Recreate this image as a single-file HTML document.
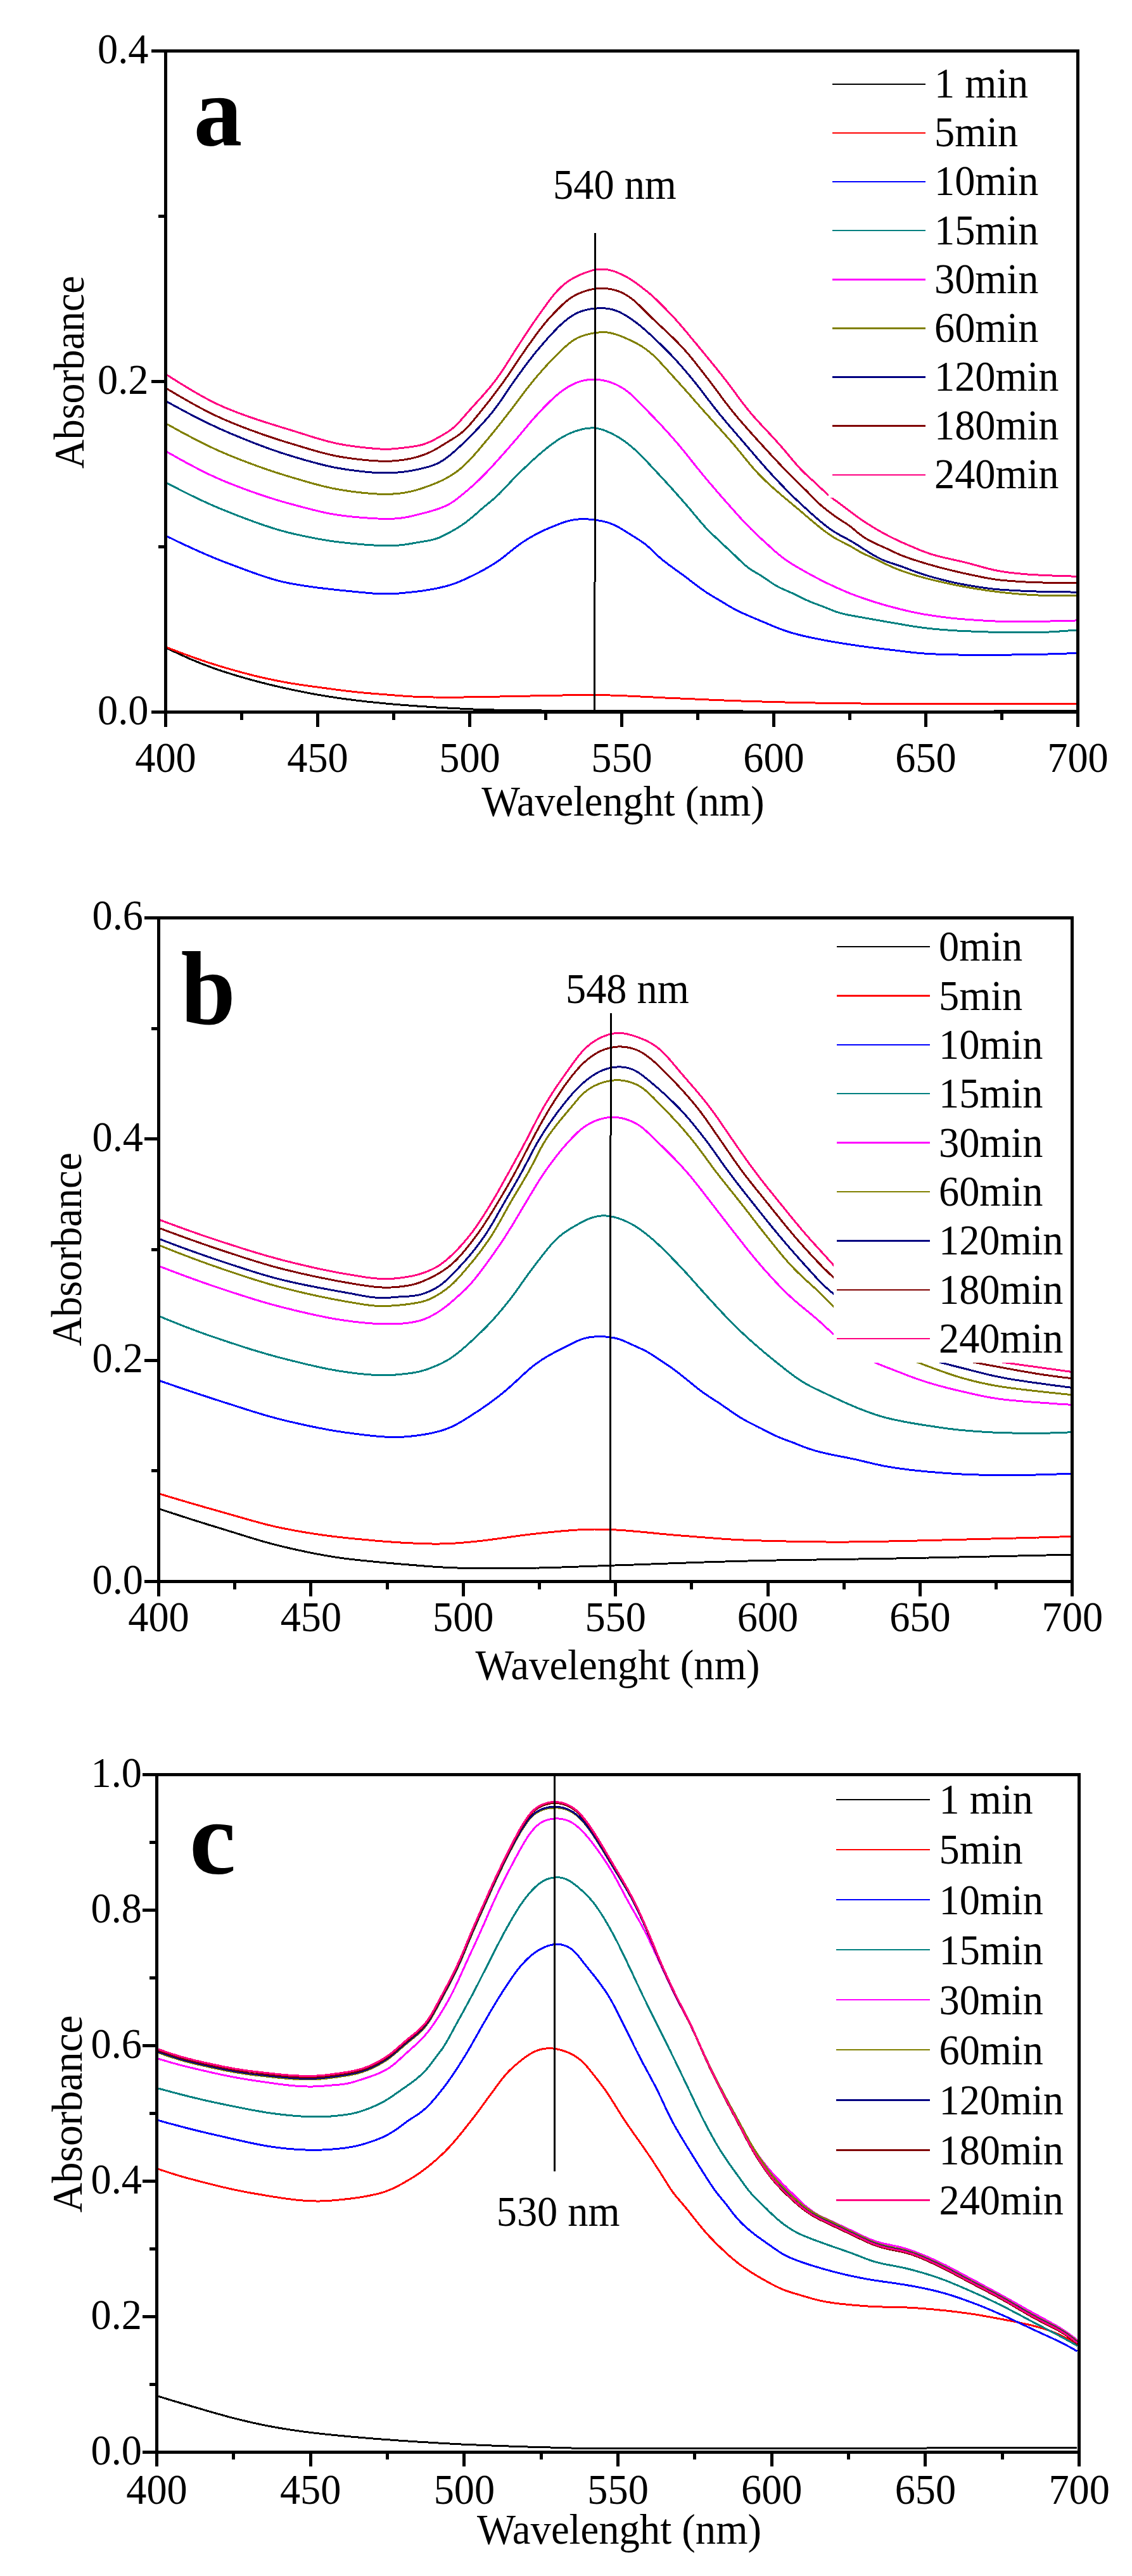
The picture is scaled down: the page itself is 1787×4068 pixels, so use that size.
<!DOCTYPE html>
<html><head><meta charset="utf-8"><title>UV-Vis absorbance spectra</title>
<style>
html,body{margin:0;padding:0;background:#fff;}
svg{display:block;}
text{font-family:"Liberation Serif","Times New Roman",serif;fill:#000;}
</style></head><body>
<svg width="1787" height="4068" viewBox="0 0 1787 4068" shape-rendering="crispEdges" font-family="Liberation Serif, Times New Roman, serif">
<rect width="1787" height="4068" fill="#fff"/>
<polyline points="262.0,1023.0 264.7,1024.3 267.4,1025.6 270.1,1026.9 272.8,1028.2 275.6,1029.4 278.3,1030.7 281.0,1032.0 283.7,1033.2 286.4,1034.5 289.2,1035.7 291.9,1036.9 294.7,1038.2 297.4,1039.4 300.2,1040.6 302.9,1041.7 305.7,1042.9 308.4,1044.1 311.2,1045.2 314.0,1046.3 316.8,1047.5 319.6,1048.6 322.4,1049.7 325.2,1050.7 328.0,1051.8 330.8,1052.8 333.6,1053.9 336.4,1054.9 339.3,1055.9 342.1,1056.9 344.9,1057.9 347.8,1058.8 350.6,1059.8 353.5,1060.7 356.3,1061.6 359.2,1062.5 362.0,1063.4 364.9,1064.3 367.8,1065.2 370.6,1066.1 373.5,1067.0 376.4,1067.8 379.3,1068.7 382.2,1069.5 385.0,1070.3 387.9,1071.2 390.8,1072.0 393.7,1072.8 396.6,1073.6 399.5,1074.4 402.4,1075.1 405.3,1075.9 408.2,1076.7 411.1,1077.4 414.0,1078.2 416.9,1078.9 419.8,1079.6 422.7,1080.4 425.6,1081.1 428.6,1081.8 431.5,1082.5 434.4,1083.2 437.3,1083.9 440.2,1084.6 443.2,1085.2 446.1,1085.9 449.0,1086.5 451.9,1087.2 454.9,1087.8 457.8,1088.5 460.7,1089.1 463.7,1089.7 466.6,1090.3 469.6,1090.9 472.5,1091.5 475.4,1092.1 478.4,1092.7 481.3,1093.3 484.3,1093.9 487.2,1094.4 490.2,1095.0 493.1,1095.6 496.1,1096.1 499.0,1096.6 502.0,1097.2 504.9,1097.7 507.9,1098.2 510.8,1098.7 513.8,1099.1 516.8,1099.6 519.7,1100.1 522.7,1100.5 525.7,1101.0 528.6,1101.4 531.6,1101.9 534.6,1102.3 537.5,1102.7 540.5,1103.2 543.5,1103.6 546.5,1104.0 549.4,1104.4 552.4,1104.8 555.4,1105.1 558.4,1105.5 561.3,1105.9 564.3,1106.2 567.3,1106.6 570.3,1106.9 573.3,1107.3 576.2,1107.6 579.2,1108.0 582.2,1108.3 585.2,1108.6 588.2,1108.9 591.2,1109.2 594.1,1109.6 597.1,1109.9 600.1,1110.1 603.1,1110.4 606.1,1110.7 609.1,1111.0 612.1,1111.3 615.0,1111.6 618.0,1111.8 621.0,1112.1 624.0,1112.3 627.0,1112.6 630.0,1112.8 633.0,1113.1 636.0,1113.3 639.0,1113.6 642.0,1113.8 645.0,1114.0 647.9,1114.3 650.9,1114.5 653.9,1114.7 656.9,1114.9 659.9,1115.1 662.9,1115.3 665.9,1115.5 668.9,1115.7 671.9,1115.9 674.9,1116.1 677.9,1116.3 680.9,1116.5 683.9,1116.7 686.9,1116.9 689.9,1117.1 692.9,1117.2 695.9,1117.4 698.8,1117.6 701.8,1117.7 704.8,1117.9 707.8,1118.1 710.8,1118.2 713.8,1118.4 716.8,1118.6 719.8,1118.7 722.8,1118.9 725.8,1119.0 728.8,1119.2 731.8,1119.4 734.8,1119.5 737.8,1119.6 740.8,1119.8 743.8,1119.9 746.8,1120.0 749.8,1120.2 752.8,1120.3 755.8,1120.4 758.8,1120.5 761.8,1120.6 764.8,1120.6 767.8,1120.7 770.8,1120.8 773.8,1120.8 776.8,1120.9 779.8,1121.0 782.8,1121.0 785.8,1121.1 788.8,1121.1 791.8,1121.2 794.8,1121.2 797.8,1121.3 800.8,1121.3 803.8,1121.4 806.8,1121.4 809.8,1121.5 812.8,1121.5 815.8,1121.6 818.8,1121.6 821.8,1121.6 824.8,1121.7 827.8,1121.7 830.8,1121.8 833.8,1121.8 836.8,1121.8 839.8,1121.8 842.8,1121.9 845.8,1121.9 848.8,1121.9 851.8,1121.9 854.8,1122.0 857.8,1122.0 860.8,1122.0 863.8,1122.0 866.8,1122.0 869.8,1122.0 872.8,1122.0 875.8,1122.1 878.8,1122.1 881.8,1122.1 884.8,1122.1 887.8,1122.1 890.8,1122.1 893.8,1122.1 896.8,1122.1 899.8,1122.1 902.8,1122.2 905.8,1122.2 908.8,1122.2 911.8,1122.2 914.8,1122.2 917.8,1122.2 920.8,1122.2 923.8,1122.2 926.8,1122.2 929.8,1122.3 932.8,1122.3 935.8,1122.3 938.8,1122.3 941.8,1122.3 944.8,1122.3 947.8,1122.3 950.8,1122.3 953.8,1122.3 956.8,1122.3 959.8,1122.4 962.8,1122.4 965.8,1122.4 968.8,1122.4 971.8,1122.4 974.8,1122.4 977.8,1122.4 980.8,1122.4 983.8,1122.4 986.8,1122.4 989.8,1122.5 992.8,1122.5 995.8,1122.5 998.8,1122.5 1001.8,1122.5 1004.8,1122.5 1007.8,1122.5 1010.8,1122.5 1013.8,1122.5 1016.8,1122.5 1019.8,1122.6 1022.8,1122.6 1025.8,1122.6 1028.8,1122.6 1031.8,1122.6 1034.8,1122.6 1037.8,1122.6 1040.8,1122.6 1043.8,1122.6 1046.8,1122.6 1049.8,1122.6 1052.8,1122.7 1055.8,1122.7 1058.8,1122.7 1061.8,1122.7 1064.8,1122.7 1067.8,1122.7 1070.9,1122.7 1073.9,1122.7 1076.9,1122.7 1079.9,1122.7 1082.9,1122.7 1085.9,1122.7 1088.9,1122.8 1091.9,1122.8 1094.9,1122.8 1097.9,1122.8 1100.9,1122.8 1103.9,1122.8 1106.9,1122.8 1109.9,1122.8 1112.9,1122.8 1115.9,1122.8 1118.9,1122.8 1121.9,1122.8 1124.9,1122.8 1127.9,1122.9 1130.9,1122.9 1133.9,1122.9 1136.9,1122.9 1139.9,1122.9 1142.9,1122.9 1145.9,1122.9 1148.9,1122.9 1151.9,1122.9 1154.9,1122.9 1157.9,1122.9 1160.9,1122.9 1163.9,1122.9 1166.9,1122.9 1169.9,1122.9 1172.9,1123.0 1175.9,1123.0 1178.9,1123.0 1181.9,1123.0 1184.9,1123.0 1187.9,1123.0 1190.9,1123.0 1193.9,1123.0 1196.9,1123.0 1199.9,1123.0 1202.9,1123.0 1205.9,1123.0 1208.9,1123.0 1211.9,1123.0 1214.9,1123.0 1217.9,1123.0 1220.9,1123.0 1223.9,1123.0 1226.9,1123.1 1229.9,1123.1 1232.9,1123.1 1235.9,1123.1 1238.9,1123.1 1241.9,1123.1 1244.9,1123.1 1247.9,1123.1 1250.9,1123.1 1253.9,1123.1 1256.9,1123.1 1259.9,1123.1 1262.9,1123.1 1265.9,1123.1 1268.9,1123.1 1271.9,1123.1 1274.9,1123.1 1277.9,1123.1 1280.9,1123.1 1283.9,1123.1 1286.9,1123.1 1289.9,1123.1 1292.9,1123.1 1295.9,1123.1 1298.9,1123.1 1301.9,1123.1 1304.9,1123.2 1307.9,1123.2 1310.9,1123.2 1313.9,1123.2 1316.9,1123.2 1319.9,1123.2 1322.9,1123.2 1325.9,1123.2 1328.9,1123.2 1331.9,1123.2 1334.9,1123.2 1337.9,1123.2 1340.9,1123.2 1343.9,1123.2 1346.9,1123.2 1349.9,1123.2 1352.9,1123.2 1355.9,1123.2 1358.9,1123.2 1361.9,1123.2 1364.9,1123.2 1367.9,1123.2 1370.9,1123.2 1373.9,1123.2 1376.9,1123.2 1379.9,1123.2 1382.9,1123.2 1385.9,1123.2 1388.9,1123.2 1391.9,1123.2 1394.9,1123.2 1397.9,1123.2 1400.9,1123.2 1403.9,1123.2 1406.9,1123.2 1409.9,1123.2 1412.9,1123.2 1415.9,1123.2 1418.9,1123.2 1421.9,1123.2 1424.9,1123.2 1427.9,1123.2 1430.9,1123.2 1433.9,1123.2 1436.9,1123.2 1439.9,1123.2 1442.9,1123.2 1445.9,1123.2 1448.9,1123.2 1451.9,1123.2 1454.9,1123.1 1457.9,1123.1 1460.9,1123.1 1463.9,1123.1 1466.9,1123.1 1469.9,1123.1 1472.9,1123.1 1475.9,1123.1 1478.9,1123.1 1481.9,1123.1 1484.9,1123.1 1488.0,1123.1 1491.0,1123.1 1494.0,1123.1 1497.0,1123.1 1500.0,1123.1 1503.0,1123.1 1506.0,1123.1 1509.0,1123.1 1512.0,1123.1 1515.0,1123.1 1518.0,1123.1 1521.0,1123.1 1524.0,1123.1 1527.0,1123.0 1530.0,1123.0 1533.0,1123.0 1536.0,1123.0 1539.0,1123.0 1542.0,1123.0 1545.0,1123.0 1548.0,1123.0 1551.0,1123.0 1554.0,1123.0 1557.0,1123.0 1560.0,1123.0 1563.0,1123.0 1566.0,1123.0 1569.0,1123.0 1572.0,1122.9 1575.0,1122.9 1578.0,1122.9 1581.0,1122.9 1584.0,1122.9 1587.0,1122.9 1590.0,1122.9 1593.0,1122.9 1596.0,1122.9 1599.0,1122.9 1602.0,1122.9 1605.0,1122.9 1608.0,1122.8 1611.0,1122.8 1614.0,1122.8 1617.0,1122.8 1620.0,1122.8 1623.0,1122.8 1626.0,1122.8 1629.0,1122.8 1632.0,1122.8 1635.0,1122.8 1638.0,1122.7 1641.0,1122.7 1644.0,1122.7 1647.0,1122.7 1650.0,1122.7 1653.0,1122.7 1656.0,1122.7 1659.0,1122.7 1662.0,1122.7 1665.0,1122.6 1668.0,1122.6 1671.0,1122.6 1674.0,1122.6 1677.0,1122.6 1680.0,1122.6 1683.0,1122.6 1686.0,1122.6 1689.0,1122.5 1692.0,1122.5 1695.0,1122.5 1698.0,1122.5 1699.0,1122.5" fill="none" stroke="#000000" stroke-width="3.0" stroke-linejoin="round" stroke-linecap="butt"/>
<polyline points="262.0,1021.8 264.8,1022.9 267.6,1024.0 270.4,1025.1 273.2,1026.2 276.0,1027.2 278.8,1028.3 281.6,1029.4 284.4,1030.5 287.2,1031.5 290.0,1032.6 292.8,1033.6 295.6,1034.7 298.4,1035.7 301.3,1036.7 304.1,1037.7 306.9,1038.7 309.7,1039.7 312.6,1040.7 315.4,1041.7 318.2,1042.7 321.1,1043.6 323.9,1044.6 326.8,1045.5 329.6,1046.5 332.5,1047.4 335.3,1048.3 338.2,1049.2 341.1,1050.1 343.9,1051.0 346.8,1051.9 349.7,1052.7 352.5,1053.6 355.4,1054.5 358.3,1055.3 361.2,1056.1 364.1,1057.0 367.0,1057.8 369.8,1058.6 372.7,1059.4 375.6,1060.2 378.5,1061.0 381.4,1061.8 384.3,1062.6 387.2,1063.4 390.1,1064.1 393.0,1064.9 395.9,1065.6 398.8,1066.4 401.7,1067.1 404.6,1067.8 407.6,1068.5 410.5,1069.2 413.4,1069.9 416.3,1070.5 419.3,1071.2 422.2,1071.8 425.1,1072.4 428.1,1073.1 431.0,1073.7 433.9,1074.3 436.9,1074.9 439.8,1075.5 442.8,1076.0 445.7,1076.6 448.7,1077.1 451.6,1077.7 454.6,1078.2 457.5,1078.7 460.5,1079.2 463.4,1079.7 466.4,1080.1 469.4,1080.6 472.3,1081.0 475.3,1081.5 478.3,1081.9 481.2,1082.3 484.2,1082.8 487.2,1083.2 490.2,1083.6 493.1,1084.0 496.1,1084.4 499.1,1084.8 502.0,1085.2 505.0,1085.6 508.0,1086.0 511.0,1086.4 513.9,1086.8 516.9,1087.2 519.9,1087.6 522.9,1088.0 525.8,1088.4 528.8,1088.8 531.8,1089.2 534.8,1089.6 537.7,1090.0 540.7,1090.3 543.7,1090.7 546.7,1091.1 549.6,1091.5 552.6,1091.8 555.6,1092.1 558.6,1092.5 561.6,1092.8 564.5,1093.1 567.5,1093.4 570.5,1093.7 573.5,1094.0 576.5,1094.2 579.5,1094.5 582.5,1094.8 585.5,1095.0 588.4,1095.3 591.4,1095.5 594.4,1095.7 597.4,1096.0 600.4,1096.2 603.4,1096.4 606.4,1096.7 609.4,1096.9 612.4,1097.1 615.4,1097.4 618.4,1097.6 621.3,1097.8 624.3,1098.1 627.3,1098.3 630.3,1098.5 633.3,1098.8 636.3,1099.0 639.3,1099.2 642.3,1099.4 645.3,1099.6 648.3,1099.8 651.3,1100.0 654.3,1100.1 657.3,1100.2 660.3,1100.4 663.3,1100.5 666.3,1100.6 669.3,1100.7 672.3,1100.7 675.3,1100.8 678.2,1100.9 681.2,1100.9 684.2,1101.0 687.2,1101.0 690.2,1101.1 693.2,1101.1 696.2,1101.1 699.2,1101.2 702.2,1101.2 705.2,1101.2 708.2,1101.2 711.2,1101.2 714.2,1101.2 717.2,1101.1 720.2,1101.1 723.2,1101.1 726.2,1101.0 729.2,1101.0 732.2,1101.0 735.2,1100.9 738.2,1100.9 741.2,1100.8 744.2,1100.8 747.2,1100.7 750.2,1100.7 753.2,1100.6 756.2,1100.6 759.2,1100.5 762.2,1100.5 765.2,1100.4 768.2,1100.4 771.2,1100.3 774.2,1100.3 777.2,1100.2 780.2,1100.2 783.2,1100.1 786.2,1100.0 789.2,1100.0 792.2,1099.9 795.2,1099.9 798.2,1099.8 801.2,1099.7 804.2,1099.7 807.2,1099.6 810.2,1099.5 813.2,1099.5 816.2,1099.4 819.2,1099.4 822.2,1099.3 825.2,1099.2 828.2,1099.2 831.2,1099.1 834.2,1099.0 837.2,1099.0 840.2,1098.9 843.2,1098.9 846.2,1098.8 849.2,1098.7 852.2,1098.7 855.2,1098.6 858.2,1098.6 861.2,1098.5 864.2,1098.5 867.2,1098.4 870.2,1098.3 873.2,1098.3 876.2,1098.2 879.2,1098.2 882.2,1098.1 885.2,1098.1 888.2,1098.0 891.2,1097.9 894.2,1097.9 897.2,1097.8 900.2,1097.8 903.2,1097.7 906.2,1097.7 909.2,1097.7 912.2,1097.6 915.2,1097.6 918.2,1097.6 921.2,1097.5 924.2,1097.5 927.2,1097.5 930.2,1097.5 933.2,1097.5 936.2,1097.5 939.2,1097.5 942.2,1097.6 945.2,1097.6 948.2,1097.6 951.2,1097.7 954.2,1097.8 957.2,1097.8 960.2,1097.9 963.2,1098.0 966.2,1098.1 969.2,1098.2 972.2,1098.3 975.2,1098.4 978.2,1098.5 981.2,1098.6 984.2,1098.7 987.2,1098.9 990.2,1099.0 993.2,1099.1 996.2,1099.3 999.2,1099.4 1002.2,1099.6 1005.2,1099.7 1008.2,1099.8 1011.2,1100.0 1014.2,1100.2 1017.2,1100.3 1020.2,1100.5 1023.2,1100.6 1026.2,1100.8 1029.2,1100.9 1032.1,1101.1 1035.1,1101.2 1038.1,1101.4 1041.1,1101.5 1044.1,1101.7 1047.1,1101.8 1050.1,1102.0 1053.1,1102.1 1056.1,1102.2 1059.1,1102.4 1062.1,1102.5 1065.1,1102.6 1068.1,1102.8 1071.1,1102.9 1074.1,1103.0 1077.1,1103.1 1080.1,1103.3 1083.1,1103.4 1086.1,1103.5 1089.1,1103.7 1092.1,1103.8 1095.1,1103.9 1098.1,1104.1 1101.1,1104.2 1104.1,1104.3 1107.1,1104.5 1110.1,1104.6 1113.1,1104.7 1116.1,1104.9 1119.1,1105.0 1122.1,1105.1 1125.1,1105.3 1128.1,1105.4 1131.1,1105.5 1134.1,1105.6 1137.0,1105.7 1140.0,1105.9 1143.0,1106.0 1146.0,1106.1 1149.0,1106.2 1152.0,1106.3 1155.0,1106.4 1158.0,1106.6 1161.0,1106.7 1164.0,1106.8 1167.0,1106.9 1170.0,1107.0 1173.0,1107.1 1176.0,1107.2 1179.0,1107.3 1182.0,1107.4 1185.0,1107.5 1188.0,1107.6 1191.0,1107.7 1194.0,1107.7 1197.0,1107.8 1200.0,1107.9 1203.0,1108.0 1206.0,1108.1 1209.0,1108.2 1212.0,1108.3 1215.0,1108.4 1218.0,1108.5 1221.0,1108.5 1224.0,1108.6 1227.0,1108.7 1230.0,1108.8 1233.0,1108.9 1236.0,1108.9 1239.0,1109.0 1242.0,1109.1 1245.0,1109.1 1248.0,1109.2 1251.0,1109.3 1254.0,1109.3 1257.0,1109.4 1260.0,1109.5 1263.0,1109.5 1266.0,1109.6 1269.0,1109.6 1272.0,1109.7 1275.0,1109.7 1278.0,1109.8 1281.0,1109.8 1284.0,1109.9 1287.0,1110.0 1290.0,1110.0 1293.0,1110.1 1296.0,1110.1 1299.0,1110.2 1302.0,1110.2 1305.0,1110.3 1308.0,1110.3 1311.0,1110.4 1314.0,1110.4 1317.0,1110.4 1320.0,1110.5 1323.0,1110.5 1326.0,1110.6 1329.0,1110.6 1332.0,1110.7 1335.0,1110.7 1338.0,1110.7 1341.0,1110.8 1344.0,1110.8 1347.0,1110.8 1350.0,1110.9 1353.0,1110.9 1356.0,1110.9 1359.0,1111.0 1362.0,1111.0 1365.0,1111.0 1368.0,1111.1 1371.0,1111.1 1374.0,1111.1 1377.0,1111.1 1380.0,1111.2 1383.0,1111.2 1386.0,1111.2 1389.0,1111.2 1392.0,1111.3 1395.0,1111.3 1398.0,1111.3 1401.0,1111.3 1404.0,1111.4 1407.0,1111.4 1410.0,1111.4 1413.0,1111.4 1416.0,1111.5 1419.0,1111.5 1422.0,1111.5 1425.0,1111.5 1428.0,1111.5 1431.0,1111.6 1434.0,1111.6 1437.0,1111.6 1440.0,1111.6 1443.0,1111.6 1446.0,1111.6 1449.0,1111.7 1452.0,1111.7 1455.0,1111.7 1458.0,1111.7 1461.0,1111.7 1464.0,1111.7 1467.0,1111.7 1470.0,1111.7 1473.0,1111.7 1476.0,1111.7 1479.0,1111.7 1482.0,1111.7 1485.0,1111.7 1488.0,1111.8 1491.0,1111.8 1494.0,1111.8 1497.0,1111.8 1500.0,1111.8 1503.0,1111.8 1506.0,1111.8 1509.0,1111.8 1512.0,1111.8 1515.0,1111.8 1518.0,1111.8 1521.0,1111.8 1524.0,1111.8 1527.0,1111.8 1530.0,1111.8 1533.0,1111.8 1536.0,1111.8 1539.0,1111.8 1542.0,1111.8 1545.0,1111.8 1548.0,1111.8 1551.0,1111.8 1554.0,1111.8 1557.0,1111.8 1560.0,1111.8 1563.0,1111.8 1566.0,1111.8 1569.0,1111.8 1572.0,1111.8 1575.0,1111.8 1578.0,1111.8 1581.0,1111.8 1584.0,1111.8 1587.0,1111.8 1590.0,1111.8 1593.0,1111.8 1596.0,1111.8 1599.0,1111.8 1602.0,1111.8 1605.0,1111.8 1608.0,1111.8 1611.0,1111.8 1614.0,1111.8 1617.0,1111.8 1620.0,1111.8 1623.0,1111.8 1626.0,1111.8 1629.0,1111.8 1632.0,1111.8 1635.0,1111.8 1638.0,1111.7 1641.0,1111.7 1644.0,1111.7 1647.0,1111.7 1650.0,1111.7 1653.0,1111.7 1656.0,1111.7 1659.0,1111.7 1662.0,1111.7 1665.0,1111.7 1668.0,1111.7 1671.0,1111.7 1674.0,1111.7 1677.0,1111.7 1680.0,1111.7 1683.0,1111.6 1686.0,1111.6 1689.0,1111.6 1692.0,1111.6 1695.0,1111.6 1698.0,1111.6 1699.0,1111.6" fill="none" stroke="#FF0000" stroke-width="3.0" stroke-linejoin="round" stroke-linecap="butt"/>
<polyline points="262.0,846.2 264.7,847.5 267.4,848.8 270.1,850.1 272.8,851.4 275.5,852.8 278.2,854.1 280.9,855.4 283.6,856.7 286.3,857.9 289.0,859.2 291.7,860.5 294.5,861.8 297.2,863.0 299.9,864.3 302.6,865.6 305.4,866.8 308.1,868.0 310.8,869.3 313.6,870.5 316.3,871.7 319.0,872.9 321.8,874.1 324.5,875.3 327.3,876.5 330.1,877.7 332.8,878.8 335.6,880.0 338.4,881.1 341.2,882.3 343.9,883.4 346.7,884.5 349.5,885.6 352.3,886.7 355.1,887.8 357.9,888.8 360.7,889.9 363.5,890.9 366.3,892.0 369.1,893.1 371.9,894.1 374.8,895.2 377.6,896.2 380.4,897.3 383.2,898.3 386.0,899.4 388.8,900.4 391.6,901.4 394.4,902.5 397.3,903.5 400.1,904.5 402.9,905.5 405.7,906.5 408.6,907.5 411.4,908.5 414.2,909.5 417.1,910.4 419.9,911.3 422.8,912.3 425.7,913.1 428.5,914.0 431.4,914.9 434.3,915.7 437.2,916.5 440.1,917.3 443.0,918.0 445.9,918.7 448.8,919.4 451.7,920.0 454.7,920.7 457.6,921.2 460.6,921.8 463.5,922.3 466.5,922.8 469.4,923.3 472.4,923.8 475.4,924.3 478.3,924.7 481.3,925.2 484.3,925.6 487.2,926.0 490.2,926.5 493.2,926.9 496.1,927.3 499.1,927.7 502.1,928.1 505.1,928.4 508.0,928.8 511.0,929.2 514.0,929.5 517.0,929.9 520.0,930.2 522.9,930.6 525.9,930.9 528.9,931.2 531.9,931.6 534.9,931.9 537.8,932.2 540.8,932.5 543.8,932.8 546.8,933.1 549.8,933.4 552.8,933.7 555.8,934.0 558.7,934.3 561.7,934.6 564.7,934.9 567.7,935.2 570.7,935.5 573.7,935.7 576.7,936.0 579.6,936.3 582.6,936.6 585.6,936.8 588.6,937.1 591.6,937.3 594.6,937.5 597.6,937.6 600.6,937.7 603.6,937.8 606.6,937.9 609.6,937.9 612.6,937.9 615.6,937.8 618.6,937.7 621.6,937.6 624.5,937.4 627.5,937.2 630.5,937.0 633.5,936.7 636.5,936.4 639.5,936.1 642.5,935.8 645.5,935.5 648.4,935.2 651.4,934.9 654.4,934.5 657.4,934.2 660.4,933.8 663.3,933.4 666.3,933.1 669.3,932.6 672.2,932.2 675.2,931.7 678.2,931.2 681.1,930.7 684.1,930.2 687.0,929.6 689.9,929.0 692.9,928.4 695.8,927.7 698.7,927.0 701.6,926.3 704.5,925.6 707.4,924.8 710.3,923.9 713.1,923.0 716.0,922.1 718.8,921.0 721.6,920.0 724.4,918.9 727.1,917.7 729.9,916.5 732.6,915.3 735.4,914.0 738.1,912.8 740.8,911.5 743.5,910.2 746.2,908.9 748.9,907.6 751.6,906.2 754.2,904.9 756.9,903.5 759.5,902.1 762.2,900.6 764.8,899.2 767.4,897.7 770.0,896.2 772.6,894.7 775.2,893.2 777.7,891.6 780.3,890.0 782.8,888.4 785.3,886.7 787.7,885.0 790.2,883.3 792.6,881.5 795.0,879.7 797.3,877.8 799.6,875.9 801.9,874.0 804.3,872.1 806.6,870.2 808.9,868.3 811.2,866.4 813.6,864.6 816.0,862.8 818.4,861.0 820.8,859.2 823.3,857.5 825.8,855.8 828.3,854.2 830.8,852.6 833.3,851.0 835.9,849.5 838.5,847.9 841.1,846.5 843.7,845.0 846.4,843.6 849.0,842.2 851.7,840.9 854.4,839.6 857.1,838.3 859.8,837.0 862.6,835.8 865.3,834.6 868.1,833.4 870.8,832.3 873.6,831.1 876.4,830.0 879.2,828.9 882.0,827.8 884.8,826.7 887.6,825.7 890.4,824.7 893.3,823.8 896.1,823.0 899.0,822.2 901.9,821.5 904.8,821.0 907.8,820.5 910.7,820.2 913.7,819.9 916.7,819.8 919.7,819.7 922.7,819.7 925.6,819.8 928.6,820.0 931.6,820.2 934.6,820.5 937.6,820.9 940.5,821.2 943.5,821.7 946.5,822.2 949.4,822.7 952.3,823.3 955.2,824.0 958.1,824.8 960.9,825.7 963.8,826.7 966.5,827.8 969.3,829.0 972.0,830.2 974.6,831.6 977.3,833.0 979.9,834.5 982.4,836.0 985.0,837.6 987.5,839.2 990.1,840.8 992.6,842.4 995.1,844.0 997.7,845.5 1000.2,847.1 1002.8,848.7 1005.3,850.3 1007.8,851.9 1010.4,853.6 1012.8,855.2 1015.3,857.0 1017.7,858.7 1020.0,860.6 1022.3,862.5 1024.5,864.5 1026.8,866.5 1028.9,868.6 1031.1,870.6 1033.2,872.7 1035.4,874.8 1037.6,876.8 1039.8,878.9 1042.0,880.9 1044.3,882.8 1046.6,884.7 1048.9,886.6 1051.3,888.4 1053.7,890.3 1056.1,892.1 1058.5,893.9 1060.9,895.6 1063.3,897.4 1065.7,899.2 1068.2,900.9 1070.6,902.6 1073.1,904.4 1075.5,906.2 1077.9,907.9 1080.3,909.7 1082.7,911.5 1085.1,913.3 1087.5,915.1 1089.9,917.0 1092.3,918.8 1094.6,920.6 1097.0,922.4 1099.4,924.2 1101.8,926.0 1104.2,927.8 1106.7,929.6 1109.1,931.3 1111.6,933.0 1114.0,934.7 1116.5,936.4 1119.1,938.0 1121.6,939.6 1124.2,941.1 1126.7,942.7 1129.3,944.2 1131.9,945.7 1134.5,947.2 1137.1,948.7 1139.6,950.3 1142.2,951.9 1144.8,953.4 1147.3,955.0 1149.9,956.5 1152.5,958.1 1155.1,959.5 1157.7,961.0 1160.3,962.4 1163.0,963.8 1165.7,965.1 1168.4,966.4 1171.1,967.7 1173.8,968.9 1176.5,970.1 1179.3,971.3 1182.0,972.5 1184.8,973.7 1187.6,974.9 1190.3,976.1 1193.1,977.2 1195.9,978.4 1198.6,979.6 1201.4,980.7 1204.2,981.9 1206.9,983.0 1209.7,984.2 1212.4,985.4 1215.2,986.5 1218.0,987.7 1220.7,988.9 1223.5,990.0 1226.3,991.1 1229.1,992.2 1231.9,993.3 1234.7,994.3 1237.5,995.4 1240.3,996.3 1243.2,997.3 1246.0,998.2 1248.9,999.1 1251.8,999.9 1254.7,1000.7 1257.6,1001.5 1260.5,1002.2 1263.4,1003.0 1266.3,1003.7 1269.2,1004.4 1272.1,1005.1 1275.1,1005.7 1278.0,1006.4 1280.9,1007.0 1283.9,1007.6 1286.8,1008.2 1289.7,1008.8 1292.7,1009.4 1295.6,1010.0 1298.6,1010.5 1301.5,1011.1 1304.5,1011.6 1307.4,1012.2 1310.4,1012.7 1313.3,1013.2 1316.3,1013.7 1319.3,1014.2 1322.2,1014.7 1325.2,1015.2 1328.1,1015.7 1331.1,1016.2 1334.1,1016.6 1337.0,1017.1 1340.0,1017.6 1342.9,1018.0 1345.9,1018.5 1348.9,1018.9 1351.8,1019.3 1354.8,1019.8 1357.8,1020.2 1360.8,1020.6 1363.7,1021.0 1366.7,1021.4 1369.7,1021.8 1372.7,1022.2 1375.6,1022.5 1378.6,1022.9 1381.6,1023.3 1384.6,1023.7 1387.5,1024.0 1390.5,1024.4 1393.5,1024.7 1396.5,1025.1 1399.5,1025.4 1402.4,1025.8 1405.4,1026.1 1408.4,1026.5 1411.4,1026.8 1414.4,1027.2 1417.3,1027.6 1420.3,1027.9 1423.3,1028.3 1426.3,1028.7 1429.2,1029.0 1432.2,1029.4 1435.2,1029.7 1438.2,1030.1 1441.2,1030.4 1444.1,1030.7 1447.1,1031.0 1450.1,1031.3 1453.1,1031.6 1456.1,1031.8 1459.1,1032.0 1462.1,1032.2 1465.1,1032.4 1468.1,1032.5 1471.1,1032.7 1474.1,1032.8 1477.1,1033.0 1480.1,1033.1 1483.1,1033.2 1486.0,1033.3 1489.0,1033.4 1492.0,1033.5 1495.0,1033.6 1498.0,1033.7 1501.0,1033.8 1504.0,1033.8 1507.0,1033.9 1510.0,1033.9 1513.0,1034.0 1516.0,1034.0 1519.0,1034.0 1522.0,1034.1 1525.0,1034.1 1528.0,1034.1 1531.0,1034.1 1534.0,1034.1 1537.0,1034.1 1540.0,1034.2 1543.0,1034.2 1546.0,1034.2 1549.0,1034.2 1552.0,1034.2 1555.0,1034.2 1558.0,1034.2 1561.0,1034.2 1564.0,1034.2 1567.0,1034.2 1570.0,1034.1 1573.0,1034.1 1576.0,1034.1 1579.0,1034.1 1582.0,1034.1 1585.0,1034.1 1588.0,1034.0 1591.0,1034.0 1594.0,1034.0 1597.0,1034.0 1600.0,1033.9 1603.0,1033.9 1606.0,1033.9 1609.0,1033.8 1612.0,1033.8 1615.0,1033.7 1618.0,1033.7 1621.0,1033.6 1624.0,1033.6 1627.0,1033.6 1630.0,1033.5 1633.0,1033.4 1636.0,1033.4 1639.0,1033.3 1642.0,1033.3 1645.0,1033.2 1648.0,1033.1 1651.0,1033.1 1654.0,1033.0 1657.0,1032.9 1660.0,1032.8 1663.0,1032.7 1666.0,1032.6 1669.0,1032.5 1672.0,1032.4 1675.0,1032.3 1678.0,1032.2 1681.0,1032.1 1684.0,1032.0 1687.0,1031.9 1690.0,1031.8 1693.0,1031.6 1696.0,1031.5 1699.0,1031.4" fill="none" stroke="#0000FF" stroke-width="3.0" stroke-linejoin="round" stroke-linecap="butt"/>
<polyline points="262.0,762.1 264.7,763.5 267.3,764.9 270.0,766.2 272.7,767.6 275.3,769.0 278.0,770.4 280.7,771.7 283.3,773.1 286.0,774.5 288.7,775.8 291.4,777.2 294.1,778.5 296.7,779.8 299.4,781.2 302.1,782.5 304.8,783.8 307.5,785.1 310.2,786.4 312.9,787.7 315.7,789.0 318.4,790.3 321.1,791.5 323.8,792.8 326.5,794.0 329.3,795.3 332.0,796.5 334.8,797.7 337.5,798.9 340.3,800.1 343.0,801.3 345.8,802.5 348.6,803.6 351.3,804.8 354.1,805.9 356.9,807.0 359.7,808.1 362.5,809.2 365.3,810.3 368.1,811.4 370.8,812.5 373.6,813.6 376.4,814.7 379.2,815.8 382.1,816.8 384.9,817.9 387.7,819.0 390.5,820.0 393.3,821.1 396.1,822.1 398.9,823.2 401.7,824.2 404.5,825.2 407.4,826.2 410.2,827.2 413.0,828.2 415.9,829.2 418.7,830.2 421.6,831.1 424.4,832.0 427.3,833.0 430.1,833.9 433.0,834.8 435.9,835.6 438.7,836.5 441.6,837.3 444.5,838.1 447.4,838.9 450.3,839.7 453.2,840.5 456.1,841.2 459.0,841.9 461.9,842.6 464.9,843.3 467.8,843.9 470.7,844.6 473.6,845.2 476.6,845.9 479.5,846.5 482.5,847.1 485.4,847.7 488.3,848.3 491.3,848.9 494.2,849.5 497.2,850.1 500.1,850.6 503.1,851.2 506.0,851.7 509.0,852.2 511.9,852.7 514.9,853.2 517.9,853.7 520.8,854.1 523.8,854.6 526.8,855.0 529.7,855.4 532.7,855.8 535.7,856.1 538.7,856.5 541.7,856.8 544.6,857.1 547.6,857.5 550.6,857.8 553.6,858.1 556.6,858.4 559.6,858.7 562.6,858.9 565.5,859.2 568.5,859.5 571.5,859.7 574.5,860.0 577.5,860.2 580.5,860.4 583.5,860.6 586.5,860.8 589.5,861.0 592.5,861.2 595.5,861.3 598.5,861.5 601.5,861.6 604.5,861.7 607.5,861.7 610.5,861.8 613.5,861.8 616.5,861.7 619.5,861.6 622.4,861.5 625.4,861.3 628.4,861.1 631.4,860.9 634.4,860.6 637.4,860.2 640.3,859.8 643.3,859.4 646.3,858.9 649.2,858.4 652.2,857.9 655.1,857.3 658.1,856.8 661.0,856.3 664.0,855.8 666.9,855.3 669.9,854.8 672.9,854.4 675.8,853.8 678.7,853.3 681.6,852.6 684.5,851.9 687.4,851.1 690.2,850.1 693.0,849.1 695.7,847.9 698.4,846.7 701.1,845.4 703.8,844.0 706.4,842.6 709.1,841.2 711.7,839.8 714.3,838.3 716.9,836.8 719.5,835.3 722.1,833.8 724.6,832.2 727.1,830.6 729.6,828.9 732.1,827.1 734.5,825.4 736.9,823.6 739.2,821.7 741.6,819.9 743.9,818.0 746.2,816.1 748.5,814.1 750.8,812.2 753.0,810.2 755.3,808.2 757.5,806.2 759.8,804.2 762.1,802.3 764.3,800.3 766.6,798.4 768.9,796.5 771.3,794.6 773.6,792.7 775.9,790.8 778.2,788.8 780.4,786.9 782.7,784.9 784.9,782.9 787.1,780.8 789.2,778.7 791.3,776.6 793.4,774.4 795.5,772.3 797.5,770.1 799.6,767.9 801.6,765.7 803.7,763.5 805.7,761.3 807.8,759.1 809.9,756.9 811.9,754.8 814.0,752.6 816.2,750.5 818.3,748.4 820.4,746.3 822.6,744.2 824.7,742.1 826.9,740.1 829.1,738.0 831.3,735.9 833.4,733.9 835.6,731.8 837.8,729.8 840.0,727.7 842.2,725.7 844.5,723.7 846.7,721.7 848.9,719.7 851.2,717.7 853.5,715.7 855.7,713.8 858.0,711.9 860.4,710.0 862.7,708.1 865.0,706.2 867.4,704.4 869.8,702.5 872.2,700.8 874.6,699.0 877.1,697.3 879.5,695.6 882.0,693.9 884.6,692.3 887.1,690.8 889.7,689.3 892.4,687.9 895.0,686.5 897.7,685.2 900.4,684.0 903.2,682.9 906.0,681.8 908.8,680.8 911.7,679.9 914.5,679.1 917.4,678.3 920.3,677.6 923.3,677.0 926.2,676.6 929.1,676.2 932.1,676.0 935.0,675.9 938.0,676.0 940.9,676.3 943.8,676.7 946.7,677.4 949.5,678.1 952.4,679.0 955.2,680.1 957.9,681.2 960.7,682.4 963.4,683.6 966.1,684.9 968.7,686.3 971.4,687.7 974.0,689.2 976.6,690.7 979.1,692.3 981.6,693.9 984.1,695.6 986.5,697.3 989.0,699.1 991.3,700.9 993.7,702.8 996.0,704.7 998.3,706.6 1000.6,708.6 1002.8,710.6 1005.0,712.6 1007.2,714.7 1009.3,716.8 1011.4,718.9 1013.5,721.0 1015.6,723.2 1017.7,725.3 1019.8,727.5 1021.9,729.7 1023.9,731.8 1026.0,734.0 1028.0,736.2 1030.1,738.4 1032.1,740.6 1034.2,742.8 1036.2,745.0 1038.3,747.2 1040.3,749.4 1042.4,751.6 1044.4,753.8 1046.4,756.0 1048.5,758.2 1050.5,760.4 1052.5,762.6 1054.6,764.8 1056.6,767.0 1058.6,769.3 1060.6,771.5 1062.6,773.7 1064.6,776.0 1066.6,778.2 1068.6,780.5 1070.6,782.7 1072.6,785.0 1074.5,787.2 1076.5,789.5 1078.5,791.7 1080.5,794.0 1082.4,796.2 1084.4,798.5 1086.4,800.8 1088.3,803.1 1090.3,805.4 1092.2,807.6 1094.1,809.9 1096.0,812.3 1098.0,814.6 1099.9,816.9 1101.8,819.2 1103.7,821.5 1105.7,823.8 1107.6,826.1 1109.6,828.3 1111.6,830.6 1113.6,832.8 1115.6,835.0 1117.7,837.1 1119.8,839.3 1121.9,841.4 1124.1,843.4 1126.3,845.5 1128.5,847.5 1130.7,849.6 1132.9,851.6 1135.1,853.7 1137.2,855.7 1139.4,857.8 1141.6,859.9 1143.8,861.9 1145.9,864.0 1148.1,866.0 1150.3,868.1 1152.5,870.1 1154.7,872.1 1156.9,874.2 1159.1,876.2 1161.3,878.3 1163.5,880.4 1165.6,882.5 1167.7,884.6 1169.9,886.7 1172.1,888.7 1174.2,890.8 1176.5,892.7 1178.8,894.6 1181.1,896.5 1183.5,898.2 1186.0,899.9 1188.5,901.4 1191.1,903.0 1193.7,904.5 1196.2,906.0 1198.8,907.5 1201.4,909.1 1203.9,910.7 1206.4,912.4 1208.9,914.0 1211.3,915.7 1213.8,917.5 1216.3,919.2 1218.7,920.8 1221.2,922.5 1223.8,924.0 1226.4,925.6 1229.0,927.0 1231.6,928.3 1234.3,929.6 1237.1,930.9 1239.8,932.0 1242.6,933.2 1245.3,934.4 1248.1,935.6 1250.8,936.8 1253.5,938.1 1256.2,939.4 1258.9,940.7 1261.6,942.1 1264.2,943.4 1266.9,944.7 1269.6,946.0 1272.3,947.3 1275.1,948.5 1277.8,949.7 1280.6,950.8 1283.4,951.9 1286.2,953.0 1289.0,954.0 1291.8,955.1 1294.6,956.2 1297.4,957.2 1300.2,958.3 1303.0,959.4 1305.8,960.5 1308.6,961.7 1311.3,962.8 1314.1,963.9 1316.9,965.0 1319.7,966.0 1322.6,966.9 1325.4,967.8 1328.3,968.6 1331.2,969.4 1334.1,970.0 1337.1,970.7 1340.0,971.3 1342.9,971.8 1345.9,972.4 1348.8,972.9 1351.8,973.4 1354.7,974.0 1357.7,974.5 1360.7,975.0 1363.6,975.5 1366.6,976.1 1369.5,976.6 1372.5,977.1 1375.4,977.6 1378.4,978.2 1381.3,978.7 1384.3,979.2 1387.3,979.7 1390.2,980.2 1393.2,980.8 1396.1,981.3 1399.1,981.8 1402.0,982.3 1405.0,982.8 1407.9,983.3 1410.9,983.8 1413.9,984.3 1416.8,984.8 1419.8,985.4 1422.7,985.9 1425.7,986.4 1428.6,986.9 1431.6,987.4 1434.6,987.9 1437.5,988.4 1440.5,988.9 1443.4,989.4 1446.4,989.8 1449.4,990.3 1452.4,990.7 1455.3,991.1 1458.3,991.5 1461.3,991.8 1464.3,992.2 1467.2,992.5 1470.2,992.8 1473.2,993.1 1476.2,993.4 1479.2,993.7 1482.2,993.9 1485.2,994.2 1488.2,994.4 1491.1,994.7 1494.1,994.9 1497.1,995.1 1500.1,995.3 1503.1,995.5 1506.1,995.7 1509.1,995.9 1512.1,996.1 1515.1,996.2 1518.1,996.4 1521.1,996.5 1524.1,996.7 1527.1,996.8 1530.1,996.9 1533.1,997.0 1536.1,997.1 1539.1,997.3 1542.1,997.4 1545.1,997.5 1548.1,997.6 1551.1,997.7 1554.1,997.8 1557.1,997.9 1560.1,998.0 1563.1,998.1 1566.1,998.1 1569.1,998.2 1572.1,998.3 1575.1,998.3 1578.1,998.4 1581.1,998.5 1584.1,998.5 1587.1,998.5 1590.1,998.6 1593.1,998.6 1596.1,998.6 1599.1,998.7 1602.1,998.7 1605.1,998.7 1608.1,998.7 1611.1,998.7 1614.1,998.7 1617.1,998.7 1620.1,998.7 1623.1,998.7 1626.1,998.6 1629.1,998.6 1632.1,998.6 1635.1,998.6 1638.1,998.5 1641.1,998.4 1644.1,998.4 1647.1,998.3 1650.1,998.2 1653.1,998.1 1656.1,998.0 1659.1,997.8 1662.1,997.7 1665.1,997.5 1668.1,997.3 1671.1,997.1 1674.1,996.9 1677.1,996.7 1680.1,996.5 1683.0,996.3 1686.0,996.0 1689.0,995.8 1692.0,995.6 1695.0,995.3 1698.0,995.1 1699.0,995.0" fill="none" stroke="#008080" stroke-width="3.0" stroke-linejoin="round" stroke-linecap="butt"/>
<polyline points="262.0,712.7 264.6,714.2 267.2,715.7 269.8,717.1 272.4,718.6 275.1,720.1 277.7,721.6 280.3,723.0 282.9,724.5 285.5,725.9 288.2,727.4 290.8,728.8 293.4,730.3 296.1,731.7 298.7,733.1 301.4,734.5 304.0,735.9 306.7,737.3 309.3,738.7 312.0,740.1 314.7,741.5 317.3,742.8 320.0,744.2 322.7,745.5 325.4,746.8 328.1,748.2 330.8,749.5 333.5,750.7 336.2,752.0 339.0,753.3 341.7,754.5 344.4,755.7 347.2,756.9 349.9,758.1 352.7,759.3 355.5,760.5 358.2,761.6 361.0,762.7 363.8,763.8 366.6,764.9 369.4,766.0 372.2,767.1 375.0,768.2 377.8,769.2 380.6,770.3 383.4,771.4 386.2,772.4 389.0,773.4 391.9,774.5 394.7,775.5 397.5,776.5 400.3,777.5 403.2,778.5 406.0,779.5 408.8,780.4 411.7,781.4 414.5,782.4 417.4,783.3 420.2,784.3 423.1,785.2 425.9,786.1 428.8,787.0 431.6,787.9 434.5,788.8 437.4,789.7 440.3,790.5 443.1,791.4 446.0,792.2 448.9,793.0 451.8,793.9 454.7,794.7 457.6,795.5 460.5,796.3 463.4,797.0 466.3,797.8 469.2,798.6 472.1,799.4 475.0,800.1 477.9,800.9 480.8,801.7 483.7,802.4 486.6,803.2 489.5,803.9 492.4,804.7 495.3,805.4 498.2,806.1 501.1,806.8 504.0,807.5 507.0,808.2 509.9,808.9 512.8,809.5 515.8,810.1 518.7,810.7 521.6,811.3 524.6,811.8 527.5,812.3 530.5,812.8 533.5,813.3 536.4,813.7 539.4,814.1 542.4,814.5 545.4,814.8 548.3,815.2 551.3,815.5 554.3,815.8 557.3,816.1 560.3,816.4 563.3,816.7 566.3,816.9 569.2,817.2 572.2,817.4 575.2,817.7 578.2,817.9 581.2,818.1 584.2,818.3 587.2,818.5 590.2,818.7 593.2,818.8 596.2,819.0 599.2,819.1 602.2,819.2 605.2,819.3 608.2,819.3 611.2,819.4 614.2,819.3 617.2,819.3 620.2,819.1 623.2,819.0 626.1,818.8 629.1,818.5 632.1,818.2 635.1,817.8 638.0,817.4 641.0,816.9 643.9,816.3 646.9,815.7 649.8,815.0 652.7,814.4 655.6,813.6 658.5,812.9 661.4,812.2 664.3,811.5 667.2,810.7 670.2,810.0 673.1,809.2 676.0,808.4 678.8,807.6 681.7,806.8 684.6,805.9 687.5,805.0 690.3,804.1 693.1,803.1 695.9,802.1 698.7,801.0 701.5,799.8 704.2,798.6 706.9,797.3 709.5,795.9 712.0,794.4 714.5,792.7 717.0,791.1 719.4,789.3 721.8,787.5 724.1,785.6 726.5,783.8 728.8,781.9 731.1,780.0 733.4,778.1 735.7,776.2 738.0,774.2 740.3,772.3 742.6,770.3 744.8,768.3 747.1,766.3 749.3,764.3 751.5,762.3 753.7,760.2 755.8,758.1 758.0,756.0 760.1,753.9 762.2,751.8 764.4,749.7 766.5,747.5 768.5,745.4 770.6,743.2 772.7,741.0 774.7,738.8 776.7,736.6 778.8,734.4 780.8,732.2 782.8,730.0 784.8,727.8 786.8,725.5 788.8,723.3 790.8,721.1 792.8,718.8 794.8,716.6 796.8,714.3 798.8,712.1 800.8,709.8 802.8,707.6 804.7,705.3 806.7,703.0 808.7,700.8 810.6,698.5 812.6,696.2 814.6,694.0 816.5,691.7 818.4,689.4 820.4,687.1 822.3,684.8 824.2,682.5 826.1,680.2 828.0,677.9 830.0,675.6 831.9,673.3 833.8,671.0 835.8,668.7 837.7,666.4 839.7,664.1 841.7,661.9 843.6,659.6 845.6,657.4 847.7,655.2 849.7,652.9 851.7,650.8 853.8,648.6 855.9,646.4 857.9,644.2 860.0,642.1 862.1,640.0 864.3,637.8 866.4,635.7 868.5,633.6 870.7,631.5 872.9,629.5 875.1,627.5 877.3,625.5 879.6,623.5 881.9,621.6 884.2,619.7 886.6,617.9 889.0,616.1 891.5,614.4 894.0,612.8 896.5,611.2 899.1,609.7 901.7,608.3 904.4,606.9 907.1,605.7 909.8,604.5 912.6,603.5 915.4,602.5 918.3,601.7 921.2,601.0 924.1,600.4 927.0,599.9 930.0,599.5 932.9,599.3 935.9,599.2 938.9,599.2 941.8,599.4 944.8,599.6 947.8,600.0 950.7,600.5 953.6,601.0 956.5,601.7 959.4,602.4 962.3,603.3 965.1,604.2 967.9,605.3 970.6,606.4 973.4,607.7 976.0,609.0 978.6,610.4 981.2,611.9 983.8,613.5 986.2,615.1 988.7,616.9 991.1,618.7 993.4,620.5 995.7,622.5 997.9,624.5 1000.1,626.5 1002.3,628.5 1004.4,630.6 1006.6,632.8 1008.7,634.9 1010.8,637.1 1012.8,639.2 1014.9,641.4 1017.0,643.5 1019.1,645.7 1021.2,647.9 1023.2,650.0 1025.3,652.2 1027.4,654.3 1029.5,656.5 1031.6,658.6 1033.7,660.8 1035.7,663.0 1037.8,665.2 1039.9,667.3 1041.9,669.5 1044.0,671.7 1046.0,673.9 1048.0,676.1 1050.1,678.3 1052.1,680.6 1054.1,682.8 1056.1,685.0 1058.1,687.2 1060.1,689.5 1062.1,691.7 1064.1,694.0 1066.0,696.3 1068.0,698.5 1070.0,700.8 1071.9,703.1 1073.8,705.4 1075.7,707.7 1077.6,710.0 1079.5,712.3 1081.4,714.7 1083.3,717.0 1085.2,719.4 1087.0,721.7 1088.9,724.1 1090.8,726.4 1092.6,728.8 1094.5,731.1 1096.4,733.5 1098.2,735.8 1100.1,738.2 1102.0,740.5 1103.9,742.8 1105.8,745.2 1107.7,747.5 1109.6,749.8 1111.5,752.1 1113.4,754.4 1115.3,756.7 1117.3,759.0 1119.2,761.3 1121.2,763.6 1123.1,765.9 1125.1,768.1 1127.0,770.4 1129.0,772.7 1130.9,775.0 1132.9,777.2 1134.9,779.5 1136.8,781.8 1138.8,784.0 1140.8,786.3 1142.8,788.5 1144.7,790.8 1146.7,793.0 1148.7,795.3 1150.7,797.5 1152.7,799.8 1154.7,802.0 1156.7,804.3 1158.7,806.5 1160.7,808.8 1162.6,811.0 1164.7,813.2 1166.7,815.5 1168.7,817.7 1170.7,819.9 1172.7,822.1 1174.8,824.3 1176.8,826.5 1178.9,828.7 1181.0,830.8 1183.1,832.9 1185.2,835.1 1187.4,837.2 1189.5,839.3 1191.7,841.4 1193.8,843.4 1196.0,845.5 1198.2,847.5 1200.4,849.6 1202.6,851.6 1204.8,853.6 1207.0,855.7 1209.2,857.7 1211.5,859.7 1213.7,861.7 1215.9,863.8 1218.1,865.8 1220.4,867.8 1222.6,869.8 1224.8,871.8 1227.1,873.7 1229.4,875.7 1231.7,877.5 1234.1,879.4 1236.5,881.2 1238.9,883.0 1241.3,884.7 1243.8,886.4 1246.3,888.1 1248.8,889.7 1251.3,891.3 1253.9,892.8 1256.5,894.4 1259.1,895.9 1261.7,897.4 1264.3,898.9 1266.9,900.4 1269.5,901.8 1272.1,903.3 1274.7,904.8 1277.4,906.2 1280.0,907.7 1282.6,909.1 1285.3,910.5 1287.9,911.9 1290.6,913.3 1293.2,914.7 1295.9,916.1 1298.6,917.5 1301.3,918.8 1303.9,920.1 1306.6,921.4 1309.4,922.7 1312.1,924.0 1314.8,925.3 1317.5,926.5 1320.2,927.8 1323.0,929.0 1325.7,930.2 1328.5,931.4 1331.2,932.6 1334.0,933.8 1336.7,935.0 1339.5,936.1 1342.3,937.3 1345.1,938.4 1347.9,939.4 1350.7,940.5 1353.5,941.5 1356.3,942.5 1359.2,943.5 1362.0,944.5 1364.8,945.5 1367.7,946.4 1370.5,947.4 1373.4,948.3 1376.2,949.3 1379.1,950.2 1381.9,951.1 1384.8,952.0 1387.7,952.8 1390.6,953.7 1393.4,954.5 1396.3,955.4 1399.2,956.2 1402.1,957.0 1405.0,957.8 1407.9,958.6 1410.8,959.3 1413.7,960.1 1416.6,960.8 1419.5,961.6 1422.4,962.3 1425.3,963.0 1428.2,963.7 1431.2,964.4 1434.1,965.1 1437.0,965.7 1439.9,966.4 1442.9,967.0 1445.8,967.6 1448.8,968.2 1451.7,968.8 1454.6,969.3 1457.6,969.9 1460.6,970.4 1463.5,970.8 1466.5,971.3 1469.4,971.8 1472.4,972.2 1475.4,972.6 1478.4,973.1 1481.3,973.5 1484.3,973.9 1487.3,974.3 1490.3,974.7 1493.2,975.0 1496.2,975.4 1499.2,975.8 1502.2,976.1 1505.2,976.4 1508.1,976.7 1511.1,977.0 1514.1,977.3 1517.1,977.5 1520.1,977.8 1523.1,978.0 1526.1,978.3 1529.1,978.5 1532.1,978.7 1535.0,978.9 1538.0,979.1 1541.0,979.3 1544.0,979.5 1547.0,979.7 1550.0,979.9 1553.0,980.1 1556.0,980.3 1559.0,980.4 1562.0,980.6 1565.0,980.7 1568.0,980.9 1571.0,981.0 1574.0,981.1 1577.0,981.1 1580.0,981.2 1583.0,981.3 1586.0,981.3 1589.0,981.3 1592.0,981.4 1595.0,981.4 1598.0,981.4 1601.0,981.4 1604.0,981.4 1607.0,981.5 1610.0,981.5 1613.0,981.5 1616.0,981.5 1619.0,981.5 1622.0,981.4 1625.0,981.4 1628.0,981.4 1631.0,981.4 1634.0,981.4 1637.0,981.3 1640.0,981.3 1643.0,981.3 1646.0,981.2 1649.0,981.2 1652.0,981.1 1655.0,981.1 1658.0,981.0 1661.0,980.9 1664.0,980.9 1667.0,980.8 1670.0,980.7 1673.0,980.6 1676.0,980.6 1679.0,980.5 1682.0,980.4 1685.0,980.3 1688.0,980.2 1691.0,980.1 1694.0,980.1 1697.0,980.0 1699.0,979.9" fill="none" stroke="#FF00FF" stroke-width="3.0" stroke-linejoin="round" stroke-linecap="butt"/>
<polyline points="262.0,668.8 264.6,670.3 267.2,671.7 269.9,673.2 272.5,674.6 275.1,676.1 277.7,677.5 280.4,679.0 283.0,680.4 285.6,681.9 288.3,683.3 290.9,684.7 293.6,686.1 296.2,687.5 298.9,688.9 301.5,690.3 304.2,691.7 306.8,693.1 309.5,694.5 312.2,695.9 314.8,697.2 317.5,698.6 320.2,699.9 322.9,701.2 325.6,702.6 328.3,703.9 331.0,705.2 333.7,706.4 336.4,707.7 339.1,709.0 341.9,710.2 344.6,711.5 347.3,712.7 350.1,713.9 352.8,715.1 355.6,716.3 358.4,717.4 361.1,718.6 363.9,719.7 366.7,720.8 369.5,722.0 372.3,723.1 375.1,724.2 377.8,725.3 380.6,726.4 383.4,727.5 386.2,728.5 389.0,729.6 391.8,730.7 394.7,731.7 397.5,732.8 400.3,733.8 403.1,734.9 405.9,735.9 408.7,736.9 411.6,737.9 414.4,738.9 417.2,739.9 420.0,740.9 422.9,741.9 425.7,742.8 428.6,743.8 431.4,744.7 434.3,745.7 437.1,746.6 440.0,747.5 442.8,748.4 445.7,749.3 448.6,750.2 451.4,751.1 454.3,752.0 457.2,752.8 460.0,753.7 462.9,754.5 465.8,755.4 468.7,756.2 471.6,757.1 474.4,757.9 477.3,758.8 480.2,759.6 483.1,760.4 486.0,761.2 488.9,762.1 491.8,762.9 494.6,763.7 497.5,764.5 500.4,765.2 503.3,766.0 506.2,766.8 509.1,767.5 512.1,768.2 515.0,768.9 517.9,769.6 520.8,770.2 523.8,770.9 526.7,771.5 529.6,772.0 532.6,772.6 535.5,773.1 538.5,773.6 541.5,774.1 544.4,774.6 547.4,775.0 550.4,775.5 553.3,775.9 556.3,776.3 559.3,776.7 562.3,777.0 565.2,777.4 568.2,777.7 571.2,778.1 574.2,778.4 577.2,778.7 580.1,778.9 583.1,779.2 586.1,779.4 589.1,779.6 592.1,779.8 595.1,780.0 598.1,780.2 601.1,780.3 604.1,780.4 607.1,780.4 610.1,780.4 613.1,780.4 616.1,780.3 619.1,780.1 622.1,779.9 625.0,779.7 628.0,779.4 631.0,779.1 634.0,778.7 636.9,778.3 639.9,777.8 642.9,777.3 645.8,776.7 648.7,776.1 651.6,775.4 654.5,774.7 657.4,773.9 660.3,773.0 663.1,772.1 666.0,771.2 668.8,770.2 671.7,769.2 674.5,768.2 677.3,767.2 680.1,766.1 682.9,765.0 685.7,763.9 688.5,762.8 691.2,761.6 694.0,760.4 696.7,759.2 699.4,757.9 702.0,756.5 704.7,755.1 707.3,753.6 709.9,752.1 712.4,750.6 715.0,749.0 717.4,747.3 719.9,745.6 722.3,743.8 724.6,741.9 727.0,740.0 729.2,738.1 731.5,736.1 733.7,734.1 735.8,732.0 738.0,729.9 740.1,727.8 742.1,725.6 744.2,723.4 746.2,721.2 748.2,719.0 750.2,716.7 752.2,714.4 754.1,712.2 756.1,709.9 758.0,707.6 759.9,705.3 761.9,703.0 763.8,700.7 765.7,698.4 767.7,696.1 769.6,693.8 771.5,691.5 773.4,689.2 775.3,686.9 777.2,684.5 779.1,682.2 781.0,679.9 782.9,677.5 784.7,675.2 786.6,672.9 788.5,670.5 790.3,668.2 792.2,665.8 794.1,663.5 795.9,661.1 797.8,658.7 799.6,656.4 801.5,654.0 803.3,651.6 805.1,649.3 807.0,646.9 808.8,644.5 810.6,642.1 812.4,639.7 814.2,637.3 816.0,634.9 817.8,632.5 819.6,630.1 821.4,627.7 823.2,625.3 825.0,622.9 826.8,620.5 828.6,618.1 830.4,615.7 832.3,613.4 834.1,611.0 836.0,608.6 837.8,606.3 839.7,604.0 841.6,601.6 843.5,599.3 845.5,597.0 847.4,594.7 849.3,592.4 851.3,590.2 853.3,587.9 855.2,585.7 857.2,583.4 859.2,581.2 861.2,578.9 863.2,576.7 865.3,574.5 867.3,572.3 869.4,570.1 871.4,567.9 873.5,565.8 875.6,563.6 877.7,561.5 879.8,559.4 882.0,557.3 884.2,555.2 886.3,553.1 888.5,551.1 890.7,549.1 892.9,547.1 895.2,545.1 897.5,543.1 899.8,541.3 902.2,539.5 904.6,537.8 907.1,536.2 909.7,534.7 912.3,533.4 915.0,532.2 917.8,531.1 920.6,530.1 923.4,529.2 926.3,528.4 929.2,527.7 932.1,527.0 935.0,526.4 938.0,525.9 940.9,525.4 943.9,525.1 946.8,524.8 949.8,524.7 952.8,524.7 955.7,524.8 958.7,525.0 961.6,525.5 964.5,526.0 967.4,526.7 970.3,527.5 973.1,528.3 976.0,529.3 978.8,530.4 981.5,531.5 984.3,532.6 987.1,533.8 989.8,535.0 992.5,536.2 995.3,537.5 998.0,538.8 1000.7,540.1 1003.3,541.4 1006.0,542.9 1008.6,544.3 1011.2,545.8 1013.7,547.4 1016.2,549.1 1018.7,550.8 1021.1,552.5 1023.4,554.4 1025.7,556.2 1028.0,558.2 1030.3,560.2 1032.5,562.2 1034.6,564.3 1036.7,566.4 1038.8,568.5 1040.9,570.7 1043.0,572.9 1045.0,575.1 1047.1,577.3 1049.1,579.5 1051.1,581.7 1053.1,583.9 1055.1,586.2 1057.1,588.4 1059.1,590.6 1061.1,592.9 1063.1,595.1 1065.2,597.3 1067.2,599.5 1069.2,601.8 1071.2,604.0 1073.2,606.2 1075.2,608.4 1077.2,610.7 1079.2,612.9 1081.2,615.1 1083.2,617.4 1085.2,619.6 1087.2,621.9 1089.2,624.1 1091.2,626.4 1093.1,628.6 1095.1,630.9 1097.1,633.2 1099.1,635.4 1101.0,637.7 1103.0,639.9 1105.0,642.2 1107.0,644.4 1109.0,646.7 1111.0,648.9 1113.0,651.2 1115.0,653.4 1117.0,655.6 1119.0,657.9 1121.0,660.1 1123.0,662.3 1125.0,664.6 1127.0,666.8 1129.0,669.0 1131.0,671.2 1133.0,673.5 1135.0,675.7 1137.0,677.9 1139.1,680.2 1141.1,682.4 1143.1,684.6 1145.1,686.9 1147.0,689.1 1149.0,691.4 1151.0,693.6 1153.0,695.9 1155.0,698.1 1156.9,700.4 1158.9,702.7 1160.8,705.0 1162.7,707.3 1164.6,709.6 1166.5,711.9 1168.4,714.2 1170.3,716.6 1172.2,718.9 1174.1,721.2 1176.0,723.6 1177.9,725.9 1179.8,728.2 1181.7,730.5 1183.6,732.8 1185.5,735.1 1187.5,737.4 1189.4,739.7 1191.4,741.9 1193.4,744.1 1195.5,746.3 1197.5,748.5 1199.6,750.7 1201.7,752.8 1203.8,754.9 1206.0,757.0 1208.2,759.1 1210.3,761.2 1212.5,763.2 1214.7,765.3 1216.9,767.3 1219.2,769.3 1221.4,771.3 1223.7,773.3 1225.9,775.2 1228.2,777.2 1230.5,779.2 1232.7,781.1 1235.0,783.1 1237.3,785.0 1239.6,786.9 1241.9,788.8 1244.2,790.8 1246.5,792.7 1248.8,794.6 1251.1,796.5 1253.4,798.5 1255.7,800.4 1258.0,802.3 1260.3,804.2 1262.6,806.2 1264.9,808.1 1267.2,810.1 1269.5,812.0 1271.7,814.0 1274.0,815.9 1276.3,817.9 1278.6,819.8 1280.9,821.8 1283.2,823.7 1285.5,825.6 1287.8,827.5 1290.1,829.4 1292.4,831.3 1294.8,833.2 1297.1,835.1 1299.5,836.9 1301.9,838.7 1304.3,840.5 1306.7,842.2 1309.2,844.0 1311.7,845.7 1314.2,847.3 1316.7,848.9 1319.3,850.4 1321.9,851.9 1324.5,853.3 1327.2,854.6 1329.8,856.0 1332.5,857.3 1335.2,858.7 1337.8,860.0 1340.5,861.5 1343.1,862.9 1345.7,864.4 1348.2,866.0 1350.8,867.5 1353.4,869.0 1356.0,870.5 1358.6,872.0 1361.2,873.4 1363.9,874.7 1366.6,876.0 1369.3,877.2 1372.1,878.5 1374.8,879.7 1377.5,880.9 1380.3,882.2 1383.0,883.4 1385.7,884.7 1388.4,886.0 1391.1,887.3 1393.8,888.6 1396.5,889.9 1399.2,891.2 1401.9,892.5 1404.7,893.7 1407.4,895.0 1410.1,896.2 1412.9,897.3 1415.7,898.5 1418.5,899.6 1421.3,900.6 1424.1,901.6 1426.9,902.7 1429.7,903.6 1432.6,904.6 1435.4,905.5 1438.3,906.4 1441.2,907.3 1444.0,908.2 1446.9,909.1 1449.8,909.9 1452.7,910.7 1455.6,911.5 1458.5,912.3 1461.4,913.1 1464.3,913.8 1467.2,914.5 1470.1,915.3 1473.0,916.0 1475.9,916.7 1478.8,917.4 1481.8,918.1 1484.7,918.7 1487.6,919.4 1490.5,920.1 1493.5,920.7 1496.4,921.4 1499.3,922.0 1502.2,922.6 1505.2,923.2 1508.1,923.8 1511.1,924.4 1514.0,925.0 1517.0,925.5 1519.9,926.1 1522.9,926.6 1525.8,927.1 1528.8,927.7 1531.7,928.2 1534.7,928.7 1537.6,929.2 1540.6,929.7 1543.6,930.2 1546.5,930.6 1549.5,931.1 1552.5,931.6 1555.4,932.0 1558.4,932.4 1561.4,932.9 1564.3,933.3 1567.3,933.7 1570.3,934.1 1573.3,934.4 1576.2,934.8 1579.2,935.1 1582.2,935.5 1585.2,935.8 1588.2,936.1 1591.2,936.4 1594.1,936.7 1597.1,937.0 1600.1,937.3 1603.1,937.5 1606.1,937.8 1609.1,938.1 1612.1,938.3 1615.1,938.6 1618.0,938.8 1621.0,939.0 1624.0,939.2 1627.0,939.4 1630.0,939.6 1633.0,939.7 1636.0,939.9 1639.0,940.0 1642.0,940.1 1645.0,940.2 1648.0,940.3 1651.0,940.4 1654.0,940.4 1657.0,940.5 1660.0,940.5 1663.0,940.5 1666.0,940.6 1669.0,940.6 1672.0,940.6 1675.0,940.6 1678.0,940.5 1681.0,940.5 1684.0,940.5 1687.0,940.4 1690.0,940.4 1693.0,940.3 1696.0,940.3 1699.0,940.2" fill="none" stroke="#808000" stroke-width="3.0" stroke-linejoin="round" stroke-linecap="butt"/>
<polyline points="262.0,633.5 264.6,634.9 267.3,636.4 269.9,637.8 272.5,639.3 275.1,640.7 277.8,642.2 280.4,643.6 283.1,645.0 285.7,646.4 288.3,647.9 291.0,649.3 293.6,650.7 296.3,652.1 298.9,653.5 301.6,654.9 304.3,656.3 306.9,657.6 309.6,659.0 312.3,660.4 315.0,661.7 317.6,663.1 320.3,664.4 323.0,665.7 325.7,667.1 328.4,668.4 331.1,669.7 333.8,671.0 336.5,672.2 339.2,673.5 342.0,674.8 344.7,676.0 347.4,677.3 350.2,678.5 352.9,679.7 355.6,680.9 358.4,682.1 361.2,683.3 363.9,684.5 366.7,685.6 369.4,686.8 372.2,687.9 375.0,689.1 377.8,690.2 380.5,691.4 383.3,692.5 386.1,693.6 388.9,694.8 391.7,695.9 394.5,697.0 397.2,698.1 400.0,699.2 402.8,700.3 405.6,701.4 408.4,702.4 411.2,703.5 414.0,704.5 416.9,705.6 419.7,706.6 422.5,707.7 425.3,708.7 428.1,709.7 431.0,710.7 433.8,711.7 436.6,712.6 439.5,713.6 442.3,714.6 445.2,715.5 448.0,716.4 450.9,717.3 453.7,718.2 456.6,719.1 459.5,720.0 462.4,720.9 465.2,721.7 468.1,722.6 471.0,723.4 473.9,724.3 476.7,725.1 479.6,726.0 482.5,726.8 485.4,727.6 488.3,728.4 491.2,729.2 494.1,730.0 497.0,730.8 499.9,731.6 502.8,732.3 505.7,733.1 508.6,733.8 511.5,734.5 514.4,735.2 517.3,735.9 520.3,736.5 523.2,737.2 526.1,737.8 529.1,738.4 532.0,738.9 535.0,739.4 537.9,739.9 540.9,740.4 543.8,740.9 546.8,741.4 549.8,741.8 552.7,742.2 555.7,742.6 558.7,743.0 561.7,743.4 564.6,743.8 567.6,744.1 570.6,744.5 573.6,744.8 576.6,745.1 579.6,745.4 582.5,745.6 585.5,745.9 588.5,746.1 591.5,746.3 594.5,746.5 597.5,746.6 600.5,746.7 603.5,746.8 606.5,746.8 609.5,746.9 612.5,746.8 615.5,746.8 618.5,746.7 621.5,746.5 624.5,746.3 627.5,746.1 630.4,745.8 633.4,745.5 636.4,745.2 639.4,744.9 642.4,744.5 645.3,744.0 648.3,743.5 651.2,743.0 654.2,742.4 657.1,741.8 660.0,741.2 663.0,740.5 665.9,739.8 668.8,739.1 671.7,738.4 674.6,737.6 677.5,736.8 680.3,735.9 683.1,734.9 685.9,733.9 688.7,732.7 691.4,731.5 694.0,730.1 696.6,728.6 699.1,727.1 701.6,725.4 704.0,723.7 706.4,721.9 708.8,720.1 711.1,718.2 713.4,716.3 715.7,714.3 718.0,712.4 720.2,710.4 722.4,708.4 724.6,706.3 726.8,704.3 729.0,702.2 731.1,700.1 733.3,698.0 735.4,695.9 737.5,693.8 739.7,691.7 741.8,689.5 743.9,687.4 746.0,685.3 748.1,683.1 750.2,681.0 752.3,678.8 754.4,676.7 756.4,674.5 758.5,672.3 760.5,670.1 762.5,667.9 764.6,665.7 766.6,663.4 768.5,661.2 770.5,658.9 772.4,656.6 774.4,654.3 776.3,652.0 778.2,649.7 780.0,647.3 781.8,644.9 783.6,642.5 785.4,640.1 787.2,637.7 788.9,635.2 790.6,632.8 792.3,630.3 794.0,627.8 795.7,625.3 797.3,622.8 799.0,620.3 800.7,617.9 802.3,615.4 804.0,612.9 805.7,610.4 807.4,607.9 809.1,605.5 810.8,603.0 812.6,600.5 814.3,598.1 816.0,595.7 817.8,593.2 819.6,590.8 821.3,588.4 823.1,585.9 824.9,583.5 826.6,581.1 828.4,578.7 830.2,576.3 832.0,573.9 833.8,571.5 835.6,569.1 837.5,566.7 839.3,564.4 841.2,562.0 843.0,559.7 844.9,557.3 846.8,555.0 848.8,552.7 850.7,550.4 852.6,548.1 854.6,545.8 856.5,543.6 858.5,541.3 860.5,539.1 862.5,536.8 864.4,534.5 866.4,532.3 868.5,530.1 870.5,527.9 872.5,525.7 874.6,523.5 876.6,521.3 878.7,519.2 880.8,517.0 883.0,514.9 885.2,512.9 887.4,510.9 889.6,508.9 891.9,507.0 894.2,505.1 896.6,503.3 899.0,501.5 901.5,499.8 904.0,498.2 906.5,496.7 909.2,495.3 911.8,494.0 914.5,492.8 917.3,491.7 920.1,490.8 923.0,490.0 925.9,489.3 928.8,488.7 931.7,488.1 934.7,487.7 937.6,487.3 940.6,487.1 943.6,486.9 946.6,486.8 949.6,486.7 952.5,486.8 955.5,487.0 958.5,487.3 961.4,487.7 964.3,488.3 967.2,488.9 970.1,489.8 972.8,490.7 975.6,491.8 978.3,493.0 981.0,494.4 983.6,495.8 986.2,497.2 988.8,498.8 991.3,500.4 993.8,502.0 996.3,503.7 998.8,505.4 1001.2,507.2 1003.6,508.9 1006.0,510.8 1008.3,512.6 1010.7,514.5 1013.0,516.4 1015.3,518.3 1017.5,520.3 1019.8,522.3 1022.0,524.3 1024.2,526.3 1026.5,528.3 1028.7,530.3 1030.9,532.4 1033.0,534.5 1035.2,536.5 1037.4,538.6 1039.5,540.7 1041.7,542.8 1043.9,544.8 1046.0,546.9 1048.1,549.0 1050.3,551.2 1052.4,553.3 1054.5,555.4 1056.6,557.6 1058.7,559.7 1060.7,561.9 1062.8,564.1 1064.8,566.3 1066.9,568.5 1068.9,570.7 1070.9,573.0 1072.9,575.2 1074.8,577.5 1076.8,579.7 1078.8,582.0 1080.7,584.3 1082.7,586.5 1084.6,588.8 1086.6,591.1 1088.5,593.4 1090.4,595.7 1092.3,598.0 1094.2,600.3 1096.1,602.7 1098.0,605.0 1099.9,607.4 1101.7,609.7 1103.6,612.1 1105.4,614.4 1107.2,616.8 1109.1,619.2 1110.9,621.6 1112.7,624.0 1114.5,626.4 1116.3,628.8 1118.1,631.2 1119.9,633.6 1121.8,635.9 1123.6,638.3 1125.4,640.7 1127.3,643.1 1129.1,645.4 1131.0,647.8 1132.9,650.1 1134.7,652.4 1136.6,654.8 1138.5,657.1 1140.5,659.4 1142.4,661.7 1144.3,664.0 1146.2,666.3 1148.2,668.6 1150.1,670.9 1152.1,673.2 1154.0,675.4 1156.0,677.7 1157.9,680.0 1159.9,682.3 1161.8,684.5 1163.8,686.8 1165.7,689.1 1167.7,691.4 1169.7,693.6 1171.6,695.9 1173.6,698.2 1175.5,700.5 1177.5,702.7 1179.5,705.0 1181.4,707.3 1183.4,709.6 1185.3,711.8 1187.3,714.1 1189.2,716.4 1191.2,718.7 1193.1,721.0 1195.1,723.2 1197.0,725.5 1199.0,727.8 1201.0,730.0 1202.9,732.3 1204.9,734.6 1206.9,736.8 1208.9,739.0 1210.9,741.3 1212.9,743.5 1214.9,745.7 1217.0,747.9 1219.0,750.1 1221.0,752.3 1223.1,754.5 1225.1,756.7 1227.2,758.9 1229.3,761.1 1231.3,763.2 1233.4,765.4 1235.5,767.6 1237.6,769.7 1239.7,771.9 1241.8,774.0 1243.9,776.1 1246.0,778.2 1248.1,780.4 1250.3,782.5 1252.4,784.6 1254.6,786.7 1256.7,788.7 1258.9,790.8 1261.1,792.9 1263.3,794.9 1265.5,797.0 1267.7,799.0 1269.9,801.0 1272.1,803.0 1274.3,805.1 1276.6,807.1 1278.8,809.1 1281.0,811.1 1283.3,813.1 1285.5,815.1 1287.8,817.1 1290.0,819.0 1292.3,821.0 1294.6,822.9 1296.9,824.8 1299.2,826.8 1301.5,828.6 1303.9,830.5 1306.3,832.3 1308.7,834.1 1311.1,835.8 1313.6,837.5 1316.1,839.2 1318.6,840.8 1321.2,842.3 1323.8,843.8 1326.4,845.3 1329.0,846.7 1331.7,848.1 1334.3,849.5 1337.0,850.9 1339.6,852.3 1342.2,853.8 1344.8,855.3 1347.4,856.8 1349.9,858.4 1352.5,860.0 1355.0,861.6 1357.5,863.2 1360.0,864.8 1362.6,866.5 1365.1,868.1 1367.6,869.7 1370.1,871.3 1372.7,872.9 1375.2,874.4 1377.8,876.0 1380.4,877.5 1383.0,878.9 1385.7,880.3 1388.3,881.7 1391.0,883.0 1393.7,884.3 1396.5,885.4 1399.3,886.6 1402.1,887.6 1404.9,888.6 1407.7,889.5 1410.6,890.4 1413.4,891.3 1416.3,892.3 1419.1,893.2 1422.0,894.2 1424.8,895.2 1427.6,896.2 1430.4,897.3 1433.2,898.3 1436.0,899.4 1438.8,900.5 1441.6,901.5 1444.4,902.6 1447.3,903.6 1450.1,904.6 1452.9,905.5 1455.8,906.5 1458.6,907.4 1461.5,908.3 1464.4,909.2 1467.2,910.0 1470.1,910.8 1473.0,911.7 1475.9,912.5 1478.8,913.2 1481.7,914.0 1484.6,914.8 1487.5,915.5 1490.4,916.3 1493.3,917.0 1496.2,917.7 1499.1,918.4 1502.1,919.1 1505.0,919.7 1507.9,920.4 1510.9,921.0 1513.8,921.6 1516.8,922.1 1519.7,922.7 1522.7,923.2 1525.6,923.8 1528.6,924.3 1531.5,924.8 1534.5,925.3 1537.4,925.8 1540.4,926.3 1543.4,926.7 1546.3,927.2 1549.3,927.6 1552.3,928.1 1555.2,928.5 1558.2,928.9 1561.2,929.3 1564.2,929.6 1567.1,930.0 1570.1,930.3 1573.1,930.6 1576.1,930.8 1579.1,931.1 1582.1,931.3 1585.1,931.5 1588.1,931.7 1591.1,931.9 1594.0,932.1 1597.0,932.3 1600.0,932.5 1603.0,932.6 1606.0,932.8 1609.0,932.9 1612.0,933.1 1615.0,933.2 1618.0,933.4 1621.0,933.5 1624.0,933.6 1627.0,933.7 1630.0,933.8 1633.0,933.9 1636.0,934.0 1639.0,934.1 1642.0,934.2 1645.0,934.2 1648.0,934.3 1651.0,934.4 1654.0,934.4 1657.0,934.5 1660.0,934.5 1663.0,934.6 1666.0,934.7 1669.0,934.7 1672.0,934.8 1675.0,934.8 1678.0,934.8 1681.0,934.9 1684.0,934.9 1687.0,934.9 1690.0,935.0 1693.0,935.0 1696.0,935.0 1699.0,935.0" fill="none" stroke="#000080" stroke-width="3.0" stroke-linejoin="round" stroke-linecap="butt"/>
<polyline points="262.0,613.0 264.6,614.5 267.2,616.1 269.7,617.6 272.3,619.1 274.9,620.7 277.5,622.2 280.1,623.7 282.7,625.2 285.3,626.7 287.9,628.2 290.5,629.7 293.1,631.2 295.7,632.7 298.3,634.2 300.9,635.6 303.5,637.1 306.1,638.6 308.8,640.0 311.4,641.4 314.0,642.9 316.7,644.3 319.3,645.7 322.0,647.1 324.7,648.5 327.3,649.8 330.0,651.2 332.7,652.5 335.4,653.8 338.1,655.2 340.8,656.5 343.5,657.7 346.2,659.0 349.0,660.2 351.7,661.5 354.4,662.7 357.2,663.9 360.0,665.0 362.7,666.2 365.5,667.4 368.3,668.5 371.0,669.6 373.8,670.7 376.6,671.8 379.4,672.9 382.2,674.0 385.0,675.1 387.8,676.2 390.6,677.2 393.4,678.3 396.2,679.4 399.1,680.4 401.9,681.4 404.7,682.4 407.5,683.5 410.3,684.5 413.2,685.5 416.0,686.5 418.8,687.4 421.7,688.4 424.5,689.4 427.4,690.3 430.2,691.3 433.1,692.2 435.9,693.2 438.8,694.1 441.6,695.0 444.5,695.9 447.3,696.8 450.2,697.7 453.1,698.6 456.0,699.5 458.8,700.3 461.7,701.2 464.6,702.1 467.4,702.9 470.3,703.8 473.2,704.7 476.1,705.5 478.9,706.4 481.8,707.3 484.7,708.1 487.6,709.0 490.4,709.8 493.3,710.7 496.2,711.5 499.1,712.3 502.0,713.1 504.9,713.9 507.8,714.7 510.7,715.5 513.6,716.2 516.5,716.9 519.4,717.6 522.3,718.3 525.2,718.9 528.2,719.6 531.1,720.2 534.1,720.7 537.0,721.3 540.0,721.8 542.9,722.2 545.9,722.7 548.9,723.2 551.8,723.6 554.8,724.0 557.8,724.4 560.8,724.8 563.7,725.1 566.7,725.5 569.7,725.8 572.7,726.1 575.7,726.4 578.7,726.7 581.6,727.0 584.6,727.2 587.6,727.4 590.6,727.6 593.6,727.8 596.6,728.0 599.6,728.1 602.6,728.2 605.6,728.3 608.6,728.3 611.6,728.3 614.6,728.2 617.6,728.1 620.6,727.9 623.6,727.7 626.5,727.4 629.5,727.1 632.5,726.7 635.5,726.3 638.4,725.9 641.4,725.4 644.3,724.9 647.3,724.3 650.2,723.7 653.1,723.0 656.0,722.3 658.9,721.5 661.8,720.6 664.6,719.7 667.5,718.7 670.3,717.7 673.1,716.6 675.8,715.4 678.5,714.2 681.2,712.9 683.9,711.6 686.5,710.2 689.1,708.7 691.7,707.2 694.3,705.6 696.8,704.0 699.4,702.5 701.9,700.9 704.5,699.3 707.0,697.8 709.6,696.2 712.2,694.6 714.7,693.1 717.3,691.5 719.8,689.8 722.2,688.2 724.7,686.4 727.0,684.6 729.4,682.7 731.6,680.8 733.8,678.7 735.9,676.7 738.0,674.5 740.1,672.3 742.1,670.1 744.0,667.9 746.0,665.6 747.9,663.3 749.8,661.0 751.7,658.6 753.6,656.3 755.5,654.0 757.4,651.6 759.3,649.3 761.2,647.0 763.1,644.6 764.9,642.3 766.8,640.0 768.7,637.6 770.5,635.2 772.4,632.9 774.2,630.5 776.0,628.1 777.9,625.7 779.7,623.4 781.5,621.0 783.3,618.6 785.1,616.2 786.9,613.7 788.7,611.3 790.4,608.9 792.2,606.5 794.0,604.1 795.7,601.6 797.4,599.2 799.2,596.7 800.9,594.3 802.6,591.8 804.3,589.3 806.0,586.8 807.7,584.4 809.3,581.9 811.0,579.4 812.7,576.9 814.3,574.4 816.0,571.9 817.7,569.4 819.3,566.9 821.0,564.4 822.7,561.9 824.4,559.4 826.1,557.0 827.8,554.5 829.5,552.0 831.2,549.6 832.9,547.1 834.7,544.7 836.4,542.2 838.2,539.8 839.9,537.4 841.7,534.9 843.4,532.5 845.2,530.1 847.0,527.6 848.8,525.2 850.6,522.8 852.4,520.4 854.2,518.1 856.0,515.7 857.9,513.4 859.8,511.0 861.7,508.7 863.7,506.4 865.6,504.2 867.6,501.9 869.7,499.7 871.7,497.5 873.8,495.3 875.8,493.2 877.9,491.0 880.0,488.9 882.1,486.8 884.3,484.7 886.4,482.6 888.6,480.5 890.9,478.5 893.1,476.6 895.4,474.7 897.8,472.9 900.2,471.1 902.7,469.4 905.2,467.9 907.8,466.4 910.4,465.0 913.1,463.8 915.9,462.6 918.6,461.5 921.4,460.5 924.3,459.5 927.1,458.7 930.0,457.9 932.9,457.2 935.9,456.7 938.8,456.2 941.8,455.8 944.7,455.5 947.7,455.4 950.7,455.3 953.6,455.4 956.6,455.6 959.6,455.9 962.5,456.3 965.4,456.8 968.3,457.5 971.2,458.3 974.0,459.2 976.8,460.2 979.6,461.3 982.3,462.5 985.0,463.9 987.6,465.3 990.1,466.8 992.6,468.4 995.1,470.1 997.5,471.9 999.8,473.8 1002.1,475.7 1004.3,477.7 1006.5,479.7 1008.7,481.8 1010.8,483.9 1012.9,486.0 1015.1,488.2 1017.2,490.3 1019.3,492.4 1021.4,494.5 1023.5,496.6 1025.7,498.7 1027.8,500.8 1030.0,502.9 1032.2,505.0 1034.4,507.0 1036.6,509.1 1038.8,511.1 1041.0,513.2 1043.1,515.2 1045.3,517.3 1047.5,519.3 1049.7,521.4 1051.9,523.4 1054.1,525.5 1056.3,527.6 1058.4,529.6 1060.6,531.7 1062.7,533.8 1064.8,535.9 1067.0,538.1 1069.1,540.2 1071.2,542.3 1073.2,544.5 1075.3,546.7 1077.4,548.9 1079.4,551.1 1081.4,553.3 1083.4,555.6 1085.3,557.8 1087.3,560.1 1089.2,562.4 1091.1,564.7 1093.0,567.0 1094.9,569.4 1096.8,571.7 1098.7,574.0 1100.5,576.4 1102.4,578.8 1104.2,581.1 1106.1,583.5 1107.9,585.9 1109.8,588.2 1111.6,590.6 1113.4,593.0 1115.3,595.4 1117.1,597.7 1118.9,600.1 1120.7,602.5 1122.5,604.9 1124.4,607.3 1126.2,609.7 1128.0,612.1 1129.8,614.5 1131.5,616.9 1133.3,619.3 1135.1,621.7 1136.9,624.1 1138.7,626.6 1140.5,629.0 1142.3,631.4 1144.1,633.8 1145.9,636.2 1147.7,638.6 1149.5,640.9 1151.4,643.3 1153.2,645.7 1155.1,648.0 1157.0,650.3 1158.9,652.7 1160.8,655.0 1162.7,657.3 1164.6,659.6 1166.6,661.9 1168.5,664.2 1170.5,666.4 1172.4,668.7 1174.4,671.0 1176.4,673.2 1178.4,675.5 1180.3,677.7 1182.3,680.0 1184.3,682.2 1186.3,684.4 1188.3,686.7 1190.3,688.9 1192.4,691.1 1194.4,693.4 1196.4,695.6 1198.4,697.8 1200.4,700.0 1202.4,702.2 1204.5,704.5 1206.5,706.7 1208.5,708.9 1210.5,711.1 1212.6,713.3 1214.6,715.5 1216.6,717.7 1218.7,719.9 1220.7,722.1 1222.8,724.3 1224.8,726.5 1226.9,728.7 1228.9,730.9 1231.0,733.1 1233.1,735.2 1235.1,737.4 1237.2,739.6 1239.3,741.7 1241.4,743.9 1243.5,746.0 1245.6,748.1 1247.7,750.2 1249.9,752.4 1252.0,754.5 1254.1,756.6 1256.3,758.7 1258.4,760.8 1260.6,762.9 1262.7,765.0 1264.9,767.1 1267.0,769.2 1269.1,771.3 1271.3,773.4 1273.4,775.5 1275.5,777.6 1277.6,779.8 1279.7,781.9 1281.8,784.1 1283.9,786.2 1286.0,788.4 1288.1,790.5 1290.2,792.6 1292.4,794.7 1294.6,796.7 1296.8,798.7 1299.1,800.6 1301.4,802.5 1303.8,804.3 1306.1,806.1 1308.5,807.9 1310.9,809.7 1313.3,811.6 1315.7,813.4 1318.0,815.1 1320.5,816.9 1322.9,818.6 1325.4,820.2 1327.9,821.8 1330.4,823.4 1333.0,825.0 1335.5,826.6 1338.0,828.3 1340.4,830.0 1342.8,831.8 1345.1,833.6 1347.4,835.5 1349.7,837.4 1352.0,839.4 1354.3,841.3 1356.6,843.1 1359.0,845.0 1361.4,846.7 1363.9,848.4 1366.4,850.0 1369.0,851.6 1371.6,853.0 1374.2,854.5 1376.9,855.8 1379.5,857.2 1382.2,858.5 1385.0,859.7 1387.7,860.9 1390.4,862.2 1393.2,863.4 1395.9,864.6 1398.7,865.8 1401.4,867.1 1404.1,868.4 1406.8,869.7 1409.5,871.0 1412.2,872.2 1414.9,873.5 1417.7,874.7 1420.4,875.9 1423.2,877.0 1426.0,878.1 1428.8,879.2 1431.6,880.2 1434.4,881.2 1437.3,882.2 1440.1,883.2 1443.0,884.1 1445.8,885.0 1448.7,885.9 1451.5,886.8 1454.4,887.7 1457.3,888.6 1460.1,889.5 1463.0,890.3 1465.9,891.2 1468.8,892.0 1471.7,892.8 1474.5,893.6 1477.4,894.4 1480.3,895.2 1483.2,896.0 1486.1,896.8 1489.0,897.5 1492.0,898.3 1494.9,899.0 1497.8,899.7 1500.7,900.4 1503.6,901.1 1506.5,901.8 1509.4,902.5 1512.4,903.2 1515.3,903.9 1518.2,904.5 1521.1,905.2 1524.1,905.8 1527.0,906.5 1529.9,907.1 1532.9,907.7 1535.8,908.4 1538.7,909.0 1541.7,909.6 1544.6,910.2 1547.6,910.8 1550.5,911.4 1553.4,912.0 1556.4,912.6 1559.3,913.1 1562.3,913.6 1565.3,914.1 1568.2,914.5 1571.2,915.0 1574.2,915.4 1577.1,915.7 1580.1,916.1 1583.1,916.4 1586.1,916.7 1589.1,916.9 1592.1,917.2 1595.1,917.4 1598.0,917.7 1601.0,917.9 1604.0,918.1 1607.0,918.3 1610.0,918.5 1613.0,918.7 1616.0,918.8 1619.0,919.0 1622.0,919.1 1625.0,919.3 1628.0,919.4 1631.0,919.5 1634.0,919.6 1637.0,919.7 1640.0,919.8 1643.0,919.9 1646.0,920.0 1649.0,920.0 1652.0,920.1 1655.0,920.1 1658.0,920.2 1661.0,920.3 1664.0,920.3 1667.0,920.3 1670.0,920.4 1673.0,920.4 1676.0,920.4 1679.0,920.5 1682.0,920.5 1685.0,920.5 1688.0,920.5 1691.0,920.5 1694.0,920.5 1697.0,920.5 1699.0,920.5" fill="none" stroke="#800000" stroke-width="3.0" stroke-linejoin="round" stroke-linecap="butt"/>
<polyline points="262.0,591.1 264.5,592.7 267.1,594.3 269.6,595.9 272.1,597.5 274.7,599.1 277.2,600.7 279.8,602.3 282.3,603.9 284.8,605.5 287.4,607.1 290.0,608.6 292.5,610.2 295.1,611.8 297.6,613.3 300.2,614.9 302.8,616.4 305.4,617.9 308.0,619.4 310.6,620.9 313.2,622.4 315.8,623.9 318.4,625.4 321.0,626.8 323.7,628.2 326.3,629.7 329.0,631.1 331.6,632.4 334.3,633.8 337.0,635.2 339.7,636.5 342.4,637.8 345.1,639.1 347.8,640.3 350.5,641.6 353.3,642.8 356.0,644.0 358.8,645.1 361.6,646.3 364.3,647.4 367.1,648.5 369.9,649.6 372.7,650.7 375.5,651.8 378.3,652.8 381.1,653.8 384.0,654.9 386.8,655.9 389.6,656.9 392.4,657.9 395.3,658.9 398.1,659.9 400.9,660.8 403.8,661.8 406.6,662.8 409.5,663.7 412.3,664.6 415.2,665.6 418.0,666.5 420.9,667.4 423.7,668.3 426.6,669.2 429.5,670.1 432.3,671.0 435.2,671.9 438.1,672.8 440.9,673.7 443.8,674.6 446.7,675.5 449.5,676.3 452.4,677.2 455.3,678.1 458.1,678.9 461.0,679.8 463.9,680.7 466.7,681.6 469.6,682.5 472.5,683.4 475.3,684.3 478.2,685.2 481.1,686.1 483.9,687.0 486.8,687.9 489.6,688.8 492.5,689.7 495.4,690.6 498.2,691.5 501.1,692.3 504.0,693.2 506.9,694.0 509.7,694.8 512.6,695.7 515.5,696.4 518.4,697.2 521.3,697.9 524.2,698.6 527.2,699.3 530.1,700.0 533.0,700.6 536.0,701.2 538.9,701.7 541.9,702.3 544.8,702.8 547.8,703.3 550.7,703.7 553.7,704.1 556.7,704.6 559.7,705.0 562.6,705.3 565.6,705.7 568.6,706.1 571.6,706.4 574.6,706.7 577.5,707.1 580.5,707.4 583.5,707.7 586.5,707.9 589.5,708.2 592.5,708.5 595.5,708.7 598.4,708.9 601.4,709.1 604.4,709.2 607.4,709.3 610.4,709.3 613.4,709.2 616.4,709.1 619.4,708.9 622.4,708.7 625.4,708.4 628.3,708.1 631.3,707.7 634.3,707.4 637.3,707.1 640.3,706.7 643.2,706.3 646.2,706.0 649.2,705.6 652.1,705.1 655.1,704.7 658.0,704.2 661.0,703.6 663.9,702.9 666.8,702.2 669.6,701.3 672.4,700.3 675.2,699.2 677.9,698.1 680.6,696.8 683.3,695.5 686.0,694.1 688.6,692.7 691.2,691.2 693.8,689.8 696.5,688.3 699.1,686.8 701.6,685.3 704.2,683.8 706.7,682.2 709.2,680.5 711.6,678.8 714.0,677.0 716.2,675.0 718.4,673.1 720.6,671.0 722.7,668.9 724.7,666.7 726.7,664.5 728.7,662.2 730.7,659.9 732.7,657.7 734.6,655.4 736.6,653.2 738.6,650.9 740.6,648.7 742.6,646.4 744.6,644.2 746.6,642.0 748.6,639.7 750.6,637.5 752.6,635.3 754.7,633.1 756.7,630.9 758.7,628.6 760.7,626.4 762.7,624.2 764.7,621.9 766.6,619.6 768.6,617.4 770.5,615.1 772.5,612.8 774.4,610.5 776.3,608.2 778.1,605.8 780.0,603.5 781.8,601.1 783.6,598.7 785.4,596.3 787.1,593.8 788.9,591.4 790.6,588.9 792.2,586.4 793.9,583.9 795.5,581.4 797.2,578.9 798.8,576.4 800.4,573.8 802.0,571.3 803.6,568.8 805.2,566.2 806.8,563.7 808.4,561.1 810.0,558.6 811.6,556.1 813.2,553.6 814.8,551.0 816.5,548.5 818.1,546.0 819.7,543.5 821.4,541.0 823.0,538.5 824.7,535.9 826.3,533.4 827.9,530.9 829.6,528.4 831.2,525.9 832.9,523.4 834.5,520.9 836.2,518.4 837.9,515.9 839.6,513.4 841.3,510.9 843.0,508.5 844.7,506.0 846.4,503.6 848.1,501.1 849.8,498.7 851.6,496.2 853.3,493.8 855.1,491.3 856.8,488.9 858.6,486.4 860.3,484.0 862.1,481.6 863.8,479.1 865.6,476.7 867.4,474.3 869.2,471.9 871.1,469.6 872.9,467.2 874.8,464.9 876.8,462.6 878.8,460.4 880.8,458.2 882.9,456.1 885.0,454.0 887.2,452.0 889.5,450.0 891.8,448.1 894.1,446.3 896.6,444.5 899.0,442.9 901.6,441.3 904.1,439.8 906.8,438.3 909.4,437.0 912.1,435.7 914.8,434.4 917.6,433.2 920.3,432.1 923.1,431.0 925.9,430.0 928.8,429.0 931.6,428.1 934.5,427.2 937.3,426.5 940.2,425.9 943.2,425.5 946.1,425.2 949.0,425.1 952.0,425.1 954.9,425.3 957.9,425.7 960.8,426.2 963.6,426.9 966.5,427.6 969.4,428.5 972.2,429.5 975.0,430.6 977.7,431.8 980.4,433.0 983.2,434.2 985.8,435.6 988.5,437.0 991.1,438.5 993.6,440.0 996.2,441.6 998.7,443.2 1001.1,444.9 1003.6,446.7 1006.0,448.4 1008.4,450.2 1010.8,452.0 1013.2,453.8 1015.6,455.7 1017.9,457.5 1020.3,459.4 1022.6,461.2 1024.9,463.1 1027.2,465.1 1029.5,467.0 1031.7,469.0 1033.9,471.1 1036.1,473.1 1038.2,475.2 1040.4,477.3 1042.5,479.5 1044.6,481.6 1046.7,483.7 1048.8,485.9 1050.9,488.0 1053.0,490.2 1055.1,492.3 1057.2,494.5 1059.2,496.6 1061.3,498.8 1063.3,501.0 1065.4,503.2 1067.4,505.5 1069.4,507.7 1071.3,510.0 1073.3,512.2 1075.3,514.5 1077.2,516.8 1079.2,519.1 1081.1,521.3 1083.0,523.6 1085.0,525.9 1086.9,528.2 1088.8,530.6 1090.7,532.9 1092.6,535.2 1094.5,537.5 1096.5,539.8 1098.4,542.1 1100.3,544.4 1102.2,546.7 1104.1,549.1 1106.0,551.4 1107.9,553.7 1109.8,556.0 1111.7,558.3 1113.6,560.6 1115.5,563.0 1117.4,565.3 1119.3,567.6 1121.2,569.9 1123.1,572.2 1125.0,574.6 1126.9,576.9 1128.8,579.2 1130.7,581.6 1132.6,583.9 1134.4,586.3 1136.3,588.6 1138.2,590.9 1140.0,593.3 1141.9,595.7 1143.7,598.0 1145.6,600.4 1147.4,602.8 1149.2,605.2 1151.0,607.5 1152.8,609.9 1154.6,612.4 1156.4,614.8 1158.2,617.2 1160.0,619.6 1161.8,622.0 1163.5,624.4 1165.3,626.8 1167.1,629.2 1168.9,631.7 1170.7,634.1 1172.5,636.4 1174.3,638.8 1176.2,641.2 1178.0,643.6 1179.9,645.9 1181.8,648.2 1183.7,650.5 1185.6,652.8 1187.6,655.1 1189.5,657.4 1191.5,659.6 1193.5,661.9 1195.5,664.1 1197.5,666.3 1199.6,668.5 1201.6,670.7 1203.7,672.9 1205.7,675.1 1207.8,677.3 1209.8,679.5 1211.9,681.7 1213.9,683.9 1216.0,686.0 1218.0,688.2 1220.1,690.4 1222.1,692.6 1224.1,694.9 1226.1,697.1 1228.1,699.3 1230.1,701.6 1232.1,703.8 1234.1,706.1 1236.0,708.4 1238.0,710.6 1239.9,712.9 1241.8,715.2 1243.8,717.5 1245.7,719.8 1247.6,722.1 1249.5,724.4 1251.5,726.7 1253.4,729.0 1255.4,731.3 1257.3,733.5 1259.3,735.8 1261.3,738.0 1263.3,740.2 1265.4,742.4 1267.5,744.5 1269.6,746.7 1271.8,748.7 1274.0,750.8 1276.2,752.8 1278.4,754.8 1280.6,756.8 1282.9,758.8 1285.1,760.8 1287.3,762.9 1289.5,764.9 1291.6,767.0 1293.8,769.0 1296.0,771.1 1298.2,773.2 1300.4,775.2 1302.6,777.2 1304.8,779.2 1307.1,781.2 1309.4,783.1 1311.7,785.0 1314.1,786.8 1316.4,788.6 1318.9,790.4 1321.3,792.1 1323.7,793.9 1326.1,795.6 1328.5,797.4 1330.9,799.2 1333.3,801.0 1335.7,802.8 1338.1,804.6 1340.5,806.5 1342.9,808.3 1345.3,810.1 1347.7,811.9 1350.1,813.7 1352.5,815.5 1354.9,817.2 1357.4,819.0 1359.8,820.7 1362.3,822.4 1364.8,824.0 1367.3,825.7 1369.8,827.3 1372.4,828.9 1374.9,830.5 1377.5,832.1 1380.0,833.6 1382.6,835.1 1385.2,836.7 1387.8,838.2 1390.4,839.6 1393.0,841.1 1395.7,842.5 1398.3,844.0 1401.0,845.4 1403.6,846.8 1406.3,848.1 1409.0,849.5 1411.7,850.8 1414.4,852.1 1417.1,853.4 1419.8,854.6 1422.5,855.9 1425.3,857.1 1428.0,858.3 1430.8,859.5 1433.5,860.7 1436.3,861.9 1439.0,863.0 1441.8,864.2 1444.5,865.4 1447.3,866.6 1450.1,867.7 1452.9,868.9 1455.6,870.0 1458.4,871.0 1461.2,872.1 1464.1,873.1 1466.9,874.1 1469.7,875.0 1472.6,875.9 1475.5,876.7 1478.4,877.6 1481.3,878.3 1484.2,879.1 1487.1,879.8 1490.0,880.5 1492.9,881.2 1495.8,881.8 1498.8,882.5 1501.7,883.1 1504.6,883.8 1507.6,884.4 1510.5,885.1 1513.4,885.7 1516.3,886.4 1519.3,887.1 1522.2,887.8 1525.1,888.5 1528.0,889.2 1530.9,890.0 1533.8,890.8 1536.7,891.6 1539.6,892.4 1542.5,893.2 1545.4,894.0 1548.3,894.8 1551.1,895.6 1554.0,896.4 1556.9,897.1 1559.8,897.9 1562.8,898.6 1565.7,899.3 1568.6,900.0 1571.5,900.6 1574.5,901.2 1577.4,901.7 1580.4,902.2 1583.3,902.7 1586.3,903.2 1589.3,903.6 1592.2,904.0 1595.2,904.3 1598.2,904.7 1601.2,905.0 1604.1,905.3 1607.1,905.6 1610.1,905.9 1613.1,906.2 1616.1,906.5 1619.1,906.7 1622.1,907.0 1625.1,907.2 1628.1,907.4 1631.1,907.6 1634.0,907.7 1637.0,907.9 1640.0,908.1 1643.0,908.2 1646.0,908.4 1649.0,908.5 1652.0,908.6 1655.0,908.8 1658.0,908.9 1661.0,909.0 1664.0,909.1 1667.0,909.3 1670.0,909.4 1673.0,909.5 1676.0,909.6 1679.0,909.7 1682.0,909.8 1685.0,909.8 1688.0,909.9 1691.0,910.0 1694.0,910.0 1697.0,910.1 1699.0,910.1" fill="none" stroke="#FF0080" stroke-width="3.0" stroke-linejoin="round" stroke-linecap="butt"/>
<rect x="1308" y="84" width="391" height="702" fill="#fff"/>
<line x1="1314" y1="132.9" x2="1461" y2="132.9" stroke="#000000" stroke-width="2.4"/>
<text transform="translate(1475.00,154.20) scale(0.96,1)" font-size="67.0" text-anchor="start">1 min</text>
<line x1="1314" y1="210.0" x2="1461" y2="210.0" stroke="#FF0000" stroke-width="2.4"/>
<text transform="translate(1475.00,231.30) scale(0.96,1)" font-size="67.0" text-anchor="start">5min</text>
<line x1="1314" y1="287.1" x2="1461" y2="287.1" stroke="#0000FF" stroke-width="2.4"/>
<text transform="translate(1475.00,308.40) scale(0.96,1)" font-size="67.0" text-anchor="start">10min</text>
<line x1="1314" y1="364.2" x2="1461" y2="364.2" stroke="#008080" stroke-width="2.4"/>
<text transform="translate(1475.00,385.50) scale(0.96,1)" font-size="67.0" text-anchor="start">15min</text>
<line x1="1314" y1="441.3" x2="1461" y2="441.3" stroke="#FF00FF" stroke-width="2.4"/>
<text transform="translate(1475.00,462.60) scale(0.96,1)" font-size="67.0" text-anchor="start">30min</text>
<line x1="1314" y1="518.4" x2="1461" y2="518.4" stroke="#808000" stroke-width="2.4"/>
<text transform="translate(1475.00,539.70) scale(0.96,1)" font-size="67.0" text-anchor="start">60min</text>
<line x1="1314" y1="595.5" x2="1461" y2="595.5" stroke="#000080" stroke-width="2.4"/>
<text transform="translate(1475.00,616.80) scale(0.96,1)" font-size="67.0" text-anchor="start">120min</text>
<line x1="1314" y1="672.6" x2="1461" y2="672.6" stroke="#800000" stroke-width="2.4"/>
<text transform="translate(1475.00,693.90) scale(0.96,1)" font-size="67.0" text-anchor="start">180min</text>
<line x1="1314" y1="749.7" x2="1461" y2="749.7" stroke="#FF0080" stroke-width="2.4"/>
<text transform="translate(1475.00,771.00) scale(0.96,1)" font-size="67.0" text-anchor="start">240min</text>
<line x1="939.5" y1="368" x2="939.5" y2="919" stroke="#000" stroke-width="2.6"/>
<line x1="938.5" y1="919" x2="938.5" y2="1123" stroke="#000" stroke-width="2.6"/>
<text transform="translate(873.10,314.20) scale(0.96,1)" font-size="67.0" text-anchor="start">540 nm</text>
<text transform="translate(305.80,229.30) scale(0.965,1)" font-size="158.5" text-anchor="start" font-weight="bold">a</text>
<rect x="261.5" y="80.8" width="1440.0" height="1044.1000000000001" fill="none" stroke="#000" stroke-width="5"/>
<line x1="261.50" y1="1124.9" x2="261.50" y2="1147.9" stroke="#000" stroke-width="5"/>
<line x1="381.50" y1="1124.9" x2="381.50" y2="1136.9" stroke="#000" stroke-width="5"/>
<line x1="501.50" y1="1124.9" x2="501.50" y2="1147.9" stroke="#000" stroke-width="5"/>
<line x1="621.50" y1="1124.9" x2="621.50" y2="1136.9" stroke="#000" stroke-width="5"/>
<line x1="741.50" y1="1124.9" x2="741.50" y2="1147.9" stroke="#000" stroke-width="5"/>
<line x1="861.50" y1="1124.9" x2="861.50" y2="1136.9" stroke="#000" stroke-width="5"/>
<line x1="981.50" y1="1124.9" x2="981.50" y2="1147.9" stroke="#000" stroke-width="5"/>
<line x1="1101.50" y1="1124.9" x2="1101.50" y2="1136.9" stroke="#000" stroke-width="5"/>
<line x1="1221.50" y1="1124.9" x2="1221.50" y2="1147.9" stroke="#000" stroke-width="5"/>
<line x1="1341.50" y1="1124.9" x2="1341.50" y2="1136.9" stroke="#000" stroke-width="5"/>
<line x1="1461.50" y1="1124.9" x2="1461.50" y2="1147.9" stroke="#000" stroke-width="5"/>
<line x1="1581.50" y1="1124.9" x2="1581.50" y2="1136.9" stroke="#000" stroke-width="5"/>
<line x1="1701.50" y1="1124.9" x2="1701.50" y2="1147.9" stroke="#000" stroke-width="5"/>
<text transform="translate(261.50,1219.00) scale(0.96,1)" font-size="67.0" text-anchor="middle">400</text>
<text transform="translate(501.50,1219.00) scale(0.96,1)" font-size="67.0" text-anchor="middle">450</text>
<text transform="translate(741.50,1219.00) scale(0.96,1)" font-size="67.0" text-anchor="middle">500</text>
<text transform="translate(981.50,1219.00) scale(0.96,1)" font-size="67.0" text-anchor="middle">550</text>
<text transform="translate(1221.50,1219.00) scale(0.96,1)" font-size="67.0" text-anchor="middle">600</text>
<text transform="translate(1461.50,1219.00) scale(0.96,1)" font-size="67.0" text-anchor="middle">650</text>
<text transform="translate(1701.50,1219.00) scale(0.96,1)" font-size="67.0" text-anchor="middle">700</text>
<line x1="238.5" y1="1124.90" x2="261.5" y2="1124.90" stroke="#000" stroke-width="5"/>
<text transform="translate(234.50,1143.90) scale(0.96,1)" font-size="67.0" text-anchor="end">0.0</text>
<line x1="249.5" y1="863.88" x2="261.5" y2="863.88" stroke="#000" stroke-width="5"/>
<line x1="238.5" y1="602.85" x2="261.5" y2="602.85" stroke="#000" stroke-width="5"/>
<text transform="translate(234.50,621.85) scale(0.96,1)" font-size="67.0" text-anchor="end">0.2</text>
<line x1="249.5" y1="341.82" x2="261.5" y2="341.82" stroke="#000" stroke-width="5"/>
<line x1="238.5" y1="80.80" x2="261.5" y2="80.80" stroke="#000" stroke-width="5"/>
<text transform="translate(234.50,99.80) scale(0.96,1)" font-size="67.0" text-anchor="end">0.4</text>
<text transform="translate(132.20,587.80) rotate(-90) scale(0.953,1)" font-size="67.0" text-anchor="middle">Absorbance</text>
<text transform="translate(983.50,1288.30) scale(0.96,1)" font-size="67.0" text-anchor="middle">Wavelenght (nm)</text>
<polyline points="250.0,2382.4 252.9,2383.3 255.7,2384.3 258.6,2385.2 261.4,2386.1 264.3,2387.1 267.1,2388.0 270.0,2388.9 272.8,2389.9 275.7,2390.8 278.5,2391.7 281.4,2392.6 284.2,2393.6 287.1,2394.5 290.0,2395.4 292.8,2396.3 295.7,2397.2 298.5,2398.1 301.4,2399.1 304.2,2400.0 307.1,2400.9 310.0,2401.8 312.8,2402.7 315.7,2403.6 318.6,2404.5 321.4,2405.4 324.3,2406.3 327.2,2407.2 330.0,2408.1 332.9,2408.9 335.8,2409.8 338.6,2410.7 341.5,2411.6 344.4,2412.5 347.2,2413.4 350.1,2414.2 353.0,2415.1 355.8,2416.0 358.7,2416.9 361.6,2417.8 364.4,2418.7 367.3,2419.6 370.2,2420.4 373.0,2421.3 375.9,2422.2 378.8,2423.1 381.6,2424.0 384.5,2424.9 387.4,2425.8 390.2,2426.7 393.1,2427.6 396.0,2428.4 398.8,2429.3 401.7,2430.2 404.6,2431.0 407.5,2431.9 410.3,2432.7 413.2,2433.6 416.1,2434.4 419.0,2435.2 421.9,2436.0 424.8,2436.8 427.7,2437.6 430.6,2438.4 433.5,2439.2 436.4,2439.9 439.3,2440.6 442.2,2441.4 445.1,2442.1 448.0,2442.8 451.0,2443.5 453.9,2444.1 456.8,2444.8 459.7,2445.5 462.7,2446.1 465.6,2446.8 468.5,2447.4 471.5,2448.1 474.4,2448.7 477.3,2449.3 480.3,2450.0 483.2,2450.6 486.1,2451.2 489.1,2451.8 492.0,2452.4 495.0,2453.0 497.9,2453.6 500.9,2454.1 503.8,2454.7 506.8,2455.2 509.7,2455.8 512.7,2456.3 515.6,2456.8 518.6,2457.3 521.5,2457.8 524.5,2458.3 527.5,2458.7 530.4,2459.2 533.4,2459.6 536.4,2460.1 539.3,2460.5 542.3,2460.9 545.3,2461.3 548.3,2461.6 551.2,2462.0 554.2,2462.3 557.2,2462.7 560.2,2463.0 563.2,2463.4 566.2,2463.7 569.1,2464.0 572.1,2464.3 575.1,2464.6 578.1,2464.9 581.1,2465.2 584.1,2465.5 587.1,2465.8 590.0,2466.1 593.0,2466.4 596.0,2466.7 599.0,2467.0 602.0,2467.3 605.0,2467.5 608.0,2467.8 611.0,2468.1 613.9,2468.4 616.9,2468.6 619.9,2468.9 622.9,2469.1 625.9,2469.4 628.9,2469.7 631.9,2469.9 634.9,2470.2 637.9,2470.4 640.9,2470.7 643.9,2470.9 646.8,2471.1 649.8,2471.4 652.8,2471.6 655.8,2471.9 658.8,2472.1 661.8,2472.4 664.8,2472.6 667.8,2472.9 670.8,2473.1 673.8,2473.3 676.8,2473.6 679.7,2473.8 682.7,2474.0 685.7,2474.2 688.7,2474.4 691.7,2474.6 694.7,2474.8 697.7,2474.9 700.7,2475.1 703.7,2475.2 706.7,2475.4 709.7,2475.5 712.7,2475.6 715.7,2475.8 718.7,2475.9 721.7,2476.0 724.7,2476.1 727.7,2476.2 730.7,2476.3 733.7,2476.4 736.7,2476.4 739.7,2476.5 742.7,2476.6 745.7,2476.6 748.7,2476.6 751.7,2476.7 754.7,2476.7 757.7,2476.7 760.7,2476.7 763.7,2476.7 766.7,2476.8 769.7,2476.8 772.7,2476.8 775.7,2476.8 778.7,2476.8 781.7,2476.8 784.7,2476.8 787.7,2476.7 790.7,2476.7 793.7,2476.7 796.7,2476.7 799.7,2476.7 802.7,2476.7 805.7,2476.6 808.7,2476.6 811.7,2476.6 814.7,2476.6 817.7,2476.5 820.7,2476.5 823.7,2476.5 826.7,2476.4 829.7,2476.4 832.7,2476.3 835.7,2476.3 838.7,2476.2 841.7,2476.2 844.7,2476.1 847.7,2476.0 850.7,2476.0 853.7,2475.9 856.7,2475.8 859.7,2475.7 862.7,2475.7 865.7,2475.6 868.7,2475.5 871.7,2475.4 874.7,2475.3 877.7,2475.2 880.7,2475.1 883.7,2475.1 886.7,2475.0 889.7,2474.9 892.7,2474.8 895.7,2474.7 898.7,2474.6 901.7,2474.5 904.7,2474.3 907.7,2474.2 910.7,2474.1 913.7,2474.0 916.7,2473.9 919.7,2473.8 922.7,2473.7 925.7,2473.6 928.7,2473.5 931.7,2473.4 934.7,2473.3 937.7,2473.2 940.7,2473.1 943.7,2473.0 946.7,2472.8 949.7,2472.7 952.7,2472.6 955.7,2472.5 958.7,2472.4 961.7,2472.3 964.7,2472.2 967.7,2472.1 970.7,2472.0 973.7,2471.9 976.7,2471.8 979.7,2471.7 982.7,2471.6 985.7,2471.5 988.7,2471.4 991.7,2471.3 994.7,2471.2 997.7,2471.1 1000.7,2471.0 1003.7,2470.9 1006.7,2470.8 1009.7,2470.7 1012.7,2470.6 1015.7,2470.4 1018.7,2470.3 1021.7,2470.2 1024.7,2470.1 1027.7,2470.0 1030.7,2469.9 1033.7,2469.8 1036.7,2469.7 1039.7,2469.6 1042.7,2469.5 1045.7,2469.4 1048.7,2469.2 1051.7,2469.1 1054.7,2469.0 1057.7,2468.9 1060.7,2468.8 1063.7,2468.7 1066.7,2468.6 1069.7,2468.5 1072.7,2468.4 1075.7,2468.3 1078.7,2468.2 1081.7,2468.1 1084.7,2467.9 1087.7,2467.8 1090.7,2467.7 1093.7,2467.6 1096.7,2467.5 1099.7,2467.4 1102.7,2467.3 1105.7,2467.2 1108.7,2467.1 1111.7,2467.0 1114.7,2466.9 1117.7,2466.8 1120.7,2466.7 1123.7,2466.6 1126.7,2466.5 1129.7,2466.4 1132.7,2466.3 1135.7,2466.2 1138.7,2466.2 1141.7,2466.1 1144.7,2466.0 1147.7,2465.9 1150.7,2465.8 1153.7,2465.7 1156.7,2465.6 1159.7,2465.5 1162.7,2465.5 1165.7,2465.4 1168.7,2465.3 1171.7,2465.2 1174.7,2465.1 1177.7,2465.1 1180.7,2465.0 1183.7,2464.9 1186.7,2464.8 1189.7,2464.8 1192.7,2464.7 1195.7,2464.6 1198.7,2464.6 1201.7,2464.5 1204.7,2464.4 1207.7,2464.4 1210.7,2464.3 1213.7,2464.2 1216.7,2464.2 1219.7,2464.1 1222.7,2464.1 1225.7,2464.0 1228.7,2463.9 1231.7,2463.9 1234.7,2463.8 1237.7,2463.8 1240.7,2463.7 1243.7,2463.7 1246.7,2463.6 1249.7,2463.6 1252.7,2463.5 1255.7,2463.5 1258.7,2463.4 1261.7,2463.4 1264.7,2463.3 1267.7,2463.3 1270.7,2463.2 1273.7,2463.2 1276.7,2463.1 1279.7,2463.1 1282.7,2463.0 1285.7,2463.0 1288.7,2463.0 1291.7,2462.9 1294.7,2462.9 1297.7,2462.8 1300.7,2462.8 1303.7,2462.7 1306.7,2462.7 1309.7,2462.6 1312.7,2462.6 1315.7,2462.6 1318.7,2462.5 1321.7,2462.5 1324.7,2462.4 1327.7,2462.4 1330.7,2462.3 1333.7,2462.3 1336.7,2462.3 1339.7,2462.2 1342.7,2462.2 1345.7,2462.1 1348.7,2462.1 1351.7,2462.0 1354.7,2462.0 1357.7,2461.9 1360.7,2461.9 1363.7,2461.9 1366.7,2461.8 1369.7,2461.8 1372.7,2461.7 1375.7,2461.7 1378.7,2461.6 1381.7,2461.6 1384.7,2461.5 1387.7,2461.5 1390.7,2461.4 1393.7,2461.4 1396.7,2461.3 1399.7,2461.2 1402.7,2461.2 1405.7,2461.1 1408.7,2461.1 1411.7,2461.0 1414.7,2461.0 1417.8,2460.9 1420.8,2460.8 1423.8,2460.8 1426.8,2460.7 1429.8,2460.7 1432.8,2460.6 1435.8,2460.6 1438.8,2460.5 1441.8,2460.4 1444.8,2460.4 1447.8,2460.3 1450.8,2460.3 1453.8,2460.2 1456.8,2460.1 1459.8,2460.1 1462.8,2460.0 1465.8,2460.0 1468.8,2459.9 1471.8,2459.8 1474.8,2459.8 1477.8,2459.7 1480.8,2459.7 1483.8,2459.6 1486.8,2459.5 1489.8,2459.5 1492.8,2459.4 1495.8,2459.3 1498.8,2459.3 1501.8,2459.2 1504.8,2459.2 1507.8,2459.1 1510.8,2459.0 1513.8,2459.0 1516.8,2458.9 1519.8,2458.8 1522.8,2458.8 1525.8,2458.7 1528.8,2458.7 1531.8,2458.6 1534.8,2458.5 1537.8,2458.5 1540.8,2458.4 1543.8,2458.3 1546.8,2458.3 1549.8,2458.2 1552.8,2458.2 1555.8,2458.1 1558.8,2458.0 1561.8,2458.0 1564.8,2457.9 1567.8,2457.8 1570.8,2457.8 1573.8,2457.7 1576.8,2457.6 1579.8,2457.6 1582.8,2457.5 1585.8,2457.4 1588.8,2457.4 1591.8,2457.3 1594.8,2457.3 1597.8,2457.2 1600.8,2457.1 1603.8,2457.1 1606.8,2457.0 1609.8,2456.9 1612.8,2456.9 1615.8,2456.8 1618.8,2456.7 1621.8,2456.7 1624.8,2456.6 1627.8,2456.5 1630.8,2456.5 1633.8,2456.4 1636.8,2456.3 1639.8,2456.3 1642.8,2456.2 1645.8,2456.1 1648.8,2456.1 1651.8,2456.0 1654.8,2455.9 1657.8,2455.9 1660.8,2455.8 1663.8,2455.7 1666.8,2455.6 1669.8,2455.6 1672.8,2455.5 1675.8,2455.4 1678.8,2455.4 1681.8,2455.3 1684.8,2455.2 1687.8,2455.2 1690.8,2455.1" fill="none" stroke="#000000" stroke-width="3.0" stroke-linejoin="round" stroke-linecap="butt"/>
<polyline points="250.0,2358.5 252.9,2359.4 255.7,2360.2 258.6,2361.1 261.5,2362.0 264.4,2362.8 267.2,2363.7 270.1,2364.6 273.0,2365.4 275.9,2366.3 278.7,2367.1 281.6,2368.0 284.5,2368.8 287.4,2369.7 290.2,2370.5 293.1,2371.4 296.0,2372.2 298.9,2373.1 301.8,2373.9 304.6,2374.8 307.5,2375.6 310.4,2376.4 313.3,2377.3 316.2,2378.1 319.0,2378.9 321.9,2379.8 324.8,2380.6 327.7,2381.4 330.6,2382.2 333.5,2383.0 336.4,2383.9 339.2,2384.7 342.1,2385.5 345.0,2386.3 347.9,2387.1 350.8,2387.9 353.7,2388.7 356.6,2389.6 359.4,2390.4 362.3,2391.2 365.2,2392.0 368.1,2392.9 371.0,2393.7 373.9,2394.5 376.7,2395.4 379.6,2396.2 382.5,2397.0 385.4,2397.9 388.3,2398.7 391.2,2399.5 394.1,2400.3 396.9,2401.1 399.8,2401.9 402.7,2402.7 405.6,2403.5 408.5,2404.3 411.4,2405.1 414.3,2405.9 417.2,2406.6 420.1,2407.4 423.0,2408.1 425.9,2408.8 428.9,2409.5 431.8,2410.2 434.7,2410.9 437.6,2411.5 440.6,2412.2 443.5,2412.8 446.4,2413.4 449.4,2414.0 452.3,2414.6 455.3,2415.1 458.2,2415.7 461.2,2416.2 464.1,2416.8 467.1,2417.3 470.0,2417.8 473.0,2418.4 475.9,2418.9 478.9,2419.4 481.8,2419.9 484.8,2420.4 487.8,2420.8 490.7,2421.3 493.7,2421.8 496.6,2422.2 499.6,2422.7 502.6,2423.1 505.6,2423.6 508.5,2424.0 511.5,2424.4 514.5,2424.8 517.4,2425.2 520.4,2425.6 523.4,2426.0 526.4,2426.3 529.3,2426.7 532.3,2427.1 535.3,2427.4 538.3,2427.7 541.3,2428.1 544.2,2428.4 547.2,2428.7 550.2,2429.0 553.2,2429.3 556.2,2429.6 559.2,2429.9 562.2,2430.2 565.1,2430.5 568.1,2430.7 571.1,2431.0 574.1,2431.3 577.1,2431.6 580.1,2431.9 583.1,2432.1 586.1,2432.4 589.0,2432.7 592.0,2433.0 595.0,2433.2 598.0,2433.5 601.0,2433.7 604.0,2434.0 607.0,2434.2 610.0,2434.5 613.0,2434.7 615.9,2434.9 618.9,2435.1 621.9,2435.3 624.9,2435.5 627.9,2435.7 630.9,2435.9 633.9,2436.1 636.9,2436.3 639.9,2436.5 642.9,2436.6 645.9,2436.8 648.9,2436.9 651.9,2437.0 654.9,2437.2 657.9,2437.3 660.9,2437.4 663.9,2437.5 666.9,2437.6 669.9,2437.7 672.9,2437.8 675.9,2437.9 678.9,2437.9 681.9,2438.0 684.9,2438.0 687.9,2438.0 690.9,2438.0 693.9,2438.0 696.9,2437.9 699.9,2437.9 702.9,2437.8 705.9,2437.7 708.9,2437.6 711.9,2437.4 714.8,2437.3 717.8,2437.1 720.8,2436.9 723.8,2436.7 726.8,2436.4 729.8,2436.2 732.8,2435.9 735.8,2435.6 738.8,2435.4 741.8,2435.1 744.7,2434.8 747.7,2434.5 750.7,2434.2 753.7,2433.9 756.7,2433.6 759.7,2433.2 762.6,2432.9 765.6,2432.5 768.6,2432.2 771.6,2431.8 774.5,2431.4 777.5,2431.0 780.5,2430.6 783.5,2430.2 786.4,2429.8 789.4,2429.4 792.4,2429.0 795.4,2428.6 798.3,2428.2 801.3,2427.8 804.3,2427.4 807.2,2426.9 810.2,2426.5 813.2,2426.1 816.2,2425.7 819.1,2425.3 822.1,2424.9 825.1,2424.5 828.1,2424.1 831.0,2423.7 834.0,2423.4 837.0,2423.0 840.0,2422.7 842.9,2422.3 845.9,2422.0 848.9,2421.7 851.9,2421.3 854.9,2421.0 857.9,2420.7 860.8,2420.4 863.8,2420.1 866.8,2419.8 869.8,2419.5 872.8,2419.2 875.8,2418.9 878.8,2418.6 881.7,2418.4 884.7,2418.1 887.7,2417.8 890.7,2417.6 893.7,2417.3 896.7,2417.1 899.7,2416.8 902.7,2416.6 905.7,2416.4 908.7,2416.2 911.6,2416.0 914.6,2415.9 917.6,2415.7 920.6,2415.6 923.6,2415.4 926.6,2415.3 929.6,2415.2 932.6,2415.1 935.6,2415.1 938.6,2415.0 941.6,2415.0 944.6,2415.0 947.6,2415.0 950.6,2415.1 953.6,2415.1 956.6,2415.2 959.6,2415.3 962.6,2415.4 965.6,2415.5 968.6,2415.7 971.6,2415.9 974.6,2416.1 977.6,2416.2 980.6,2416.5 983.6,2416.7 986.6,2416.9 989.6,2417.1 992.5,2417.4 995.5,2417.6 998.5,2417.9 1001.5,2418.2 1004.5,2418.4 1007.5,2418.7 1010.5,2419.0 1013.5,2419.3 1016.4,2419.6 1019.4,2419.8 1022.4,2420.1 1025.4,2420.4 1028.4,2420.7 1031.4,2421.0 1034.4,2421.3 1037.3,2421.6 1040.3,2421.9 1043.3,2422.2 1046.3,2422.5 1049.3,2422.8 1052.3,2423.0 1055.3,2423.3 1058.3,2423.6 1061.2,2423.8 1064.2,2424.1 1067.2,2424.3 1070.2,2424.6 1073.2,2424.8 1076.2,2425.1 1079.2,2425.3 1082.2,2425.6 1085.2,2425.8 1088.1,2426.0 1091.1,2426.3 1094.1,2426.5 1097.1,2426.7 1100.1,2427.0 1103.1,2427.2 1106.1,2427.5 1109.1,2427.7 1112.1,2427.9 1115.1,2428.2 1118.1,2428.4 1121.0,2428.6 1124.0,2428.9 1127.0,2429.1 1130.0,2429.3 1133.0,2429.6 1136.0,2429.8 1139.0,2430.0 1142.0,2430.2 1145.0,2430.4 1148.0,2430.6 1151.0,2430.8 1154.0,2431.0 1157.0,2431.2 1160.0,2431.3 1162.9,2431.5 1165.9,2431.7 1168.9,2431.8 1171.9,2431.9 1174.9,2432.1 1177.9,2432.2 1180.9,2432.3 1183.9,2432.4 1186.9,2432.5 1189.9,2432.6 1192.9,2432.7 1195.9,2432.8 1198.9,2432.9 1201.9,2433.0 1204.9,2433.1 1207.9,2433.2 1210.9,2433.2 1213.9,2433.3 1216.9,2433.4 1219.9,2433.5 1222.9,2433.6 1225.9,2433.6 1228.9,2433.7 1231.9,2433.8 1234.9,2433.9 1237.9,2433.9 1240.9,2434.0 1243.9,2434.1 1246.9,2434.1 1249.9,2434.2 1252.9,2434.3 1255.9,2434.3 1258.9,2434.4 1261.9,2434.4 1264.9,2434.5 1267.9,2434.5 1270.9,2434.6 1273.9,2434.6 1276.9,2434.7 1279.9,2434.7 1282.9,2434.7 1285.9,2434.8 1288.9,2434.8 1291.9,2434.9 1294.9,2434.9 1297.9,2434.9 1300.9,2434.9 1303.9,2435.0 1306.9,2435.0 1309.9,2435.0 1312.9,2435.0 1315.9,2435.0 1318.9,2435.0 1321.9,2435.0 1324.9,2435.0 1327.9,2435.0 1330.9,2435.0 1333.9,2435.0 1336.9,2435.0 1339.9,2435.0 1342.9,2434.9 1345.9,2434.9 1348.9,2434.9 1351.9,2434.8 1354.9,2434.8 1357.9,2434.8 1360.9,2434.7 1363.9,2434.7 1366.9,2434.6 1369.9,2434.6 1372.9,2434.5 1375.9,2434.5 1378.9,2434.4 1381.9,2434.4 1384.9,2434.3 1387.9,2434.3 1390.9,2434.2 1393.9,2434.2 1396.9,2434.1 1399.9,2434.0 1402.9,2434.0 1405.9,2433.9 1408.9,2433.9 1411.9,2433.8 1414.9,2433.7 1417.9,2433.7 1420.9,2433.6 1423.9,2433.5 1426.9,2433.5 1429.9,2433.4 1432.9,2433.3 1435.9,2433.3 1438.9,2433.2 1441.9,2433.1 1444.9,2433.0 1447.9,2433.0 1450.9,2432.9 1453.9,2432.8 1456.9,2432.7 1459.9,2432.7 1462.9,2432.6 1465.9,2432.5 1468.9,2432.4 1471.9,2432.4 1474.9,2432.3 1477.9,2432.2 1480.9,2432.1 1483.9,2432.1 1486.9,2432.0 1489.9,2431.9 1492.9,2431.8 1495.9,2431.8 1498.9,2431.7 1501.9,2431.6 1504.9,2431.5 1507.9,2431.5 1510.9,2431.4 1513.9,2431.3 1516.9,2431.2 1519.9,2431.1 1522.9,2431.1 1525.9,2431.0 1528.9,2430.9 1531.9,2430.8 1534.9,2430.8 1537.9,2430.7 1540.9,2430.6 1543.9,2430.5 1546.9,2430.5 1549.9,2430.4 1552.8,2430.3 1555.8,2430.2 1558.8,2430.2 1561.8,2430.1 1564.8,2430.0 1567.8,2429.9 1570.8,2429.8 1573.8,2429.8 1576.8,2429.7 1579.8,2429.6 1582.8,2429.5 1585.8,2429.4 1588.8,2429.4 1591.8,2429.3 1594.8,2429.2 1597.8,2429.1 1600.8,2429.0 1603.8,2429.0 1606.8,2428.9 1609.8,2428.8 1612.8,2428.7 1615.8,2428.6 1618.8,2428.5 1621.8,2428.5 1624.8,2428.4 1627.8,2428.3 1630.8,2428.2 1633.8,2428.1 1636.8,2428.0 1639.8,2428.0 1642.8,2427.9 1645.8,2427.8 1648.8,2427.7 1651.8,2427.6 1654.8,2427.5 1657.8,2427.5 1660.8,2427.4 1663.8,2427.3 1666.8,2427.2 1669.8,2427.1 1672.8,2427.0 1675.8,2426.9 1678.8,2426.8 1681.8,2426.8 1684.8,2426.7 1687.8,2426.6 1690.8,2426.5" fill="none" stroke="#FF0000" stroke-width="3.0" stroke-linejoin="round" stroke-linecap="butt"/>
<polyline points="250.0,2179.7 252.8,2180.7 255.7,2181.7 258.5,2182.7 261.3,2183.7 264.2,2184.6 267.0,2185.6 269.8,2186.6 272.7,2187.6 275.5,2188.6 278.3,2189.6 281.2,2190.5 284.0,2191.5 286.9,2192.5 289.7,2193.4 292.5,2194.4 295.4,2195.4 298.2,2196.3 301.1,2197.3 303.9,2198.2 306.7,2199.2 309.6,2200.1 312.4,2201.1 315.3,2202.0 318.1,2203.0 321.0,2203.9 323.8,2204.8 326.7,2205.8 329.5,2206.7 332.4,2207.6 335.2,2208.6 338.1,2209.5 341.0,2210.4 343.8,2211.3 346.7,2212.2 349.5,2213.1 352.4,2214.1 355.2,2215.0 358.1,2215.9 361.0,2216.8 363.8,2217.7 366.7,2218.6 369.5,2219.6 372.4,2220.5 375.2,2221.4 378.1,2222.3 381.0,2223.2 383.8,2224.2 386.7,2225.1 389.5,2226.0 392.4,2226.9 395.3,2227.8 398.1,2228.7 401.0,2229.6 403.8,2230.4 406.7,2231.3 409.6,2232.2 412.5,2233.0 415.3,2233.9 418.2,2234.7 421.1,2235.6 424.0,2236.4 426.9,2237.2 429.8,2238.0 432.7,2238.8 435.6,2239.6 438.5,2240.3 441.4,2241.1 444.3,2241.8 447.2,2242.6 450.1,2243.3 453.0,2244.0 455.9,2244.7 458.8,2245.4 461.8,2246.0 464.7,2246.7 467.6,2247.4 470.5,2248.0 473.5,2248.7 476.4,2249.4 479.3,2250.0 482.3,2250.6 485.2,2251.3 488.1,2251.9 491.1,2252.5 494.0,2253.1 496.9,2253.7 499.9,2254.3 502.8,2254.9 505.8,2255.5 508.7,2256.0 511.7,2256.6 514.6,2257.1 517.6,2257.7 520.5,2258.2 523.5,2258.7 526.4,2259.2 529.4,2259.7 532.4,2260.2 535.3,2260.6 538.3,2261.1 541.3,2261.5 544.2,2262.0 547.2,2262.4 550.2,2262.8 553.1,2263.2 556.1,2263.6 559.1,2264.0 562.1,2264.4 565.0,2264.8 568.0,2265.1 571.0,2265.5 574.0,2265.9 576.9,2266.2 579.9,2266.6 582.9,2266.9 585.9,2267.2 588.9,2267.5 591.9,2267.8 594.8,2268.1 597.8,2268.4 600.8,2268.6 603.8,2268.8 606.8,2269.0 609.8,2269.2 612.8,2269.3 615.8,2269.4 618.8,2269.5 621.8,2269.5 624.8,2269.5 627.8,2269.5 630.8,2269.4 633.8,2269.3 636.8,2269.1 639.7,2268.9 642.7,2268.6 645.7,2268.4 648.7,2268.1 651.7,2267.8 654.7,2267.5 657.7,2267.1 660.6,2266.7 663.6,2266.3 666.6,2265.8 669.5,2265.4 672.5,2264.8 675.4,2264.3 678.4,2263.7 681.3,2263.1 684.2,2262.4 687.1,2261.7 690.0,2261.0 692.9,2260.3 695.8,2259.5 698.7,2258.6 701.5,2257.7 704.4,2256.7 707.2,2255.6 709.9,2254.5 712.7,2253.3 715.4,2252.0 718.0,2250.7 720.7,2249.3 723.3,2247.9 725.9,2246.4 728.5,2244.9 731.1,2243.3 733.6,2241.7 736.2,2240.2 738.7,2238.6 741.2,2237.0 743.8,2235.3 746.3,2233.7 748.8,2232.1 751.3,2230.5 753.9,2228.8 756.4,2227.2 758.9,2225.5 761.3,2223.8 763.8,2222.1 766.3,2220.4 768.7,2218.7 771.2,2216.9 773.6,2215.2 776.0,2213.4 778.4,2211.6 780.8,2209.8 783.2,2208.0 785.6,2206.2 787.9,2204.3 790.3,2202.5 792.6,2200.6 795.0,2198.7 797.3,2196.8 799.6,2194.9 801.8,2192.9 804.1,2190.9 806.3,2188.9 808.6,2186.9 810.8,2184.9 813.0,2182.9 815.2,2180.8 817.4,2178.8 819.6,2176.8 821.8,2174.7 824.0,2172.7 826.2,2170.6 828.4,2168.6 830.6,2166.6 832.9,2164.6 835.1,2162.7 837.4,2160.7 839.7,2158.8 842.1,2156.9 844.4,2155.1 846.8,2153.3 849.3,2151.6 851.7,2149.9 854.2,2148.2 856.7,2146.5 859.3,2144.9 861.8,2143.4 864.4,2141.8 867.0,2140.3 869.6,2138.9 872.2,2137.4 874.9,2136.0 877.5,2134.6 880.2,2133.2 882.8,2131.8 885.5,2130.5 888.2,2129.1 890.9,2127.8 893.6,2126.4 896.2,2125.1 898.9,2123.7 901.6,2122.4 904.3,2121.1 907.0,2119.8 909.7,2118.5 912.4,2117.3 915.2,2116.1 917.9,2115.1 920.7,2114.1 923.6,2113.3 926.5,2112.6 929.4,2112.0 932.3,2111.6 935.3,2111.2 938.3,2111.0 941.2,2110.8 944.2,2110.7 947.2,2110.7 950.2,2110.8 953.2,2110.9 956.2,2111.0 959.2,2111.3 962.1,2111.6 965.1,2112.0 968.0,2112.5 970.9,2113.1 973.8,2113.8 976.7,2114.6 979.5,2115.6 982.3,2116.6 985.1,2117.7 987.8,2118.9 990.5,2120.2 993.2,2121.4 995.9,2122.7 998.7,2123.9 1001.4,2125.2 1004.1,2126.4 1006.9,2127.6 1009.6,2128.8 1012.3,2130.1 1015.0,2131.4 1017.7,2132.7 1020.4,2134.1 1023.0,2135.5 1025.5,2137.1 1028.1,2138.6 1030.6,2140.2 1033.1,2141.9 1035.6,2143.6 1038.1,2145.2 1040.6,2146.9 1043.1,2148.6 1045.6,2150.3 1048.1,2151.9 1050.6,2153.6 1053.0,2155.2 1055.5,2156.9 1058.0,2158.6 1060.5,2160.3 1062.9,2162.1 1065.3,2163.8 1067.7,2165.6 1070.1,2167.4 1072.5,2169.3 1074.8,2171.1 1077.2,2173.0 1079.5,2174.9 1081.9,2176.7 1084.2,2178.6 1086.5,2180.5 1088.9,2182.4 1091.2,2184.3 1093.5,2186.2 1095.8,2188.1 1098.1,2190.0 1100.5,2191.9 1102.8,2193.8 1105.2,2195.6 1107.6,2197.4 1110.0,2199.1 1112.5,2200.9 1114.9,2202.6 1117.4,2204.2 1119.9,2205.9 1122.5,2207.5 1125.0,2209.1 1127.5,2210.7 1130.0,2212.4 1132.6,2214.0 1135.1,2215.6 1137.6,2217.3 1140.0,2219.0 1142.5,2220.7 1145.0,2222.4 1147.4,2224.1 1149.9,2225.9 1152.3,2227.6 1154.8,2229.3 1157.3,2231.0 1159.7,2232.7 1162.2,2234.3 1164.8,2236.0 1167.3,2237.6 1169.8,2239.2 1172.4,2240.7 1175.0,2242.2 1177.6,2243.6 1180.3,2245.1 1182.9,2246.5 1185.6,2247.8 1188.3,2249.2 1190.9,2250.5 1193.6,2251.9 1196.3,2253.2 1199.0,2254.6 1201.7,2255.9 1204.3,2257.3 1207.0,2258.6 1209.7,2260.0 1212.4,2261.4 1215.0,2262.7 1217.7,2264.1 1220.4,2265.4 1223.1,2266.7 1225.8,2268.0 1228.5,2269.2 1231.3,2270.4 1234.1,2271.5 1236.9,2272.6 1239.7,2273.6 1242.5,2274.7 1245.3,2275.7 1248.1,2276.7 1250.9,2277.8 1253.7,2278.8 1256.5,2279.9 1259.3,2281.1 1262.0,2282.2 1264.8,2283.3 1267.6,2284.4 1270.4,2285.5 1273.2,2286.5 1276.1,2287.5 1278.9,2288.4 1281.8,2289.3 1284.6,2290.2 1287.5,2291.1 1290.4,2291.9 1293.3,2292.7 1296.2,2293.4 1299.1,2294.1 1302.0,2294.8 1304.9,2295.5 1307.9,2296.1 1310.8,2296.7 1313.7,2297.3 1316.7,2297.9 1319.6,2298.5 1322.6,2299.1 1325.5,2299.7 1328.5,2300.2 1331.4,2300.8 1334.3,2301.4 1337.3,2302.0 1340.2,2302.6 1343.2,2303.2 1346.1,2303.8 1349.0,2304.4 1352.0,2305.0 1354.9,2305.7 1357.8,2306.4 1360.7,2307.1 1363.7,2307.8 1366.6,2308.5 1369.5,2309.2 1372.4,2309.9 1375.3,2310.6 1378.2,2311.3 1381.2,2312.0 1384.1,2312.6 1387.0,2313.3 1389.9,2313.9 1392.9,2314.5 1395.8,2315.1 1398.8,2315.6 1401.7,2316.2 1404.7,2316.7 1407.6,2317.1 1410.6,2317.6 1413.6,2318.1 1416.5,2318.5 1419.5,2318.9 1422.5,2319.3 1425.4,2319.7 1428.4,2320.1 1431.4,2320.5 1434.4,2320.9 1437.4,2321.2 1440.3,2321.6 1443.3,2321.9 1446.3,2322.2 1449.3,2322.5 1452.3,2322.8 1455.3,2323.1 1458.2,2323.4 1461.2,2323.7 1464.2,2324.0 1467.2,2324.2 1470.2,2324.5 1473.2,2324.8 1476.2,2325.0 1479.2,2325.3 1482.1,2325.5 1485.1,2325.8 1488.1,2326.0 1491.1,2326.3 1494.1,2326.5 1497.1,2326.7 1500.1,2326.9 1503.1,2327.1 1506.1,2327.3 1509.1,2327.5 1512.1,2327.7 1515.1,2327.8 1518.1,2328.0 1521.1,2328.1 1524.1,2328.2 1527.1,2328.4 1530.1,2328.5 1533.1,2328.6 1536.0,2328.7 1539.0,2328.8 1542.0,2328.9 1545.0,2329.0 1548.0,2329.1 1551.0,2329.2 1554.0,2329.3 1557.0,2329.3 1560.0,2329.4 1563.0,2329.5 1566.0,2329.5 1569.0,2329.6 1572.0,2329.6 1575.0,2329.6 1578.0,2329.6 1581.0,2329.7 1584.0,2329.7 1587.0,2329.7 1590.0,2329.6 1593.0,2329.6 1596.0,2329.6 1599.0,2329.6 1602.0,2329.6 1605.0,2329.5 1608.0,2329.5 1611.0,2329.4 1614.0,2329.4 1617.0,2329.3 1620.0,2329.3 1623.0,2329.2 1626.0,2329.2 1629.0,2329.1 1632.0,2329.1 1635.0,2329.0 1638.0,2328.9 1641.0,2328.8 1644.0,2328.8 1647.0,2328.7 1650.0,2328.6 1653.0,2328.5 1656.0,2328.4 1659.0,2328.3 1662.0,2328.2 1665.0,2328.1 1668.0,2328.0 1671.0,2327.8 1674.0,2327.7 1677.0,2327.6 1680.0,2327.4 1683.0,2327.3 1686.0,2327.2 1689.0,2327.0 1690.0,2327.0" fill="none" stroke="#0000FF" stroke-width="3.0" stroke-linejoin="round" stroke-linecap="butt"/>
<polyline points="250.0,2078.0 252.8,2079.1 255.5,2080.3 258.3,2081.4 261.1,2082.6 263.9,2083.7 266.6,2084.9 269.4,2086.0 272.2,2087.1 275.0,2088.2 277.8,2089.4 280.6,2090.5 283.4,2091.6 286.1,2092.7 288.9,2093.8 291.7,2094.9 294.5,2095.9 297.3,2097.0 300.1,2098.1 303.0,2099.1 305.8,2100.2 308.6,2101.2 311.4,2102.3 314.2,2103.3 317.0,2104.3 319.9,2105.4 322.7,2106.4 325.5,2107.4 328.3,2108.4 331.2,2109.3 334.0,2110.3 336.9,2111.3 339.7,2112.3 342.5,2113.2 345.4,2114.2 348.2,2115.2 351.1,2116.1 353.9,2117.1 356.8,2118.0 359.6,2119.0 362.4,2119.9 365.3,2120.9 368.1,2121.8 371.0,2122.7 373.9,2123.7 376.7,2124.6 379.6,2125.5 382.4,2126.5 385.3,2127.4 388.1,2128.3 391.0,2129.2 393.9,2130.1 396.7,2131.0 399.6,2131.9 402.5,2132.7 405.3,2133.6 408.2,2134.5 411.1,2135.3 414.0,2136.2 416.8,2137.0 419.7,2137.9 422.6,2138.7 425.5,2139.5 428.4,2140.3 431.3,2141.1 434.2,2141.9 437.1,2142.7 440.0,2143.5 442.9,2144.2 445.8,2145.0 448.7,2145.7 451.6,2146.5 454.5,2147.2 457.4,2147.9 460.3,2148.7 463.2,2149.4 466.1,2150.1 469.1,2150.8 472.0,2151.5 474.9,2152.3 477.8,2153.0 480.7,2153.7 483.6,2154.4 486.6,2155.1 489.5,2155.7 492.4,2156.4 495.3,2157.1 498.3,2157.7 501.2,2158.4 504.1,2159.0 507.1,2159.7 510.0,2160.3 512.9,2160.9 515.9,2161.5 518.8,2162.1 521.8,2162.6 524.7,2163.2 527.7,2163.7 530.6,2164.2 533.6,2164.7 536.5,2165.2 539.5,2165.7 542.5,2166.1 545.4,2166.6 548.4,2167.0 551.4,2167.4 554.4,2167.8 557.3,2168.2 560.3,2168.5 563.3,2168.9 566.3,2169.2 569.3,2169.5 572.3,2169.8 575.2,2170.1 578.2,2170.4 581.2,2170.7 584.2,2170.9 587.2,2171.1 590.2,2171.3 593.2,2171.4 596.2,2171.6 599.2,2171.7 602.2,2171.7 605.2,2171.7 608.2,2171.7 611.2,2171.7 614.2,2171.6 617.2,2171.4 620.2,2171.3 623.2,2171.1 626.1,2170.9 629.1,2170.6 632.1,2170.3 635.1,2170.0 638.1,2169.7 641.1,2169.4 644.1,2169.0 647.0,2168.7 650.0,2168.2 653.0,2167.8 655.9,2167.2 658.8,2166.6 661.8,2166.0 664.7,2165.3 667.5,2164.5 670.4,2163.6 673.3,2162.7 676.1,2161.7 678.9,2160.7 681.7,2159.6 684.5,2158.5 687.3,2157.4 690.0,2156.2 692.8,2155.0 695.5,2153.7 698.2,2152.4 700.8,2151.0 703.5,2149.6 706.1,2148.1 708.6,2146.6 711.2,2145.0 713.6,2143.3 716.1,2141.6 718.5,2139.9 720.9,2138.0 723.2,2136.2 725.6,2134.3 727.9,2132.3 730.1,2130.4 732.4,2128.4 734.7,2126.5 736.9,2124.5 739.1,2122.5 741.4,2120.5 743.6,2118.4 745.8,2116.4 748.0,2114.4 750.2,2112.4 752.4,2110.3 754.6,2108.2 756.7,2106.1 758.9,2104.0 761.0,2101.9 763.1,2099.8 765.3,2097.7 767.4,2095.6 769.5,2093.4 771.5,2091.2 773.6,2089.1 775.7,2086.9 777.7,2084.7 779.7,2082.5 781.7,2080.2 783.7,2078.0 785.7,2075.7 787.6,2073.4 789.6,2071.1 791.5,2068.8 793.4,2066.5 795.3,2064.2 797.2,2061.9 799.1,2059.5 801.0,2057.2 802.8,2054.8 804.7,2052.5 806.5,2050.1 808.3,2047.7 810.1,2045.3 811.9,2042.9 813.7,2040.5 815.4,2038.1 817.2,2035.6 818.9,2033.2 820.7,2030.7 822.4,2028.3 824.1,2025.8 825.9,2023.4 827.6,2020.9 829.3,2018.5 831.1,2016.0 832.8,2013.6 834.6,2011.2 836.3,2008.7 838.1,2006.3 839.9,2003.9 841.7,2001.5 843.5,1999.1 845.3,1996.7 847.2,1994.4 849.0,1992.0 850.8,1989.6 852.7,1987.2 854.5,1984.8 856.3,1982.5 858.2,1980.1 860.0,1977.8 861.9,1975.4 863.8,1973.1 865.7,1970.8 867.7,1968.5 869.6,1966.2 871.6,1964.0 873.6,1961.8 875.7,1959.6 877.8,1957.5 880.0,1955.4 882.2,1953.4 884.5,1951.5 886.8,1949.6 889.2,1947.8 891.6,1946.0 894.1,1944.3 896.6,1942.7 899.1,1941.1 901.6,1939.5 904.2,1938.0 906.8,1936.5 909.4,1935.0 912.0,1933.5 914.7,1932.1 917.3,1930.6 919.9,1929.2 922.6,1927.9 925.3,1926.6 928.0,1925.4 930.8,1924.3 933.6,1923.3 936.4,1922.4 939.3,1921.6 942.2,1921.0 945.1,1920.5 948.0,1920.1 951.0,1919.9 954.0,1919.9 956.9,1920.0 959.9,1920.2 962.8,1920.6 965.7,1921.1 968.6,1921.8 971.5,1922.5 974.4,1923.4 977.2,1924.3 980.0,1925.3 982.8,1926.4 985.6,1927.5 988.3,1928.7 991.0,1930.0 993.7,1931.3 996.4,1932.7 999.0,1934.2 1001.6,1935.7 1004.1,1937.3 1006.6,1938.9 1009.1,1940.6 1011.5,1942.3 1013.9,1944.1 1016.3,1945.9 1018.7,1947.7 1021.1,1949.6 1023.4,1951.4 1025.7,1953.3 1028.0,1955.3 1030.3,1957.2 1032.6,1959.2 1034.8,1961.2 1037.0,1963.2 1039.2,1965.2 1041.4,1967.3 1043.6,1969.4 1045.8,1971.5 1047.9,1973.6 1050.0,1975.7 1052.1,1977.8 1054.3,1979.9 1056.4,1982.1 1058.5,1984.2 1060.5,1986.4 1062.6,1988.5 1064.7,1990.7 1066.8,1992.8 1068.9,1995.0 1071.0,1997.2 1073.0,1999.4 1075.1,2001.5 1077.1,2003.7 1079.2,2005.9 1081.2,2008.1 1083.3,2010.3 1085.3,2012.5 1087.3,2014.8 1089.3,2017.0 1091.3,2019.2 1093.3,2021.5 1095.3,2023.7 1097.3,2026.0 1099.3,2028.2 1101.3,2030.5 1103.3,2032.7 1105.3,2034.9 1107.2,2037.2 1109.3,2039.4 1111.3,2041.7 1113.3,2043.9 1115.3,2046.1 1117.3,2048.3 1119.3,2050.5 1121.4,2052.7 1123.4,2055.0 1125.4,2057.2 1127.5,2059.4 1129.5,2061.6 1131.5,2063.8 1133.6,2066.0 1135.6,2068.2 1137.7,2070.4 1139.7,2072.6 1141.8,2074.8 1143.8,2076.9 1145.9,2079.1 1148.0,2081.3 1150.0,2083.5 1152.1,2085.6 1154.2,2087.8 1156.3,2089.9 1158.5,2092.0 1160.6,2094.1 1162.7,2096.2 1164.9,2098.3 1167.0,2100.4 1169.2,2102.5 1171.4,2104.5 1173.6,2106.6 1175.8,2108.6 1178.0,2110.6 1180.2,2112.7 1182.4,2114.7 1184.7,2116.7 1186.9,2118.7 1189.1,2120.7 1191.4,2122.7 1193.7,2124.6 1195.9,2126.6 1198.2,2128.6 1200.5,2130.5 1202.8,2132.5 1205.0,2134.4 1207.3,2136.3 1209.7,2138.3 1212.0,2140.2 1214.3,2142.1 1216.6,2144.0 1218.9,2145.9 1221.3,2147.8 1223.6,2149.7 1225.9,2151.5 1228.3,2153.4 1230.6,2155.3 1233.0,2157.2 1235.3,2159.0 1237.7,2160.9 1240.0,2162.8 1242.4,2164.6 1244.8,2166.4 1247.1,2168.3 1249.5,2170.1 1252.0,2171.8 1254.4,2173.6 1256.8,2175.3 1259.3,2177.1 1261.8,2178.7 1264.3,2180.4 1266.8,2182.0 1269.4,2183.5 1272.0,2185.1 1274.6,2186.5 1277.2,2188.0 1279.8,2189.4 1282.5,2190.7 1285.2,2192.1 1287.9,2193.4 1290.6,2194.7 1293.3,2196.0 1296.0,2197.3 1298.7,2198.6 1301.4,2199.8 1304.2,2201.1 1306.9,2202.4 1309.6,2203.7 1312.3,2204.9 1315.0,2206.2 1317.7,2207.5 1320.5,2208.7 1323.2,2210.0 1325.9,2211.3 1328.6,2212.5 1331.4,2213.8 1334.1,2215.0 1336.9,2216.2 1339.6,2217.4 1342.3,2218.6 1345.1,2219.8 1347.9,2221.0 1350.6,2222.1 1353.4,2223.3 1356.2,2224.4 1359.0,2225.5 1361.8,2226.6 1364.6,2227.7 1367.4,2228.7 1370.2,2229.8 1373.0,2230.8 1375.8,2231.8 1378.7,2232.8 1381.5,2233.8 1384.4,2234.7 1387.2,2235.6 1390.1,2236.5 1393.0,2237.3 1395.9,2238.1 1398.8,2238.9 1401.7,2239.6 1404.6,2240.3 1407.5,2241.0 1410.4,2241.7 1413.4,2242.3 1416.3,2242.9 1419.2,2243.5 1422.2,2244.1 1425.1,2244.7 1428.1,2245.3 1431.0,2245.8 1434.0,2246.4 1436.9,2246.9 1439.9,2247.4 1442.8,2247.9 1445.8,2248.4 1448.8,2248.9 1451.7,2249.4 1454.7,2249.9 1457.7,2250.3 1460.6,2250.8 1463.6,2251.2 1466.6,2251.7 1469.5,2252.1 1472.5,2252.6 1475.5,2253.0 1478.4,2253.5 1481.4,2253.9 1484.4,2254.3 1487.3,2254.8 1490.3,2255.2 1493.3,2255.6 1496.3,2256.0 1499.2,2256.4 1502.2,2256.7 1505.2,2257.1 1508.2,2257.4 1511.2,2257.8 1514.1,2258.1 1517.1,2258.4 1520.1,2258.6 1523.1,2258.9 1526.1,2259.2 1529.1,2259.4 1532.1,2259.7 1535.1,2259.9 1538.1,2260.2 1541.0,2260.4 1544.0,2260.6 1547.0,2260.8 1550.0,2261.0 1553.0,2261.2 1556.0,2261.4 1559.0,2261.6 1562.0,2261.8 1565.0,2261.9 1568.0,2262.1 1571.0,2262.2 1574.0,2262.3 1577.0,2262.5 1580.0,2262.6 1583.0,2262.6 1586.0,2262.7 1589.0,2262.8 1592.0,2262.9 1595.0,2262.9 1598.0,2263.0 1601.0,2263.1 1604.0,2263.1 1607.0,2263.2 1610.0,2263.2 1613.0,2263.3 1616.0,2263.3 1619.0,2263.3 1622.0,2263.4 1625.0,2263.4 1628.0,2263.4 1631.0,2263.4 1634.0,2263.4 1637.0,2263.4 1640.0,2263.3 1643.0,2263.3 1646.0,2263.3 1649.0,2263.2 1652.0,2263.2 1655.0,2263.1 1658.0,2263.0 1661.0,2262.9 1664.0,2262.8 1667.0,2262.7 1670.0,2262.6 1673.0,2262.5 1676.0,2262.4 1679.0,2262.3 1682.0,2262.1 1685.0,2262.0 1688.0,2261.9 1690.0,2261.8" fill="none" stroke="#008080" stroke-width="3.0" stroke-linejoin="round" stroke-linecap="butt"/>
<polyline points="250.0,1999.0 252.8,2000.1 255.6,2001.2 258.4,2002.3 261.2,2003.3 264.0,2004.4 266.8,2005.5 269.6,2006.6 272.4,2007.6 275.2,2008.7 278.0,2009.8 280.8,2010.8 283.6,2011.9 286.4,2012.9 289.3,2014.0 292.1,2015.0 294.9,2016.1 297.7,2017.1 300.5,2018.1 303.3,2019.2 306.2,2020.2 309.0,2021.2 311.8,2022.2 314.6,2023.2 317.5,2024.2 320.3,2025.2 323.1,2026.2 326.0,2027.2 328.8,2028.2 331.6,2029.2 334.5,2030.2 337.3,2031.1 340.2,2032.1 343.0,2033.0 345.8,2034.0 348.7,2034.9 351.5,2035.9 354.4,2036.8 357.2,2037.8 360.1,2038.7 363.0,2039.6 365.8,2040.6 368.7,2041.5 371.5,2042.4 374.4,2043.4 377.2,2044.3 380.1,2045.2 382.9,2046.1 385.8,2047.0 388.7,2047.9 391.5,2048.8 394.4,2049.7 397.3,2050.6 400.1,2051.5 403.0,2052.4 405.9,2053.3 408.7,2054.1 411.6,2055.0 414.5,2055.8 417.4,2056.7 420.3,2057.5 423.1,2058.3 426.0,2059.1 428.9,2059.9 431.8,2060.7 434.7,2061.5 437.6,2062.3 440.5,2063.0 443.4,2063.8 446.3,2064.5 449.2,2065.3 452.2,2066.0 455.1,2066.7 458.0,2067.4 460.9,2068.1 463.8,2068.9 466.7,2069.6 469.7,2070.3 472.6,2071.0 475.5,2071.6 478.4,2072.3 481.3,2073.0 484.3,2073.7 487.2,2074.4 490.1,2075.0 493.0,2075.7 496.0,2076.3 498.9,2077.0 501.8,2077.6 504.8,2078.2 507.7,2078.8 510.7,2079.4 513.6,2080.0 516.6,2080.6 519.5,2081.2 522.4,2081.7 525.4,2082.2 528.4,2082.8 531.3,2083.3 534.3,2083.7 537.2,2084.2 540.2,2084.7 543.2,2085.1 546.2,2085.5 549.1,2085.9 552.1,2086.3 555.1,2086.7 558.1,2087.1 561.0,2087.4 564.0,2087.8 567.0,2088.1 570.0,2088.4 573.0,2088.7 576.0,2089.0 578.9,2089.3 581.9,2089.6 584.9,2089.8 587.9,2090.0 590.9,2090.2 593.9,2090.4 596.9,2090.5 599.9,2090.7 602.9,2090.7 605.9,2090.8 608.9,2090.9 611.9,2090.9 614.9,2090.9 617.9,2090.8 620.9,2090.8 623.9,2090.7 626.9,2090.6 629.9,2090.4 632.9,2090.2 635.9,2090.0 638.9,2089.7 641.8,2089.4 644.8,2089.0 647.8,2088.6 650.7,2088.2 653.7,2087.6 656.6,2087.0 659.5,2086.4 662.4,2085.6 665.3,2084.8 668.1,2083.8 670.9,2082.8 673.7,2081.6 676.4,2080.4 679.1,2079.1 681.7,2077.7 684.4,2076.3 686.9,2074.8 689.5,2073.3 692.0,2071.7 694.6,2070.0 697.0,2068.3 699.5,2066.6 701.9,2064.8 704.3,2063.0 706.6,2061.2 708.9,2059.2 711.2,2057.3 713.5,2055.3 715.7,2053.4 718.0,2051.4 720.2,2049.4 722.5,2047.4 724.7,2045.4 727.0,2043.4 729.2,2041.4 731.4,2039.4 733.6,2037.3 735.7,2035.2 737.8,2033.1 739.9,2030.9 741.9,2028.7 743.9,2026.5 745.8,2024.2 747.7,2021.9 749.6,2019.6 751.5,2017.2 753.3,2014.9 755.2,2012.5 757.0,2010.1 758.8,2007.7 760.6,2005.3 762.4,2002.9 764.2,2000.5 766.0,1998.1 767.8,1995.7 769.6,1993.2 771.3,1990.8 773.1,1988.4 774.8,1986.0 776.6,1983.5 778.3,1981.1 780.1,1978.6 781.8,1976.2 783.5,1973.7 785.2,1971.2 786.9,1968.7 788.6,1966.3 790.2,1963.8 791.9,1961.3 793.6,1958.8 795.2,1956.3 796.9,1953.8 798.5,1951.2 800.1,1948.7 801.7,1946.2 803.3,1943.6 804.9,1941.1 806.5,1938.5 808.1,1936.0 809.6,1933.4 811.2,1930.8 812.7,1928.3 814.2,1925.7 815.8,1923.1 817.3,1920.5 818.8,1917.9 820.4,1915.4 821.9,1912.8 823.4,1910.2 825.0,1907.6 826.5,1905.0 828.0,1902.5 829.6,1899.9 831.1,1897.3 832.7,1894.7 834.2,1892.2 835.7,1889.6 837.3,1887.0 838.8,1884.4 840.4,1881.9 841.9,1879.3 843.5,1876.7 845.0,1874.1 846.6,1871.6 848.2,1869.0 849.7,1866.5 851.3,1863.9 853.0,1861.4 854.6,1858.9 856.2,1856.4 857.9,1853.9 859.6,1851.4 861.3,1848.9 863.0,1846.5 864.7,1844.0 866.5,1841.6 868.2,1839.2 870.0,1836.7 871.8,1834.3 873.6,1831.9 875.4,1829.5 877.3,1827.2 879.1,1824.8 881.0,1822.4 882.8,1820.1 884.7,1817.8 886.6,1815.4 888.6,1813.1 890.5,1810.9 892.5,1808.6 894.5,1806.3 896.5,1804.1 898.5,1801.9 900.5,1799.7 902.6,1797.5 904.7,1795.4 906.8,1793.2 908.9,1791.1 911.0,1789.0 913.2,1787.0 915.5,1785.0 917.8,1783.1 920.1,1781.3 922.5,1779.5 925.0,1777.8 927.5,1776.3 930.1,1774.8 932.7,1773.4 935.4,1772.0 938.1,1770.8 940.9,1769.7 943.7,1768.6 946.5,1767.7 949.4,1766.9 952.3,1766.1 955.2,1765.5 958.1,1765.0 961.0,1764.6 964.0,1764.4 967.0,1764.3 969.9,1764.3 972.9,1764.5 975.8,1764.8 978.8,1765.3 981.7,1765.8 984.6,1766.5 987.4,1767.3 990.3,1768.3 993.1,1769.3 995.9,1770.4 998.6,1771.5 1001.3,1772.8 1003.9,1774.2 1006.5,1775.7 1009.0,1777.3 1011.4,1779.0 1013.8,1780.8 1016.1,1782.7 1018.4,1784.6 1020.6,1786.6 1022.8,1788.7 1025.0,1790.7 1027.1,1792.8 1029.3,1794.9 1031.4,1797.0 1033.6,1799.1 1035.7,1801.2 1037.9,1803.3 1040.0,1805.4 1042.2,1807.4 1044.4,1809.5 1046.5,1811.6 1048.7,1813.7 1050.8,1815.8 1053.0,1817.9 1055.1,1820.0 1057.2,1822.2 1059.3,1824.3 1061.4,1826.4 1063.5,1828.6 1065.6,1830.7 1067.7,1832.9 1069.7,1835.1 1071.8,1837.3 1073.8,1839.5 1075.9,1841.7 1077.9,1843.9 1079.9,1846.1 1081.9,1848.4 1083.9,1850.6 1085.9,1852.9 1087.8,1855.2 1089.7,1857.4 1091.7,1859.7 1093.6,1862.1 1095.5,1864.4 1097.3,1866.7 1099.2,1869.1 1101.1,1871.4 1102.9,1873.8 1104.8,1876.2 1106.6,1878.5 1108.5,1880.9 1110.3,1883.3 1112.1,1885.7 1114.0,1888.0 1115.8,1890.4 1117.6,1892.8 1119.5,1895.2 1121.3,1897.5 1123.1,1899.9 1125.0,1902.3 1126.8,1904.7 1128.6,1907.0 1130.5,1909.4 1132.3,1911.8 1134.1,1914.2 1136.0,1916.5 1137.8,1918.9 1139.6,1921.3 1141.5,1923.7 1143.3,1926.1 1145.1,1928.4 1146.9,1930.8 1148.8,1933.2 1150.6,1935.6 1152.4,1938.0 1154.3,1940.3 1156.1,1942.7 1158.0,1945.1 1159.8,1947.4 1161.7,1949.8 1163.5,1952.2 1165.4,1954.5 1167.2,1956.9 1169.1,1959.2 1170.9,1961.6 1172.8,1963.9 1174.7,1966.3 1176.5,1968.7 1178.4,1971.0 1180.3,1973.4 1182.1,1975.7 1184.0,1978.0 1185.9,1980.4 1187.8,1982.7 1189.7,1985.0 1191.6,1987.3 1193.5,1989.6 1195.5,1991.9 1197.4,1994.2 1199.4,1996.5 1201.3,1998.8 1203.3,2001.0 1205.3,2003.3 1207.3,2005.5 1209.3,2007.8 1211.3,2010.0 1213.3,2012.2 1215.3,2014.5 1217.3,2016.7 1219.3,2018.9 1221.4,2021.1 1223.4,2023.3 1225.5,2025.5 1227.6,2027.6 1229.6,2029.8 1231.7,2032.0 1233.8,2034.1 1235.9,2036.2 1238.1,2038.4 1240.2,2040.5 1242.3,2042.6 1244.5,2044.7 1246.7,2046.7 1248.9,2048.8 1251.1,2050.8 1253.3,2052.8 1255.6,2054.8 1257.9,2056.7 1260.1,2058.7 1262.4,2060.6 1264.8,2062.5 1267.1,2064.4 1269.4,2066.3 1271.7,2068.2 1274.1,2070.1 1276.4,2072.0 1278.7,2073.9 1281.0,2075.8 1283.3,2077.7 1285.6,2079.7 1287.9,2081.6 1290.1,2083.6 1292.4,2085.6 1294.6,2087.6 1296.8,2089.6 1299.0,2091.7 1301.2,2093.7 1303.4,2095.7 1305.7,2097.8 1307.9,2099.8 1310.1,2101.8 1312.3,2103.8 1314.6,2105.8 1316.9,2107.7 1319.2,2109.6 1321.5,2111.5 1323.8,2113.4 1326.2,2115.3 1328.5,2117.1 1330.9,2119.0 1333.3,2120.8 1335.7,2122.6 1338.1,2124.4 1340.5,2126.2 1342.9,2128.0 1345.3,2129.8 1347.8,2131.5 1350.2,2133.2 1352.7,2134.9 1355.2,2136.6 1357.7,2138.3 1360.2,2139.9 1362.7,2141.5 1365.3,2143.1 1367.9,2144.6 1370.5,2146.1 1373.1,2147.5 1375.8,2148.9 1378.4,2150.3 1381.1,2151.6 1383.9,2152.8 1386.6,2154.0 1389.4,2155.2 1392.1,2156.3 1394.9,2157.4 1397.7,2158.5 1400.5,2159.6 1403.3,2160.6 1406.1,2161.7 1408.9,2162.8 1411.7,2163.9 1414.5,2165.0 1417.3,2166.1 1420.1,2167.1 1422.9,2168.2 1425.7,2169.3 1428.5,2170.4 1431.3,2171.5 1434.1,2172.6 1436.9,2173.6 1439.7,2174.7 1442.5,2175.7 1445.4,2176.7 1448.2,2177.7 1451.0,2178.7 1453.9,2179.7 1456.7,2180.6 1459.6,2181.5 1462.4,2182.5 1465.3,2183.3 1468.2,2184.2 1471.1,2185.1 1473.9,2185.9 1476.8,2186.7 1479.7,2187.6 1482.6,2188.4 1485.5,2189.2 1488.4,2189.9 1491.3,2190.7 1494.2,2191.5 1497.1,2192.2 1500.0,2192.9 1502.9,2193.6 1505.8,2194.4 1508.8,2195.1 1511.7,2195.8 1514.6,2196.4 1517.5,2197.1 1520.5,2197.8 1523.4,2198.5 1526.3,2199.1 1529.2,2199.8 1532.2,2200.5 1535.1,2201.1 1538.0,2201.8 1541.0,2202.4 1543.9,2203.1 1546.8,2203.7 1549.8,2204.3 1552.7,2204.9 1555.6,2205.5 1558.6,2206.1 1561.5,2206.6 1564.5,2207.2 1567.4,2207.7 1570.4,2208.1 1573.4,2208.6 1576.3,2209.0 1579.3,2209.4 1582.3,2209.8 1585.3,2210.1 1588.3,2210.4 1591.2,2210.8 1594.2,2211.1 1597.2,2211.4 1600.2,2211.7 1603.2,2211.9 1606.2,2212.2 1609.2,2212.5 1612.2,2212.7 1615.2,2213.0 1618.1,2213.2 1621.1,2213.5 1624.1,2213.7 1627.1,2213.9 1630.1,2214.2 1633.1,2214.4 1636.1,2214.6 1639.1,2214.8 1642.1,2215.0 1645.1,2215.3 1648.1,2215.5 1651.1,2215.7 1654.1,2215.9 1657.1,2216.1 1660.0,2216.3 1663.0,2216.6 1666.0,2216.8 1669.0,2217.0 1672.0,2217.2 1675.0,2217.4 1678.0,2217.6 1681.0,2217.7 1684.0,2217.9 1687.0,2218.1 1690.0,2218.3" fill="none" stroke="#FF00FF" stroke-width="3.0" stroke-linejoin="round" stroke-linecap="butt"/>
<polyline points="250.0,1966.0 252.8,1967.1 255.6,1968.2 258.4,1969.3 261.1,1970.5 263.9,1971.6 266.7,1972.7 269.5,1973.8 272.3,1974.9 275.1,1976.0 277.9,1977.1 280.7,1978.2 283.5,1979.3 286.3,1980.3 289.1,1981.4 291.9,1982.5 294.7,1983.6 297.5,1984.6 300.3,1985.7 303.1,1986.8 305.9,1987.8 308.7,1988.9 311.5,1989.9 314.3,1990.9 317.1,1992.0 320.0,1993.0 322.8,1994.0 325.6,1995.0 328.4,1996.1 331.3,1997.1 334.1,1998.1 336.9,1999.1 339.8,2000.0 342.6,2001.0 345.4,2002.0 348.3,2003.0 351.1,2004.0 353.9,2004.9 356.8,2005.9 359.6,2006.8 362.5,2007.8 365.3,2008.8 368.1,2009.7 371.0,2010.7 373.8,2011.6 376.7,2012.6 379.5,2013.5 382.4,2014.5 385.2,2015.4 388.1,2016.3 390.9,2017.3 393.8,2018.2 396.6,2019.1 399.5,2020.0 402.4,2020.9 405.2,2021.8 408.1,2022.7 411.0,2023.6 413.8,2024.4 416.7,2025.3 419.6,2026.2 422.5,2027.0 425.3,2027.9 428.2,2028.7 431.1,2029.5 434.0,2030.3 436.9,2031.1 439.8,2031.9 442.7,2032.7 445.6,2033.4 448.5,2034.2 451.4,2034.9 454.3,2035.6 457.2,2036.4 460.1,2037.1 463.0,2037.8 466.0,2038.5 468.9,2039.2 471.8,2039.9 474.7,2040.6 477.6,2041.3 480.6,2042.0 483.5,2042.6 486.4,2043.3 489.3,2044.0 492.3,2044.6 495.2,2045.3 498.1,2045.9 501.1,2046.5 504.0,2047.2 506.9,2047.8 509.9,2048.4 512.8,2049.0 515.7,2049.6 518.7,2050.2 521.6,2050.8 524.6,2051.4 527.5,2051.9 530.5,2052.5 533.4,2053.0 536.4,2053.6 539.3,2054.1 542.3,2054.6 545.2,2055.2 548.2,2055.7 551.1,2056.2 554.1,2056.7 557.0,2057.2 560.0,2057.7 563.0,2058.2 565.9,2058.7 568.9,2059.2 571.8,2059.7 574.8,2060.1 577.8,2060.5 580.7,2060.9 583.7,2061.3 586.7,2061.6 589.7,2061.9 592.7,2062.1 595.7,2062.3 598.6,2062.4 601.6,2062.5 604.6,2062.5 607.6,2062.5 610.6,2062.4 613.6,2062.3 616.6,2062.1 619.6,2061.9 622.6,2061.7 625.6,2061.5 628.6,2061.2 631.6,2061.0 634.5,2060.7 637.5,2060.4 640.5,2060.0 643.5,2059.7 646.5,2059.3 649.4,2058.8 652.4,2058.4 655.3,2057.9 658.3,2057.4 661.2,2056.8 664.1,2056.2 667.0,2055.4 669.9,2054.6 672.7,2053.7 675.5,2052.7 678.3,2051.6 681.0,2050.3 683.7,2049.0 686.3,2047.6 688.9,2046.1 691.5,2044.6 694.0,2043.0 696.5,2041.4 699.0,2039.7 701.4,2038.0 703.8,2036.2 706.2,2034.4 708.6,2032.5 710.8,2030.6 713.1,2028.6 715.3,2026.6 717.4,2024.5 719.6,2022.4 721.6,2020.2 723.7,2018.0 725.7,2015.8 727.7,2013.6 729.7,2011.3 731.6,2009.1 733.6,2006.8 735.5,2004.5 737.5,2002.2 739.4,1999.9 741.3,1997.6 743.3,1995.3 745.2,1993.0 747.1,1990.7 749.0,1988.4 750.8,1986.0 752.7,1983.7 754.5,1981.3 756.4,1978.9 758.2,1976.5 760.0,1974.1 761.8,1971.7 763.5,1969.3 765.3,1966.8 767.0,1964.4 768.7,1961.9 770.4,1959.5 772.1,1957.0 773.8,1954.5 775.4,1952.0 777.1,1949.5 778.7,1946.9 780.2,1944.4 781.8,1941.8 783.3,1939.2 784.8,1936.7 786.3,1934.1 787.8,1931.4 789.3,1928.8 790.7,1926.2 792.2,1923.6 793.6,1920.9 795.1,1918.3 796.5,1915.7 798.0,1913.1 799.4,1910.4 800.9,1907.8 802.3,1905.2 803.8,1902.6 805.3,1900.0 806.8,1897.4 808.3,1894.8 809.8,1892.2 811.4,1889.6 812.9,1887.0 814.4,1884.5 816.0,1881.9 817.5,1879.3 819.1,1876.7 820.6,1874.2 822.1,1871.6 823.7,1869.0 825.2,1866.4 826.7,1863.9 828.2,1861.3 829.7,1858.7 831.2,1856.1 832.7,1853.5 834.2,1850.8 835.6,1848.2 837.1,1845.6 838.5,1842.9 839.9,1840.3 841.3,1837.6 842.6,1835.0 844.0,1832.3 845.3,1829.6 846.7,1826.9 848.1,1824.3 849.4,1821.6 850.8,1818.9 852.2,1816.3 853.6,1813.6 855.1,1811.0 856.5,1808.4 858.0,1805.8 859.6,1803.2 861.2,1800.7 862.8,1798.2 864.4,1795.7 866.1,1793.2 867.8,1790.7 869.6,1788.3 871.4,1785.9 873.1,1783.5 875.0,1781.1 876.8,1778.7 878.6,1776.3 880.5,1774.0 882.4,1771.7 884.3,1769.3 886.2,1767.0 888.1,1764.7 890.0,1762.4 891.9,1760.1 893.9,1757.8 895.8,1755.5 897.7,1753.2 899.6,1750.9 901.6,1748.6 903.5,1746.3 905.4,1744.0 907.3,1741.7 909.2,1739.3 911.2,1737.1 913.1,1734.8 915.1,1732.6 917.2,1730.4 919.3,1728.3 921.5,1726.3 923.7,1724.3 926.0,1722.5 928.4,1720.7 930.9,1719.1 933.4,1717.5 936.0,1716.0 938.6,1714.6 941.3,1713.4 944.1,1712.2 946.9,1711.1 949.7,1710.1 952.5,1709.2 955.4,1708.4 958.3,1707.7 961.2,1707.1 964.1,1706.6 967.1,1706.2 970.0,1705.9 973.0,1705.8 976.0,1705.8 978.9,1705.9 981.9,1706.2 984.8,1706.6 987.7,1707.1 990.6,1707.8 993.5,1708.5 996.4,1709.4 999.2,1710.4 1001.9,1711.5 1004.6,1712.7 1007.3,1714.0 1009.8,1715.5 1012.4,1717.1 1014.8,1718.8 1017.2,1720.5 1019.5,1722.4 1021.8,1724.4 1024.0,1726.4 1026.2,1728.4 1028.3,1730.5 1030.5,1732.6 1032.6,1734.7 1034.7,1736.9 1036.8,1739.0 1038.8,1741.2 1040.9,1743.3 1043.0,1745.5 1045.1,1747.6 1047.2,1749.8 1049.3,1751.9 1051.4,1754.1 1053.5,1756.2 1055.6,1758.4 1057.7,1760.5 1059.8,1762.7 1061.8,1764.9 1063.9,1767.1 1065.9,1769.3 1067.9,1771.5 1070.0,1773.7 1072.0,1775.9 1074.0,1778.1 1075.9,1780.4 1077.9,1782.6 1079.9,1784.9 1081.9,1787.2 1083.8,1789.5 1085.7,1791.8 1087.7,1794.1 1089.6,1796.4 1091.5,1798.7 1093.4,1801.0 1095.2,1803.4 1097.1,1805.7 1098.9,1808.1 1100.8,1810.5 1102.6,1812.8 1104.4,1815.2 1106.2,1817.7 1108.0,1820.1 1109.7,1822.5 1111.5,1824.9 1113.3,1827.3 1115.0,1829.8 1116.8,1832.2 1118.5,1834.6 1120.3,1837.0 1122.1,1839.5 1123.9,1841.9 1125.7,1844.3 1127.5,1846.7 1129.3,1849.1 1131.1,1851.5 1132.9,1853.8 1134.8,1856.2 1136.6,1858.6 1138.5,1860.9 1140.3,1863.3 1142.2,1865.6 1144.1,1868.0 1145.9,1870.3 1147.8,1872.7 1149.7,1875.0 1151.5,1877.4 1153.4,1879.7 1155.3,1882.0 1157.2,1884.4 1159.0,1886.7 1160.9,1889.1 1162.8,1891.4 1164.6,1893.8 1166.5,1896.1 1168.4,1898.5 1170.2,1900.8 1172.1,1903.2 1173.9,1905.6 1175.8,1907.9 1177.6,1910.3 1179.4,1912.7 1181.3,1915.0 1183.1,1917.4 1184.9,1919.8 1186.8,1922.2 1188.6,1924.5 1190.4,1926.9 1192.3,1929.3 1194.1,1931.7 1196.0,1934.0 1197.8,1936.4 1199.6,1938.8 1201.5,1941.1 1203.4,1943.5 1205.2,1945.8 1207.1,1948.2 1208.9,1950.5 1210.8,1952.9 1212.7,1955.2 1214.5,1957.6 1216.4,1959.9 1218.3,1962.3 1220.2,1964.6 1222.0,1966.9 1223.9,1969.3 1225.8,1971.6 1227.7,1973.9 1229.6,1976.3 1231.5,1978.6 1233.4,1980.9 1235.3,1983.2 1237.3,1985.5 1239.2,1987.8 1241.2,1990.0 1243.2,1992.3 1245.2,1994.5 1247.2,1996.7 1249.2,1998.9 1251.3,2001.1 1253.4,2003.3 1255.5,2005.4 1257.6,2007.5 1259.7,2009.7 1261.9,2011.7 1264.0,2013.8 1266.2,2015.9 1268.4,2017.9 1270.6,2019.9 1272.8,2022.0 1275.0,2024.0 1277.3,2026.0 1279.5,2028.0 1281.7,2030.0 1283.9,2032.1 1286.2,2034.1 1288.4,2036.1 1290.6,2038.1 1292.7,2040.2 1294.9,2042.3 1297.1,2044.4 1299.2,2046.5 1301.3,2048.6 1303.4,2050.7 1305.5,2052.9 1307.6,2055.0 1309.7,2057.2 1311.8,2059.3 1313.8,2061.5 1315.9,2063.7 1318.0,2065.8 1320.2,2067.9 1322.3,2070.0 1324.4,2072.2 1326.5,2074.3 1328.7,2076.4 1330.8,2078.5 1332.9,2080.6 1335.1,2082.7 1337.2,2084.8 1339.4,2086.9 1341.6,2088.9 1343.7,2091.0 1345.9,2093.0 1348.1,2095.1 1350.4,2097.1 1352.6,2099.1 1354.9,2101.1 1357.1,2103.0 1359.4,2104.9 1361.8,2106.8 1364.1,2108.7 1366.5,2110.5 1368.9,2112.3 1371.3,2114.0 1373.8,2115.7 1376.3,2117.4 1378.8,2119.0 1381.4,2120.5 1384.0,2122.0 1386.6,2123.5 1389.2,2125.0 1391.9,2126.4 1394.5,2127.8 1397.2,2129.1 1399.9,2130.5 1402.6,2131.8 1405.3,2133.1 1408.0,2134.3 1410.7,2135.6 1413.4,2136.8 1416.2,2138.1 1418.9,2139.3 1421.7,2140.5 1424.4,2141.6 1427.2,2142.8 1430.0,2143.9 1432.7,2145.1 1435.5,2146.2 1438.3,2147.3 1441.1,2148.5 1443.9,2149.6 1446.7,2150.7 1449.5,2151.8 1452.3,2152.8 1455.1,2153.9 1457.9,2155.0 1460.7,2156.0 1463.5,2157.1 1466.3,2158.1 1469.1,2159.1 1471.9,2160.2 1474.8,2161.2 1477.6,2162.2 1480.4,2163.3 1483.2,2164.3 1486.0,2165.3 1488.9,2166.3 1491.7,2167.3 1494.5,2168.3 1497.4,2169.3 1500.2,2170.3 1503.0,2171.2 1505.9,2172.1 1508.7,2173.0 1511.6,2173.9 1514.5,2174.8 1517.4,2175.6 1520.2,2176.5 1523.1,2177.3 1526.0,2178.0 1528.9,2178.8 1531.8,2179.6 1534.7,2180.3 1537.6,2181.1 1540.6,2181.8 1543.5,2182.5 1546.4,2183.2 1549.3,2183.8 1552.2,2184.5 1555.2,2185.1 1558.1,2185.7 1561.1,2186.3 1564.0,2186.9 1566.9,2187.5 1569.9,2188.0 1572.8,2188.5 1575.8,2189.0 1578.8,2189.5 1581.7,2190.0 1584.7,2190.4 1587.7,2190.8 1590.6,2191.3 1593.6,2191.7 1596.6,2192.1 1599.6,2192.4 1602.5,2192.8 1605.5,2193.2 1608.5,2193.6 1611.5,2193.9 1614.4,2194.3 1617.4,2194.6 1620.4,2195.0 1623.4,2195.3 1626.4,2195.7 1629.3,2196.0 1632.3,2196.3 1635.3,2196.7 1638.3,2197.0 1641.3,2197.3 1644.3,2197.7 1647.2,2198.0 1650.2,2198.3 1653.2,2198.7 1656.2,2199.0 1659.2,2199.3 1662.1,2199.6 1665.1,2199.9 1668.1,2200.3 1671.1,2200.6 1674.1,2200.9 1677.1,2201.2 1680.1,2201.5 1683.0,2201.8 1686.0,2202.1 1689.0,2202.4 1690.0,2202.5" fill="none" stroke="#808000" stroke-width="3.0" stroke-linejoin="round" stroke-linecap="butt"/>
<polyline points="250.0,1956.0 252.8,1957.1 255.6,1958.1 258.4,1959.2 261.2,1960.3 264.0,1961.3 266.8,1962.4 269.6,1963.5 272.4,1964.5 275.2,1965.6 278.1,1966.6 280.9,1967.7 283.7,1968.7 286.5,1969.8 289.3,1970.8 292.1,1971.8 295.0,1972.8 297.8,1973.9 300.6,1974.9 303.4,1975.9 306.2,1976.9 309.1,1977.9 311.9,1978.9 314.7,1979.9 317.5,1980.9 320.4,1981.9 323.2,1982.9 326.0,1983.9 328.9,1984.9 331.7,1985.8 334.6,1986.8 337.4,1987.8 340.2,1988.7 343.1,1989.7 345.9,1990.6 348.8,1991.6 351.6,1992.5 354.5,1993.5 357.3,1994.4 360.2,1995.4 363.0,1996.3 365.9,1997.2 368.7,1998.2 371.6,1999.1 374.4,2000.1 377.3,2001.0 380.1,2001.9 383.0,2002.8 385.8,2003.8 388.7,2004.7 391.6,2005.6 394.4,2006.5 397.3,2007.4 400.1,2008.3 403.0,2009.2 405.9,2010.1 408.7,2011.0 411.6,2011.8 414.5,2012.7 417.4,2013.5 420.2,2014.4 423.1,2015.2 426.0,2016.0 428.9,2016.8 431.8,2017.6 434.7,2018.4 437.6,2019.1 440.5,2019.9 443.4,2020.6 446.3,2021.3 449.2,2022.0 452.2,2022.7 455.1,2023.4 458.0,2024.1 460.9,2024.8 463.9,2025.4 466.8,2026.1 469.7,2026.7 472.7,2027.3 475.6,2027.9 478.5,2028.6 481.5,2029.2 484.4,2029.8 487.3,2030.4 490.3,2031.0 493.2,2031.5 496.2,2032.1 499.1,2032.7 502.1,2033.3 505.0,2033.8 508.0,2034.4 510.9,2034.9 513.9,2035.5 516.8,2036.0 519.8,2036.6 522.7,2037.1 525.7,2037.6 528.6,2038.2 531.6,2038.7 534.5,2039.2 537.5,2039.7 540.4,2040.2 543.4,2040.8 546.3,2041.3 549.3,2041.8 552.2,2042.4 555.2,2042.9 558.1,2043.5 561.1,2044.1 564.0,2044.6 567.0,2045.2 569.9,2045.8 572.9,2046.3 575.8,2046.8 578.8,2047.4 581.7,2047.8 584.7,2048.2 587.7,2048.6 590.7,2048.9 593.6,2049.2 596.6,2049.4 599.6,2049.5 602.6,2049.6 605.6,2049.6 608.6,2049.5 611.6,2049.3 614.6,2049.2 617.6,2049.0 620.5,2048.7 623.5,2048.5 626.5,2048.3 629.5,2048.0 632.5,2047.8 635.5,2047.7 638.5,2047.5 641.5,2047.3 644.5,2047.1 647.5,2046.9 650.4,2046.6 653.4,2046.3 656.3,2045.8 659.3,2045.3 662.2,2044.7 665.1,2043.9 667.9,2043.0 670.7,2042.1 673.5,2041.0 676.3,2039.9 679.0,2038.7 681.7,2037.4 684.4,2036.1 687.0,2034.7 689.6,2033.1 692.1,2031.6 694.6,2029.9 697.0,2028.1 699.3,2026.3 701.6,2024.4 703.9,2022.4 706.1,2020.4 708.3,2018.3 710.4,2016.3 712.5,2014.1 714.6,2012.0 716.7,2009.8 718.8,2007.7 720.9,2005.5 722.9,2003.3 725.0,2001.1 727.0,1998.9 729.1,1996.7 731.1,1994.5 733.1,1992.3 735.1,1990.1 737.1,1987.8 739.0,1985.5 741.0,1983.3 742.9,1980.9 744.8,1978.6 746.7,1976.3 748.6,1974.0 750.4,1971.6 752.2,1969.2 754.1,1966.8 755.9,1964.4 757.6,1962.0 759.4,1959.6 761.1,1957.2 762.9,1954.7 764.6,1952.2 766.3,1949.8 767.9,1947.3 769.6,1944.7 771.2,1942.2 772.8,1939.7 774.3,1937.1 775.9,1934.5 777.4,1932.0 778.9,1929.4 780.4,1926.8 781.9,1924.2 783.4,1921.5 784.8,1918.9 786.3,1916.3 787.8,1913.7 789.2,1911.1 790.7,1908.5 792.2,1905.9 793.7,1903.3 795.2,1900.7 796.7,1898.1 798.2,1895.5 799.7,1892.9 801.2,1890.3 802.7,1887.7 804.2,1885.1 805.7,1882.5 807.2,1879.9 808.7,1877.3 810.2,1874.7 811.7,1872.1 813.2,1869.5 814.7,1866.9 816.1,1864.3 817.6,1861.7 819.1,1859.0 820.6,1856.4 822.0,1853.8 823.5,1851.2 824.9,1848.5 826.3,1845.9 827.7,1843.2 829.1,1840.6 830.5,1837.9 831.9,1835.3 833.3,1832.6 834.7,1829.9 836.0,1827.3 837.4,1824.6 838.8,1821.9 840.2,1819.3 841.6,1816.6 843.0,1814.0 844.4,1811.3 845.9,1808.7 847.3,1806.1 848.8,1803.5 850.3,1800.9 851.9,1798.3 853.4,1795.8 855.0,1793.2 856.6,1790.7 858.2,1788.1 859.8,1785.6 861.5,1783.1 863.1,1780.6 864.8,1778.1 866.5,1775.6 868.2,1773.2 869.9,1770.7 871.6,1768.2 873.3,1765.8 875.1,1763.4 876.9,1760.9 878.6,1758.5 880.4,1756.1 882.2,1753.7 884.1,1751.3 885.9,1749.0 887.7,1746.6 889.6,1744.2 891.4,1741.9 893.3,1739.5 895.2,1737.2 897.1,1734.9 899.0,1732.6 901.0,1730.3 902.9,1728.0 904.9,1725.8 907.0,1723.6 909.0,1721.4 911.1,1719.2 913.2,1717.1 915.4,1715.0 917.5,1713.0 919.8,1711.0 922.0,1709.0 924.3,1707.1 926.6,1705.2 929.0,1703.3 931.4,1701.6 933.8,1699.8 936.3,1698.2 938.8,1696.6 941.4,1695.0 944.0,1693.6 946.7,1692.2 949.4,1691.0 952.1,1689.8 954.9,1688.8 957.7,1687.9 960.6,1687.1 963.5,1686.4 966.4,1685.8 969.3,1685.4 972.3,1685.1 975.2,1684.9 978.2,1684.9 981.1,1685.0 984.1,1685.2 987.0,1685.7 989.9,1686.2 992.8,1686.9 995.6,1687.8 998.4,1688.8 1001.1,1690.0 1003.7,1691.3 1006.2,1692.8 1008.7,1694.4 1011.2,1696.1 1013.6,1697.8 1016.0,1699.7 1018.3,1701.5 1020.7,1703.4 1023.0,1705.3 1025.3,1707.2 1027.6,1709.1 1029.9,1711.0 1032.2,1713.0 1034.5,1714.9 1036.8,1716.9 1039.0,1718.8 1041.3,1720.8 1043.5,1722.8 1045.7,1724.8 1048.0,1726.8 1050.2,1728.9 1052.4,1730.9 1054.6,1733.0 1056.7,1735.0 1058.9,1737.1 1061.1,1739.2 1063.2,1741.3 1065.4,1743.4 1067.5,1745.5 1069.6,1747.6 1071.7,1749.8 1073.8,1751.9 1075.8,1754.1 1077.9,1756.3 1079.9,1758.5 1081.9,1760.7 1083.9,1763.0 1085.9,1765.2 1087.8,1767.5 1089.8,1769.8 1091.7,1772.1 1093.6,1774.4 1095.5,1776.7 1097.4,1779.1 1099.3,1781.4 1101.1,1783.7 1103.0,1786.1 1104.9,1788.5 1106.7,1790.8 1108.6,1793.2 1110.4,1795.6 1112.2,1797.9 1114.0,1800.3 1115.9,1802.7 1117.7,1805.1 1119.4,1807.5 1121.2,1809.9 1123.0,1812.4 1124.7,1814.8 1126.5,1817.3 1128.2,1819.7 1129.9,1822.2 1131.7,1824.6 1133.4,1827.1 1135.1,1829.5 1136.8,1832.0 1138.5,1834.4 1140.3,1836.9 1142.0,1839.3 1143.8,1841.8 1145.5,1844.2 1147.3,1846.6 1149.1,1849.0 1150.9,1851.4 1152.7,1853.8 1154.5,1856.2 1156.3,1858.6 1158.1,1861.0 1159.9,1863.4 1161.7,1865.8 1163.6,1868.2 1165.4,1870.5 1167.3,1872.9 1169.1,1875.3 1170.9,1877.6 1172.8,1880.0 1174.7,1882.3 1176.5,1884.7 1178.4,1887.1 1180.2,1889.4 1182.1,1891.8 1183.9,1894.1 1185.8,1896.5 1187.7,1898.8 1189.5,1901.2 1191.4,1903.5 1193.3,1905.9 1195.1,1908.2 1197.0,1910.6 1198.9,1912.9 1200.7,1915.3 1202.6,1917.6 1204.5,1920.0 1206.3,1922.3 1208.2,1924.7 1210.1,1927.0 1212.0,1929.3 1213.9,1931.7 1215.8,1934.0 1217.6,1936.3 1219.5,1938.6 1221.4,1941.0 1223.4,1943.3 1225.3,1945.6 1227.2,1947.9 1229.1,1950.2 1231.0,1952.5 1233.0,1954.8 1234.9,1957.1 1236.9,1959.4 1238.8,1961.7 1240.7,1963.9 1242.7,1966.2 1244.7,1968.5 1246.6,1970.8 1248.6,1973.0 1250.6,1975.3 1252.5,1977.5 1254.5,1979.8 1256.5,1982.1 1258.5,1984.3 1260.5,1986.6 1262.5,1988.8 1264.5,1991.0 1266.5,1993.3 1268.5,1995.5 1270.5,1997.7 1272.5,2000.0 1274.5,2002.2 1276.5,2004.4 1278.5,2006.6 1280.5,2008.9 1282.5,2011.1 1284.6,2013.3 1286.6,2015.5 1288.6,2017.7 1290.7,2019.9 1292.7,2022.1 1294.8,2024.2 1296.9,2026.4 1299.1,2028.5 1301.2,2030.5 1303.4,2032.6 1305.7,2034.6 1307.9,2036.6 1310.2,2038.5 1312.5,2040.5 1314.7,2042.4 1317.0,2044.3 1319.3,2046.3 1321.6,2048.2 1323.9,2050.2 1326.1,2052.2 1328.4,2054.1 1330.6,2056.1 1332.9,2058.1 1335.1,2060.1 1337.3,2062.2 1339.5,2064.2 1341.7,2066.2 1343.9,2068.2 1346.2,2070.3 1348.4,2072.3 1350.6,2074.3 1352.8,2076.4 1355.0,2078.4 1357.2,2080.4 1359.4,2082.4 1361.7,2084.4 1363.9,2086.4 1366.2,2088.4 1368.4,2090.4 1370.7,2092.3 1373.0,2094.3 1375.3,2096.2 1377.6,2098.1 1379.9,2100.0 1382.2,2101.9 1384.6,2103.8 1387.0,2105.6 1389.4,2107.4 1391.8,2109.1 1394.3,2110.9 1396.7,2112.6 1399.2,2114.2 1401.7,2115.8 1404.3,2117.4 1406.8,2119.0 1409.4,2120.5 1412.0,2122.0 1414.6,2123.5 1417.2,2125.0 1419.9,2126.4 1422.6,2127.7 1425.2,2129.1 1427.9,2130.4 1430.6,2131.7 1433.4,2132.9 1436.1,2134.2 1438.8,2135.4 1441.6,2136.5 1444.4,2137.7 1447.2,2138.8 1450.0,2139.8 1452.8,2140.9 1455.6,2141.9 1458.4,2143.0 1461.2,2144.0 1464.1,2144.9 1466.9,2145.9 1469.8,2146.8 1472.6,2147.8 1475.5,2148.7 1478.3,2149.5 1481.2,2150.4 1484.1,2151.3 1487.0,2152.1 1489.9,2152.9 1492.8,2153.7 1495.7,2154.5 1498.6,2155.2 1501.5,2156.0 1504.4,2156.7 1507.3,2157.4 1510.2,2158.2 1513.1,2158.9 1516.0,2159.6 1518.9,2160.4 1521.8,2161.1 1524.7,2161.8 1527.7,2162.6 1530.6,2163.3 1533.5,2164.1 1536.4,2164.8 1539.3,2165.6 1542.2,2166.3 1545.1,2167.0 1548.0,2167.8 1550.9,2168.5 1553.8,2169.2 1556.7,2170.0 1559.6,2170.7 1562.6,2171.4 1565.5,2172.0 1568.4,2172.7 1571.3,2173.3 1574.3,2173.9 1577.2,2174.5 1580.2,2175.1 1583.1,2175.7 1586.1,2176.2 1589.0,2176.8 1592.0,2177.3 1594.9,2177.8 1597.9,2178.3 1600.8,2178.8 1603.8,2179.2 1606.8,2179.7 1609.7,2180.1 1612.7,2180.6 1615.7,2181.0 1618.6,2181.5 1621.6,2181.9 1624.6,2182.3 1627.6,2182.7 1630.5,2183.2 1633.5,2183.6 1636.5,2184.0 1639.4,2184.4 1642.4,2184.8 1645.4,2185.2 1648.4,2185.7 1651.3,2186.1 1654.3,2186.5 1657.3,2186.9 1660.2,2187.3 1663.2,2187.7 1666.2,2188.1 1669.2,2188.5 1672.1,2188.8 1675.1,2189.2 1678.1,2189.6 1681.1,2190.0 1684.0,2190.4 1687.0,2190.7 1690.0,2191.1" fill="none" stroke="#000080" stroke-width="3.0" stroke-linejoin="round" stroke-linecap="butt"/>
<polyline points="250.0,1938.8 252.8,1939.9 255.6,1940.9 258.4,1942.0 261.2,1943.0 264.0,1944.1 266.9,1945.1 269.7,1946.2 272.5,1947.2 275.3,1948.3 278.1,1949.3 280.9,1950.3 283.7,1951.4 286.6,1952.4 289.4,1953.4 292.2,1954.5 295.0,1955.5 297.8,1956.5 300.7,1957.5 303.5,1958.5 306.3,1959.5 309.2,1960.5 312.0,1961.5 314.8,1962.5 317.7,1963.5 320.5,1964.5 323.3,1965.5 326.2,1966.5 329.0,1967.4 331.8,1968.4 334.7,1969.4 337.5,1970.3 340.4,1971.3 343.2,1972.2 346.1,1973.2 348.9,1974.1 351.8,1975.1 354.6,1976.0 357.5,1977.0 360.3,1977.9 363.2,1978.8 366.0,1979.8 368.9,1980.7 371.7,1981.6 374.6,1982.6 377.4,1983.5 380.3,1984.4 383.1,1985.4 386.0,1986.3 388.8,1987.2 391.7,1988.1 394.6,1989.0 397.4,1989.9 400.3,1990.8 403.1,1991.7 406.0,1992.6 408.9,1993.5 411.8,1994.3 414.6,1995.2 417.5,1996.1 420.4,1996.9 423.3,1997.7 426.2,1998.6 429.0,1999.4 431.9,2000.2 434.8,2001.0 437.7,2001.8 440.6,2002.5 443.5,2003.3 446.4,2004.0 449.3,2004.8 452.3,2005.5 455.2,2006.2 458.1,2006.9 461.0,2007.6 463.9,2008.3 466.8,2009.0 469.8,2009.7 472.7,2010.4 475.6,2011.1 478.5,2011.7 481.5,2012.4 484.4,2013.0 487.3,2013.7 490.3,2014.3 493.2,2015.0 496.1,2015.6 499.1,2016.2 502.0,2016.8 504.9,2017.5 507.9,2018.1 510.8,2018.7 513.8,2019.2 516.7,2019.8 519.6,2020.4 522.6,2021.0 525.5,2021.5 528.5,2022.1 531.4,2022.7 534.4,2023.2 537.3,2023.7 540.3,2024.3 543.2,2024.8 546.2,2025.3 549.2,2025.8 552.1,2026.3 555.1,2026.8 558.0,2027.3 561.0,2027.8 564.0,2028.3 566.9,2028.8 569.9,2029.3 572.8,2029.7 575.8,2030.2 578.8,2030.6 581.8,2031.0 584.7,2031.4 587.7,2031.7 590.7,2032.1 593.7,2032.3 596.7,2032.6 599.7,2032.8 602.6,2033.0 605.6,2033.1 608.6,2033.1 611.6,2033.1 614.6,2033.1 617.6,2033.0 620.6,2032.8 623.6,2032.6 626.6,2032.4 629.6,2032.1 632.6,2031.8 635.5,2031.4 638.5,2031.0 641.5,2030.6 644.4,2030.1 647.4,2029.5 650.3,2028.9 653.2,2028.2 656.1,2027.4 658.9,2026.6 661.7,2025.6 664.6,2024.6 667.3,2023.5 670.1,2022.3 672.8,2021.1 675.6,2019.8 678.3,2018.6 681.0,2017.3 683.6,2015.9 686.3,2014.5 688.9,2013.1 691.5,2011.6 694.1,2010.1 696.7,2008.5 699.2,2006.9 701.7,2005.2 704.1,2003.5 706.5,2001.7 708.9,1999.9 711.2,1998.0 713.5,1996.1 715.7,1994.1 717.9,1992.0 720.1,1990.0 722.2,1987.8 724.2,1985.6 726.3,1983.4 728.2,1981.2 730.2,1978.9 732.1,1976.6 734.1,1974.3 736.0,1972.0 737.8,1969.7 739.7,1967.3 741.5,1965.0 743.4,1962.6 745.2,1960.2 747.0,1957.8 748.8,1955.4 750.6,1953.0 752.4,1950.6 754.2,1948.2 756.0,1945.8 757.7,1943.3 759.4,1940.9 761.1,1938.4 762.8,1935.9 764.4,1933.4 766.1,1930.9 767.7,1928.4 769.3,1925.8 770.9,1923.3 772.5,1920.8 774.1,1918.2 775.7,1915.7 777.3,1913.1 778.9,1910.6 780.4,1908.0 782.0,1905.4 783.5,1902.9 785.1,1900.3 786.6,1897.7 788.2,1895.2 789.7,1892.6 791.3,1890.0 792.8,1887.4 794.3,1884.8 795.8,1882.2 797.3,1879.6 798.8,1877.0 800.3,1874.4 801.8,1871.8 803.3,1869.2 804.8,1866.6 806.2,1864.0 807.7,1861.4 809.1,1858.7 810.6,1856.1 812.0,1853.5 813.5,1850.9 814.9,1848.2 816.3,1845.6 817.7,1842.9 819.1,1840.3 820.5,1837.6 821.9,1834.9 823.3,1832.3 824.7,1829.6 826.0,1826.9 827.4,1824.3 828.8,1821.6 830.1,1818.9 831.5,1816.3 832.9,1813.6 834.3,1810.9 835.7,1808.3 837.1,1805.6 838.5,1803.0 839.9,1800.3 841.3,1797.7 842.7,1795.0 844.1,1792.4 845.5,1789.7 847.0,1787.1 848.4,1784.5 849.8,1781.8 851.3,1779.2 852.7,1776.6 854.2,1773.9 855.6,1771.3 857.1,1768.7 858.6,1766.1 860.1,1763.5 861.6,1760.9 863.1,1758.3 864.6,1755.7 866.2,1753.1 867.7,1750.6 869.3,1748.0 870.9,1745.5 872.5,1742.9 874.1,1740.4 875.7,1737.8 877.3,1735.3 878.9,1732.8 880.6,1730.3 882.2,1727.8 883.9,1725.3 885.5,1722.8 887.2,1720.3 888.9,1717.8 890.7,1715.4 892.4,1712.9 894.2,1710.5 896.0,1708.1 897.8,1705.7 899.6,1703.3 901.4,1701.0 903.3,1698.6 905.2,1696.3 907.1,1694.0 909.0,1691.7 911.0,1689.4 912.9,1687.1 915.0,1684.9 917.0,1682.8 919.1,1680.6 921.3,1678.6 923.5,1676.5 925.8,1674.6 928.0,1672.7 930.4,1670.8 932.8,1669.0 935.2,1667.3 937.7,1665.6 940.2,1664.0 942.8,1662.5 945.4,1661.1 948.1,1659.8 950.8,1658.7 953.6,1657.6 956.4,1656.6 959.3,1655.7 962.1,1655.0 965.0,1654.3 968.0,1653.8 970.9,1653.4 973.9,1653.1 976.8,1652.9 979.8,1652.9 982.8,1653.1 985.7,1653.3 988.7,1653.7 991.6,1654.2 994.5,1654.8 997.4,1655.5 1000.2,1656.3 1003.0,1657.3 1005.8,1658.4 1008.5,1659.6 1011.1,1661.0 1013.7,1662.4 1016.2,1664.0 1018.7,1665.7 1021.1,1667.4 1023.5,1669.2 1025.9,1671.0 1028.2,1672.9 1030.5,1674.8 1032.8,1676.8 1035.0,1678.8 1037.2,1680.8 1039.4,1682.9 1041.6,1685.0 1043.7,1687.0 1045.9,1689.2 1048.0,1691.3 1050.1,1693.4 1052.2,1695.5 1054.3,1697.7 1056.4,1699.8 1058.5,1702.0 1060.6,1704.1 1062.7,1706.3 1064.8,1708.5 1066.8,1710.6 1068.9,1712.8 1070.9,1715.0 1073.0,1717.2 1075.0,1719.4 1077.1,1721.6 1079.1,1723.8 1081.1,1726.1 1083.1,1728.3 1085.1,1730.6 1087.0,1732.8 1089.0,1735.1 1090.9,1737.4 1092.9,1739.7 1094.8,1742.0 1096.7,1744.3 1098.6,1746.6 1100.5,1748.9 1102.4,1751.3 1104.2,1753.7 1106.0,1756.0 1107.8,1758.4 1109.6,1760.9 1111.4,1763.3 1113.1,1765.7 1114.9,1768.1 1116.6,1770.6 1118.3,1773.1 1120.0,1775.5 1121.7,1778.0 1123.5,1780.5 1125.2,1782.9 1126.9,1785.4 1128.5,1787.9 1130.2,1790.4 1132.0,1792.8 1133.7,1795.3 1135.4,1797.8 1137.1,1800.2 1138.8,1802.7 1140.5,1805.2 1142.2,1807.6 1143.9,1810.1 1145.6,1812.6 1147.3,1815.1 1149.0,1817.5 1150.7,1820.0 1152.4,1822.5 1154.1,1825.0 1155.8,1827.4 1157.5,1829.9 1159.2,1832.4 1160.9,1834.8 1162.7,1837.3 1164.4,1839.7 1166.2,1842.1 1167.9,1844.6 1169.7,1847.0 1171.5,1849.4 1173.3,1851.8 1175.1,1854.2 1176.9,1856.6 1178.7,1859.0 1180.6,1861.4 1182.4,1863.7 1184.3,1866.1 1186.1,1868.4 1188.0,1870.8 1189.9,1873.1 1191.7,1875.5 1193.6,1877.8 1195.5,1880.1 1197.4,1882.5 1199.3,1884.8 1201.2,1887.1 1203.1,1889.5 1204.9,1891.8 1206.8,1894.1 1208.7,1896.5 1210.6,1898.8 1212.5,1901.1 1214.4,1903.5 1216.2,1905.8 1218.1,1908.2 1220.0,1910.5 1221.9,1912.9 1223.7,1915.2 1225.6,1917.5 1227.5,1919.9 1229.4,1922.2 1231.3,1924.6 1233.1,1926.9 1235.0,1929.2 1236.9,1931.6 1238.8,1933.9 1240.7,1936.2 1242.6,1938.5 1244.5,1940.8 1246.5,1943.1 1248.4,1945.4 1250.3,1947.7 1252.3,1950.0 1254.2,1952.3 1256.2,1954.6 1258.2,1956.8 1260.1,1959.1 1262.1,1961.3 1264.1,1963.6 1266.1,1965.8 1268.1,1968.1 1270.1,1970.3 1272.1,1972.6 1274.1,1974.8 1276.1,1977.0 1278.1,1979.2 1280.2,1981.4 1282.2,1983.6 1284.2,1985.8 1286.3,1988.0 1288.4,1990.2 1290.4,1992.4 1292.5,1994.5 1294.6,1996.7 1296.7,1998.8 1298.8,2001.0 1300.9,2003.1 1303.1,2005.2 1305.2,2007.3 1307.4,2009.4 1309.5,2011.5 1311.7,2013.5 1313.9,2015.6 1316.0,2017.7 1318.2,2019.7 1320.4,2021.8 1322.5,2023.9 1324.7,2026.0 1326.8,2028.1 1329.0,2030.2 1331.1,2032.3 1333.3,2034.4 1335.4,2036.5 1337.5,2038.6 1339.7,2040.7 1341.8,2042.8 1343.9,2045.0 1346.1,2047.1 1348.2,2049.2 1350.3,2051.3 1352.5,2053.4 1354.6,2055.5 1356.8,2057.6 1358.9,2059.7 1361.1,2061.8 1363.2,2063.8 1365.4,2065.9 1367.6,2067.9 1369.8,2070.0 1372.0,2072.0 1374.3,2074.0 1376.5,2076.0 1378.8,2078.0 1381.0,2079.9 1383.3,2081.9 1385.6,2083.8 1388.0,2085.7 1390.3,2087.5 1392.7,2089.4 1395.1,2091.2 1397.5,2093.0 1399.9,2094.7 1402.3,2096.5 1404.8,2098.2 1407.3,2099.9 1409.8,2101.6 1412.2,2103.3 1414.7,2104.9 1417.3,2106.6 1419.8,2108.2 1422.3,2109.8 1424.8,2111.4 1427.4,2113.0 1429.9,2114.6 1432.5,2116.1 1435.1,2117.6 1437.7,2119.1 1440.3,2120.6 1443.0,2122.0 1445.6,2123.5 1448.3,2124.8 1450.9,2126.2 1453.6,2127.5 1456.3,2128.8 1459.1,2130.0 1461.8,2131.2 1464.6,2132.3 1467.4,2133.4 1470.2,2134.5 1473.0,2135.5 1475.9,2136.5 1478.7,2137.4 1481.6,2138.2 1484.5,2139.1 1487.3,2139.9 1490.2,2140.7 1493.1,2141.4 1496.0,2142.2 1499.0,2142.9 1501.9,2143.6 1504.8,2144.3 1507.7,2145.0 1510.6,2145.7 1513.6,2146.3 1516.5,2147.0 1519.4,2147.6 1522.4,2148.2 1525.3,2148.8 1528.2,2149.4 1531.2,2150.0 1534.1,2150.6 1537.1,2151.2 1540.0,2151.8 1543.0,2152.4 1545.9,2153.0 1548.8,2153.5 1551.8,2154.1 1554.7,2154.7 1557.7,2155.2 1560.6,2155.8 1563.6,2156.3 1566.5,2156.8 1569.5,2157.4 1572.5,2157.9 1575.4,2158.5 1578.4,2159.0 1581.3,2159.5 1584.3,2160.1 1587.2,2160.6 1590.2,2161.2 1593.1,2161.7 1596.1,2162.2 1599.0,2162.8 1602.0,2163.3 1604.9,2163.9 1607.9,2164.4 1610.8,2164.9 1613.8,2165.5 1616.7,2166.0 1619.7,2166.5 1622.7,2167.0 1625.6,2167.5 1628.6,2168.0 1631.5,2168.5 1634.5,2169.0 1637.5,2169.5 1640.4,2169.9 1643.4,2170.4 1646.4,2170.8 1649.3,2171.3 1652.3,2171.7 1655.3,2172.1 1658.2,2172.5 1661.2,2172.9 1664.2,2173.3 1667.2,2173.7 1670.1,2174.1 1673.1,2174.5 1676.1,2174.9 1679.1,2175.2 1682.0,2175.6 1685.0,2175.9 1688.0,2176.3 1690.0,2176.5" fill="none" stroke="#800000" stroke-width="3.0" stroke-linejoin="round" stroke-linecap="butt"/>
<polyline points="250.0,1925.6 252.8,1926.7 255.6,1927.7 258.4,1928.8 261.2,1929.8 264.1,1930.9 266.9,1931.9 269.7,1932.9 272.5,1934.0 275.3,1935.0 278.1,1936.1 280.9,1937.1 283.8,1938.1 286.6,1939.1 289.4,1940.2 292.2,1941.2 295.0,1942.2 297.9,1943.2 300.7,1944.2 303.5,1945.2 306.4,1946.2 309.2,1947.2 312.0,1948.2 314.9,1949.2 317.7,1950.2 320.5,1951.1 323.4,1952.1 326.2,1953.1 329.0,1954.0 331.9,1955.0 334.7,1955.9 337.6,1956.9 340.4,1957.8 343.3,1958.8 346.1,1959.7 349.0,1960.6 351.8,1961.6 354.7,1962.5 357.5,1963.4 360.4,1964.4 363.2,1965.3 366.1,1966.2 369.0,1967.1 371.8,1968.0 374.7,1968.9 377.5,1969.9 380.4,1970.8 383.3,1971.7 386.1,1972.6 389.0,1973.5 391.8,1974.4 394.7,1975.3 397.6,1976.1 400.4,1977.0 403.3,1977.9 406.2,1978.8 409.1,1979.6 411.9,1980.5 414.8,1981.3 417.7,1982.2 420.6,1983.0 423.5,1983.8 426.3,1984.6 429.2,1985.4 432.1,1986.2 435.0,1987.0 437.9,1987.8 440.8,1988.6 443.7,1989.3 446.6,1990.1 449.5,1990.8 452.4,1991.6 455.3,1992.3 458.3,1993.0 461.2,1993.8 464.1,1994.5 467.0,1995.2 469.9,1995.9 472.8,1996.6 475.8,1997.3 478.7,1998.0 481.6,1998.7 484.5,1999.4 487.4,2000.0 490.4,2000.7 493.3,2001.4 496.2,2002.0 499.1,2002.7 502.1,2003.3 505.0,2004.0 507.9,2004.6 510.9,2005.2 513.8,2005.8 516.7,2006.4 519.7,2007.0 522.6,2007.6 525.6,2008.2 528.5,2008.8 531.5,2009.3 534.4,2009.9 537.4,2010.4 540.3,2010.9 543.3,2011.4 546.2,2011.9 549.2,2012.4 552.2,2012.9 555.1,2013.4 558.1,2013.9 561.0,2014.4 564.0,2014.9 567.0,2015.4 569.9,2015.9 572.9,2016.3 575.8,2016.8 578.8,2017.2 581.8,2017.6 584.8,2018.0 587.7,2018.4 590.7,2018.7 593.7,2018.9 596.7,2019.2 599.7,2019.4 602.7,2019.5 605.7,2019.6 608.7,2019.6 611.6,2019.6 614.6,2019.5 617.6,2019.4 620.6,2019.2 623.6,2018.9 626.6,2018.6 629.6,2018.3 632.5,2017.9 635.5,2017.5 638.5,2017.1 641.4,2016.6 644.4,2016.1 647.4,2015.6 650.3,2015.1 653.2,2014.4 656.1,2013.8 659.0,2013.0 661.9,2012.2 664.8,2011.3 667.6,2010.4 670.4,2009.4 673.2,2008.3 676.0,2007.2 678.7,2006.0 681.5,2004.8 684.2,2003.4 686.8,2002.1 689.4,2000.6 692.0,1999.1 694.5,1997.5 696.9,1995.8 699.3,1994.0 701.7,1992.2 704.0,1990.3 706.3,1988.4 708.5,1986.4 710.7,1984.3 712.9,1982.3 715.1,1980.2 717.2,1978.1 719.3,1976.0 721.4,1973.8 723.5,1971.7 725.5,1969.5 727.6,1967.3 729.6,1965.0 731.5,1962.8 733.5,1960.5 735.5,1958.2 737.4,1955.9 739.3,1953.6 741.2,1951.3 743.0,1948.9 744.9,1946.5 746.7,1944.2 748.4,1941.7 750.2,1939.3 751.9,1936.9 753.6,1934.4 755.3,1931.9 757.0,1929.4 758.7,1926.9 760.3,1924.4 761.9,1921.9 763.5,1919.4 765.1,1916.8 766.7,1914.3 768.3,1911.8 769.9,1909.2 771.5,1906.6 773.1,1904.1 774.6,1901.5 776.2,1899.0 777.7,1896.4 779.2,1893.8 780.8,1891.2 782.3,1888.6 783.8,1886.0 785.3,1883.4 786.8,1880.8 788.2,1878.2 789.7,1875.6 791.2,1873.0 792.6,1870.4 794.1,1867.7 795.5,1865.1 797.0,1862.5 798.4,1859.9 799.9,1857.2 801.4,1854.6 802.8,1852.0 804.3,1849.4 805.7,1846.7 807.2,1844.1 808.6,1841.5 810.1,1838.9 811.5,1836.2 813.0,1833.6 814.4,1831.0 815.8,1828.3 817.3,1825.7 818.7,1823.1 820.2,1820.4 821.6,1817.8 823.0,1815.2 824.4,1812.5 825.9,1809.9 827.3,1807.2 828.7,1804.6 830.1,1801.9 831.5,1799.3 832.9,1796.6 834.3,1794.0 835.7,1791.3 837.0,1788.6 838.4,1786.0 839.8,1783.3 841.1,1780.6 842.5,1777.9 843.8,1775.3 845.2,1772.6 846.6,1769.9 847.9,1767.3 849.3,1764.6 850.7,1762.0 852.2,1759.3 853.6,1756.7 855.0,1754.1 856.5,1751.4 858.0,1748.8 859.5,1746.2 861.0,1743.7 862.6,1741.1 864.1,1738.5 865.7,1736.0 867.3,1733.4 868.9,1730.9 870.5,1728.3 872.1,1725.8 873.8,1723.3 875.4,1720.8 877.1,1718.3 878.7,1715.8 880.4,1713.3 882.1,1710.9 883.8,1708.4 885.5,1705.9 887.3,1703.5 889.0,1701.0 890.7,1698.6 892.5,1696.1 894.2,1693.7 895.9,1691.2 897.7,1688.8 899.4,1686.3 901.1,1683.9 902.9,1681.4 904.6,1679.0 906.4,1676.6 908.2,1674.2 910.0,1671.8 911.8,1669.4 913.7,1667.1 915.6,1664.7 917.5,1662.5 919.5,1660.2 921.6,1658.1 923.7,1656.0 925.8,1653.9 928.1,1651.9 930.4,1650.0 932.7,1648.2 935.1,1646.4 937.6,1644.7 940.1,1643.2 942.7,1641.6 945.3,1640.2 948.0,1638.9 950.7,1637.6 953.4,1636.5 956.2,1635.4 959.0,1634.4 961.9,1633.5 964.7,1632.8 967.6,1632.2 970.5,1631.7 973.4,1631.4 976.4,1631.3 979.3,1631.3 982.2,1631.6 985.2,1632.0 988.1,1632.5 991.0,1633.1 993.9,1633.9 996.7,1634.7 999.6,1635.5 1002.5,1636.5 1005.3,1637.4 1008.1,1638.4 1010.9,1639.5 1013.7,1640.6 1016.4,1641.8 1019.2,1643.0 1021.9,1644.3 1024.5,1645.7 1027.1,1647.1 1029.7,1648.7 1032.2,1650.3 1034.7,1651.9 1037.1,1653.7 1039.4,1655.5 1041.7,1657.4 1044.0,1659.4 1046.1,1661.5 1048.3,1663.6 1050.4,1665.7 1052.4,1667.9 1054.4,1670.1 1056.4,1672.4 1058.4,1674.6 1060.3,1676.9 1062.3,1679.2 1064.2,1681.5 1066.1,1683.8 1068.1,1686.1 1070.0,1688.4 1071.9,1690.7 1073.9,1693.0 1075.8,1695.3 1077.7,1697.5 1079.7,1699.8 1081.7,1702.1 1083.6,1704.3 1085.6,1706.6 1087.6,1708.9 1089.6,1711.1 1091.5,1713.4 1093.5,1715.7 1095.4,1717.9 1097.4,1720.2 1099.3,1722.5 1101.3,1724.8 1103.2,1727.1 1105.1,1729.4 1107.0,1731.7 1108.9,1734.0 1110.8,1736.4 1112.7,1738.7 1114.5,1741.1 1116.4,1743.4 1118.2,1745.8 1120.1,1748.2 1121.9,1750.6 1123.7,1753.0 1125.5,1755.4 1127.2,1757.8 1129.0,1760.2 1130.7,1762.7 1132.4,1765.1 1134.2,1767.6 1135.9,1770.1 1137.6,1772.5 1139.3,1775.0 1140.9,1777.5 1142.6,1780.0 1144.3,1782.4 1146.0,1784.9 1147.7,1787.4 1149.4,1789.9 1151.1,1792.4 1152.8,1794.8 1154.5,1797.3 1156.2,1799.8 1157.9,1802.2 1159.6,1804.7 1161.3,1807.2 1163.0,1809.6 1164.7,1812.1 1166.4,1814.6 1168.2,1817.0 1169.9,1819.5 1171.6,1821.9 1173.3,1824.4 1175.0,1826.9 1176.8,1829.3 1178.5,1831.8 1180.2,1834.2 1182.0,1836.6 1183.7,1839.1 1185.5,1841.5 1187.3,1843.9 1189.1,1846.3 1190.8,1848.7 1192.6,1851.2 1194.5,1853.5 1196.3,1855.9 1198.1,1858.3 1199.9,1860.7 1201.8,1863.1 1203.6,1865.4 1205.5,1867.8 1207.3,1870.1 1209.2,1872.5 1211.1,1874.8 1212.9,1877.2 1214.8,1879.5 1216.7,1881.8 1218.6,1884.2 1220.5,1886.5 1222.4,1888.9 1224.2,1891.2 1226.1,1893.5 1228.0,1895.8 1229.9,1898.2 1231.8,1900.5 1233.7,1902.8 1235.6,1905.2 1237.5,1907.5 1239.4,1909.8 1241.2,1912.2 1243.1,1914.5 1245.0,1916.8 1246.9,1919.2 1248.8,1921.5 1250.7,1923.8 1252.6,1926.1 1254.5,1928.4 1256.4,1930.8 1258.3,1933.1 1260.3,1935.4 1262.2,1937.7 1264.1,1940.0 1266.1,1942.3 1268.0,1944.5 1269.9,1946.8 1271.9,1949.1 1273.9,1951.4 1275.9,1953.6 1277.8,1955.9 1279.8,1958.1 1281.8,1960.3 1283.8,1962.6 1285.9,1964.8 1287.9,1967.0 1289.9,1969.2 1291.9,1971.4 1293.9,1973.7 1296.0,1975.9 1298.0,1978.1 1300.0,1980.3 1302.0,1982.5 1304.0,1984.8 1306.0,1987.0 1308.0,1989.2 1310.0,1991.5 1312.0,1993.7 1314.0,1995.9 1316.0,1998.2 1318.0,2000.4 1320.0,2002.7 1322.0,2004.9 1324.0,2007.2 1326.0,2009.4 1328.0,2011.7 1330.0,2013.9 1332.0,2016.1 1334.0,2018.4 1336.0,2020.6 1338.0,2022.8 1340.0,2025.0 1342.1,2027.2 1344.1,2029.4 1346.1,2031.7 1348.1,2033.9 1350.2,2036.1 1352.2,2038.3 1354.2,2040.5 1356.2,2042.8 1358.2,2045.0 1360.2,2047.2 1362.3,2049.4 1364.3,2051.6 1366.3,2053.8 1368.4,2056.0 1370.4,2058.2 1372.5,2060.4 1374.6,2062.5 1376.7,2064.6 1378.8,2066.7 1381.0,2068.8 1383.2,2070.9 1385.4,2072.9 1387.6,2074.9 1389.9,2076.8 1392.2,2078.7 1394.6,2080.6 1396.9,2082.4 1399.4,2084.2 1401.8,2086.0 1404.2,2087.7 1406.7,2089.4 1409.2,2091.1 1411.7,2092.7 1414.2,2094.3 1416.7,2096.0 1419.3,2097.6 1421.8,2099.2 1424.4,2100.7 1426.9,2102.3 1429.5,2103.9 1432.1,2105.4 1434.7,2106.9 1437.3,2108.4 1439.9,2109.9 1442.5,2111.3 1445.1,2112.8 1447.8,2114.2 1450.4,2115.6 1453.1,2116.9 1455.8,2118.3 1458.5,2119.6 1461.2,2120.9 1463.9,2122.1 1466.7,2123.3 1469.4,2124.5 1472.2,2125.7 1475.0,2126.8 1477.8,2127.9 1480.6,2128.9 1483.4,2129.9 1486.2,2130.8 1489.1,2131.7 1492.0,2132.6 1494.8,2133.4 1497.7,2134.2 1500.6,2135.0 1503.5,2135.7 1506.5,2136.4 1509.4,2137.1 1512.3,2137.8 1515.2,2138.4 1518.2,2139.1 1521.1,2139.7 1524.0,2140.3 1527.0,2141.0 1529.9,2141.6 1532.8,2142.2 1535.8,2142.8 1538.7,2143.4 1541.7,2143.9 1544.6,2144.5 1547.6,2145.1 1550.5,2145.6 1553.5,2146.2 1556.4,2146.7 1559.4,2147.2 1562.3,2147.8 1565.3,2148.3 1568.2,2148.8 1571.2,2149.3 1574.2,2149.8 1577.1,2150.3 1580.1,2150.7 1583.0,2151.2 1586.0,2151.7 1589.0,2152.1 1591.9,2152.6 1594.9,2153.0 1597.9,2153.4 1600.8,2153.9 1603.8,2154.3 1606.8,2154.7 1609.8,2155.1 1612.7,2155.6 1615.7,2156.0 1618.7,2156.4 1621.6,2156.8 1624.6,2157.2 1627.6,2157.6 1630.6,2158.0 1633.5,2158.4 1636.5,2158.8 1639.5,2159.2 1642.4,2159.6 1645.4,2160.1 1648.4,2160.5 1651.4,2160.9 1654.3,2161.3 1657.3,2161.7 1660.3,2162.1 1663.2,2162.5 1666.2,2162.9 1669.2,2163.3 1672.2,2163.7 1675.1,2164.2 1678.1,2164.6 1681.1,2165.0 1684.1,2165.4 1687.0,2165.8 1690.0,2166.2" fill="none" stroke="#FF0080" stroke-width="3.0" stroke-linejoin="round" stroke-linecap="butt"/>
<rect x="1316" y="1452" width="374" height="700" fill="#fff"/>
<line x1="1321" y1="1495.1" x2="1467.5" y2="1495.1" stroke="#000000" stroke-width="2.4"/>
<text transform="translate(1482.00,1517.20) scale(0.96,1)" font-size="67.0" text-anchor="start">0min</text>
<line x1="1321" y1="1572.5" x2="1467.5" y2="1572.5" stroke="#FF0000" stroke-width="2.4"/>
<text transform="translate(1482.00,1594.57) scale(0.96,1)" font-size="67.0" text-anchor="start">5min</text>
<line x1="1321" y1="1649.8" x2="1467.5" y2="1649.8" stroke="#0000FF" stroke-width="2.4"/>
<text transform="translate(1482.00,1671.95) scale(0.96,1)" font-size="67.0" text-anchor="start">10min</text>
<line x1="1321" y1="1727.2" x2="1467.5" y2="1727.2" stroke="#008080" stroke-width="2.4"/>
<text transform="translate(1482.00,1749.32) scale(0.96,1)" font-size="67.0" text-anchor="start">15min</text>
<line x1="1321" y1="1804.6" x2="1467.5" y2="1804.6" stroke="#FF00FF" stroke-width="2.4"/>
<text transform="translate(1482.00,1826.70) scale(0.96,1)" font-size="67.0" text-anchor="start">30min</text>
<line x1="1321" y1="1882.0" x2="1467.5" y2="1882.0" stroke="#808000" stroke-width="2.4"/>
<text transform="translate(1482.00,1904.07) scale(0.96,1)" font-size="67.0" text-anchor="start">60min</text>
<line x1="1321" y1="1959.3" x2="1467.5" y2="1959.3" stroke="#000080" stroke-width="2.4"/>
<text transform="translate(1482.00,1981.45) scale(0.96,1)" font-size="67.0" text-anchor="start">120min</text>
<line x1="1321" y1="2036.7" x2="1467.5" y2="2036.7" stroke="#800000" stroke-width="2.4"/>
<text transform="translate(1482.00,2058.82) scale(0.96,1)" font-size="67.0" text-anchor="start">180min</text>
<line x1="1321" y1="2114.1" x2="1467.5" y2="2114.1" stroke="#FF0080" stroke-width="2.4"/>
<text transform="translate(1482.00,2136.20) scale(0.96,1)" font-size="67.0" text-anchor="start">240min</text>
<line x1="964.4" y1="1600" x2="964.4" y2="1792.6" stroke="#000" stroke-width="2.6"/>
<line x1="963.5" y1="1792.6" x2="963.5" y2="2495" stroke="#000" stroke-width="2.6"/>
<text transform="translate(893.00,1584.20) scale(0.96,1)" font-size="67.0" text-anchor="start">548 nm</text>
<text transform="translate(285.50,1616.50) scale(0.94,1)" font-size="165" text-anchor="start" font-weight="bold">b</text>
<rect x="250.5" y="1449.35" width="1442.3" height="1048.25" fill="none" stroke="#000" stroke-width="5"/>
<line x1="250.50" y1="2497.6" x2="250.50" y2="2520.6" stroke="#000" stroke-width="5"/>
<line x1="370.69" y1="2497.6" x2="370.69" y2="2509.6" stroke="#000" stroke-width="5"/>
<line x1="490.88" y1="2497.6" x2="490.88" y2="2520.6" stroke="#000" stroke-width="5"/>
<line x1="611.08" y1="2497.6" x2="611.08" y2="2509.6" stroke="#000" stroke-width="5"/>
<line x1="731.27" y1="2497.6" x2="731.27" y2="2520.6" stroke="#000" stroke-width="5"/>
<line x1="851.46" y1="2497.6" x2="851.46" y2="2509.6" stroke="#000" stroke-width="5"/>
<line x1="971.65" y1="2497.6" x2="971.65" y2="2520.6" stroke="#000" stroke-width="5"/>
<line x1="1091.84" y1="2497.6" x2="1091.84" y2="2509.6" stroke="#000" stroke-width="5"/>
<line x1="1212.03" y1="2497.6" x2="1212.03" y2="2520.6" stroke="#000" stroke-width="5"/>
<line x1="1332.22" y1="2497.6" x2="1332.22" y2="2509.6" stroke="#000" stroke-width="5"/>
<line x1="1452.42" y1="2497.6" x2="1452.42" y2="2520.6" stroke="#000" stroke-width="5"/>
<line x1="1572.61" y1="2497.6" x2="1572.61" y2="2509.6" stroke="#000" stroke-width="5"/>
<line x1="1692.80" y1="2497.6" x2="1692.80" y2="2520.6" stroke="#000" stroke-width="5"/>
<text transform="translate(250.50,2576.40) scale(0.96,1)" font-size="67.0" text-anchor="middle">400</text>
<text transform="translate(490.88,2576.40) scale(0.96,1)" font-size="67.0" text-anchor="middle">450</text>
<text transform="translate(731.27,2576.40) scale(0.96,1)" font-size="67.0" text-anchor="middle">500</text>
<text transform="translate(971.65,2576.40) scale(0.96,1)" font-size="67.0" text-anchor="middle">550</text>
<text transform="translate(1212.03,2576.40) scale(0.96,1)" font-size="67.0" text-anchor="middle">600</text>
<text transform="translate(1452.42,2576.40) scale(0.96,1)" font-size="67.0" text-anchor="middle">650</text>
<text transform="translate(1692.80,2576.40) scale(0.96,1)" font-size="67.0" text-anchor="middle">700</text>
<line x1="227.5" y1="2497.60" x2="250.5" y2="2497.60" stroke="#000" stroke-width="5"/>
<text transform="translate(226.00,2516.60) scale(0.96,1)" font-size="67.0" text-anchor="end">0.0</text>
<line x1="238.5" y1="2322.89" x2="250.5" y2="2322.89" stroke="#000" stroke-width="5"/>
<line x1="227.5" y1="2148.18" x2="250.5" y2="2148.18" stroke="#000" stroke-width="5"/>
<text transform="translate(226.00,2167.18) scale(0.96,1)" font-size="67.0" text-anchor="end">0.2</text>
<line x1="238.5" y1="1973.47" x2="250.5" y2="1973.47" stroke="#000" stroke-width="5"/>
<line x1="227.5" y1="1798.77" x2="250.5" y2="1798.77" stroke="#000" stroke-width="5"/>
<text transform="translate(226.00,1817.77) scale(0.96,1)" font-size="67.0" text-anchor="end">0.4</text>
<line x1="238.5" y1="1624.06" x2="250.5" y2="1624.06" stroke="#000" stroke-width="5"/>
<line x1="227.5" y1="1449.35" x2="250.5" y2="1449.35" stroke="#000" stroke-width="5"/>
<text transform="translate(226.00,1468.35) scale(0.96,1)" font-size="67.0" text-anchor="end">0.6</text>
<text transform="translate(127.90,1973.10) rotate(-90) scale(0.956,1)" font-size="67.0" text-anchor="middle">Absorbance</text>
<text transform="translate(975.00,2651.60) scale(0.965,1)" font-size="67.0" text-anchor="middle">Wavelenght (nm)</text>
<polyline points="247.0,3783.3 249.9,3784.2 252.7,3785.1 255.6,3785.9 258.5,3786.8 261.3,3787.7 264.2,3788.6 267.1,3789.4 270.0,3790.3 272.8,3791.2 275.7,3792.0 278.6,3792.9 281.5,3793.7 284.3,3794.6 287.2,3795.5 290.1,3796.3 293.0,3797.2 295.8,3798.0 298.7,3798.8 301.6,3799.7 304.5,3800.5 307.4,3801.4 310.2,3802.2 313.1,3803.1 316.0,3803.9 318.9,3804.7 321.8,3805.6 324.6,3806.4 327.5,3807.3 330.4,3808.1 333.3,3808.9 336.2,3809.8 339.0,3810.6 341.9,3811.4 344.8,3812.2 347.7,3813.0 350.6,3813.8 353.5,3814.6 356.4,3815.4 359.3,3816.2 362.2,3817.0 365.1,3817.7 368.0,3818.5 370.9,3819.2 373.8,3819.9 376.7,3820.7 379.6,3821.4 382.6,3822.1 385.5,3822.8 388.4,3823.5 391.3,3824.2 394.2,3824.8 397.2,3825.5 400.1,3826.2 403.0,3826.8 405.9,3827.5 408.9,3828.1 411.8,3828.7 414.7,3829.3 417.7,3829.9 420.6,3830.5 423.6,3831.1 426.5,3831.6 429.5,3832.2 432.4,3832.7 435.4,3833.2 438.3,3833.8 441.3,3834.3 444.2,3834.8 447.2,3835.3 450.2,3835.7 453.1,3836.2 456.1,3836.7 459.1,3837.1 462.0,3837.6 465.0,3838.0 468.0,3838.5 470.9,3838.9 473.9,3839.3 476.9,3839.7 479.8,3840.1 482.8,3840.5 485.8,3840.9 488.8,3841.3 491.8,3841.6 494.7,3842.0 497.7,3842.3 500.7,3842.7 503.7,3843.0 506.7,3843.3 509.6,3843.7 512.6,3844.0 515.6,3844.3 518.6,3844.6 521.6,3844.9 524.6,3845.2 527.5,3845.5 530.5,3845.8 533.5,3846.1 536.5,3846.4 539.5,3846.7 542.5,3846.9 545.5,3847.2 548.5,3847.5 551.4,3847.8 554.4,3848.0 557.4,3848.3 560.4,3848.6 563.4,3848.8 566.4,3849.1 569.4,3849.3 572.4,3849.6 575.4,3849.9 578.3,3850.1 581.3,3850.4 584.3,3850.6 587.3,3850.9 590.3,3851.1 593.3,3851.3 596.3,3851.6 599.3,3851.8 602.3,3852.0 605.3,3852.3 608.3,3852.5 611.2,3852.7 614.2,3852.9 617.2,3853.1 620.2,3853.3 623.2,3853.5 626.2,3853.8 629.2,3854.0 632.2,3854.2 635.2,3854.4 638.2,3854.6 641.2,3854.8 644.2,3855.0 647.2,3855.2 650.2,3855.4 653.1,3855.6 656.1,3855.8 659.1,3856.0 662.1,3856.2 665.1,3856.4 668.1,3856.5 671.1,3856.7 674.1,3856.9 677.1,3857.1 680.1,3857.3 683.1,3857.5 686.1,3857.7 689.1,3857.8 692.1,3858.0 695.1,3858.2 698.1,3858.4 701.1,3858.5 704.1,3858.7 707.1,3858.9 710.0,3859.0 713.0,3859.2 716.0,3859.4 719.0,3859.5 722.0,3859.7 725.0,3859.8 728.0,3860.0 731.0,3860.1 734.0,3860.2 737.0,3860.4 740.0,3860.5 743.0,3860.6 746.0,3860.8 749.0,3860.9 752.0,3861.0 755.0,3861.1 758.0,3861.3 761.0,3861.4 764.0,3861.5 767.0,3861.6 770.0,3861.7 773.0,3861.9 776.0,3862.0 779.0,3862.1 782.0,3862.2 785.0,3862.3 788.0,3862.4 791.0,3862.5 794.0,3862.6 797.0,3862.8 800.0,3862.9 803.0,3863.0 806.0,3863.1 809.0,3863.2 812.0,3863.3 815.0,3863.4 818.0,3863.5 821.0,3863.6 824.0,3863.7 827.0,3863.8 830.0,3863.9 833.0,3864.0 836.0,3864.0 839.0,3864.1 842.0,3864.2 845.0,3864.3 848.0,3864.4 851.0,3864.5 854.0,3864.6 857.0,3864.7 860.0,3864.7 862.9,3864.8 865.9,3864.9 868.9,3865.0 871.9,3865.1 874.9,3865.2 877.9,3865.3 880.9,3865.4 883.9,3865.4 886.9,3865.5 889.9,3865.6 892.9,3865.7 895.9,3865.8 898.9,3865.9 901.9,3866.0 904.9,3866.1 907.9,3866.1 910.9,3866.2 913.9,3866.3 916.9,3866.4 919.9,3866.4 922.9,3866.5 925.9,3866.5 928.9,3866.6 931.9,3866.6 934.9,3866.7 937.9,3866.7 940.9,3866.7 943.9,3866.8 946.9,3866.8 949.9,3866.8 952.9,3866.8 955.9,3866.8 958.9,3866.8 961.9,3866.8 964.9,3866.8 967.9,3866.8 970.9,3866.8 973.9,3866.8 976.9,3866.8 979.9,3866.9 982.9,3866.9 985.9,3866.9 988.9,3866.9 991.9,3866.9 994.9,3866.9 997.9,3866.9 1000.9,3866.9 1003.9,3866.9 1006.9,3866.9 1009.9,3866.9 1012.9,3866.9 1015.9,3866.9 1018.9,3866.9 1021.9,3866.9 1024.9,3866.9 1027.9,3866.9 1030.9,3866.9 1033.9,3866.9 1036.9,3866.9 1039.9,3866.9 1042.9,3866.9 1045.9,3866.9 1048.9,3866.9 1051.9,3866.9 1054.9,3866.9 1057.9,3866.9 1060.9,3866.9 1063.9,3866.9 1066.9,3866.9 1069.9,3866.9 1072.9,3866.9 1075.9,3866.9 1078.9,3866.9 1081.9,3866.9 1084.9,3866.9 1087.9,3866.9 1090.9,3866.9 1093.9,3866.9 1096.9,3866.9 1099.9,3866.9 1102.9,3866.9 1105.9,3866.9 1108.9,3866.9 1111.9,3866.9 1114.9,3866.9 1117.9,3866.9 1120.9,3866.9 1123.9,3866.9 1126.9,3866.9 1129.9,3866.9 1132.9,3866.9 1135.9,3866.9 1138.9,3866.9 1141.9,3866.9 1145.0,3866.9 1148.0,3866.8 1151.0,3866.8 1154.0,3866.8 1157.0,3866.8 1160.0,3866.8 1163.0,3866.8 1166.0,3866.8 1169.0,3866.8 1172.0,3866.8 1175.0,3866.8 1178.0,3866.8 1181.0,3866.8 1184.0,3866.8 1187.0,3866.8 1190.0,3866.8 1193.0,3866.8 1196.0,3866.8 1199.0,3866.8 1202.0,3866.8 1205.0,3866.8 1208.0,3866.7 1211.0,3866.7 1214.0,3866.7 1217.0,3866.7 1220.0,3866.7 1223.0,3866.7 1226.0,3866.7 1229.0,3866.7 1232.0,3866.7 1235.0,3866.7 1238.0,3866.7 1241.0,3866.7 1244.0,3866.7 1247.0,3866.7 1250.0,3866.6 1253.0,3866.6 1256.0,3866.6 1259.0,3866.6 1262.0,3866.6 1265.0,3866.6 1268.0,3866.6 1271.0,3866.6 1274.0,3866.6 1277.0,3866.6 1280.0,3866.6 1283.0,3866.6 1286.0,3866.5 1289.0,3866.5 1292.0,3866.5 1295.0,3866.5 1298.0,3866.5 1301.0,3866.5 1304.0,3866.5 1307.0,3866.5 1310.0,3866.5 1313.0,3866.5 1316.0,3866.4 1319.0,3866.4 1322.0,3866.4 1325.0,3866.4 1328.0,3866.4 1331.0,3866.4 1334.0,3866.4 1337.0,3866.4 1340.0,3866.4 1343.0,3866.4 1346.0,3866.4 1349.0,3866.3 1352.0,3866.3 1355.0,3866.3 1358.0,3866.3 1361.0,3866.3 1364.0,3866.3 1367.0,3866.3 1370.0,3866.3 1373.0,3866.3 1376.0,3866.3 1379.0,3866.2 1382.0,3866.2 1385.0,3866.2 1388.0,3866.2 1391.0,3866.2 1394.0,3866.2 1397.0,3866.2 1400.0,3866.2 1403.0,3866.2 1406.0,3866.2 1409.0,3866.1 1412.0,3866.1 1415.0,3866.1 1418.0,3866.1 1421.0,3866.1 1424.0,3866.1 1427.0,3866.1 1430.0,3866.1 1433.0,3866.1 1436.0,3866.1 1439.0,3866.0 1442.0,3866.0 1445.0,3866.0 1448.0,3866.0 1451.0,3866.0 1454.0,3866.0 1457.0,3866.0 1460.0,3866.0 1463.0,3866.0 1466.0,3865.9 1469.0,3865.9 1472.0,3865.9 1475.0,3865.9 1478.0,3865.9 1481.0,3865.9 1484.0,3865.9 1487.0,3865.9 1490.0,3865.9 1493.0,3865.8 1496.0,3865.8 1499.0,3865.8 1502.0,3865.8 1505.0,3865.8 1508.0,3865.8 1511.0,3865.8 1514.0,3865.8 1517.0,3865.8 1520.0,3865.7 1523.0,3865.7 1526.0,3865.7 1529.0,3865.7 1532.0,3865.7 1535.0,3865.7 1538.0,3865.7 1541.0,3865.7 1544.0,3865.7 1547.0,3865.6 1550.0,3865.6 1553.0,3865.6 1556.0,3865.6 1559.0,3865.6 1562.0,3865.6 1565.0,3865.6 1568.0,3865.6 1571.0,3865.6 1574.0,3865.5 1577.0,3865.5 1580.0,3865.5 1583.0,3865.5 1586.0,3865.5 1589.0,3865.5 1592.0,3865.5 1595.0,3865.5 1598.0,3865.4 1601.0,3865.4 1604.0,3865.4 1607.0,3865.4 1610.0,3865.4 1613.0,3865.4 1616.0,3865.4 1619.0,3865.4 1622.0,3865.3 1625.0,3865.3 1628.0,3865.3 1631.0,3865.3 1634.0,3865.3 1637.0,3865.3 1640.0,3865.3 1643.0,3865.3 1646.0,3865.2 1649.0,3865.2 1652.0,3865.2 1655.0,3865.2 1658.0,3865.2 1661.0,3865.2 1664.0,3865.2 1667.0,3865.2 1670.0,3865.1 1673.0,3865.1 1676.0,3865.1 1679.0,3865.1 1682.0,3865.1 1685.0,3865.1 1688.0,3865.1 1691.0,3865.0 1694.0,3865.0 1697.0,3865.0 1700.0,3865.0" fill="none" stroke="#000000" stroke-width="3.0" stroke-linejoin="round" stroke-linecap="butt"/>
<polyline points="247.0,3424.4 249.8,3425.4 252.7,3426.3 255.5,3427.3 258.4,3428.2 261.2,3429.1 264.1,3430.1 266.9,3431.0 269.8,3431.9 272.7,3432.8 275.5,3433.7 278.4,3434.6 281.3,3435.4 284.2,3436.3 287.0,3437.1 289.9,3438.0 292.8,3438.8 295.7,3439.6 298.6,3440.4 301.5,3441.1 304.4,3441.9 307.3,3442.7 310.2,3443.4 313.1,3444.2 316.0,3445.0 318.9,3445.7 321.8,3446.5 324.7,3447.2 327.6,3447.9 330.5,3448.7 333.4,3449.4 336.4,3450.1 339.3,3450.9 342.2,3451.6 345.1,3452.3 348.0,3453.0 350.9,3453.7 353.9,3454.4 356.8,3455.0 359.7,3455.7 362.6,3456.4 365.6,3457.0 368.5,3457.7 371.4,3458.3 374.4,3458.9 377.3,3459.5 380.2,3460.1 383.2,3460.7 386.1,3461.3 389.1,3461.8 392.0,3462.4 395.0,3462.9 397.9,3463.4 400.9,3463.9 403.9,3464.4 406.8,3464.9 409.8,3465.4 412.7,3465.9 415.7,3466.4 418.7,3466.9 421.6,3467.4 424.6,3467.9 427.5,3468.4 430.5,3468.9 433.5,3469.3 436.4,3469.8 439.4,3470.3 442.4,3470.7 445.3,3471.2 448.3,3471.6 451.3,3472.0 454.2,3472.4 457.2,3472.8 460.2,3473.2 463.2,3473.5 466.2,3473.9 469.1,3474.2 472.1,3474.5 475.1,3474.7 478.1,3475.0 481.1,3475.2 484.1,3475.4 487.1,3475.6 490.1,3475.7 493.1,3475.9 496.1,3475.9 499.1,3476.0 502.1,3476.0 505.1,3476.0 508.1,3475.9 511.1,3475.8 514.1,3475.7 517.0,3475.5 520.0,3475.3 523.0,3475.1 526.0,3474.8 529.0,3474.6 532.0,3474.3 535.0,3474.0 538.0,3473.7 541.0,3473.4 543.9,3473.1 546.9,3472.7 549.9,3472.4 552.9,3472.1 555.9,3471.7 558.8,3471.3 561.8,3470.9 564.8,3470.5 567.7,3470.0 570.7,3469.5 573.7,3469.0 576.6,3468.5 579.6,3468.0 582.5,3467.4 585.5,3466.8 588.4,3466.2 591.3,3465.6 594.2,3464.9 597.2,3464.2 600.1,3463.4 602.9,3462.6 605.8,3461.7 608.6,3460.8 611.4,3459.7 614.2,3458.6 617.0,3457.5 619.7,3456.3 622.4,3455.0 625.1,3453.7 627.8,3452.3 630.4,3450.9 633.1,3449.5 635.7,3448.0 638.3,3446.5 640.9,3445.0 643.5,3443.5 646.1,3442.0 648.6,3440.5 651.2,3438.9 653.7,3437.3 656.3,3435.7 658.8,3434.0 661.2,3432.4 663.7,3430.6 666.1,3428.9 668.6,3427.1 670.9,3425.3 673.3,3423.5 675.7,3421.6 678.0,3419.7 680.3,3417.8 682.6,3415.9 684.9,3413.9 687.1,3412.0 689.4,3410.0 691.6,3408.0 693.8,3405.9 696.0,3403.9 698.2,3401.8 700.4,3399.8 702.5,3397.7 704.6,3395.5 706.7,3393.4 708.8,3391.2 710.8,3389.0 712.8,3386.8 714.8,3384.5 716.8,3382.3 718.8,3380.0 720.7,3377.7 722.6,3375.4 724.5,3373.1 726.4,3370.8 728.3,3368.4 730.2,3366.1 732.1,3363.8 733.9,3361.4 735.8,3359.0 737.6,3356.7 739.5,3354.3 741.4,3352.0 743.2,3349.6 745.0,3347.2 746.9,3344.9 748.7,3342.5 750.5,3340.1 752.3,3337.7 754.1,3335.3 755.9,3332.9 757.7,3330.5 759.5,3328.1 761.3,3325.6 763.0,3323.2 764.8,3320.8 766.6,3318.4 768.3,3315.9 770.1,3313.5 771.9,3311.1 773.7,3308.7 775.4,3306.3 777.2,3303.8 779.0,3301.4 780.8,3299.0 782.5,3296.6 784.3,3294.2 786.1,3291.8 787.9,3289.3 789.7,3287.0 791.5,3284.6 793.4,3282.2 795.2,3279.9 797.2,3277.6 799.1,3275.3 801.1,3273.1 803.2,3270.9 805.3,3268.8 807.5,3266.8 809.7,3264.7 811.9,3262.7 814.2,3260.8 816.5,3258.8 818.8,3256.9 821.1,3255.0 823.5,3253.2 825.8,3251.3 828.2,3249.5 830.6,3247.8 833.1,3246.1 835.6,3244.4 838.1,3242.9 840.7,3241.4 843.4,3240.1 846.1,3238.9 848.8,3237.9 851.6,3237.0 854.5,3236.2 857.4,3235.6 860.3,3235.2 863.3,3234.9 866.2,3234.7 869.2,3234.8 872.1,3234.9 875.1,3235.2 878.0,3235.7 880.9,3236.3 883.8,3236.9 886.7,3237.7 889.5,3238.6 892.4,3239.6 895.1,3240.6 897.9,3241.8 900.6,3243.0 903.3,3244.4 905.9,3245.8 908.4,3247.4 910.9,3249.0 913.3,3250.7 915.6,3252.6 917.9,3254.5 920.1,3256.6 922.2,3258.7 924.2,3260.8 926.2,3263.1 928.1,3265.3 930.1,3267.6 931.9,3270.0 933.8,3272.3 935.7,3274.7 937.5,3277.0 939.4,3279.4 941.2,3281.8 943.1,3284.1 944.9,3286.5 946.7,3288.9 948.6,3291.2 950.4,3293.6 952.2,3296.0 953.9,3298.5 955.7,3300.9 957.4,3303.4 959.1,3305.9 960.7,3308.4 962.4,3310.9 964.0,3313.4 965.6,3315.9 967.2,3318.4 968.8,3321.0 970.4,3323.5 972.0,3326.1 973.6,3328.6 975.1,3331.2 976.7,3333.7 978.3,3336.3 979.9,3338.8 981.5,3341.4 983.2,3343.9 984.8,3346.4 986.4,3348.9 988.1,3351.4 989.8,3353.9 991.5,3356.4 993.2,3358.8 994.9,3361.3 996.6,3363.8 998.3,3366.2 1000.0,3368.7 1001.8,3371.1 1003.5,3373.6 1005.2,3376.0 1007.0,3378.5 1008.7,3380.9 1010.5,3383.4 1012.2,3385.8 1013.9,3388.3 1015.6,3390.7 1017.3,3393.2 1019.0,3395.7 1020.7,3398.1 1022.4,3400.6 1024.1,3403.1 1025.8,3405.6 1027.5,3408.1 1029.1,3410.6 1030.8,3413.1 1032.4,3415.6 1034.1,3418.1 1035.7,3420.6 1037.4,3423.1 1039.0,3425.7 1040.6,3428.2 1042.2,3430.7 1043.8,3433.2 1045.4,3435.8 1047.0,3438.3 1048.6,3440.9 1050.2,3443.4 1051.8,3446.0 1053.3,3448.5 1054.9,3451.1 1056.5,3453.6 1058.1,3456.1 1059.8,3458.6 1061.5,3461.0 1063.3,3463.4 1065.1,3465.8 1067.0,3468.1 1068.9,3470.4 1070.9,3472.7 1072.8,3475.0 1074.8,3477.2 1076.8,3479.5 1078.7,3481.8 1080.6,3484.1 1082.5,3486.4 1084.4,3488.7 1086.3,3491.1 1088.2,3493.4 1090.0,3495.8 1091.9,3498.1 1093.8,3500.5 1095.6,3502.8 1097.5,3505.2 1099.3,3507.5 1101.2,3509.9 1103.1,3512.2 1105.0,3514.6 1106.9,3516.9 1108.8,3519.2 1110.7,3521.5 1112.7,3523.8 1114.6,3526.0 1116.6,3528.3 1118.7,3530.5 1120.7,3532.7 1122.8,3534.8 1124.9,3537.0 1127.0,3539.1 1129.1,3541.3 1131.2,3543.4 1133.3,3545.5 1135.5,3547.6 1137.6,3549.7 1139.8,3551.8 1142.0,3553.8 1144.2,3555.9 1146.4,3557.9 1148.6,3559.9 1150.8,3561.9 1153.1,3563.9 1155.4,3565.9 1157.7,3567.8 1160.0,3569.7 1162.3,3571.6 1164.6,3573.5 1167.0,3575.3 1169.4,3577.1 1171.8,3578.9 1174.3,3580.6 1176.7,3582.3 1179.2,3584.0 1181.7,3585.7 1184.2,3587.3 1186.7,3588.9 1189.3,3590.5 1191.8,3592.1 1194.4,3593.7 1197.0,3595.2 1199.6,3596.7 1202.2,3598.2 1204.8,3599.7 1207.4,3601.1 1210.0,3602.6 1212.7,3604.0 1215.3,3605.5 1217.9,3606.9 1220.6,3608.3 1223.2,3609.7 1225.9,3611.0 1228.6,3612.3 1231.3,3613.6 1234.1,3614.8 1236.8,3615.9 1239.6,3617.0 1242.4,3618.0 1245.3,3619.0 1248.1,3619.9 1251.0,3620.8 1253.9,3621.7 1256.7,3622.5 1259.6,3623.4 1262.5,3624.2 1265.4,3625.1 1268.2,3625.9 1271.1,3626.8 1274.0,3627.6 1276.9,3628.5 1279.8,3629.3 1282.6,3630.1 1285.5,3630.9 1288.4,3631.7 1291.4,3632.4 1294.3,3633.1 1297.2,3633.7 1300.1,3634.3 1303.1,3634.8 1306.0,3635.3 1309.0,3635.8 1312.0,3636.2 1314.9,3636.7 1317.9,3637.1 1320.9,3637.5 1323.9,3637.8 1326.8,3638.2 1329.8,3638.5 1332.8,3638.8 1335.8,3639.1 1338.8,3639.4 1341.8,3639.7 1344.8,3640.0 1347.7,3640.3 1350.7,3640.5 1353.7,3640.8 1356.7,3641.0 1359.7,3641.3 1362.7,3641.5 1365.7,3641.7 1368.7,3641.9 1371.7,3642.1 1374.7,3642.3 1377.7,3642.5 1380.7,3642.6 1383.7,3642.7 1386.7,3642.8 1389.7,3642.9 1392.7,3643.0 1395.7,3643.1 1398.7,3643.1 1401.7,3643.2 1404.7,3643.2 1407.7,3643.3 1410.7,3643.3 1413.7,3643.4 1416.7,3643.5 1419.7,3643.5 1422.7,3643.6 1425.7,3643.7 1428.7,3643.8 1431.7,3644.0 1434.7,3644.1 1437.7,3644.3 1440.6,3644.5 1443.6,3644.6 1446.6,3644.8 1449.6,3645.1 1452.6,3645.3 1455.6,3645.5 1458.6,3645.7 1461.6,3646.0 1464.6,3646.2 1467.6,3646.5 1470.6,3646.8 1473.6,3647.0 1476.5,3647.3 1479.5,3647.6 1482.5,3647.9 1485.5,3648.2 1488.5,3648.5 1491.5,3648.8 1494.5,3649.1 1497.4,3649.4 1500.4,3649.8 1503.4,3650.1 1506.4,3650.5 1509.4,3650.8 1512.3,3651.2 1515.3,3651.6 1518.3,3652.0 1521.3,3652.3 1524.2,3652.8 1527.2,3653.2 1530.2,3653.6 1533.2,3654.0 1536.1,3654.5 1539.1,3654.9 1542.0,3655.4 1545.0,3655.9 1548.0,3656.4 1550.9,3656.9 1553.9,3657.4 1556.8,3657.9 1559.8,3658.5 1562.7,3659.0 1565.7,3659.6 1568.6,3660.1 1571.6,3660.6 1574.5,3661.2 1577.5,3661.7 1580.4,3662.3 1583.4,3662.8 1586.3,3663.4 1589.3,3664.0 1592.2,3664.5 1595.2,3665.1 1598.1,3665.7 1601.1,3666.2 1604.0,3666.8 1607.0,3667.4 1609.9,3668.0 1612.8,3668.7 1615.8,3669.3 1618.7,3669.9 1621.6,3670.6 1624.6,3671.3 1627.5,3671.9 1630.4,3672.7 1633.3,3673.4 1636.2,3674.2 1639.1,3675.0 1642.0,3675.8 1644.8,3676.7 1647.7,3677.6 1650.5,3678.5 1653.4,3679.5 1656.2,3680.5 1659.0,3681.5 1661.8,3682.5 1664.6,3683.6 1667.4,3684.8 1670.2,3685.9 1672.9,3687.1 1675.6,3688.4 1678.3,3689.7 1681.0,3691.0 1683.6,3692.5 1686.1,3694.0 1688.7,3695.6 1691.1,3697.3 1693.6,3699.1 1696.0,3700.8 1698.3,3702.7 1700.7,3704.5" fill="none" stroke="#FF0000" stroke-width="3.0" stroke-linejoin="round" stroke-linecap="butt"/>
<polyline points="247.0,3347.7 249.9,3348.5 252.8,3349.3 255.7,3350.1 258.6,3350.9 261.5,3351.7 264.4,3352.5 267.3,3353.3 270.2,3354.0 273.1,3354.8 276.0,3355.6 278.9,3356.4 281.8,3357.1 284.7,3357.9 287.6,3358.7 290.5,3359.4 293.4,3360.2 296.3,3360.9 299.2,3361.7 302.1,3362.4 305.0,3363.1 307.9,3363.9 310.8,3364.6 313.7,3365.3 316.6,3366.0 319.6,3366.7 322.5,3367.4 325.4,3368.1 328.3,3368.8 331.2,3369.5 334.2,3370.2 337.1,3370.8 340.0,3371.5 342.9,3372.2 345.9,3372.8 348.8,3373.5 351.7,3374.2 354.6,3374.8 357.6,3375.5 360.5,3376.2 363.4,3376.8 366.4,3377.5 369.3,3378.2 372.2,3378.8 375.1,3379.5 378.1,3380.1 381.0,3380.8 383.9,3381.5 386.8,3382.1 389.8,3382.7 392.7,3383.4 395.6,3384.0 398.6,3384.6 401.5,3385.2 404.5,3385.8 407.4,3386.4 410.3,3387.0 413.3,3387.5 416.2,3388.1 419.2,3388.6 422.2,3389.1 425.1,3389.6 428.1,3390.0 431.1,3390.5 434.0,3390.9 437.0,3391.3 440.0,3391.7 442.9,3392.0 445.9,3392.4 448.9,3392.7 451.9,3393.0 454.9,3393.3 457.9,3393.5 460.9,3393.8 463.9,3394.0 466.9,3394.2 469.8,3394.4 472.8,3394.6 475.8,3394.7 478.8,3394.9 481.8,3395.0 484.8,3395.1 487.8,3395.2 490.8,3395.2 493.8,3395.2 496.8,3395.2 499.8,3395.2 502.8,3395.2 505.8,3395.1 508.8,3395.0 511.8,3394.9 514.8,3394.7 517.8,3394.5 520.8,3394.3 523.8,3394.1 526.8,3393.8 529.8,3393.6 532.8,3393.3 535.7,3393.0 538.7,3392.7 541.7,3392.3 544.7,3392.0 547.7,3391.6 550.6,3391.1 553.6,3390.7 556.5,3390.1 559.5,3389.5 562.4,3388.9 565.3,3388.2 568.2,3387.5 571.1,3386.7 574.0,3385.8 576.8,3385.0 579.7,3384.1 582.6,3383.2 585.4,3382.2 588.3,3381.3 591.1,3380.3 593.9,3379.3 596.7,3378.2 599.5,3377.1 602.2,3375.9 605.0,3374.7 607.7,3373.4 610.3,3372.0 613.0,3370.6 615.6,3369.2 618.1,3367.6 620.7,3366.0 623.2,3364.4 625.7,3362.7 628.1,3361.0 630.5,3359.2 632.9,3357.4 635.3,3355.6 637.7,3353.8 640.1,3352.0 642.5,3350.3 645.0,3348.6 647.5,3346.9 650.0,3345.3 652.5,3343.7 655.0,3342.0 657.5,3340.4 660.0,3338.8 662.5,3337.0 664.9,3335.3 667.2,3333.4 669.5,3331.5 671.7,3329.5 673.9,3327.5 676.1,3325.4 678.1,3323.2 680.2,3321.0 682.2,3318.8 684.2,3316.6 686.1,3314.3 688.1,3312.0 690.0,3309.7 691.9,3307.4 693.7,3305.0 695.6,3302.7 697.5,3300.3 699.3,3298.0 701.1,3295.6 702.9,3293.2 704.7,3290.8 706.5,3288.4 708.3,3285.9 710.0,3283.5 711.7,3281.0 713.4,3278.6 715.1,3276.1 716.8,3273.6 718.5,3271.1 720.1,3268.6 721.8,3266.1 723.4,3263.6 725.0,3261.0 726.6,3258.5 728.2,3256.0 729.8,3253.4 731.4,3250.9 733.0,3248.3 734.6,3245.8 736.1,3243.2 737.6,3240.6 739.2,3238.0 740.7,3235.4 742.2,3232.8 743.7,3230.2 745.2,3227.6 746.6,3225.0 748.1,3222.4 749.6,3219.8 751.1,3217.2 752.5,3214.6 754.0,3212.0 755.5,3209.3 757.0,3206.7 758.4,3204.1 759.9,3201.5 761.4,3198.9 762.9,3196.3 764.4,3193.7 765.9,3191.1 767.4,3188.5 768.9,3185.9 770.4,3183.3 771.9,3180.7 773.4,3178.1 774.9,3175.5 776.5,3172.9 778.0,3170.4 779.5,3167.8 781.1,3165.2 782.6,3162.6 784.2,3160.1 785.7,3157.5 787.3,3155.0 788.9,3152.4 790.5,3149.9 792.1,3147.4 793.7,3144.8 795.4,3142.3 797.0,3139.8 798.6,3137.3 800.3,3134.8 801.9,3132.3 803.6,3129.8 805.3,3127.3 806.9,3124.8 808.6,3122.3 810.4,3119.9 812.1,3117.4 813.9,3115.0 815.7,3112.6 817.5,3110.2 819.4,3107.9 821.3,3105.6 823.3,3103.3 825.2,3101.1 827.3,3098.9 829.3,3096.7 831.4,3094.6 833.6,3092.5 835.8,3090.5 838.0,3088.5 840.3,3086.6 842.7,3084.8 845.1,3083.0 847.6,3081.4 850.1,3079.8 852.7,3078.3 855.4,3077.0 858.0,3075.7 860.8,3074.5 863.5,3073.4 866.3,3072.5 869.2,3071.7 872.1,3071.1 874.9,3070.6 877.8,3070.4 880.8,3070.4 883.6,3070.6 886.5,3071.0 889.3,3071.7 892.1,3072.6 894.8,3073.7 897.4,3075.0 899.9,3076.5 902.3,3078.1 904.5,3080.0 906.7,3082.0 908.8,3084.1 910.7,3086.3 912.7,3088.5 914.6,3090.9 916.4,3093.2 918.3,3095.6 920.1,3097.9 922.0,3100.3 923.8,3102.6 925.7,3105.0 927.6,3107.3 929.5,3109.7 931.4,3112.0 933.2,3114.3 935.1,3116.7 937.0,3119.0 938.9,3121.4 940.7,3123.7 942.5,3126.1 944.4,3128.5 946.2,3130.9 947.9,3133.3 949.7,3135.7 951.4,3138.2 953.2,3140.6 954.9,3143.1 956.5,3145.6 958.2,3148.1 959.8,3150.6 961.3,3153.2 962.9,3155.8 964.4,3158.4 965.8,3161.0 967.3,3163.6 968.7,3166.2 970.1,3168.9 971.5,3171.6 972.9,3174.2 974.2,3176.9 975.6,3179.6 976.9,3182.3 978.2,3185.0 979.6,3187.6 980.9,3190.3 982.2,3193.0 983.6,3195.7 984.9,3198.4 986.2,3201.1 987.6,3203.8 988.9,3206.5 990.3,3209.1 991.6,3211.8 992.9,3214.5 994.3,3217.2 995.6,3219.9 996.9,3222.6 998.3,3225.3 999.6,3228.0 1000.9,3230.7 1002.2,3233.3 1003.6,3236.0 1004.9,3238.7 1006.3,3241.4 1007.6,3244.1 1009.0,3246.7 1010.4,3249.4 1011.7,3252.1 1013.1,3254.7 1014.5,3257.4 1015.9,3260.0 1017.4,3262.7 1018.8,3265.3 1020.2,3268.0 1021.6,3270.6 1023.1,3273.2 1024.5,3275.9 1025.9,3278.5 1027.3,3281.2 1028.8,3283.8 1030.2,3286.5 1031.6,3289.1 1033.0,3291.8 1034.4,3294.4 1035.7,3297.1 1037.1,3299.8 1038.4,3302.5 1039.7,3305.2 1041.0,3307.9 1042.3,3310.6 1043.6,3313.3 1044.9,3316.0 1046.1,3318.7 1047.4,3321.4 1048.7,3324.2 1049.9,3326.9 1051.2,3329.6 1052.5,3332.3 1053.8,3335.0 1055.1,3337.7 1056.4,3340.4 1057.7,3343.1 1059.1,3345.8 1060.5,3348.5 1061.9,3351.1 1063.3,3353.7 1064.7,3356.4 1066.2,3359.0 1067.7,3361.6 1069.2,3364.2 1070.7,3366.8 1072.2,3369.4 1073.7,3372.0 1075.2,3374.5 1076.8,3377.1 1078.4,3379.7 1079.9,3382.2 1081.5,3384.8 1083.1,3387.4 1084.6,3389.9 1086.2,3392.5 1087.8,3395.0 1089.4,3397.6 1090.9,3400.1 1092.5,3402.7 1094.1,3405.2 1095.7,3407.8 1097.3,3410.3 1098.8,3412.9 1100.4,3415.4 1102.0,3418.0 1103.6,3420.5 1105.2,3423.1 1106.8,3425.6 1108.4,3428.1 1110.0,3430.7 1111.6,3433.2 1113.2,3435.7 1114.8,3438.3 1116.5,3440.8 1118.1,3443.3 1119.7,3445.8 1121.3,3448.4 1123.0,3450.9 1124.7,3453.3 1126.4,3455.8 1128.1,3458.3 1129.9,3460.7 1131.7,3463.0 1133.5,3465.4 1135.4,3467.7 1137.3,3470.0 1139.3,3472.4 1141.2,3474.7 1143.1,3477.0 1145.0,3479.3 1146.8,3481.6 1148.7,3484.0 1150.5,3486.4 1152.3,3488.8 1154.1,3491.2 1155.9,3493.6 1157.7,3495.9 1159.6,3498.3 1161.5,3500.6 1163.5,3502.9 1165.4,3505.1 1167.5,3507.3 1169.5,3509.5 1171.6,3511.6 1173.8,3513.7 1176.0,3515.7 1178.2,3517.7 1180.5,3519.7 1182.7,3521.7 1185.1,3523.6 1187.4,3525.4 1189.8,3527.3 1192.1,3529.1 1194.5,3530.9 1196.9,3532.7 1199.4,3534.5 1201.8,3536.2 1204.2,3538.0 1206.7,3539.7 1209.1,3541.5 1211.6,3543.2 1214.0,3544.9 1216.5,3546.6 1218.9,3548.4 1221.4,3550.1 1223.8,3551.8 1226.3,3553.5 1228.8,3555.2 1231.3,3556.8 1233.8,3558.4 1236.4,3559.9 1239.1,3561.3 1241.7,3562.7 1244.4,3564.0 1247.1,3565.2 1249.9,3566.4 1252.7,3567.5 1255.5,3568.6 1258.3,3569.7 1261.1,3570.7 1263.9,3571.7 1266.7,3572.7 1269.6,3573.6 1272.4,3574.6 1275.3,3575.5 1278.1,3576.5 1281.0,3577.4 1283.8,3578.3 1286.7,3579.2 1289.6,3580.1 1292.4,3580.9 1295.3,3581.8 1298.2,3582.6 1301.1,3583.4 1304.0,3584.2 1306.9,3585.0 1309.8,3585.8 1312.7,3586.6 1315.6,3587.4 1318.5,3588.1 1321.4,3588.9 1324.3,3589.6 1327.2,3590.3 1330.1,3591.0 1333.0,3591.7 1336.0,3592.4 1338.9,3593.1 1341.8,3593.8 1344.7,3594.4 1347.7,3595.0 1350.6,3595.6 1353.6,3596.2 1356.5,3596.8 1359.4,3597.4 1362.4,3597.9 1365.3,3598.5 1368.3,3599.0 1371.3,3599.5 1374.2,3600.0 1377.2,3600.5 1380.1,3601.0 1383.1,3601.4 1386.1,3601.9 1389.0,3602.3 1392.0,3602.8 1395.0,3603.2 1397.9,3603.6 1400.9,3604.0 1403.9,3604.5 1406.9,3604.9 1409.8,3605.3 1412.8,3605.7 1415.8,3606.2 1418.7,3606.6 1421.7,3607.1 1424.7,3607.5 1427.6,3608.0 1430.6,3608.5 1433.5,3609.0 1436.5,3609.5 1439.5,3610.0 1442.4,3610.5 1445.4,3611.1 1448.3,3611.7 1451.3,3612.2 1454.2,3612.8 1457.1,3613.4 1460.1,3614.0 1463.0,3614.7 1465.9,3615.3 1468.9,3616.0 1471.8,3616.6 1474.7,3617.3 1477.6,3618.0 1480.5,3618.8 1483.4,3619.5 1486.3,3620.3 1489.2,3621.1 1492.1,3621.9 1495.0,3622.8 1497.9,3623.6 1500.7,3624.5 1503.6,3625.4 1506.4,3626.4 1509.3,3627.3 1512.1,3628.3 1515.0,3629.2 1517.8,3630.2 1520.6,3631.2 1523.5,3632.2 1526.3,3633.2 1529.1,3634.2 1531.9,3635.3 1534.7,3636.3 1537.5,3637.4 1540.3,3638.4 1543.1,3639.5 1545.9,3640.6 1548.7,3641.7 1551.5,3642.8 1554.3,3644.0 1557.1,3645.1 1559.8,3646.3 1562.6,3647.4 1565.4,3648.6 1568.1,3649.8 1570.9,3651.0 1573.6,3652.2 1576.4,3653.4 1579.1,3654.6 1581.9,3655.8 1584.6,3657.0 1587.3,3658.2 1590.1,3659.5 1592.8,3660.7 1595.5,3662.0 1598.3,3663.3 1601.0,3664.5 1603.7,3665.8 1606.4,3667.1 1609.1,3668.4 1611.8,3669.7 1614.5,3671.0 1617.2,3672.2 1620.0,3673.5 1622.7,3674.8 1625.4,3676.1 1628.1,3677.4 1630.8,3678.6 1633.5,3679.9 1636.3,3681.2 1639.0,3682.4 1641.7,3683.7 1644.4,3684.9 1647.2,3686.2 1649.9,3687.4 1652.6,3688.7 1655.4,3689.9 1658.1,3691.2 1660.8,3692.4 1663.5,3693.7 1666.2,3695.0 1668.9,3696.3 1671.6,3697.6 1674.3,3698.9 1677.0,3700.2 1679.7,3701.6 1682.4,3703.0 1685.0,3704.4 1687.6,3705.8 1690.3,3707.3 1692.9,3708.7 1695.5,3710.2 1698.1,3711.7 1700.7,3713.2" fill="none" stroke="#0000FF" stroke-width="3.0" stroke-linejoin="round" stroke-linecap="butt"/>
<polyline points="247.0,3297.2 249.9,3298.0 252.8,3298.8 255.7,3299.6 258.6,3300.3 261.5,3301.1 264.4,3301.9 267.3,3302.7 270.2,3303.5 273.1,3304.2 276.0,3305.0 278.9,3305.8 281.8,3306.5 284.7,3307.3 287.6,3308.0 290.5,3308.8 293.4,3309.5 296.3,3310.2 299.2,3311.0 302.1,3311.7 305.0,3312.4 308.0,3313.1 310.9,3313.8 313.8,3314.5 316.7,3315.2 319.6,3315.9 322.6,3316.5 325.5,3317.2 328.4,3317.9 331.3,3318.5 334.3,3319.2 337.2,3319.8 340.1,3320.4 343.1,3321.1 346.0,3321.7 348.9,3322.3 351.9,3322.9 354.8,3323.5 357.8,3324.1 360.7,3324.7 363.6,3325.3 366.6,3325.9 369.5,3326.5 372.5,3327.1 375.4,3327.7 378.3,3328.3 381.3,3328.9 384.2,3329.5 387.2,3330.1 390.1,3330.6 393.1,3331.2 396.0,3331.8 399.0,3332.3 401.9,3332.8 404.9,3333.4 407.8,3333.9 410.8,3334.4 413.7,3334.9 416.7,3335.4 419.6,3335.9 422.6,3336.3 425.6,3336.8 428.5,3337.2 431.5,3337.6 434.5,3338.0 437.5,3338.4 440.4,3338.8 443.4,3339.1 446.4,3339.5 449.4,3339.8 452.4,3340.1 455.4,3340.4 458.3,3340.7 461.3,3340.9 464.3,3341.2 467.3,3341.4 470.3,3341.7 473.3,3341.9 476.3,3342.1 479.3,3342.3 482.3,3342.4 485.3,3342.6 488.3,3342.7 491.3,3342.8 494.3,3342.9 497.3,3342.9 500.3,3342.9 503.3,3342.9 506.3,3342.9 509.3,3342.8 512.2,3342.6 515.2,3342.5 518.2,3342.3 521.2,3342.1 524.2,3341.9 527.2,3341.6 530.2,3341.3 533.2,3341.0 536.2,3340.7 539.1,3340.4 542.1,3340.0 545.1,3339.6 548.0,3339.2 551.0,3338.7 553.9,3338.2 556.9,3337.6 559.8,3336.9 562.7,3336.2 565.6,3335.4 568.5,3334.5 571.3,3333.6 574.1,3332.7 577.0,3331.7 579.8,3330.6 582.6,3329.6 585.4,3328.4 588.1,3327.3 590.9,3326.1 593.6,3324.9 596.3,3323.7 599.0,3322.3 601.7,3321.0 604.3,3319.6 607.0,3318.1 609.5,3316.6 612.1,3315.0 614.6,3313.4 617.1,3311.7 619.6,3310.1 622.1,3308.4 624.5,3306.6 627.0,3304.9 629.4,3303.2 631.9,3301.5 634.3,3299.7 636.8,3298.0 639.2,3296.3 641.7,3294.6 644.1,3292.8 646.6,3291.1 649.0,3289.3 651.4,3287.5 653.8,3285.7 656.2,3283.9 658.5,3282.0 660.8,3280.1 663.0,3278.1 665.3,3276.1 667.4,3274.0 669.5,3271.9 671.6,3269.7 673.6,3267.5 675.5,3265.2 677.4,3262.9 679.2,3260.5 681.0,3258.2 682.9,3255.8 684.7,3253.4 686.5,3251.0 688.3,3248.6 690.1,3246.2 691.9,3243.8 693.7,3241.4 695.5,3239.0 697.3,3236.6 699.0,3234.1 700.6,3231.7 702.2,3229.1 703.8,3226.6 705.3,3224.0 706.8,3221.4 708.3,3218.8 709.7,3216.2 711.2,3213.5 712.6,3210.9 714.0,3208.2 715.4,3205.6 716.9,3203.0 718.3,3200.3 719.7,3197.7 721.1,3195.0 722.6,3192.4 724.0,3189.8 725.5,3187.2 726.9,3184.5 728.4,3181.9 729.8,3179.3 731.3,3176.6 732.7,3174.0 734.1,3171.4 735.6,3168.7 737.0,3166.1 738.4,3163.5 739.9,3160.8 741.3,3158.2 742.7,3155.5 744.1,3152.9 745.5,3150.2 746.9,3147.6 748.3,3144.9 749.7,3142.3 751.1,3139.6 752.4,3136.9 753.8,3134.3 755.2,3131.6 756.5,3128.9 757.9,3126.2 759.3,3123.6 760.6,3120.9 762.0,3118.2 763.3,3115.5 764.7,3112.9 766.0,3110.2 767.4,3107.5 768.7,3104.8 770.1,3102.2 771.5,3099.5 772.8,3096.8 774.2,3094.1 775.5,3091.5 776.9,3088.8 778.2,3086.1 779.6,3083.4 780.9,3080.8 782.3,3078.1 783.7,3075.4 785.0,3072.7 786.4,3070.1 787.8,3067.4 789.2,3064.7 790.6,3062.1 792.0,3059.4 793.4,3056.8 794.8,3054.1 796.2,3051.5 797.7,3048.9 799.1,3046.3 800.6,3043.6 802.1,3041.0 803.5,3038.4 805.0,3035.8 806.5,3033.2 808.0,3030.6 809.5,3028.0 811.0,3025.4 812.6,3022.8 814.1,3020.3 815.7,3017.7 817.3,3015.2 818.9,3012.6 820.5,3010.1 822.2,3007.7 823.9,3005.2 825.7,3002.7 827.4,3000.3 829.2,2997.9 831.1,2995.6 832.9,2993.2 834.8,2990.9 836.8,2988.6 838.8,2986.4 840.8,2984.2 842.9,2982.1 845.0,2980.0 847.3,2978.0 849.5,2976.1 851.9,2974.3 854.3,2972.6 856.8,2971.0 859.4,2969.6 862.0,2968.3 864.7,2967.2 867.5,2966.3 870.4,2965.6 873.2,2965.1 876.1,2964.8 879.0,2964.7 882.0,2964.8 884.8,2965.1 887.7,2965.6 890.5,2966.4 893.2,2967.4 895.9,2968.6 898.4,2969.9 901.0,2971.5 903.4,2973.1 905.8,2974.9 908.2,2976.7 910.5,2978.5 912.8,2980.5 915.1,2982.4 917.4,2984.4 919.6,2986.4 921.8,2988.4 923.9,2990.5 926.1,2992.6 928.2,2994.7 930.2,2996.9 932.2,2999.2 934.2,3001.4 936.1,3003.7 937.9,3006.1 939.7,3008.5 941.5,3010.9 943.2,3013.3 944.9,3015.8 946.6,3018.3 948.2,3020.8 949.9,3023.3 951.4,3025.9 953.0,3028.4 954.6,3031.0 956.1,3033.6 957.6,3036.2 959.1,3038.7 960.6,3041.3 962.1,3043.9 963.6,3046.6 965.0,3049.2 966.5,3051.8 967.9,3054.4 969.3,3057.1 970.7,3059.7 972.1,3062.4 973.5,3065.1 974.9,3067.7 976.2,3070.4 977.5,3073.1 978.8,3075.8 980.2,3078.5 981.5,3081.2 982.8,3083.9 984.1,3086.6 985.4,3089.3 986.7,3092.0 988.0,3094.7 989.3,3097.4 990.6,3100.1 991.8,3102.8 993.1,3105.6 994.4,3108.3 995.7,3111.0 997.0,3113.7 998.3,3116.4 999.5,3119.1 1000.8,3121.8 1002.1,3124.5 1003.4,3127.3 1004.6,3130.0 1005.9,3132.7 1007.2,3135.4 1008.5,3138.1 1009.8,3140.8 1011.0,3143.5 1012.3,3146.3 1013.6,3149.0 1014.9,3151.7 1016.2,3154.4 1017.5,3157.1 1018.9,3159.8 1020.2,3162.5 1021.5,3165.2 1022.8,3167.9 1024.1,3170.5 1025.5,3173.2 1026.8,3175.9 1028.1,3178.6 1029.4,3181.3 1030.8,3184.0 1032.1,3186.7 1033.4,3189.4 1034.8,3192.1 1036.1,3194.7 1037.4,3197.4 1038.8,3200.1 1040.1,3202.8 1041.4,3205.5 1042.8,3208.2 1044.1,3210.9 1045.4,3213.6 1046.8,3216.2 1048.1,3218.9 1049.4,3221.6 1050.8,3224.3 1052.1,3227.0 1053.5,3229.7 1054.8,3232.4 1056.1,3235.1 1057.5,3237.7 1058.8,3240.4 1060.1,3243.1 1061.4,3245.8 1062.8,3248.5 1064.1,3251.2 1065.4,3253.9 1066.7,3256.6 1068.0,3259.3 1069.3,3262.0 1070.6,3264.7 1071.9,3267.4 1073.2,3270.1 1074.5,3272.8 1075.8,3275.5 1077.1,3278.2 1078.4,3280.9 1079.7,3283.6 1081.0,3286.3 1082.3,3289.0 1083.6,3291.7 1084.9,3294.4 1086.2,3297.2 1087.5,3299.9 1088.8,3302.6 1090.1,3305.3 1091.4,3308.0 1092.6,3310.7 1093.9,3313.4 1095.2,3316.1 1096.5,3318.9 1097.7,3321.6 1099.0,3324.3 1100.3,3327.0 1101.6,3329.7 1102.9,3332.4 1104.2,3335.1 1105.5,3337.8 1106.8,3340.5 1108.1,3343.2 1109.5,3345.9 1110.8,3348.6 1112.2,3351.2 1113.6,3353.9 1115.0,3356.5 1116.4,3359.2 1117.8,3361.9 1119.2,3364.5 1120.6,3367.1 1122.1,3369.8 1123.5,3372.4 1125.0,3375.0 1126.4,3377.6 1127.9,3380.3 1129.4,3382.9 1130.9,3385.4 1132.4,3388.0 1134.0,3390.6 1135.5,3393.2 1137.1,3395.7 1138.7,3398.3 1140.3,3400.8 1142.0,3403.3 1143.6,3405.8 1145.3,3408.3 1147.0,3410.8 1148.6,3413.3 1150.4,3415.7 1152.1,3418.2 1153.8,3420.6 1155.6,3423.1 1157.3,3425.5 1159.1,3427.9 1160.8,3430.4 1162.6,3432.8 1164.3,3435.2 1166.1,3437.7 1167.8,3440.1 1169.6,3442.5 1171.3,3445.0 1173.1,3447.4 1174.8,3449.9 1176.6,3452.3 1178.4,3454.7 1180.2,3457.1 1182.1,3459.4 1184.0,3461.7 1185.9,3464.0 1187.9,3466.2 1190.0,3468.4 1192.1,3470.5 1194.2,3472.6 1196.3,3474.7 1198.5,3476.8 1200.6,3478.9 1202.7,3481.0 1204.9,3483.1 1207.0,3485.2 1209.2,3487.3 1211.3,3489.4 1213.4,3491.6 1215.6,3493.7 1217.7,3495.7 1219.9,3497.8 1222.1,3499.9 1224.3,3501.9 1226.6,3503.9 1228.8,3505.8 1231.1,3507.7 1233.5,3509.6 1235.8,3511.4 1238.2,3513.2 1240.7,3515.0 1243.1,3516.7 1245.6,3518.4 1248.1,3520.0 1250.7,3521.6 1253.2,3523.1 1255.9,3524.5 1258.5,3525.9 1261.2,3527.3 1263.9,3528.5 1266.6,3529.8 1269.4,3531.0 1272.1,3532.1 1274.9,3533.2 1277.7,3534.3 1280.5,3535.4 1283.3,3536.5 1286.1,3537.5 1288.9,3538.6 1291.7,3539.6 1294.6,3540.6 1297.4,3541.6 1300.2,3542.7 1303.0,3543.7 1305.9,3544.7 1308.7,3545.7 1311.5,3546.7 1314.4,3547.7 1317.2,3548.7 1320.0,3549.6 1322.9,3550.6 1325.7,3551.6 1328.5,3552.6 1331.4,3553.6 1334.2,3554.6 1337.0,3555.6 1339.8,3556.6 1342.7,3557.6 1345.5,3558.6 1348.3,3559.7 1351.1,3560.8 1353.9,3561.8 1356.7,3562.9 1359.5,3564.0 1362.3,3565.1 1365.1,3566.2 1367.9,3567.3 1370.7,3568.3 1373.5,3569.3 1376.3,3570.3 1379.2,3571.2 1382.1,3572.0 1385.0,3572.8 1387.9,3573.5 1390.8,3574.2 1393.7,3574.9 1396.6,3575.5 1399.6,3576.1 1402.5,3576.6 1405.5,3577.2 1408.4,3577.7 1411.4,3578.3 1414.3,3578.8 1417.3,3579.4 1420.2,3580.0 1423.1,3580.6 1426.1,3581.3 1429.0,3581.9 1431.9,3582.6 1434.8,3583.3 1437.7,3584.1 1440.6,3584.8 1443.5,3585.6 1446.4,3586.4 1449.3,3587.2 1452.2,3588.0 1455.1,3588.8 1458.0,3589.7 1460.8,3590.5 1463.7,3591.4 1466.6,3592.3 1469.4,3593.2 1472.3,3594.1 1475.1,3595.1 1478.0,3596.0 1480.8,3597.0 1483.6,3598.0 1486.5,3599.0 1489.3,3600.1 1492.1,3601.1 1494.9,3602.2 1497.7,3603.3 1500.4,3604.4 1503.2,3605.6 1506.0,3606.7 1508.8,3607.9 1511.5,3609.0 1514.3,3610.2 1517.0,3611.4 1519.8,3612.6 1522.5,3613.8 1525.3,3615.0 1528.0,3616.2 1530.8,3617.4 1533.5,3618.6 1536.3,3619.8 1539.0,3621.0 1541.8,3622.3 1544.5,3623.5 1547.2,3624.7 1550.0,3626.0 1552.7,3627.2 1555.4,3628.5 1558.1,3629.8 1560.8,3631.1 1563.5,3632.3 1566.2,3633.6 1568.9,3634.9 1571.6,3636.2 1574.3,3637.6 1577.0,3638.9 1579.7,3640.2 1582.4,3641.6 1585.1,3642.9 1587.8,3644.3 1590.4,3645.6 1593.1,3647.0 1595.8,3648.4 1598.4,3649.8 1601.1,3651.2 1603.7,3652.6 1606.4,3654.0 1609.0,3655.4 1611.7,3656.8 1614.3,3658.2 1617.0,3659.7 1619.6,3661.1 1622.3,3662.5 1624.9,3663.9 1627.6,3665.3 1630.2,3666.7 1632.9,3668.1 1635.5,3669.5 1638.2,3670.9 1640.8,3672.2 1643.5,3673.6 1646.2,3675.0 1648.8,3676.4 1651.5,3677.8 1654.2,3679.2 1656.8,3680.5 1659.5,3681.9 1662.1,3683.3 1664.8,3684.7 1667.4,3686.1 1670.1,3687.5 1672.7,3688.9 1675.4,3690.4 1678.0,3691.8 1680.7,3693.2 1683.3,3694.7 1685.9,3696.1 1688.5,3697.6 1691.1,3699.1 1693.8,3700.5 1696.4,3702.0 1699.0,3703.5 1700.7,3704.5" fill="none" stroke="#008080" stroke-width="3.0" stroke-linejoin="round" stroke-linecap="butt"/>
<polyline points="247.0,3250.3 249.9,3251.2 252.7,3252.0 255.6,3252.9 258.5,3253.7 261.4,3254.6 264.3,3255.4 267.1,3256.3 270.0,3257.1 272.9,3257.9 275.8,3258.7 278.7,3259.5 281.6,3260.3 284.5,3261.1 287.4,3261.8 290.3,3262.6 293.2,3263.3 296.1,3264.0 299.0,3264.7 302.0,3265.4 304.9,3266.1 307.8,3266.8 310.7,3267.5 313.6,3268.2 316.6,3268.9 319.5,3269.5 322.4,3270.2 325.3,3270.9 328.3,3271.6 331.2,3272.2 334.1,3272.9 337.0,3273.5 340.0,3274.2 342.9,3274.8 345.8,3275.5 348.8,3276.1 351.7,3276.7 354.6,3277.3 357.6,3277.9 360.5,3278.5 363.5,3279.1 366.4,3279.7 369.4,3280.3 372.3,3280.8 375.3,3281.3 378.2,3281.9 381.2,3282.4 384.1,3282.9 387.1,3283.4 390.1,3283.9 393.0,3284.3 396.0,3284.8 399.0,3285.2 401.9,3285.7 404.9,3286.1 407.9,3286.5 410.8,3287.0 413.8,3287.4 416.8,3287.8 419.7,3288.3 422.7,3288.7 425.7,3289.1 428.7,3289.5 431.6,3290.0 434.6,3290.4 437.6,3290.8 440.5,3291.2 443.5,3291.6 446.5,3292.0 449.5,3292.3 452.5,3292.7 455.4,3293.0 458.4,3293.3 461.4,3293.6 464.4,3293.9 467.4,3294.1 470.4,3294.3 473.4,3294.5 476.4,3294.7 479.4,3294.8 482.4,3294.9 485.4,3295.0 488.4,3295.1 491.3,3295.1 494.3,3295.0 497.3,3294.9 500.3,3294.8 503.3,3294.6 506.3,3294.4 509.3,3294.2 512.3,3294.0 515.3,3293.7 518.3,3293.5 521.3,3293.2 524.3,3293.0 527.3,3292.7 530.2,3292.5 533.2,3292.2 536.2,3292.0 539.2,3291.7 542.2,3291.3 545.1,3290.8 548.0,3290.3 551.0,3289.7 553.9,3289.0 556.8,3288.3 559.6,3287.4 562.5,3286.5 565.3,3285.6 568.2,3284.7 571.0,3283.8 573.9,3282.9 576.7,3281.9 579.6,3281.0 582.4,3280.0 585.3,3279.0 588.1,3278.0 590.9,3277.0 593.7,3275.9 596.5,3274.8 599.2,3273.6 602.0,3272.4 604.7,3271.1 607.3,3269.7 609.9,3268.3 612.5,3266.7 615.0,3265.1 617.4,3263.4 619.8,3261.6 622.1,3259.8 624.4,3257.8 626.7,3255.9 628.9,3253.9 631.1,3251.9 633.3,3249.8 635.6,3247.8 637.8,3245.8 640.0,3243.8 642.2,3241.7 644.4,3239.7 646.7,3237.7 648.9,3235.7 651.1,3233.7 653.4,3231.7 655.6,3229.7 657.8,3227.6 659.9,3225.6 662.1,3223.5 664.2,3221.4 666.3,3219.2 668.4,3217.0 670.4,3214.8 672.3,3212.6 674.3,3210.3 676.1,3207.9 678.0,3205.6 679.8,3203.2 681.5,3200.7 683.3,3198.3 685.0,3195.8 686.7,3193.4 688.4,3190.9 690.0,3188.4 691.6,3185.8 693.3,3183.3 694.9,3180.8 696.4,3178.2 698.0,3175.7 699.6,3173.1 701.1,3170.5 702.6,3167.9 704.1,3165.3 705.6,3162.7 707.1,3160.1 708.5,3157.5 710.0,3154.9 711.4,3152.2 712.8,3149.6 714.1,3146.9 715.5,3144.2 716.8,3141.5 718.1,3138.8 719.4,3136.1 720.7,3133.4 722.0,3130.7 723.2,3128.0 724.5,3125.2 725.7,3122.5 726.9,3119.8 728.2,3117.0 729.4,3114.3 730.6,3111.6 731.9,3108.8 733.1,3106.1 734.3,3103.3 735.6,3100.6 736.8,3097.9 738.1,3095.2 739.3,3092.4 740.6,3089.7 741.8,3087.0 743.1,3084.3 744.3,3081.5 745.6,3078.8 746.9,3076.1 748.1,3073.4 749.4,3070.6 750.6,3067.9 751.9,3065.2 753.1,3062.4 754.4,3059.7 755.6,3057.0 756.9,3054.2 758.1,3051.5 759.3,3048.8 760.5,3046.0 761.7,3043.3 763.0,3040.5 764.2,3037.8 765.4,3035.0 766.6,3032.3 767.8,3029.5 768.9,3026.8 770.1,3024.0 771.3,3021.3 772.5,3018.5 773.8,3015.8 775.0,3013.0 776.2,3010.3 777.4,3007.6 778.6,3004.8 779.9,3002.1 781.1,2999.4 782.4,2996.6 783.7,2993.9 784.9,2991.2 786.2,2988.5 787.5,2985.8 788.8,2983.1 790.1,2980.4 791.4,2977.7 792.7,2975.0 794.0,2972.3 795.3,2969.6 796.7,2966.9 798.0,2964.2 799.4,2961.5 800.8,2958.9 802.2,2956.2 803.6,2953.5 805.0,2950.9 806.4,2948.2 807.8,2945.6 809.2,2942.9 810.6,2940.3 812.0,2937.7 813.4,2935.0 814.8,2932.4 816.3,2929.7 817.7,2927.1 819.1,2924.4 820.6,2921.8 822.0,2919.2 823.5,2916.6 825.0,2914.0 826.5,2911.4 828.0,2908.8 829.6,2906.2 831.2,2903.7 832.8,2901.2 834.5,2898.7 836.2,2896.3 838.0,2893.9 839.8,2891.5 841.8,2889.2 843.8,2887.0 845.8,2884.9 848.0,2882.9 850.3,2881.1 852.6,2879.3 855.1,2877.8 857.7,2876.4 860.3,2875.2 863.1,2874.2 865.9,2873.4 868.8,2872.8 871.7,2872.3 874.6,2872.0 877.6,2871.9 880.5,2871.9 883.4,2872.1 886.4,2872.5 889.3,2873.0 892.1,2873.7 894.9,2874.6 897.6,2875.6 900.3,2876.9 902.8,2878.3 905.3,2879.8 907.7,2881.5 910.1,2883.4 912.3,2885.3 914.6,2887.3 916.7,2889.3 918.8,2891.4 920.9,2893.6 923.0,2895.8 925.0,2898.0 926.9,2900.3 928.9,2902.6 930.8,2904.9 932.7,2907.2 934.5,2909.6 936.4,2911.9 938.2,2914.3 940.0,2916.7 941.7,2919.2 943.5,2921.6 945.2,2924.0 947.0,2926.5 948.7,2929.0 950.4,2931.4 952.1,2933.9 953.7,2936.4 955.4,2938.9 957.0,2941.4 958.7,2943.9 960.3,2946.4 961.9,2949.0 963.5,2951.5 965.1,2954.1 966.6,2956.7 968.1,2959.2 969.6,2961.9 971.1,2964.5 972.5,2967.1 974.0,2969.7 975.4,2972.4 976.8,2975.0 978.2,2977.7 979.6,2980.3 981.0,2983.0 982.4,2985.6 983.8,2988.3 985.2,2990.9 986.6,2993.6 988.0,2996.2 989.5,2998.9 990.9,3001.5 992.4,3004.1 993.8,3006.7 995.3,3009.3 996.8,3012.0 998.3,3014.6 999.8,3017.2 1001.3,3019.8 1002.8,3022.4 1004.3,3025.0 1005.7,3027.6 1007.2,3030.2 1008.7,3032.8 1010.2,3035.4 1011.6,3038.1 1013.0,3040.7 1014.5,3043.3 1015.9,3046.0 1017.3,3048.6 1018.6,3051.3 1020.0,3054.0 1021.3,3056.7 1022.7,3059.4 1024.0,3062.0 1025.3,3064.8 1026.6,3067.5 1027.9,3070.2 1029.1,3072.9 1030.4,3075.6 1031.7,3078.3 1032.9,3081.1 1034.2,3083.8 1035.4,3086.5 1036.7,3089.2 1038.0,3092.0 1039.2,3094.7 1040.5,3097.4 1041.8,3100.1 1043.0,3102.8 1044.3,3105.6 1045.5,3108.3 1046.8,3111.0 1048.1,3113.7 1049.3,3116.5 1050.6,3119.2 1051.8,3121.9 1053.1,3124.6 1054.4,3127.3 1055.6,3130.1 1056.9,3132.8 1058.2,3135.5 1059.5,3138.2 1060.8,3140.9 1062.1,3143.6 1063.4,3146.3 1064.7,3149.0 1066.0,3151.7 1067.4,3154.4 1068.7,3157.1 1070.1,3159.7 1071.5,3162.4 1072.9,3165.1 1074.3,3167.7 1075.7,3170.4 1077.1,3173.0 1078.5,3175.7 1079.9,3178.3 1081.3,3181.0 1082.7,3183.6 1084.1,3186.3 1085.4,3189.0 1086.8,3191.6 1088.2,3194.3 1089.5,3197.0 1090.8,3199.7 1092.1,3202.4 1093.4,3205.1 1094.7,3207.8 1096.0,3210.5 1097.3,3213.2 1098.5,3216.0 1099.8,3218.7 1101.0,3221.4 1102.2,3224.2 1103.5,3226.9 1104.7,3229.6 1106.0,3232.4 1107.2,3235.1 1108.5,3237.8 1109.7,3240.5 1111.0,3243.3 1112.3,3246.0 1113.5,3248.7 1114.8,3251.4 1116.1,3254.1 1117.4,3256.8 1118.7,3259.5 1120.1,3262.2 1121.4,3264.9 1122.7,3267.6 1124.0,3270.3 1125.4,3273.0 1126.7,3275.7 1128.1,3278.3 1129.4,3281.0 1130.8,3283.7 1132.1,3286.4 1133.5,3289.0 1134.9,3291.7 1136.2,3294.4 1137.6,3297.1 1139.0,3299.7 1140.4,3302.4 1141.8,3305.0 1143.2,3307.7 1144.6,3310.3 1146.0,3313.0 1147.4,3315.6 1148.8,3318.3 1150.2,3320.9 1151.7,3323.6 1153.1,3326.2 1154.5,3328.8 1156.0,3331.5 1157.4,3334.1 1158.8,3336.7 1160.3,3339.4 1161.7,3342.0 1163.2,3344.6 1164.6,3347.3 1166.0,3349.9 1167.4,3352.6 1168.9,3355.2 1170.3,3357.8 1171.7,3360.5 1173.1,3363.1 1174.5,3365.8 1175.9,3368.4 1177.3,3371.1 1178.7,3373.7 1180.2,3376.4 1181.6,3379.0 1183.1,3381.6 1184.5,3384.2 1186.0,3386.8 1187.6,3389.4 1189.1,3392.0 1190.7,3394.5 1192.4,3397.0 1194.0,3399.5 1195.7,3402.0 1197.5,3404.4 1199.2,3406.9 1201.0,3409.3 1202.8,3411.7 1204.6,3414.0 1206.5,3416.4 1208.4,3418.7 1210.3,3421.1 1212.2,3423.4 1214.1,3425.7 1216.1,3427.9 1218.1,3430.2 1220.1,3432.4 1222.1,3434.7 1224.1,3436.9 1226.2,3439.0 1228.2,3441.2 1230.3,3443.4 1232.4,3445.5 1234.5,3447.7 1236.6,3449.8 1238.8,3451.9 1240.9,3454.0 1243.0,3456.2 1245.1,3458.3 1247.2,3460.4 1249.4,3462.5 1251.5,3464.6 1253.6,3466.7 1255.8,3468.8 1257.9,3470.9 1260.1,3473.0 1262.2,3475.1 1264.4,3477.1 1266.6,3479.2 1268.9,3481.2 1271.1,3483.2 1273.4,3485.1 1275.7,3487.0 1278.1,3488.8 1280.5,3490.6 1282.9,3492.4 1285.4,3494.0 1287.9,3495.6 1290.5,3497.1 1293.1,3498.6 1295.7,3499.9 1298.4,3501.3 1301.1,3502.5 1303.9,3503.8 1306.6,3505.0 1309.3,3506.2 1312.1,3507.5 1314.8,3508.7 1317.5,3510.0 1320.2,3511.2 1323.0,3512.5 1325.7,3513.8 1328.4,3515.0 1331.1,3516.3 1333.8,3517.6 1336.5,3518.9 1339.3,3520.2 1342.0,3521.4 1344.7,3522.7 1347.4,3524.0 1350.1,3525.3 1352.8,3526.6 1355.5,3527.9 1358.2,3529.2 1360.9,3530.5 1363.6,3531.8 1366.3,3533.0 1369.1,3534.3 1371.8,3535.5 1374.6,3536.6 1377.4,3537.7 1380.2,3538.7 1383.0,3539.7 1385.9,3540.5 1388.8,3541.4 1391.7,3542.1 1394.6,3542.9 1397.5,3543.5 1400.4,3544.2 1403.4,3544.8 1406.3,3545.4 1409.2,3546.0 1412.2,3546.6 1415.1,3547.2 1418.0,3547.9 1420.9,3548.6 1423.8,3549.4 1426.7,3550.1 1429.6,3551.0 1432.5,3551.9 1435.3,3552.8 1438.2,3553.7 1441.0,3554.7 1443.8,3555.8 1446.6,3556.8 1449.4,3557.9 1452.2,3559.0 1455.0,3560.1 1457.8,3561.3 1460.5,3562.4 1463.3,3563.6 1466.0,3564.8 1468.8,3566.0 1471.5,3567.2 1474.3,3568.5 1477.0,3569.7 1479.7,3571.0 1482.4,3572.2 1485.1,3573.5 1487.8,3574.9 1490.5,3576.2 1493.2,3577.5 1495.9,3578.9 1498.6,3580.2 1501.2,3581.6 1503.9,3583.0 1506.5,3584.4 1509.2,3585.8 1511.8,3587.2 1514.5,3588.7 1517.1,3590.1 1519.8,3591.5 1522.4,3592.9 1525.1,3594.3 1527.7,3595.8 1530.3,3597.2 1533.0,3598.6 1535.6,3600.0 1538.3,3601.4 1540.9,3602.8 1543.6,3604.2 1546.2,3605.7 1548.9,3607.1 1551.5,3608.5 1554.1,3609.9 1556.8,3611.4 1559.4,3612.8 1562.1,3614.2 1564.7,3615.6 1567.3,3617.1 1570.0,3618.5 1572.6,3620.0 1575.2,3621.4 1577.9,3622.8 1580.5,3624.3 1583.1,3625.7 1585.8,3627.2 1588.4,3628.7 1591.0,3630.1 1593.6,3631.6 1596.2,3633.0 1598.9,3634.5 1601.5,3636.0 1604.1,3637.4 1606.7,3638.9 1609.3,3640.4 1611.9,3641.8 1614.6,3643.3 1617.2,3644.8 1619.8,3646.3 1622.4,3647.7 1625.0,3649.2 1627.6,3650.7 1630.3,3652.1 1632.9,3653.6 1635.5,3655.0 1638.2,3656.4 1640.8,3657.9 1643.4,3659.3 1646.1,3660.8 1648.7,3662.2 1651.3,3663.6 1654.0,3665.1 1656.6,3666.5 1659.2,3668.0 1661.8,3669.4 1664.5,3670.9 1667.1,3672.4 1669.6,3673.9 1672.2,3675.4 1674.8,3677.0 1677.3,3678.6 1679.8,3680.2 1682.3,3681.9 1684.8,3683.6 1687.2,3685.3 1689.7,3687.1 1692.1,3688.9 1694.4,3690.7 1696.8,3692.6 1699.1,3694.5 1700.7,3695.7" fill="none" stroke="#FF00FF" stroke-width="3.0" stroke-linejoin="round" stroke-linecap="butt"/>
<polyline points="247.0,3240.5 248.9,3241.2 250.8,3241.8 252.7,3242.5 254.5,3243.2 256.4,3243.8 258.3,3244.5 260.2,3245.2 262.1,3245.8 264.0,3246.5 265.9,3247.1 267.8,3247.8 269.7,3248.4 271.6,3249.0 273.5,3249.6 275.4,3250.2 277.3,3250.8 279.2,3251.4 281.1,3252.0 283.0,3252.6 284.9,3253.2 286.9,3253.7 288.8,3254.3 290.7,3254.8 292.7,3255.3 294.6,3255.8 296.5,3256.3 298.5,3256.8 300.4,3257.3 302.3,3257.8 304.3,3258.3 306.2,3258.7 308.2,3259.2 310.1,3259.7 312.1,3260.1 314.0,3260.6 316.0,3261.0 317.9,3261.5 319.9,3261.9 321.8,3262.4 323.8,3262.8 325.7,3263.2 327.7,3263.7 329.6,3264.1 331.6,3264.6 333.5,3265.0 335.5,3265.4 337.4,3265.8 339.4,3266.3 341.4,3266.7 343.3,3267.1 345.3,3267.5 347.2,3267.9 349.2,3268.3 351.1,3268.7 353.1,3269.1 355.1,3269.5 357.0,3269.9 359.0,3270.3 361.0,3270.6 362.9,3271.0 364.9,3271.4 366.9,3271.7 368.8,3272.1 370.8,3272.4 372.8,3272.7 374.8,3273.1 376.7,3273.4 378.7,3273.7 380.7,3274.0 382.7,3274.3 384.6,3274.6 386.6,3274.9 388.6,3275.2 390.6,3275.4 392.6,3275.7 394.5,3276.0 396.5,3276.2 398.5,3276.5 400.5,3276.7 402.5,3277.0 404.5,3277.2 406.5,3277.4 408.4,3277.7 410.4,3277.9 412.4,3278.1 414.4,3278.3 416.4,3278.6 418.4,3278.8 420.4,3279.0 422.4,3279.2 424.3,3279.5 426.3,3279.7 428.3,3279.9 430.3,3280.1 432.3,3280.3 434.3,3280.5 436.3,3280.8 438.3,3281.0 440.3,3281.2 442.3,3281.3 444.2,3281.5 446.2,3281.7 448.2,3281.9 450.2,3282.1 452.2,3282.2 454.2,3282.4 456.2,3282.6 458.2,3282.7 460.2,3282.8 462.2,3283.0 464.2,3283.1 466.2,3283.2 468.2,3283.3 470.2,3283.4 472.2,3283.5 474.2,3283.6 476.2,3283.7 478.2,3283.7 480.2,3283.8 482.2,3283.8 484.2,3283.8 486.2,3283.8 488.2,3283.8 490.2,3283.8 492.2,3283.8 494.2,3283.8 496.2,3283.7 498.2,3283.6 500.2,3283.5 502.2,3283.4 504.1,3283.3 506.1,3283.1 508.1,3282.9 510.1,3282.8 512.1,3282.6 514.1,3282.3 516.1,3282.1 518.1,3281.9 520.1,3281.6 522.0,3281.4 524.0,3281.1 526.0,3280.9 528.0,3280.6 530.0,3280.3 532.0,3280.1 533.9,3279.8 535.9,3279.5 537.9,3279.2 539.9,3278.9 541.9,3278.6 543.8,3278.3 545.8,3278.0 547.8,3277.7 549.7,3277.3 551.7,3277.0 553.7,3276.6 555.6,3276.2 557.6,3275.8 559.6,3275.4 561.5,3275.0 563.4,3274.5 565.4,3274.0 567.3,3273.5 569.2,3273.0 571.1,3272.4 573.0,3271.8 574.9,3271.1 576.8,3270.5 578.7,3269.8 580.5,3269.0 582.4,3268.3 584.2,3267.5 586.0,3266.7 587.8,3265.9 589.7,3265.0 591.4,3264.1 593.2,3263.2 595.0,3262.3 596.8,3261.4 598.5,3260.4 600.3,3259.4 602.0,3258.4 603.7,3257.4 605.4,3256.4 607.1,3255.3 608.8,3254.2 610.4,3253.1 612.1,3252.0 613.7,3250.8 615.3,3249.6 616.9,3248.4 618.5,3247.2 620.0,3246.0 621.6,3244.7 623.1,3243.4 624.6,3242.1 626.1,3240.8 627.6,3239.5 629.1,3238.2 630.6,3236.8 632.1,3235.5 633.6,3234.2 635.1,3232.9 636.6,3231.6 638.2,3230.3 639.7,3229.0 641.2,3227.7 642.7,3226.4 644.3,3225.1 645.8,3223.8 647.4,3222.6 648.9,3221.3 650.5,3220.1 652.0,3218.8 653.6,3217.6 655.1,3216.3 656.7,3215.0 658.2,3213.7 659.7,3212.4 661.2,3211.1 662.6,3209.7 664.1,3208.3 665.5,3206.9 666.9,3205.5 668.2,3204.0 669.6,3202.6 670.9,3201.0 672.1,3199.5 673.3,3197.9 674.5,3196.3 675.7,3194.7 676.8,3193.1 677.9,3191.4 679.0,3189.8 680.1,3188.1 681.1,3186.4 682.1,3184.6 683.1,3182.9 684.1,3181.2 685.1,3179.4 686.0,3177.7 687.0,3175.9 688.0,3174.2 688.9,3172.4 689.8,3170.6 690.8,3168.9 691.7,3167.1 692.7,3165.3 693.6,3163.6 694.5,3161.8 695.5,3160.0 696.4,3158.3 697.4,3156.5 698.3,3154.7 699.3,3153.0 700.2,3151.2 701.2,3149.5 702.1,3147.7 703.1,3145.9 704.0,3144.2 704.9,3142.4 705.9,3140.6 706.8,3138.9 707.8,3137.1 708.7,3135.3 709.6,3133.6 710.5,3131.8 711.4,3130.0 712.3,3128.2 713.3,3126.4 714.2,3124.6 715.1,3122.9 715.9,3121.1 716.8,3119.3 717.7,3117.5 718.6,3115.7 719.5,3113.9 720.3,3112.1 721.2,3110.3 722.0,3108.5 722.9,3106.6 723.7,3104.8 724.5,3103.0 725.4,3101.2 726.2,3099.4 727.0,3097.5 727.8,3095.7 728.6,3093.9 729.4,3092.0 730.1,3090.2 730.9,3088.3 731.7,3086.5 732.5,3084.6 733.2,3082.8 734.0,3080.9 734.7,3079.1 735.5,3077.2 736.3,3075.4 737.0,3073.5 737.8,3071.7 738.5,3069.8 739.3,3068.0 740.1,3066.1 740.8,3064.3 741.6,3062.4 742.4,3060.6 743.2,3058.8 744.0,3056.9 744.7,3055.1 745.5,3053.2 746.3,3051.4 747.1,3049.6 747.9,3047.7 748.7,3045.9 749.5,3044.1 750.3,3042.2 751.1,3040.4 751.9,3038.6 752.7,3036.7 753.5,3034.9 754.3,3033.1 755.1,3031.2 755.9,3029.4 756.7,3027.6 757.6,3025.7 758.4,3023.9 759.2,3022.1 760.0,3020.3 760.8,3018.4 761.6,3016.6 762.4,3014.8 763.3,3013.0 764.1,3011.1 764.9,3009.3 765.7,3007.5 766.5,3005.6 767.3,3003.8 768.2,3002.0 769.0,3000.2 769.8,2998.3 770.6,2996.5 771.4,2994.7 772.2,2992.9 773.1,2991.0 773.9,2989.2 774.7,2987.4 775.5,2985.6 776.3,2983.7 777.1,2981.9 778.0,2980.1 778.8,2978.3 779.6,2976.4 780.5,2974.6 781.3,2972.8 782.1,2971.0 783.0,2969.2 783.8,2967.4 784.7,2965.5 785.5,2963.7 786.4,2961.9 787.2,2960.1 788.1,2958.3 789.0,2956.5 789.8,2954.7 790.7,2952.9 791.6,2951.1 792.5,2949.3 793.3,2947.5 794.2,2945.7 795.1,2943.9 796.0,2942.1 796.8,2940.3 797.7,2938.5 798.6,2936.7 799.5,2934.9 800.4,2933.2 801.3,2931.4 802.2,2929.7 803.0,2927.9 803.9,2926.2 804.8,2924.4 805.7,2922.7 806.6,2921.0 807.5,2919.2 808.4,2917.5 809.4,2915.8 810.3,2914.0 811.2,2912.3 812.1,2910.6 813.1,2908.9 814.0,2907.1 814.9,2905.4 815.9,2903.7 816.8,2902.0 817.8,2900.3 818.8,2898.6 819.8,2896.9 820.7,2895.2 821.7,2893.6 822.7,2891.9 823.8,2890.2 824.8,2888.6 825.8,2886.9 826.9,2885.3 828.0,2883.6 829.1,2882.0 830.2,2880.4 831.3,2878.8 832.4,2877.3 833.6,2875.7 834.8,2874.2 836.0,2872.7 837.3,2871.3 838.6,2869.9 840.0,2868.5 841.4,2867.2 842.8,2865.9 844.3,2864.7 845.8,2863.6 847.4,2862.6 849.1,2861.6 850.8,2860.7 852.5,2859.8 854.2,2859.0 856.0,2858.3 857.8,2857.7 859.7,2857.1 861.6,2856.6 863.5,2856.1 865.4,2855.7 867.3,2855.4 869.2,2855.2 871.1,2855.1 873.1,2855.0 875.0,2855.0 877.0,2854.9 878.9,2854.9 880.9,2855.0 882.8,2855.1 884.8,2855.4 886.7,2855.7 888.6,2856.1 890.4,2856.6 892.3,2857.1 894.1,2857.7 895.9,2858.4 897.7,2859.2 899.5,2860.0 901.2,2860.8 902.9,2861.8 904.5,2862.8 906.2,2863.8 907.7,2864.9 909.3,2866.1 910.8,2867.3 912.3,2868.5 913.7,2869.8 915.1,2871.1 916.5,2872.5 917.8,2873.9 919.1,2875.3 920.4,2876.8 921.7,2878.3 922.9,2879.8 924.2,2881.3 925.4,2882.8 926.6,2884.3 927.7,2885.9 928.9,2887.4 930.1,2889.0 931.2,2890.6 932.3,2892.2 933.5,2893.8 934.6,2895.4 935.7,2897.0 936.8,2898.6 937.9,2900.2 938.9,2901.9 940.0,2903.5 941.1,2905.1 942.1,2906.8 943.2,2908.4 944.2,2910.1 945.3,2911.7 946.3,2913.4 947.3,2915.0 948.4,2916.7 949.4,2918.4 950.4,2920.0 951.5,2921.7 952.5,2923.4 953.5,2925.0 954.5,2926.7 955.5,2928.4 956.5,2930.0 957.6,2931.7 958.6,2933.4 959.6,2935.1 960.6,2936.7 961.6,2938.4 962.6,2940.1 963.6,2941.7 964.7,2943.4 965.7,2945.1 966.7,2946.8 967.7,2948.4 968.7,2950.1 969.8,2951.8 970.8,2953.4 971.8,2955.1 972.8,2956.8 973.9,2958.4 974.9,2960.1 975.9,2961.8 976.9,2963.4 977.9,2965.1 979.0,2966.8 980.0,2968.4 981.0,2970.1 982.0,2971.8 983.0,2973.5 984.0,2975.1 985.0,2976.8 986.0,2978.5 987.0,2980.2 988.0,2981.9 989.0,2983.6 990.0,2985.2 990.9,2986.9 991.9,2988.6 992.9,2990.3 993.8,2992.1 994.8,2993.8 995.7,2995.5 996.7,2997.2 997.6,2998.9 998.5,3000.6 999.4,3002.4 1000.4,3004.1 1001.3,3005.9 1002.2,3007.6 1003.0,3009.4 1003.9,3011.2 1004.8,3012.9 1005.7,3014.7 1006.5,3016.5 1007.4,3018.3 1008.2,3020.1 1009.1,3021.9 1009.9,3023.6 1010.7,3025.4 1011.6,3027.2 1012.4,3029.0 1013.2,3030.8 1014.0,3032.6 1014.8,3034.4 1015.7,3036.2 1016.5,3038.0 1017.3,3039.9 1018.1,3041.7 1018.9,3043.5 1019.7,3045.3 1020.5,3047.1 1021.3,3048.9 1022.1,3050.7 1022.8,3052.5 1023.6,3054.3 1024.4,3056.2 1025.2,3058.0 1026.0,3059.8 1026.7,3061.6 1027.5,3063.5 1028.3,3065.3 1029.0,3067.1 1029.8,3068.9 1030.6,3070.8 1031.3,3072.6 1032.1,3074.4 1032.8,3076.3 1033.6,3078.1 1034.3,3079.9 1035.1,3081.7 1035.8,3083.6 1036.6,3085.4 1037.4,3087.2 1038.1,3089.1 1038.9,3090.9 1039.7,3092.7 1040.4,3094.5 1041.2,3096.3 1042.0,3098.2 1042.8,3100.0 1043.6,3101.8 1044.4,3103.6 1045.2,3105.4 1046.0,3107.2 1046.8,3109.0 1047.6,3110.8 1048.4,3112.6 1049.2,3114.4 1050.1,3116.2 1050.9,3118.0 1051.7,3119.8 1052.5,3121.6 1053.4,3123.4 1054.2,3125.2 1055.0,3127.0 1055.9,3128.8 1056.7,3130.6 1057.6,3132.4 1058.4,3134.2 1059.3,3135.9 1060.1,3137.7 1061.0,3139.5 1061.8,3141.3 1062.7,3143.1 1063.5,3144.9 1064.4,3146.6 1065.3,3148.4 1066.2,3150.2 1067.0,3152.0 1067.9,3153.7 1068.8,3155.5 1069.7,3157.3 1070.6,3159.0 1071.5,3160.8 1072.4,3162.5 1073.3,3164.3 1074.2,3166.0 1075.1,3167.8 1076.0,3169.5 1077.0,3171.3 1077.9,3173.0 1078.8,3174.8 1079.7,3176.6 1080.6,3178.3 1081.5,3180.1 1082.4,3181.8 1083.4,3183.6 1084.3,3185.3 1085.2,3187.1 1086.1,3188.8 1086.9,3190.6 1087.8,3192.4 1088.7,3194.1 1089.6,3195.9 1090.4,3197.7 1091.3,3199.5 1092.2,3201.3 1093.0,3203.0 1093.8,3204.8 1094.7,3206.6 1095.5,3208.4 1096.3,3210.2 1097.2,3212.0 1098.0,3213.8 1098.8,3215.6 1099.6,3217.4 1100.4,3219.2 1101.2,3221.0 1102.0,3222.8 1102.8,3224.6 1103.6,3226.4 1104.4,3228.2 1105.2,3230.0 1106.0,3231.8 1106.8,3233.6 1107.6,3235.4 1108.4,3237.2 1109.2,3239.0 1110.0,3240.8 1110.8,3242.5 1111.6,3244.3 1112.5,3246.1 1113.3,3247.9 1114.1,3249.7 1115.0,3251.4 1115.8,3253.2 1116.6,3255.0 1117.5,3256.8 1118.3,3258.5 1119.2,3260.3 1120.0,3262.1 1120.9,3263.8 1121.7,3265.6 1122.6,3267.4 1123.5,3269.1 1124.3,3270.9 1125.2,3272.7 1126.0,3274.4 1126.9,3276.2 1127.8,3277.9 1128.7,3279.7 1129.5,3281.4 1130.4,3283.2 1131.3,3284.9 1132.2,3286.7 1133.1,3288.4 1134.0,3290.2 1134.9,3291.9 1135.8,3293.7 1136.7,3295.4 1137.6,3297.2 1138.5,3298.9 1139.4,3300.6 1140.3,3302.4 1141.2,3304.1 1142.1,3305.8 1143.0,3307.6 1144.0,3309.3 1144.9,3311.0 1145.8,3312.7 1146.8,3314.5 1147.7,3316.2 1148.6,3317.9 1149.6,3319.6 1150.5,3321.3 1151.4,3323.1 1152.4,3324.8 1153.3,3326.5 1154.3,3328.2 1155.2,3329.9 1156.2,3331.6 1157.1,3333.4 1158.1,3335.1 1159.0,3336.8 1159.9,3338.5 1160.9,3340.2 1161.8,3342.0 1162.8,3343.7 1163.7,3345.4 1164.6,3347.1 1165.6,3348.8 1166.5,3350.6 1167.4,3352.3 1168.4,3354.0 1169.3,3355.7 1170.2,3357.5 1171.1,3359.2 1172.1,3360.9 1173.0,3362.7 1173.9,3364.4 1174.8,3366.1 1175.7,3367.8 1176.7,3369.6 1177.6,3371.3 1178.5,3373.0 1179.5,3374.7 1180.4,3376.5 1181.4,3378.2 1182.3,3379.9 1183.3,3381.6 1184.2,3383.3 1185.2,3385.0 1186.2,3386.7 1187.2,3388.4 1188.2,3390.0 1189.2,3391.7 1190.2,3393.4 1191.3,3395.0 1192.3,3396.7 1193.4,3398.3 1194.4,3400.0 1195.5,3401.6 1196.6,3403.3 1197.6,3404.9 1198.7,3406.5 1199.8,3408.2 1200.9,3409.8 1202.0,3411.5 1203.1,3413.2 1204.2,3414.9 1205.4,3416.5 1206.5,3418.2 1207.6,3419.8 1208.8,3421.5 1209.9,3423.1 1211.1,3424.7 1212.3,3426.4 1213.5,3428.0 1214.7,3429.6 1215.9,3431.2 1217.2,3432.8 1218.4,3434.3 1219.7,3435.9 1221.0,3437.4 1222.3,3439.0 1223.6,3440.5 1224.9,3442.0 1226.2,3443.5 1227.6,3445.0 1229.0,3446.5 1230.3,3447.9 1231.7,3449.4 1233.1,3450.8 1234.5,3452.3 1235.9,3453.7 1237.3,3455.1 1238.7,3456.6 1240.2,3458.0 1241.6,3459.4 1243.0,3460.8 1244.5,3462.2 1245.9,3463.6 1247.4,3465.0 1248.8,3466.4 1250.3,3467.8 1251.7,3469.1 1253.2,3470.5 1254.7,3471.8 1256.2,3473.2 1257.7,3474.5 1259.2,3475.8 1260.8,3477.1 1262.3,3478.4 1263.8,3479.7 1265.4,3481.0 1267.0,3482.3 1268.5,3483.5 1270.1,3484.7 1271.7,3485.9 1273.4,3487.1 1275.0,3488.3 1276.7,3489.4 1278.3,3490.5 1280.0,3491.6 1281.7,3492.7 1283.4,3493.7 1285.1,3494.7 1286.9,3495.7 1288.6,3496.7 1290.4,3497.7 1292.2,3498.6 1293.9,3499.5 1295.7,3500.4 1297.5,3501.3 1299.3,3502.2 1301.1,3503.1 1302.9,3504.0 1304.8,3504.8 1306.6,3505.7 1308.4,3506.6 1310.2,3507.5 1312.0,3508.4 1313.8,3509.3 1315.6,3510.1 1317.4,3511.0 1319.2,3511.9 1321.0,3512.8 1322.8,3513.7 1324.6,3514.6 1326.4,3515.5 1328.3,3516.3 1330.1,3517.2 1331.9,3518.1 1333.7,3519.0 1335.5,3519.9 1337.3,3520.8 1339.1,3521.6 1340.9,3522.5 1342.7,3523.4 1344.5,3524.3 1346.3,3525.2 1348.1,3526.1 1349.9,3527.0 1351.7,3527.9 1353.5,3528.8 1355.3,3529.6 1357.2,3530.5 1359.0,3531.4 1360.8,3532.3 1362.6,3533.2 1364.4,3534.1 1366.2,3534.9 1368.0,3535.8 1369.8,3536.6 1371.7,3537.5 1373.5,3538.3 1375.4,3539.1 1377.2,3539.8 1379.1,3540.6 1381.0,3541.3 1382.8,3542.0 1384.7,3542.7 1386.6,3543.3 1388.5,3543.9 1390.4,3544.5 1392.4,3545.1 1394.3,3545.7 1396.2,3546.2 1398.1,3546.7 1400.1,3547.2 1402.0,3547.7 1404.0,3548.1 1405.9,3548.5 1407.9,3548.9 1409.9,3549.3 1411.8,3549.7 1413.8,3550.1 1415.7,3550.5 1417.7,3550.9 1419.7,3551.3 1421.6,3551.7 1423.6,3552.1 1425.5,3552.6 1427.5,3553.0 1429.4,3553.5 1431.3,3554.0 1433.2,3554.6 1435.2,3555.2 1437.1,3555.8 1439.0,3556.4 1440.9,3557.0 1442.7,3557.7 1444.6,3558.4 1446.5,3559.1 1448.4,3559.8 1450.2,3560.5 1452.1,3561.2 1453.9,3562.0 1455.8,3562.8 1457.6,3563.6 1459.4,3564.4 1461.3,3565.2 1463.1,3566.0 1464.9,3566.8 1466.8,3567.6 1468.6,3568.4 1470.4,3569.3 1472.2,3570.1 1474.0,3571.0 1475.8,3571.8 1477.6,3572.7 1479.4,3573.5 1481.3,3574.4 1483.1,3575.3 1484.9,3576.1 1486.6,3577.0 1488.4,3577.9 1490.2,3578.8 1492.0,3579.7 1493.8,3580.6 1495.6,3581.5 1497.3,3582.4 1499.1,3583.4 1500.9,3584.3 1502.7,3585.2 1504.4,3586.2 1506.2,3587.1 1508.0,3588.1 1509.7,3589.0 1511.5,3589.9 1513.2,3590.9 1515.0,3591.8 1516.8,3592.8 1518.5,3593.7 1520.3,3594.7 1522.1,3595.6 1523.8,3596.6 1525.6,3597.5 1527.4,3598.5 1529.1,3599.4 1530.9,3600.3 1532.7,3601.3 1534.4,3602.2 1536.2,3603.1 1538.0,3604.0 1539.8,3605.0 1541.5,3605.9 1543.3,3606.8 1545.1,3607.7 1546.9,3608.7 1548.6,3609.6 1550.4,3610.5 1552.2,3611.4 1553.9,3612.4 1555.7,3613.3 1557.5,3614.2 1559.3,3615.1 1561.0,3616.1 1562.8,3617.0 1564.6,3617.9 1566.3,3618.9 1568.1,3619.8 1569.9,3620.8 1571.6,3621.7 1573.4,3622.7 1575.2,3623.6 1576.9,3624.6 1578.7,3625.5 1580.4,3626.5 1582.2,3627.5 1583.9,3628.5 1585.6,3629.4 1587.4,3630.4 1589.1,3631.4 1590.9,3632.4 1592.6,3633.4 1594.3,3634.4 1596.0,3635.4 1597.8,3636.5 1599.5,3637.5 1601.2,3638.5 1602.9,3639.5 1604.7,3640.5 1606.4,3641.5 1608.1,3642.5 1609.8,3643.6 1611.6,3644.6 1613.3,3645.6 1615.0,3646.6 1616.7,3647.6 1618.5,3648.6 1620.2,3649.6 1621.9,3650.6 1623.7,3651.6 1625.4,3652.6 1627.2,3653.6 1628.9,3654.6 1630.6,3655.5 1632.4,3656.5 1634.2,3657.4 1635.9,3658.4 1637.7,3659.3 1639.5,3660.2 1641.2,3661.2 1643.0,3662.1 1644.8,3663.0 1646.6,3663.9 1648.4,3664.8 1650.2,3665.7 1651.9,3666.6 1653.7,3667.5 1655.5,3668.4 1657.3,3669.3 1659.1,3670.2 1660.8,3671.2 1662.6,3672.1 1664.4,3673.0 1666.2,3674.0 1667.9,3674.9 1669.7,3675.9 1671.4,3676.8 1673.1,3677.8 1674.9,3678.9 1676.6,3679.9 1678.3,3680.9 1680.0,3682.0 1681.6,3683.1 1683.3,3684.2 1684.9,3685.3 1686.6,3686.5 1688.2,3687.7 1689.8,3688.9 1691.4,3690.1 1692.9,3691.3 1694.5,3692.5 1696.1,3693.8 1697.6,3695.1 1699.2,3696.3 1700.7,3697.6" fill="none" stroke="#808000" stroke-width="3.0" stroke-linejoin="round" stroke-linecap="butt"/>
<polyline points="247.0,3239.0 248.9,3239.7 250.8,3240.3 252.7,3241.0 254.5,3241.7 256.4,3242.3 258.3,3243.0 260.2,3243.7 262.1,3244.3 264.0,3245.0 265.9,3245.6 267.8,3246.3 269.7,3246.9 271.6,3247.5 273.5,3248.1 275.4,3248.7 277.3,3249.3 279.2,3249.9 281.1,3250.5 283.0,3251.1 284.9,3251.7 286.9,3252.2 288.8,3252.8 290.7,3253.3 292.7,3253.8 294.6,3254.3 296.5,3254.8 298.5,3255.3 300.4,3255.8 302.3,3256.3 304.3,3256.8 306.2,3257.2 308.2,3257.7 310.1,3258.2 312.1,3258.6 314.0,3259.1 316.0,3259.5 317.9,3260.0 319.9,3260.4 321.8,3260.9 323.8,3261.3 325.7,3261.7 327.7,3262.2 329.6,3262.6 331.6,3263.1 333.5,3263.5 335.5,3263.9 337.4,3264.3 339.4,3264.8 341.4,3265.2 343.3,3265.6 345.3,3266.0 347.2,3266.4 349.2,3266.8 351.1,3267.2 353.1,3267.6 355.1,3268.0 357.0,3268.4 359.0,3268.8 361.0,3269.1 362.9,3269.5 364.9,3269.9 366.9,3270.2 368.8,3270.6 370.8,3270.9 372.8,3271.2 374.8,3271.6 376.7,3271.9 378.7,3272.2 380.7,3272.5 382.7,3272.8 384.6,3273.1 386.6,3273.4 388.6,3273.7 390.6,3273.9 392.6,3274.2 394.5,3274.5 396.5,3274.7 398.5,3275.0 400.5,3275.2 402.5,3275.5 404.5,3275.7 406.5,3275.9 408.4,3276.2 410.4,3276.4 412.4,3276.6 414.4,3276.8 416.4,3277.1 418.4,3277.3 420.4,3277.5 422.4,3277.7 424.3,3278.0 426.3,3278.2 428.3,3278.4 430.3,3278.6 432.3,3278.8 434.3,3279.0 436.3,3279.3 438.3,3279.5 440.3,3279.7 442.3,3279.8 444.2,3280.0 446.2,3280.2 448.2,3280.4 450.2,3280.6 452.2,3280.7 454.2,3280.9 456.2,3281.1 458.2,3281.2 460.2,3281.3 462.2,3281.5 464.2,3281.6 466.2,3281.7 468.2,3281.8 470.2,3281.9 472.2,3282.0 474.2,3282.1 476.2,3282.2 478.2,3282.2 480.2,3282.3 482.2,3282.3 484.2,3282.3 486.2,3282.3 488.2,3282.3 490.2,3282.3 492.2,3282.3 494.2,3282.3 496.2,3282.2 498.2,3282.1 500.2,3282.0 502.2,3281.9 504.1,3281.8 506.1,3281.6 508.1,3281.4 510.1,3281.3 512.1,3281.1 514.1,3280.8 516.1,3280.6 518.1,3280.4 520.1,3280.1 522.0,3279.9 524.0,3279.6 526.0,3279.4 528.0,3279.1 530.0,3278.8 532.0,3278.6 533.9,3278.3 535.9,3278.0 537.9,3277.7 539.9,3277.4 541.9,3277.1 543.8,3276.8 545.8,3276.5 547.8,3276.2 549.7,3275.8 551.7,3275.5 553.7,3275.1 555.6,3274.7 557.6,3274.3 559.6,3273.9 561.5,3273.5 563.4,3273.0 565.4,3272.5 567.3,3272.0 569.2,3271.5 571.1,3270.9 573.0,3270.3 574.9,3269.6 576.8,3269.0 578.7,3268.3 580.5,3267.5 582.4,3266.8 584.2,3266.0 586.0,3265.2 587.8,3264.4 589.7,3263.5 591.4,3262.6 593.2,3261.7 595.0,3260.8 596.8,3259.9 598.5,3258.9 600.3,3257.9 602.0,3256.9 603.7,3255.9 605.4,3254.9 607.1,3253.8 608.8,3252.7 610.4,3251.6 612.1,3250.5 613.7,3249.3 615.3,3248.1 616.9,3246.9 618.5,3245.7 620.0,3244.5 621.6,3243.2 623.1,3241.9 624.6,3240.6 626.1,3239.3 627.6,3238.0 629.1,3236.7 630.6,3235.3 632.1,3234.0 633.6,3232.7 635.1,3231.4 636.6,3230.1 638.2,3228.8 639.7,3227.5 641.2,3226.2 642.7,3224.9 644.3,3223.6 645.8,3222.3 647.4,3221.1 648.9,3219.8 650.5,3218.6 652.0,3217.3 653.6,3216.1 655.1,3214.8 656.7,3213.5 658.2,3212.2 659.7,3210.9 661.2,3209.6 662.6,3208.2 664.1,3206.8 665.5,3205.4 666.9,3204.0 668.2,3202.5 669.6,3201.1 670.9,3199.5 672.1,3198.0 673.3,3196.4 674.5,3194.8 675.7,3193.2 676.8,3191.6 677.9,3189.9 679.0,3188.3 680.1,3186.6 681.1,3184.9 682.1,3183.1 683.1,3181.4 684.1,3179.7 685.1,3177.9 686.0,3176.2 687.0,3174.4 688.0,3172.7 688.9,3170.9 689.8,3169.1 690.8,3167.4 691.7,3165.6 692.7,3163.8 693.6,3162.1 694.5,3160.3 695.5,3158.5 696.4,3156.8 697.4,3155.0 698.3,3153.2 699.3,3151.5 700.2,3149.7 701.2,3148.0 702.1,3146.2 703.1,3144.4 704.0,3142.7 704.9,3140.9 705.9,3139.1 706.8,3137.4 707.8,3135.6 708.7,3133.8 709.6,3132.1 710.5,3130.3 711.4,3128.5 712.3,3126.7 713.3,3124.9 714.2,3123.1 715.1,3121.4 715.9,3119.6 716.8,3117.8 717.7,3116.0 718.6,3114.2 719.5,3112.4 720.3,3110.6 721.2,3108.8 722.0,3107.0 722.9,3105.1 723.7,3103.3 724.5,3101.5 725.4,3099.7 726.2,3097.9 727.0,3096.0 727.8,3094.2 728.6,3092.4 729.4,3090.5 730.1,3088.7 730.9,3086.8 731.7,3085.0 732.5,3083.1 733.2,3081.3 734.0,3079.4 734.7,3077.6 735.5,3075.7 736.3,3073.9 737.0,3072.0 737.8,3070.2 738.5,3068.3 739.3,3066.5 740.1,3064.6 740.8,3062.8 741.6,3060.9 742.4,3059.1 743.2,3057.3 744.0,3055.4 744.7,3053.6 745.5,3051.7 746.3,3049.9 747.1,3048.1 747.9,3046.2 748.7,3044.4 749.5,3042.6 750.3,3040.7 751.1,3038.9 751.9,3037.1 752.7,3035.2 753.5,3033.4 754.3,3031.6 755.1,3029.7 755.9,3027.9 756.7,3026.1 757.6,3024.2 758.4,3022.4 759.2,3020.6 760.0,3018.8 760.8,3016.9 761.6,3015.1 762.4,3013.3 763.3,3011.5 764.1,3009.6 764.9,3007.8 765.7,3006.0 766.5,3004.1 767.3,3002.3 768.2,3000.5 769.0,2998.7 769.8,2996.8 770.6,2995.0 771.4,2993.2 772.2,2991.4 773.1,2989.5 773.9,2987.7 774.7,2985.9 775.5,2984.1 776.3,2982.2 777.1,2980.4 778.0,2978.6 778.8,2976.8 779.6,2974.9 780.5,2973.1 781.3,2971.3 782.1,2969.5 783.0,2967.7 783.8,2965.9 784.7,2964.0 785.5,2962.2 786.4,2960.4 787.2,2958.6 788.1,2956.8 789.0,2955.0 789.8,2953.2 790.7,2951.4 791.6,2949.6 792.5,2947.8 793.3,2946.0 794.2,2944.2 795.1,2942.4 796.0,2940.6 796.8,2938.8 797.7,2937.0 798.6,2935.2 799.5,2933.4 800.4,2931.7 801.3,2929.9 802.2,2928.2 803.0,2926.4 803.9,2924.7 804.8,2922.9 805.7,2921.2 806.6,2919.5 807.5,2917.7 808.4,2916.0 809.4,2914.3 810.3,2912.5 811.2,2910.8 812.1,2909.1 813.1,2907.4 814.0,2905.6 814.9,2903.9 815.9,2902.2 816.8,2900.5 817.8,2898.8 818.8,2897.1 819.8,2895.4 820.7,2893.7 821.7,2892.1 822.7,2890.4 823.8,2888.7 824.8,2887.1 825.8,2885.4 826.9,2883.8 828.0,2882.1 829.1,2880.5 830.2,2878.9 831.3,2877.3 832.4,2875.8 833.6,2874.2 834.8,2872.7 836.0,2871.2 837.3,2869.8 838.6,2868.4 840.0,2867.0 841.4,2865.7 842.8,2864.4 844.3,2863.2 845.8,2862.1 847.4,2861.1 849.1,2860.1 850.8,2859.2 852.5,2858.3 854.2,2857.5 856.0,2856.8 857.8,2856.2 859.7,2855.6 861.6,2855.1 863.5,2854.6 865.4,2854.2 867.3,2853.9 869.2,2853.7 871.1,2853.6 873.1,2853.5 875.0,2853.5 877.0,2853.4 878.9,2853.5 880.9,2853.6 882.8,2853.7 884.8,2854.0 886.7,2854.3 888.6,2854.8 890.4,2855.3 892.3,2855.8 894.1,2856.5 895.9,2857.2 897.7,2857.9 899.5,2858.8 901.2,2859.6 902.9,2860.6 904.5,2861.6 906.2,2862.7 907.7,2863.8 909.3,2865.0 910.8,2866.2 912.3,2867.5 913.7,2868.8 915.1,2870.1 916.5,2871.5 917.8,2872.9 919.1,2874.4 920.4,2875.8 921.7,2877.3 922.9,2878.8 924.2,2880.4 925.4,2881.9 926.6,2883.5 927.7,2885.0 928.9,2886.6 930.1,2888.2 931.2,2889.8 932.3,2891.4 933.5,2893.0 934.6,2894.6 935.7,2896.2 936.8,2897.9 937.9,2899.5 938.9,2901.1 940.0,2902.8 941.1,2904.4 942.1,2906.1 943.2,2907.7 944.2,2909.4 945.3,2911.1 946.3,2912.7 947.3,2914.4 948.4,2916.1 949.4,2917.8 950.4,2919.4 951.5,2921.1 952.5,2922.8 953.5,2924.5 954.5,2926.2 955.5,2927.8 956.5,2929.5 957.6,2931.2 958.6,2932.9 959.6,2934.6 960.6,2936.3 961.6,2937.9 962.6,2939.6 963.6,2941.3 964.7,2943.0 965.7,2944.7 966.7,2946.4 967.7,2948.0 968.7,2949.7 969.8,2951.4 970.8,2953.1 971.8,2954.8 972.8,2956.4 973.9,2958.1 974.9,2959.8 975.9,2961.5 976.9,2963.1 977.9,2964.8 979.0,2966.5 980.0,2968.2 981.0,2969.9 982.0,2971.6 983.0,2973.2 984.0,2974.9 985.0,2976.6 986.0,2978.3 987.0,2980.0 988.0,2981.7 989.0,2983.4 990.0,2985.1 990.9,2986.8 991.9,2988.5 992.9,2990.3 993.8,2992.0 994.8,2993.7 995.7,2995.4 996.7,2997.2 997.6,2998.9 998.5,3000.6 999.4,3002.4 1000.4,3004.1 1001.3,3005.9 1002.2,3007.6 1003.0,3009.4 1003.9,3011.2 1004.8,3013.0 1005.7,3014.8 1006.5,3016.6 1007.4,3018.3 1008.2,3020.1 1009.1,3021.9 1009.9,3023.7 1010.7,3025.5 1011.6,3027.3 1012.4,3029.2 1013.2,3031.0 1014.0,3032.8 1014.8,3034.6 1015.7,3036.4 1016.5,3038.2 1017.3,3040.0 1018.1,3041.8 1018.9,3043.7 1019.7,3045.5 1020.5,3047.3 1021.3,3049.1 1022.1,3050.9 1022.8,3052.8 1023.6,3054.6 1024.4,3056.4 1025.2,3058.2 1026.0,3060.1 1026.7,3061.9 1027.5,3063.7 1028.3,3065.6 1029.0,3067.4 1029.8,3069.2 1030.6,3071.1 1031.3,3072.9 1032.1,3074.7 1032.8,3076.6 1033.6,3078.4 1034.3,3080.3 1035.1,3082.1 1035.8,3083.9 1036.6,3085.8 1037.4,3087.6 1038.1,3089.4 1038.9,3091.3 1039.7,3093.1 1040.4,3094.9 1041.2,3096.7 1042.0,3098.6 1042.8,3100.4 1043.6,3102.2 1044.4,3104.0 1045.2,3105.9 1046.0,3107.7 1046.8,3109.5 1047.6,3111.3 1048.4,3113.1 1049.2,3114.9 1050.1,3116.7 1050.9,3118.5 1051.7,3120.3 1052.5,3122.1 1053.4,3123.9 1054.2,3125.7 1055.0,3127.5 1055.9,3129.3 1056.7,3131.1 1057.6,3132.9 1058.4,3134.7 1059.3,3136.5 1060.1,3138.3 1061.0,3140.1 1061.8,3141.9 1062.7,3143.7 1063.5,3145.5 1064.4,3147.3 1065.3,3149.1 1066.2,3150.8 1067.0,3152.6 1067.9,3154.4 1068.8,3156.2 1069.7,3157.9 1070.6,3159.7 1071.5,3161.5 1072.4,3163.3 1073.3,3165.0 1074.2,3166.8 1075.1,3168.5 1076.0,3170.3 1077.0,3172.1 1077.9,3173.8 1078.8,3175.6 1079.7,3177.3 1080.6,3179.1 1081.5,3180.9 1082.4,3182.6 1083.4,3184.4 1084.3,3186.2 1085.2,3187.9 1086.1,3189.7 1086.9,3191.5 1087.8,3193.3 1088.7,3195.0 1089.6,3196.8 1090.4,3198.6 1091.3,3200.4 1092.2,3202.2 1093.0,3204.0 1093.8,3205.8 1094.7,3207.6 1095.5,3209.4 1096.3,3211.2 1097.2,3213.0 1098.0,3214.8 1098.8,3216.6 1099.6,3218.4 1100.4,3220.3 1101.2,3222.1 1102.0,3223.9 1102.8,3225.7 1103.6,3227.6 1104.4,3229.4 1105.2,3231.2 1106.0,3233.0 1106.8,3234.9 1107.6,3236.7 1108.4,3238.5 1109.2,3240.3 1110.0,3242.2 1110.8,3244.0 1111.6,3245.8 1112.5,3247.6 1113.3,3249.4 1114.1,3251.2 1115.0,3253.0 1115.8,3254.8 1116.6,3256.7 1117.5,3258.5 1118.3,3260.3 1119.2,3262.1 1120.0,3263.9 1120.9,3265.7 1121.7,3267.5 1122.6,3269.3 1123.5,3271.1 1124.3,3272.9 1125.2,3274.7 1126.0,3276.5 1126.9,3278.2 1127.8,3280.0 1128.7,3281.8 1129.5,3283.6 1130.4,3285.4 1131.3,3287.2 1132.2,3289.0 1133.1,3290.8 1134.0,3292.5 1134.9,3294.3 1135.8,3296.1 1136.7,3297.9 1137.6,3299.7 1138.5,3301.4 1139.4,3303.2 1140.3,3305.0 1141.2,3306.7 1142.1,3308.5 1143.0,3310.3 1144.0,3312.0 1144.9,3313.8 1145.8,3315.6 1146.8,3317.3 1147.7,3319.1 1148.6,3320.9 1149.6,3322.6 1150.5,3324.4 1151.4,3326.1 1152.4,3327.9 1153.3,3329.6 1154.3,3331.4 1155.2,3333.1 1156.2,3334.9 1157.1,3336.6 1158.1,3338.4 1159.0,3340.2 1159.9,3341.9 1160.9,3343.7 1161.8,3345.4 1162.8,3347.2 1163.7,3348.9 1164.6,3350.7 1165.6,3352.5 1166.5,3354.2 1167.4,3356.0 1168.4,3357.7 1169.3,3359.5 1170.2,3361.3 1171.1,3363.0 1172.1,3364.8 1173.0,3366.6 1173.9,3368.3 1174.8,3370.1 1175.7,3371.9 1176.7,3373.6 1177.6,3375.4 1178.5,3377.2 1179.5,3378.9 1180.4,3380.7 1181.4,3382.4 1182.3,3384.2 1183.3,3385.9 1184.2,3387.7 1185.2,3389.4 1186.2,3391.1 1187.2,3392.8 1188.2,3394.6 1189.2,3396.3 1190.2,3398.0 1191.3,3399.7 1192.3,3401.4 1193.4,3403.1 1194.4,3404.8 1195.5,3406.5 1196.6,3408.1 1197.6,3409.8 1198.7,3411.5 1199.8,3413.1 1200.9,3414.8 1202.0,3416.5 1203.1,3418.1 1204.2,3419.8 1205.4,3421.4 1206.5,3423.0 1207.6,3424.7 1208.8,3426.3 1209.9,3427.9 1211.1,3429.5 1212.3,3431.1 1213.5,3432.7 1214.7,3434.3 1215.9,3435.9 1217.2,3437.4 1218.4,3439.0 1219.7,3440.5 1221.0,3442.0 1222.3,3443.5 1223.6,3445.0 1224.9,3446.5 1226.2,3448.0 1227.6,3449.4 1229.0,3450.9 1230.3,3452.3 1231.7,3453.7 1233.1,3455.2 1234.5,3456.6 1235.9,3458.0 1237.3,3459.4 1238.7,3460.8 1240.2,3462.2 1241.6,3463.6 1243.0,3465.0 1244.5,3466.3 1245.9,3467.7 1247.4,3469.1 1248.8,3470.4 1250.3,3471.8 1251.7,3473.1 1253.2,3474.4 1254.7,3475.8 1256.2,3477.1 1257.7,3478.4 1259.2,3479.7 1260.8,3480.9 1262.3,3482.2 1263.8,3483.5 1265.4,3484.7 1267.0,3485.9 1268.5,3487.1 1270.1,3488.3 1271.7,3489.5 1273.4,3490.6 1275.0,3491.8 1276.7,3492.9 1278.3,3493.9 1280.0,3495.0 1281.7,3496.0 1283.4,3497.0 1285.1,3498.0 1286.9,3499.0 1288.6,3499.9 1290.4,3500.8 1292.2,3501.7 1293.9,3502.6 1295.7,3503.5 1297.5,3504.4 1299.3,3505.2 1301.1,3506.1 1302.9,3506.9 1304.8,3507.8 1306.6,3508.6 1308.4,3509.5 1310.2,3510.3 1312.0,3511.2 1313.8,3512.1 1315.6,3512.9 1317.4,3513.8 1319.2,3514.6 1321.0,3515.5 1322.8,3516.3 1324.6,3517.2 1326.4,3518.1 1328.3,3518.9 1330.1,3519.8 1331.9,3520.6 1333.7,3521.5 1335.5,3522.3 1337.3,3523.2 1339.1,3524.1 1340.9,3524.9 1342.7,3525.8 1344.5,3526.6 1346.3,3527.5 1348.1,3528.4 1349.9,3529.2 1351.7,3530.1 1353.5,3531.0 1355.3,3531.8 1357.2,3532.7 1359.0,3533.5 1360.8,3534.4 1362.6,3535.3 1364.4,3536.1 1366.2,3536.9 1368.0,3537.8 1369.8,3538.6 1371.7,3539.4 1373.5,3540.2 1375.4,3540.9 1377.2,3541.7 1379.1,3542.4 1381.0,3543.1 1382.8,3543.7 1384.7,3544.4 1386.6,3545.0 1388.5,3545.6 1390.4,3546.2 1392.4,3546.7 1394.3,3547.3 1396.2,3547.8 1398.1,3548.3 1400.1,3548.7 1402.0,3549.2 1404.0,3549.6 1405.9,3550.0 1407.9,3550.4 1409.9,3550.8 1411.8,3551.2 1413.8,3551.6 1415.7,3552.0 1417.7,3552.4 1419.7,3552.8 1421.6,3553.2 1423.6,3553.6 1425.5,3554.1 1427.5,3554.5 1429.4,3555.0 1431.3,3555.5 1433.2,3556.1 1435.2,3556.7 1437.1,3557.3 1439.0,3557.9 1440.9,3558.5 1442.7,3559.2 1444.6,3559.9 1446.5,3560.6 1448.4,3561.3 1450.2,3562.0 1452.1,3562.7 1453.9,3563.5 1455.8,3564.3 1457.6,3565.1 1459.4,3565.9 1461.3,3566.7 1463.1,3567.5 1464.9,3568.3 1466.8,3569.1 1468.6,3569.9 1470.4,3570.8 1472.2,3571.6 1474.0,3572.5 1475.8,3573.3 1477.6,3574.2 1479.4,3575.0 1481.3,3575.9 1483.1,3576.8 1484.9,3577.6 1486.6,3578.5 1488.4,3579.4 1490.2,3580.3 1492.0,3581.2 1493.8,3582.1 1495.6,3583.0 1497.3,3583.9 1499.1,3584.9 1500.9,3585.8 1502.7,3586.7 1504.4,3587.7 1506.2,3588.6 1508.0,3589.6 1509.7,3590.5 1511.5,3591.4 1513.2,3592.4 1515.0,3593.3 1516.8,3594.3 1518.5,3595.2 1520.3,3596.2 1522.1,3597.1 1523.8,3598.1 1525.6,3599.0 1527.4,3600.0 1529.1,3600.9 1530.9,3601.8 1532.7,3602.8 1534.4,3603.7 1536.2,3604.6 1538.0,3605.5 1539.8,3606.5 1541.5,3607.4 1543.3,3608.3 1545.1,3609.2 1546.9,3610.2 1548.6,3611.1 1550.4,3612.0 1552.2,3612.9 1553.9,3613.9 1555.7,3614.8 1557.5,3615.7 1559.3,3616.6 1561.0,3617.6 1562.8,3618.5 1564.6,3619.4 1566.3,3620.4 1568.1,3621.3 1569.9,3622.3 1571.6,3623.2 1573.4,3624.2 1575.2,3625.1 1576.9,3626.1 1578.7,3627.0 1580.4,3628.0 1582.2,3629.0 1583.9,3630.0 1585.6,3630.9 1587.4,3631.9 1589.1,3632.9 1590.9,3633.9 1592.6,3634.9 1594.3,3635.9 1596.0,3636.9 1597.8,3638.0 1599.5,3639.0 1601.2,3640.0 1602.9,3641.0 1604.7,3642.0 1606.4,3643.0 1608.1,3644.0 1609.8,3645.1 1611.6,3646.1 1613.3,3647.1 1615.0,3648.1 1616.7,3649.1 1618.5,3650.1 1620.2,3651.1 1621.9,3652.1 1623.7,3653.1 1625.4,3654.1 1627.2,3655.1 1628.9,3656.1 1630.6,3657.0 1632.4,3658.0 1634.2,3658.9 1635.9,3659.9 1637.7,3660.8 1639.5,3661.7 1641.2,3662.7 1643.0,3663.6 1644.8,3664.5 1646.6,3665.4 1648.4,3666.3 1650.2,3667.2 1651.9,3668.1 1653.7,3669.0 1655.5,3669.9 1657.3,3670.8 1659.1,3671.7 1660.8,3672.7 1662.6,3673.6 1664.4,3674.5 1666.2,3675.5 1667.9,3676.4 1669.7,3677.4 1671.4,3678.3 1673.1,3679.3 1674.9,3680.4 1676.6,3681.4 1678.3,3682.4 1680.0,3683.5 1681.6,3684.6 1683.3,3685.7 1684.9,3686.8 1686.6,3688.0 1688.2,3689.2 1689.8,3690.4 1691.4,3691.6 1692.9,3692.8 1694.5,3694.0 1696.1,3695.3 1697.6,3696.6 1699.2,3697.8 1700.7,3699.1" fill="none" stroke="#000080" stroke-width="3.0" stroke-linejoin="round" stroke-linecap="butt"/>
<polyline points="247.0,3237.0 248.9,3237.7 250.8,3238.3 252.7,3239.0 254.5,3239.7 256.4,3240.3 258.3,3241.0 260.2,3241.7 262.1,3242.3 264.0,3243.0 265.9,3243.6 267.8,3244.3 269.7,3244.9 271.6,3245.5 273.5,3246.1 275.4,3246.7 277.3,3247.3 279.2,3247.9 281.1,3248.5 283.0,3249.1 284.9,3249.7 286.9,3250.2 288.8,3250.8 290.7,3251.3 292.7,3251.8 294.6,3252.3 296.5,3252.8 298.5,3253.3 300.4,3253.8 302.3,3254.3 304.3,3254.8 306.2,3255.2 308.2,3255.7 310.1,3256.2 312.1,3256.6 314.0,3257.1 316.0,3257.5 317.9,3258.0 319.9,3258.4 321.8,3258.9 323.8,3259.3 325.7,3259.7 327.7,3260.2 329.6,3260.6 331.6,3261.1 333.5,3261.5 335.5,3261.9 337.4,3262.3 339.4,3262.8 341.4,3263.2 343.3,3263.6 345.3,3264.0 347.2,3264.4 349.2,3264.8 351.1,3265.2 353.1,3265.6 355.1,3266.0 357.0,3266.4 359.0,3266.8 361.0,3267.1 362.9,3267.5 364.9,3267.9 366.9,3268.2 368.8,3268.6 370.8,3268.9 372.8,3269.2 374.8,3269.6 376.7,3269.9 378.7,3270.2 380.7,3270.5 382.7,3270.8 384.6,3271.1 386.6,3271.4 388.6,3271.7 390.6,3271.9 392.6,3272.2 394.5,3272.5 396.5,3272.7 398.5,3273.0 400.5,3273.2 402.5,3273.5 404.5,3273.7 406.5,3273.9 408.4,3274.2 410.4,3274.4 412.4,3274.6 414.4,3274.8 416.4,3275.1 418.4,3275.3 420.4,3275.5 422.4,3275.7 424.3,3276.0 426.3,3276.2 428.3,3276.4 430.3,3276.6 432.3,3276.8 434.3,3277.0 436.3,3277.3 438.3,3277.5 440.3,3277.7 442.3,3277.8 444.2,3278.0 446.2,3278.2 448.2,3278.4 450.2,3278.6 452.2,3278.7 454.2,3278.9 456.2,3279.1 458.2,3279.2 460.2,3279.3 462.2,3279.5 464.2,3279.6 466.2,3279.7 468.2,3279.8 470.2,3279.9 472.2,3280.0 474.2,3280.1 476.2,3280.2 478.2,3280.2 480.2,3280.3 482.2,3280.3 484.2,3280.3 486.2,3280.3 488.2,3280.3 490.2,3280.3 492.2,3280.3 494.2,3280.3 496.2,3280.2 498.2,3280.1 500.2,3280.0 502.2,3279.9 504.1,3279.8 506.1,3279.6 508.1,3279.4 510.1,3279.3 512.1,3279.1 514.1,3278.8 516.1,3278.6 518.1,3278.4 520.1,3278.1 522.0,3277.9 524.0,3277.6 526.0,3277.4 528.0,3277.1 530.0,3276.8 532.0,3276.6 533.9,3276.3 535.9,3276.0 537.9,3275.7 539.9,3275.4 541.9,3275.1 543.8,3274.8 545.8,3274.5 547.8,3274.2 549.7,3273.8 551.7,3273.5 553.7,3273.1 555.6,3272.7 557.6,3272.3 559.6,3271.9 561.5,3271.5 563.4,3271.0 565.4,3270.5 567.3,3270.0 569.2,3269.5 571.1,3268.9 573.0,3268.3 574.9,3267.6 576.8,3267.0 578.7,3266.3 580.5,3265.5 582.4,3264.8 584.2,3264.0 586.0,3263.2 587.8,3262.4 589.7,3261.5 591.4,3260.6 593.2,3259.7 595.0,3258.8 596.8,3257.9 598.5,3256.9 600.3,3255.9 602.0,3254.9 603.7,3253.9 605.4,3252.9 607.1,3251.8 608.8,3250.7 610.4,3249.6 612.1,3248.5 613.7,3247.3 615.3,3246.1 616.9,3244.9 618.5,3243.7 620.0,3242.5 621.6,3241.2 623.1,3239.9 624.6,3238.6 626.1,3237.3 627.6,3236.0 629.1,3234.7 630.6,3233.3 632.1,3232.0 633.6,3230.7 635.1,3229.4 636.6,3228.1 638.2,3226.8 639.7,3225.5 641.2,3224.2 642.7,3222.9 644.3,3221.6 645.8,3220.3 647.4,3219.1 648.9,3217.8 650.5,3216.6 652.0,3215.3 653.6,3214.1 655.1,3212.8 656.7,3211.5 658.2,3210.2 659.7,3208.9 661.2,3207.6 662.6,3206.2 664.1,3204.8 665.5,3203.4 666.9,3202.0 668.2,3200.5 669.6,3199.1 670.9,3197.5 672.1,3196.0 673.3,3194.4 674.5,3192.8 675.7,3191.2 676.8,3189.6 677.9,3187.9 679.0,3186.3 680.1,3184.6 681.1,3182.9 682.1,3181.1 683.1,3179.4 684.1,3177.7 685.1,3175.9 686.0,3174.2 687.0,3172.4 688.0,3170.7 688.9,3168.9 689.8,3167.1 690.8,3165.4 691.7,3163.6 692.7,3161.8 693.6,3160.1 694.5,3158.3 695.5,3156.5 696.4,3154.8 697.4,3153.0 698.3,3151.2 699.3,3149.5 700.2,3147.7 701.2,3146.0 702.1,3144.2 703.1,3142.4 704.0,3140.7 704.9,3138.9 705.9,3137.1 706.8,3135.4 707.8,3133.6 708.7,3131.8 709.6,3130.1 710.5,3128.3 711.4,3126.5 712.3,3124.7 713.3,3122.9 714.2,3121.1 715.1,3119.4 715.9,3117.6 716.8,3115.8 717.7,3114.0 718.6,3112.2 719.5,3110.4 720.3,3108.6 721.2,3106.8 722.0,3105.0 722.9,3103.1 723.7,3101.3 724.5,3099.5 725.4,3097.7 726.2,3095.9 727.0,3094.0 727.8,3092.2 728.6,3090.4 729.4,3088.5 730.1,3086.7 730.9,3084.8 731.7,3083.0 732.5,3081.1 733.2,3079.3 734.0,3077.4 734.7,3075.6 735.5,3073.7 736.3,3071.9 737.0,3070.0 737.8,3068.2 738.5,3066.3 739.3,3064.5 740.1,3062.6 740.8,3060.8 741.6,3058.9 742.4,3057.1 743.2,3055.3 744.0,3053.4 744.7,3051.6 745.5,3049.7 746.3,3047.9 747.1,3046.1 747.9,3044.2 748.7,3042.4 749.5,3040.6 750.3,3038.7 751.1,3036.9 751.9,3035.1 752.7,3033.2 753.5,3031.4 754.3,3029.6 755.1,3027.7 755.9,3025.9 756.7,3024.1 757.6,3022.2 758.4,3020.4 759.2,3018.6 760.0,3016.8 760.8,3014.9 761.6,3013.1 762.4,3011.3 763.3,3009.5 764.1,3007.6 764.9,3005.8 765.7,3004.0 766.5,3002.1 767.3,3000.3 768.2,2998.5 769.0,2996.7 769.8,2994.8 770.6,2993.0 771.4,2991.2 772.2,2989.4 773.1,2987.5 773.9,2985.7 774.7,2983.9 775.5,2982.1 776.3,2980.2 777.1,2978.4 778.0,2976.6 778.8,2974.8 779.6,2972.9 780.5,2971.1 781.3,2969.3 782.1,2967.5 783.0,2965.7 783.8,2963.9 784.7,2962.0 785.5,2960.2 786.4,2958.4 787.2,2956.6 788.1,2954.8 789.0,2953.0 789.8,2951.2 790.7,2949.4 791.6,2947.6 792.5,2945.8 793.3,2944.0 794.2,2942.2 795.1,2940.4 796.0,2938.6 796.8,2936.8 797.7,2935.0 798.6,2933.2 799.5,2931.4 800.4,2929.6 801.3,2927.9 802.2,2926.1 803.0,2924.3 803.9,2922.5 804.8,2920.7 805.7,2918.9 806.6,2917.1 807.5,2915.3 808.4,2913.5 809.4,2911.8 810.3,2910.0 811.2,2908.2 812.1,2906.4 813.1,2904.7 814.0,2902.9 814.9,2901.1 815.9,2899.4 816.8,2897.6 817.8,2895.9 818.8,2894.1 819.8,2892.4 820.7,2890.6 821.7,2888.9 822.7,2887.2 823.8,2885.5 824.8,2883.7 825.8,2882.0 826.9,2880.3 828.0,2878.7 829.1,2877.0 830.2,2875.3 831.3,2873.7 832.4,2872.0 833.6,2870.4 834.8,2868.8 836.0,2867.3 837.3,2865.8 838.6,2864.3 840.0,2862.9 841.4,2861.5 842.8,2860.2 844.3,2858.9 845.8,2857.7 847.4,2856.5 849.1,2855.5 850.8,2854.5 852.5,2853.5 854.2,2852.6 856.0,2851.8 857.8,2851.1 859.7,2850.4 861.6,2849.8 863.5,2849.2 865.4,2848.8 867.3,2848.3 869.2,2848.0 871.1,2847.8 873.1,2847.6 875.0,2847.5 877.0,2847.5 878.9,2847.6 880.9,2847.7 882.8,2848.0 884.8,2848.3 886.7,2848.7 888.6,2849.2 890.4,2849.8 892.3,2850.4 894.1,2851.1 895.9,2851.8 897.7,2852.7 899.5,2853.5 901.2,2854.5 902.9,2855.5 904.5,2856.6 906.2,2857.7 907.7,2858.8 909.3,2860.1 910.8,2861.3 912.3,2862.7 913.7,2864.0 915.1,2865.4 916.5,2866.8 917.8,2868.3 919.1,2869.8 920.4,2871.3 921.7,2872.8 922.9,2874.4 924.2,2875.9 925.4,2877.5 926.6,2879.1 927.7,2880.7 928.9,2882.3 930.1,2883.9 931.2,2885.6 932.3,2887.2 933.5,2888.9 934.6,2890.5 935.7,2892.2 936.8,2893.8 937.9,2895.5 938.9,2897.2 940.0,2898.9 941.1,2900.5 942.1,2902.2 943.2,2903.9 944.2,2905.6 945.3,2907.3 946.3,2909.0 947.3,2910.7 948.4,2912.4 949.4,2914.1 950.4,2915.9 951.5,2917.6 952.5,2919.3 953.5,2921.0 954.5,2922.7 955.5,2924.4 956.5,2926.1 957.6,2927.8 958.6,2929.6 959.6,2931.3 960.6,2933.0 961.6,2934.7 962.6,2936.4 963.6,2938.1 964.7,2939.9 965.7,2941.6 966.7,2943.3 967.7,2945.0 968.7,2946.7 969.8,2948.4 970.8,2950.1 971.8,2951.9 972.8,2953.6 973.9,2955.3 974.9,2957.0 975.9,2958.7 976.9,2960.4 977.9,2962.1 979.0,2963.8 980.0,2965.5 981.0,2967.3 982.0,2969.0 983.0,2970.7 984.0,2972.4 985.0,2974.1 986.0,2975.9 987.0,2977.6 988.0,2979.3 989.0,2981.1 990.0,2982.8 990.9,2984.5 991.9,2986.3 992.9,2988.0 993.8,2989.8 994.8,2991.5 995.7,2993.3 996.7,2995.0 997.6,2996.8 998.5,2998.6 999.4,3000.3 1000.4,3002.1 1001.3,3003.9 1002.2,3005.7 1003.0,3007.5 1003.9,3009.3 1004.8,3011.1 1005.7,3012.9 1006.5,3014.7 1007.4,3016.5 1008.2,3018.3 1009.1,3020.1 1009.9,3021.9 1010.7,3023.8 1011.6,3025.6 1012.4,3027.4 1013.2,3029.2 1014.0,3031.1 1014.8,3032.9 1015.7,3034.7 1016.5,3036.5 1017.3,3038.4 1018.1,3040.2 1018.9,3042.0 1019.7,3043.9 1020.5,3045.7 1021.3,3047.5 1022.1,3049.4 1022.8,3051.2 1023.6,3053.1 1024.4,3054.9 1025.2,3056.7 1026.0,3058.6 1026.7,3060.4 1027.5,3062.3 1028.3,3064.1 1029.0,3066.0 1029.8,3067.8 1030.6,3069.7 1031.3,3071.5 1032.1,3073.4 1032.8,3075.2 1033.6,3077.1 1034.3,3078.9 1035.1,3080.8 1035.8,3082.6 1036.6,3084.5 1037.4,3086.3 1038.1,3088.2 1038.9,3090.0 1039.7,3091.9 1040.4,3093.7 1041.2,3095.6 1042.0,3097.4 1042.8,3099.3 1043.6,3101.1 1044.4,3102.9 1045.2,3104.8 1046.0,3106.6 1046.8,3108.4 1047.6,3110.2 1048.4,3112.1 1049.2,3113.9 1050.1,3115.7 1050.9,3117.6 1051.7,3119.4 1052.5,3121.2 1053.4,3123.0 1054.2,3124.8 1055.0,3126.7 1055.9,3128.5 1056.7,3130.3 1057.6,3132.1 1058.4,3133.9 1059.3,3135.7 1060.1,3137.5 1061.0,3139.3 1061.8,3141.1 1062.7,3143.0 1063.5,3144.8 1064.4,3146.6 1065.3,3148.4 1066.2,3150.2 1067.0,3152.0 1067.9,3153.8 1068.8,3155.6 1069.7,3157.3 1070.6,3159.1 1071.5,3160.9 1072.4,3162.7 1073.3,3164.5 1074.2,3166.3 1075.1,3168.0 1076.0,3169.8 1077.0,3171.6 1077.9,3173.4 1078.8,3175.2 1079.7,3176.9 1080.6,3178.7 1081.5,3180.5 1082.4,3182.3 1083.4,3184.1 1084.3,3185.8 1085.2,3187.6 1086.1,3189.4 1086.9,3191.2 1087.8,3193.0 1088.7,3194.8 1089.6,3196.6 1090.4,3198.4 1091.3,3200.2 1092.2,3202.0 1093.0,3203.8 1093.8,3205.6 1094.7,3207.5 1095.5,3209.3 1096.3,3211.1 1097.2,3212.9 1098.0,3214.8 1098.8,3216.6 1099.6,3218.4 1100.4,3220.3 1101.2,3222.1 1102.0,3223.9 1102.8,3225.8 1103.6,3227.6 1104.4,3229.5 1105.2,3231.3 1106.0,3233.1 1106.8,3235.0 1107.6,3236.8 1108.4,3238.6 1109.2,3240.5 1110.0,3242.3 1110.8,3244.1 1111.6,3246.0 1112.5,3247.8 1113.3,3249.6 1114.1,3251.4 1115.0,3253.3 1115.8,3255.1 1116.6,3256.9 1117.5,3258.7 1118.3,3260.5 1119.2,3262.4 1120.0,3264.2 1120.9,3266.0 1121.7,3267.8 1122.6,3269.6 1123.5,3271.4 1124.3,3273.2 1125.2,3275.0 1126.0,3276.8 1126.9,3278.7 1127.8,3280.5 1128.7,3282.3 1129.5,3284.1 1130.4,3285.9 1131.3,3287.7 1132.2,3289.5 1133.1,3291.3 1134.0,3293.1 1134.9,3294.8 1135.8,3296.6 1136.7,3298.4 1137.6,3300.2 1138.5,3302.0 1139.4,3303.8 1140.3,3305.6 1141.2,3307.4 1142.1,3309.1 1143.0,3310.9 1144.0,3312.7 1144.9,3314.5 1145.8,3316.3 1146.8,3318.0 1147.7,3319.8 1148.6,3321.6 1149.6,3323.4 1150.5,3325.1 1151.4,3326.9 1152.4,3328.7 1153.3,3330.4 1154.3,3332.2 1155.2,3334.0 1156.2,3335.7 1157.1,3337.5 1158.1,3339.3 1159.0,3341.0 1159.9,3342.8 1160.9,3344.6 1161.8,3346.4 1162.8,3348.1 1163.7,3349.9 1164.6,3351.7 1165.6,3353.4 1166.5,3355.2 1167.4,3357.0 1168.4,3358.8 1169.3,3360.5 1170.2,3362.3 1171.1,3364.1 1172.1,3365.9 1173.0,3367.7 1173.9,3369.4 1174.8,3371.2 1175.7,3373.0 1176.7,3374.8 1177.6,3376.6 1178.5,3378.3 1179.5,3380.1 1180.4,3381.9 1181.4,3383.6 1182.3,3385.4 1183.3,3387.2 1184.2,3388.9 1185.2,3390.7 1186.2,3392.4 1187.2,3394.2 1188.2,3395.9 1189.2,3397.6 1190.2,3399.3 1191.3,3401.1 1192.3,3402.8 1193.4,3404.5 1194.4,3406.2 1195.5,3407.9 1196.6,3409.6 1197.6,3411.3 1198.7,3413.0 1199.8,3414.6 1200.9,3416.3 1202.0,3418.0 1203.1,3419.7 1204.2,3421.3 1205.4,3423.0 1206.5,3424.6 1207.6,3426.3 1208.8,3427.9 1209.9,3429.5 1211.1,3431.1 1212.3,3432.7 1213.5,3434.3 1214.7,3435.9 1215.9,3437.5 1217.2,3439.1 1218.4,3440.6 1219.7,3442.2 1221.0,3443.7 1222.3,3445.2 1223.6,3446.8 1224.9,3448.3 1226.2,3449.7 1227.6,3451.2 1229.0,3452.7 1230.3,3454.1 1231.7,3455.6 1233.1,3457.0 1234.5,3458.4 1235.9,3459.9 1237.3,3461.3 1238.7,3462.7 1240.2,3464.1 1241.6,3465.5 1243.0,3466.9 1244.5,3468.3 1245.9,3469.7 1247.4,3471.0 1248.8,3472.4 1250.3,3473.8 1251.7,3475.1 1253.2,3476.5 1254.7,3477.8 1256.2,3479.1 1257.7,3480.4 1259.2,3481.7 1260.8,3483.0 1262.3,3484.3 1263.8,3485.6 1265.4,3486.8 1267.0,3488.1 1268.5,3489.3 1270.1,3490.5 1271.7,3491.7 1273.4,3492.9 1275.0,3494.0 1276.7,3495.1 1278.3,3496.2 1280.0,3497.3 1281.7,3498.4 1283.4,3499.4 1285.1,3500.4 1286.9,3501.4 1288.6,3502.3 1290.4,3503.2 1292.2,3504.2 1293.9,3505.1 1295.7,3506.0 1297.5,3506.8 1299.3,3507.7 1301.1,3508.6 1302.9,3509.4 1304.8,3510.3 1306.6,3511.1 1308.4,3512.0 1310.2,3512.8 1312.0,3513.7 1313.8,3514.6 1315.6,3515.4 1317.4,3516.3 1319.2,3517.1 1321.0,3518.0 1322.8,3518.8 1324.6,3519.7 1326.4,3520.6 1328.3,3521.4 1330.1,3522.3 1331.9,3523.1 1333.7,3524.0 1335.5,3524.8 1337.3,3525.7 1339.1,3526.6 1340.9,3527.4 1342.7,3528.3 1344.5,3529.1 1346.3,3530.0 1348.1,3530.9 1349.9,3531.7 1351.7,3532.6 1353.5,3533.5 1355.3,3534.3 1357.2,3535.2 1359.0,3536.0 1360.8,3536.9 1362.6,3537.8 1364.4,3538.6 1366.2,3539.4 1368.0,3540.3 1369.8,3541.1 1371.7,3541.9 1373.5,3542.7 1375.4,3543.4 1377.2,3544.2 1379.1,3544.9 1381.0,3545.6 1382.8,3546.2 1384.7,3546.9 1386.6,3547.5 1388.5,3548.1 1390.4,3548.7 1392.4,3549.2 1394.3,3549.8 1396.2,3550.3 1398.1,3550.8 1400.1,3551.2 1402.0,3551.7 1404.0,3552.1 1405.9,3552.5 1407.9,3552.9 1409.9,3553.3 1411.8,3553.7 1413.8,3554.1 1415.7,3554.5 1417.7,3554.9 1419.7,3555.3 1421.6,3555.7 1423.6,3556.1 1425.5,3556.6 1427.5,3557.0 1429.4,3557.5 1431.3,3558.0 1433.2,3558.6 1435.2,3559.2 1437.1,3559.8 1439.0,3560.4 1440.9,3561.0 1442.7,3561.7 1444.6,3562.4 1446.5,3563.1 1448.4,3563.8 1450.2,3564.5 1452.1,3565.2 1453.9,3566.0 1455.8,3566.8 1457.6,3567.6 1459.4,3568.4 1461.3,3569.2 1463.1,3570.0 1464.9,3570.8 1466.8,3571.6 1468.6,3572.4 1470.4,3573.3 1472.2,3574.1 1474.0,3575.0 1475.8,3575.8 1477.6,3576.7 1479.4,3577.5 1481.3,3578.4 1483.1,3579.3 1484.9,3580.1 1486.6,3581.0 1488.4,3581.9 1490.2,3582.8 1492.0,3583.7 1493.8,3584.6 1495.6,3585.5 1497.3,3586.4 1499.1,3587.4 1500.9,3588.3 1502.7,3589.2 1504.4,3590.2 1506.2,3591.1 1508.0,3592.1 1509.7,3593.0 1511.5,3593.9 1513.2,3594.9 1515.0,3595.8 1516.8,3596.8 1518.5,3597.7 1520.3,3598.7 1522.1,3599.6 1523.8,3600.6 1525.6,3601.5 1527.4,3602.5 1529.1,3603.4 1530.9,3604.3 1532.7,3605.3 1534.4,3606.2 1536.2,3607.1 1538.0,3608.0 1539.8,3609.0 1541.5,3609.9 1543.3,3610.8 1545.1,3611.7 1546.9,3612.7 1548.6,3613.6 1550.4,3614.5 1552.2,3615.4 1553.9,3616.4 1555.7,3617.3 1557.5,3618.2 1559.3,3619.1 1561.0,3620.1 1562.8,3621.0 1564.6,3621.9 1566.3,3622.9 1568.1,3623.8 1569.9,3624.8 1571.6,3625.7 1573.4,3626.7 1575.2,3627.6 1576.9,3628.6 1578.7,3629.5 1580.4,3630.5 1582.2,3631.5 1583.9,3632.5 1585.6,3633.4 1587.4,3634.4 1589.1,3635.4 1590.9,3636.4 1592.6,3637.4 1594.3,3638.4 1596.0,3639.4 1597.8,3640.5 1599.5,3641.5 1601.2,3642.5 1602.9,3643.5 1604.7,3644.5 1606.4,3645.5 1608.1,3646.5 1609.8,3647.6 1611.6,3648.6 1613.3,3649.6 1615.0,3650.6 1616.7,3651.6 1618.5,3652.6 1620.2,3653.6 1621.9,3654.6 1623.7,3655.6 1625.4,3656.6 1627.2,3657.6 1628.9,3658.6 1630.6,3659.5 1632.4,3660.5 1634.2,3661.4 1635.9,3662.4 1637.7,3663.3 1639.5,3664.2 1641.2,3665.2 1643.0,3666.1 1644.8,3667.0 1646.6,3667.9 1648.4,3668.8 1650.2,3669.7 1651.9,3670.6 1653.7,3671.5 1655.5,3672.4 1657.3,3673.3 1659.1,3674.2 1660.8,3675.2 1662.6,3676.1 1664.4,3677.0 1666.2,3678.0 1667.9,3678.9 1669.7,3679.9 1671.4,3680.8 1673.1,3681.8 1674.9,3682.9 1676.6,3683.9 1678.3,3684.9 1680.0,3686.0 1681.6,3687.1 1683.3,3688.2 1684.9,3689.3 1686.6,3690.5 1688.2,3691.7 1689.8,3692.9 1691.4,3694.1 1692.9,3695.3 1694.5,3696.5 1696.1,3697.8 1697.6,3699.1 1699.2,3700.3 1700.7,3701.6" fill="none" stroke="#800000" stroke-width="3.0" stroke-linejoin="round" stroke-linecap="butt"/>
<polyline points="247.0,3235.0 249.8,3236.0 252.7,3237.0 255.5,3238.0 258.3,3239.0 261.1,3240.0 264.0,3241.0 266.8,3241.9 269.7,3242.9 272.5,3243.8 275.4,3244.7 278.2,3245.6 281.1,3246.5 284.0,3247.4 286.9,3248.2 289.8,3249.0 292.7,3249.8 295.6,3250.6 298.5,3251.3 301.4,3252.0 304.3,3252.8 307.2,3253.5 310.1,3254.2 313.0,3254.8 316.0,3255.5 318.9,3256.2 321.8,3256.9 324.7,3257.5 327.7,3258.2 330.6,3258.8 333.5,3259.5 336.5,3260.1 339.4,3260.8 342.3,3261.4 345.3,3262.0 348.2,3262.6 351.1,3263.2 354.1,3263.8 357.0,3264.4 360.0,3264.9 362.9,3265.5 365.9,3266.0 368.8,3266.6 371.8,3267.1 374.8,3267.6 377.7,3268.0 380.7,3268.5 383.6,3269.0 386.6,3269.4 389.6,3269.8 392.6,3270.2 395.5,3270.6 398.5,3271.0 401.5,3271.3 404.5,3271.7 407.5,3272.0 410.4,3272.4 413.4,3272.7 416.4,3273.1 419.4,3273.4 422.4,3273.7 425.3,3274.1 428.3,3274.4 431.3,3274.7 434.3,3275.0 437.3,3275.4 440.3,3275.7 443.3,3275.9 446.2,3276.2 449.2,3276.5 452.2,3276.7 455.2,3277.0 458.2,3277.2 461.2,3277.4 464.2,3277.6 467.2,3277.8 470.2,3277.9 473.2,3278.1 476.2,3278.2 479.2,3278.3 482.2,3278.3 485.2,3278.3 488.2,3278.3 491.2,3278.3 494.2,3278.3 497.2,3278.2 500.2,3278.0 503.2,3277.8 506.1,3277.6 509.1,3277.4 512.1,3277.1 515.1,3276.7 518.1,3276.4 521.1,3276.0 524.0,3275.6 527.0,3275.2 530.0,3274.8 532.9,3274.4 535.9,3274.0 538.9,3273.6 541.9,3273.1 544.8,3272.6 547.8,3272.2 550.7,3271.6 553.7,3271.1 556.6,3270.5 559.6,3269.9 562.5,3269.2 565.4,3268.5 568.3,3267.7 571.1,3266.9 574.0,3266.0 576.8,3265.0 579.6,3263.9 582.4,3262.8 585.1,3261.6 587.8,3260.4 590.5,3259.1 593.2,3257.7 595.9,3256.3 598.5,3254.9 601.1,3253.4 603.7,3251.9 606.3,3250.3 608.8,3248.7 611.3,3247.1 613.7,3245.3 616.1,3243.6 618.5,3241.7 620.8,3239.8 623.1,3237.9 625.4,3236.0 627.6,3234.0 629.9,3232.0 632.1,3230.0 634.4,3228.0 636.6,3226.1 638.9,3224.1 641.2,3222.2 643.5,3220.2 645.8,3218.3 648.2,3216.5 650.5,3214.6 652.8,3212.7 655.1,3210.8 657.4,3208.9 659.7,3206.9 661.9,3204.9 664.1,3202.8 666.2,3200.7 668.2,3198.5 670.2,3196.3 672.1,3194.0 673.9,3191.6 675.7,3189.2 677.4,3186.8 679.0,3184.3 680.6,3181.7 682.1,3179.1 683.6,3176.5 685.1,3173.9 686.5,3171.3 688.0,3168.7 689.4,3166.0 690.8,3163.4 692.2,3160.7 693.6,3158.1 695.0,3155.4 696.4,3152.8 697.9,3150.1 699.3,3147.5 700.7,3144.8 702.1,3142.2 703.5,3139.6 704.9,3136.9 706.4,3134.3 707.8,3131.6 709.1,3128.9 710.5,3126.3 711.9,3123.6 713.3,3120.9 714.6,3118.3 715.9,3115.6 717.3,3112.9 718.6,3110.2 719.9,3107.5 721.2,3104.8 722.4,3102.0 723.7,3099.3 724.9,3096.6 726.2,3093.9 727.4,3091.1 728.6,3088.4 729.7,3085.6 730.9,3082.8 732.1,3080.1 733.2,3077.3 734.4,3074.5 735.5,3071.7 736.6,3069.0 737.8,3066.2 738.9,3063.4 740.1,3060.6 741.2,3057.9 742.4,3055.1 743.6,3052.3 744.7,3049.6 745.9,3046.8 747.1,3044.1 748.3,3041.3 749.5,3038.6 750.7,3035.8 751.9,3033.1 753.1,3030.3 754.3,3027.6 755.5,3024.8 756.7,3022.1 758.0,3019.3 759.2,3016.6 760.4,3013.8 761.6,3011.1 762.9,3008.4 764.1,3005.6 765.3,3002.9 766.5,3000.1 767.8,2997.4 769.0,2994.7 770.2,2991.9 771.4,2989.2 772.6,2986.4 773.9,2983.7 775.1,2981.0 776.3,2978.2 777.6,2975.5 778.8,2972.8 780.0,2970.0 781.3,2967.3 782.5,2964.6 783.8,2961.9 785.1,2959.1 786.4,2956.4 787.7,2953.7 789.0,2951.0 790.3,2948.3 791.6,2945.6 792.9,2942.9 794.2,2940.2 795.5,2937.5 796.8,2934.8 798.2,2932.1 799.5,2929.4 800.8,2926.7 802.2,2924.1 803.5,2921.4 804.8,2918.7 806.2,2916.0 807.5,2913.3 808.9,2910.7 810.3,2908.0 811.7,2905.3 813.1,2902.7 814.5,2900.0 815.9,2897.4 817.3,2894.7 818.8,2892.1 820.2,2889.5 821.7,2886.9 823.3,2884.3 824.8,2881.7 826.4,2879.2 828.0,2876.7 829.6,2874.1 831.3,2871.7 833.0,2869.2 834.8,2866.8 836.7,2864.5 838.6,2862.3 840.7,2860.2 842.8,2858.2 845.1,2856.3 847.4,2854.5 849.9,2853.0 852.5,2851.5 855.1,2850.2 857.8,2849.1 860.6,2848.1 863.5,2847.2 866.3,2846.5 869.2,2846.0 872.1,2845.7 875.0,2845.5 878.0,2845.6 880.9,2845.8 883.8,2846.2 886.7,2846.8 889.5,2847.6 892.3,2848.5 895.0,2849.6 897.7,2850.8 900.3,2852.2 902.9,2853.7 905.4,2855.4 907.7,2857.1 910.0,2859.0 912.3,2861.0 914.4,2863.0 916.5,2865.2 918.5,2867.4 920.4,2869.7 922.3,2872.0 924.2,2874.3 926.0,2876.7 927.7,2879.1 929.5,2881.6 931.2,2884.0 932.9,2886.5 934.6,2889.0 936.2,2891.5 937.9,2894.0 939.5,2896.5 941.1,2899.1 942.7,2901.6 944.2,2904.2 945.8,2906.7 947.3,2909.3 948.9,2911.9 950.4,2914.5 952.0,2917.0 953.5,2919.6 955.0,2922.2 956.5,2924.8 958.1,2927.4 959.6,2930.0 961.1,2932.5 962.6,2935.1 964.2,2937.7 965.7,2940.3 967.2,2942.9 968.7,2945.5 970.3,2948.0 971.8,2950.6 973.3,2953.2 974.9,2955.8 976.4,2958.4 977.9,2960.9 979.5,2963.5 981.0,2966.1 982.5,2968.7 984.0,2971.3 985.5,2973.9 987.0,2976.5 988.5,2979.1 990.0,2981.7 991.4,2984.3 992.9,2987.0 994.3,2989.6 995.7,2992.3 997.1,2994.9 998.5,2997.6 999.9,3000.2 1001.3,3002.9 1002.6,3005.6 1003.9,3008.3 1005.2,3011.0 1006.5,3013.7 1007.8,3016.4 1009.1,3019.1 1010.3,3021.8 1011.6,3024.6 1012.8,3027.3 1014.0,3030.1 1015.2,3032.8 1016.5,3035.5 1017.7,3038.3 1018.9,3041.0 1020.1,3043.8 1021.3,3046.5 1022.5,3049.3 1023.6,3052.1 1024.8,3054.8 1026.0,3057.6 1027.1,3060.4 1028.3,3063.1 1029.4,3065.9 1030.6,3068.7 1031.7,3071.5 1032.8,3074.2 1034.0,3077.0 1035.1,3079.8 1036.2,3082.6 1037.4,3085.3 1038.5,3088.1 1039.7,3090.9 1040.8,3093.7 1042.0,3096.4 1043.2,3099.2 1044.4,3101.9 1045.6,3104.7 1046.8,3107.4 1048.0,3110.2 1049.2,3112.9 1050.5,3115.6 1051.7,3118.4 1053.0,3121.1 1054.2,3123.8 1055.5,3126.6 1056.7,3129.3 1058.0,3132.0 1059.3,3134.7 1060.5,3137.4 1061.8,3140.1 1063.1,3142.9 1064.4,3145.6 1065.7,3148.3 1067.0,3151.0 1068.4,3153.7 1069.7,3156.3 1071.0,3159.0 1072.4,3161.7 1073.8,3164.4 1075.1,3167.0 1076.5,3169.7 1077.9,3172.4 1079.2,3175.1 1080.6,3177.7 1082.0,3180.4 1083.4,3183.1 1084.7,3185.7 1086.1,3188.4 1087.4,3191.1 1088.7,3193.8 1090.0,3196.5 1091.3,3199.2 1092.6,3201.9 1093.8,3204.6 1095.1,3207.4 1096.3,3210.1 1097.6,3212.9 1098.8,3215.6 1100.0,3218.3 1101.2,3221.1 1102.4,3223.8 1103.6,3226.6 1104.8,3229.3 1106.0,3232.1 1107.2,3234.8 1108.4,3237.6 1109.6,3240.3 1110.8,3243.1 1112.1,3245.8 1113.3,3248.6 1114.5,3251.3 1115.8,3254.0 1117.1,3256.7 1118.3,3259.4 1119.6,3262.2 1120.9,3264.9 1122.2,3267.6 1123.5,3270.3 1124.7,3273.0 1126.0,3275.7 1127.4,3278.4 1128.7,3281.1 1130.0,3283.8 1131.3,3286.5 1132.6,3289.2 1134.0,3291.9 1135.3,3294.6 1136.7,3297.2 1138.0,3299.9 1139.4,3302.6 1140.7,3305.3 1142.1,3307.9 1143.5,3310.6 1144.9,3313.3 1146.3,3315.9 1147.7,3318.6 1149.1,3321.2 1150.5,3323.9 1151.9,3326.5 1153.3,3329.2 1154.7,3331.8 1156.2,3334.5 1157.6,3337.1 1159.0,3339.7 1160.4,3342.4 1161.8,3345.0 1163.2,3347.7 1164.6,3350.3 1166.0,3353.0 1167.4,3355.7 1168.8,3358.3 1170.2,3361.0 1171.6,3363.6 1173.0,3366.3 1174.4,3369.0 1175.7,3371.6 1177.1,3374.3 1178.5,3376.9 1179.9,3379.6 1181.4,3382.2 1182.8,3384.9 1184.2,3387.5 1185.7,3390.1 1187.2,3392.7 1188.7,3395.3 1190.2,3397.9 1191.8,3400.5 1193.4,3403.0 1195.0,3405.6 1196.6,3408.1 1198.2,3410.6 1199.8,3413.1 1201.5,3415.7 1203.1,3418.2 1204.8,3420.6 1206.5,3423.1 1208.2,3425.6 1209.9,3428.0 1211.7,3430.4 1213.5,3432.8 1215.3,3435.2 1217.2,3437.6 1219.1,3439.9 1221.0,3442.2 1222.9,3444.5 1224.9,3446.8 1226.9,3449.0 1229.0,3451.2 1231.0,3453.3 1233.1,3455.5 1235.2,3457.6 1237.3,3459.8 1239.4,3461.9 1241.6,3464.0 1243.7,3466.1 1245.9,3468.2 1248.1,3470.2 1250.3,3472.3 1252.5,3474.3 1254.7,3476.3 1257.0,3478.3 1259.2,3480.2 1261.5,3482.2 1263.8,3484.1 1266.2,3486.0 1268.5,3487.8 1270.9,3489.6 1273.4,3491.4 1275.8,3493.1 1278.3,3494.7 1280.8,3496.3 1283.4,3497.9 1286.0,3499.4 1288.6,3500.8 1291.3,3502.2 1293.9,3503.6 1296.6,3504.9 1299.3,3506.2 1302.0,3507.5 1304.8,3508.8 1307.5,3510.1 1310.2,3511.3 1312.9,3512.6 1315.6,3513.9 1318.3,3515.2 1321.0,3516.5 1323.7,3517.8 1326.4,3519.1 1329.2,3520.4 1331.9,3521.6 1334.6,3522.9 1337.3,3524.2 1340.0,3525.5 1342.7,3526.8 1345.4,3528.1 1348.1,3529.4 1350.8,3530.7 1353.5,3532.0 1356.3,3533.2 1359.0,3534.5 1361.7,3535.8 1364.4,3537.1 1367.1,3538.4 1369.8,3539.6 1372.6,3540.8 1375.4,3541.9 1378.1,3543.0 1381.0,3544.1 1383.8,3545.1 1386.6,3546.0 1389.5,3546.9 1392.4,3547.7 1395.2,3548.5 1398.1,3549.3 1401.1,3550.0 1404.0,3550.6 1406.9,3551.2 1409.9,3551.8 1412.8,3552.4 1415.7,3553.0 1418.7,3553.6 1421.6,3554.2 1424.5,3554.8 1427.5,3555.5 1430.4,3556.3 1433.2,3557.1 1436.1,3558.0 1439.0,3558.9 1441.8,3559.8 1444.6,3560.9 1447.4,3561.9 1450.2,3563.0 1453.0,3564.1 1455.8,3565.3 1458.5,3566.5 1461.3,3567.7 1464.0,3568.9 1466.8,3570.1 1469.5,3571.4 1472.2,3572.6 1474.9,3573.9 1477.6,3575.2 1480.3,3576.4 1483.1,3577.8 1485.7,3579.1 1488.4,3580.4 1491.1,3581.7 1493.8,3583.1 1496.5,3584.5 1499.1,3585.9 1501.8,3587.3 1504.4,3588.7 1507.1,3590.1 1509.7,3591.5 1512.4,3592.9 1515.0,3594.3 1517.6,3595.8 1520.3,3597.2 1522.9,3598.6 1525.6,3600.0 1528.2,3601.4 1530.9,3602.8 1533.5,3604.2 1536.2,3605.6 1538.9,3607.0 1541.5,3608.4 1544.2,3609.8 1546.9,3611.2 1549.5,3612.5 1552.2,3613.9 1554.8,3615.3 1557.5,3616.7 1560.2,3618.1 1562.8,3619.5 1565.5,3620.9 1568.1,3622.3 1570.8,3623.7 1573.4,3625.2 1576.0,3626.6 1578.7,3628.0 1581.3,3629.5 1583.9,3631.0 1586.5,3632.4 1589.1,3633.9 1591.7,3635.4 1594.3,3636.9 1596.9,3638.4 1599.5,3640.0 1602.1,3641.5 1604.7,3643.0 1607.2,3644.5 1609.8,3646.1 1612.4,3647.6 1615.0,3649.1 1617.6,3650.6 1620.2,3652.1 1622.8,3653.6 1625.4,3655.1 1628.0,3656.6 1630.6,3658.0 1633.3,3659.5 1635.9,3660.9 1638.6,3662.3 1641.2,3663.7 1643.9,3665.0 1646.6,3666.4 1649.3,3667.8 1651.9,3669.1 1654.6,3670.5 1657.3,3671.8 1660.0,3673.2 1662.6,3674.6 1665.3,3676.0 1667.9,3677.4 1670.5,3678.9 1673.1,3680.3 1675.7,3681.9 1678.3,3683.4 1680.8,3685.0 1683.3,3686.7 1685.7,3688.4 1688.2,3690.2 1690.6,3692.0 1692.9,3693.8 1695.3,3695.7 1697.6,3697.6 1699.9,3699.5 1700.7,3700.1" fill="none" stroke="#FF0080" stroke-width="3.0" stroke-linejoin="round" stroke-linecap="butt"/>
<line x1="1320" y1="2841.9" x2="1467.5" y2="2841.9" stroke="#000000" stroke-width="2.4"/>
<text transform="translate(1482.50,2864.40) scale(0.96,1)" font-size="67.0" text-anchor="start">1 min</text>
<line x1="1320" y1="2921.0" x2="1467.5" y2="2921.0" stroke="#FF0000" stroke-width="2.4"/>
<text transform="translate(1482.50,2943.47) scale(0.96,1)" font-size="67.0" text-anchor="start">5min</text>
<line x1="1320" y1="3000.0" x2="1467.5" y2="3000.0" stroke="#0000FF" stroke-width="2.4"/>
<text transform="translate(1482.50,3022.54) scale(0.96,1)" font-size="67.0" text-anchor="start">10min</text>
<line x1="1320" y1="3079.1" x2="1467.5" y2="3079.1" stroke="#008080" stroke-width="2.4"/>
<text transform="translate(1482.50,3101.61) scale(0.96,1)" font-size="67.0" text-anchor="start">15min</text>
<line x1="1320" y1="3158.2" x2="1467.5" y2="3158.2" stroke="#FF00FF" stroke-width="2.4"/>
<text transform="translate(1482.50,3180.68) scale(0.96,1)" font-size="67.0" text-anchor="start">30min</text>
<line x1="1320" y1="3237.2" x2="1467.5" y2="3237.2" stroke="#808000" stroke-width="2.4"/>
<text transform="translate(1482.50,3259.75) scale(0.96,1)" font-size="67.0" text-anchor="start">60min</text>
<line x1="1320" y1="3316.3" x2="1467.5" y2="3316.3" stroke="#000080" stroke-width="2.4"/>
<text transform="translate(1482.50,3338.82) scale(0.96,1)" font-size="67.0" text-anchor="start">120min</text>
<line x1="1320" y1="3395.4" x2="1467.5" y2="3395.4" stroke="#800000" stroke-width="2.4"/>
<text transform="translate(1482.50,3417.89) scale(0.96,1)" font-size="67.0" text-anchor="start">180min</text>
<line x1="1320" y1="3474.5" x2="1467.5" y2="3474.5" stroke="#FF0080" stroke-width="2.4"/>
<text transform="translate(1482.50,3496.96) scale(0.96,1)" font-size="67.0" text-anchor="start">240min</text>
<line x1="875.6" y1="2803" x2="875.6" y2="3429.2" stroke="#000" stroke-width="3.0"/>
<text transform="translate(783.80,3515.20) scale(0.96,1)" font-size="67.0" text-anchor="start">530 nm</text>
<text transform="translate(299.00,2958.20) scale(1.0,1)" font-size="165" text-anchor="start" font-weight="bold">c</text>
<rect x="247.5" y="2802.6" width="1456.1" height="1069.8000000000002" fill="none" stroke="#000" stroke-width="5"/>
<line x1="247.50" y1="3872.4" x2="247.50" y2="3895.4" stroke="#000" stroke-width="5"/>
<line x1="368.84" y1="3872.4" x2="368.84" y2="3884.4" stroke="#000" stroke-width="5"/>
<line x1="490.18" y1="3872.4" x2="490.18" y2="3895.4" stroke="#000" stroke-width="5"/>
<line x1="611.52" y1="3872.4" x2="611.52" y2="3884.4" stroke="#000" stroke-width="5"/>
<line x1="732.87" y1="3872.4" x2="732.87" y2="3895.4" stroke="#000" stroke-width="5"/>
<line x1="854.21" y1="3872.4" x2="854.21" y2="3884.4" stroke="#000" stroke-width="5"/>
<line x1="975.55" y1="3872.4" x2="975.55" y2="3895.4" stroke="#000" stroke-width="5"/>
<line x1="1096.89" y1="3872.4" x2="1096.89" y2="3884.4" stroke="#000" stroke-width="5"/>
<line x1="1218.23" y1="3872.4" x2="1218.23" y2="3895.4" stroke="#000" stroke-width="5"/>
<line x1="1339.58" y1="3872.4" x2="1339.58" y2="3884.4" stroke="#000" stroke-width="5"/>
<line x1="1460.92" y1="3872.4" x2="1460.92" y2="3895.4" stroke="#000" stroke-width="5"/>
<line x1="1582.26" y1="3872.4" x2="1582.26" y2="3884.4" stroke="#000" stroke-width="5"/>
<line x1="1703.60" y1="3872.4" x2="1703.60" y2="3895.4" stroke="#000" stroke-width="5"/>
<text transform="translate(247.50,3954.00) scale(0.96,1)" font-size="67.0" text-anchor="middle">400</text>
<text transform="translate(490.18,3954.00) scale(0.96,1)" font-size="67.0" text-anchor="middle">450</text>
<text transform="translate(732.87,3954.00) scale(0.96,1)" font-size="67.0" text-anchor="middle">500</text>
<text transform="translate(975.55,3954.00) scale(0.96,1)" font-size="67.0" text-anchor="middle">550</text>
<text transform="translate(1218.23,3954.00) scale(0.96,1)" font-size="67.0" text-anchor="middle">600</text>
<text transform="translate(1460.92,3954.00) scale(0.96,1)" font-size="67.0" text-anchor="middle">650</text>
<text transform="translate(1703.60,3954.00) scale(0.96,1)" font-size="67.0" text-anchor="middle">700</text>
<line x1="224.5" y1="3872.40" x2="247.5" y2="3872.40" stroke="#000" stroke-width="5"/>
<text transform="translate(224.00,3891.80) scale(0.96,1)" font-size="67.0" text-anchor="end">0.0</text>
<line x1="235.5" y1="3765.42" x2="247.5" y2="3765.42" stroke="#000" stroke-width="5"/>
<line x1="224.5" y1="3658.44" x2="247.5" y2="3658.44" stroke="#000" stroke-width="5"/>
<text transform="translate(224.00,3677.84) scale(0.96,1)" font-size="67.0" text-anchor="end">0.2</text>
<line x1="235.5" y1="3551.46" x2="247.5" y2="3551.46" stroke="#000" stroke-width="5"/>
<line x1="224.5" y1="3444.48" x2="247.5" y2="3444.48" stroke="#000" stroke-width="5"/>
<text transform="translate(224.00,3463.88) scale(0.96,1)" font-size="67.0" text-anchor="end">0.4</text>
<line x1="235.5" y1="3337.50" x2="247.5" y2="3337.50" stroke="#000" stroke-width="5"/>
<line x1="224.5" y1="3230.52" x2="247.5" y2="3230.52" stroke="#000" stroke-width="5"/>
<text transform="translate(224.00,3249.92) scale(0.96,1)" font-size="67.0" text-anchor="end">0.6</text>
<line x1="235.5" y1="3123.54" x2="247.5" y2="3123.54" stroke="#000" stroke-width="5"/>
<line x1="224.5" y1="3016.56" x2="247.5" y2="3016.56" stroke="#000" stroke-width="5"/>
<text transform="translate(224.00,3035.96) scale(0.96,1)" font-size="67.0" text-anchor="end">0.8</text>
<line x1="235.5" y1="2909.58" x2="247.5" y2="2909.58" stroke="#000" stroke-width="5"/>
<line x1="224.5" y1="2802.60" x2="247.5" y2="2802.60" stroke="#000" stroke-width="5"/>
<text transform="translate(224.00,2822.00) scale(0.96,1)" font-size="67.0" text-anchor="end">1.0</text>
<text transform="translate(128.90,3338.35) rotate(-90) scale(0.975,1)" font-size="67.0" text-anchor="middle">Absorbance</text>
<text transform="translate(977.50,4016.50) scale(0.965,1)" font-size="67.0" text-anchor="middle">Wavelenght (nm)</text>
</svg>
</body></html>
